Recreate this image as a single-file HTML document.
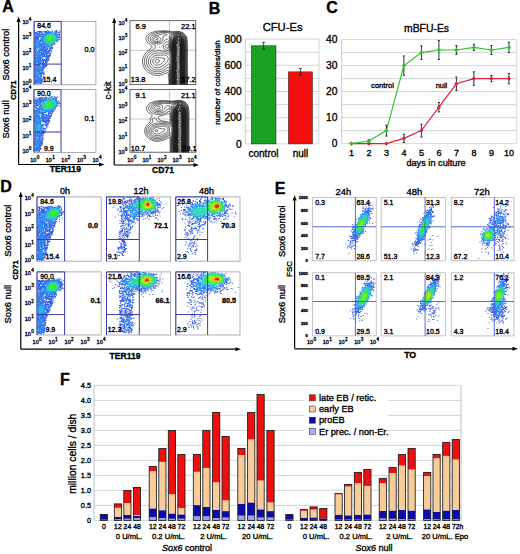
<!DOCTYPE html>
<html><head><meta charset="utf-8"><style>
html,body{margin:0;padding:0;background:#fff;overflow:hidden;width:520px;height:554px;}
svg{display:block;font-family:"Liberation Sans", sans-serif;}
text{stroke:#000;stroke-width:0.34px;}
</style></head><body>
<svg width="520" height="554" viewBox="0 0 520 554">
<defs><filter id="bl" x="-5%" y="-5%" width="110%" height="110%"><feGaussianBlur stdDeviation="0.35"/></filter></defs>
<rect width="520" height="554" fill="#fff"/>
<text x="2.2" y="11.9" font-size="16" font-weight="bold" fill="#000">A</text>
<line x1="18.6" y1="20.6" x2="18.6" y2="164.5" stroke="#000" stroke-width="1.2"/>
<path d="M18.6 16.6 L16.6 22.1 L20.6 22.1Z" fill="#000"/>
<line x1="18.6" y1="164.5" x2="100.5" y2="164.5" stroke="#000" stroke-width="1.2"/>
<path d="M104.5 164.5 L99.0 162.5 L99.0 166.5Z" fill="#000"/>
<text x="8.9" y="54.6" font-size="9.3" text-anchor="middle" transform="rotate(-90 8.9 54.6)">Sox6 control</text>
<text x="9.1" y="119.4" font-size="9.3" text-anchor="middle" transform="rotate(-90 9.1 119.4)">Sox6 null</text>
<text x="16.2" y="90.2" font-size="7.6" font-weight="bold" text-anchor="middle" fill="#000" transform="rotate(-90 16.2 90.2)">CD71</text>
<text x="65.4" y="172.3" font-size="8.6" font-weight="bold" text-anchor="middle" fill="#000">TER119</text>
<g filter="url(#bl)">
<path transform="scale(0.5)" d="M69 62h0m50 0h0m1 2h0m-1 2h0" stroke="rgb(85, 115, 236)" stroke-width="2.4" stroke-linecap="square" fill="none"/>
<path transform="scale(0.5)" d="M104 62h0m13 3h0m2 4h0m0 2h0m0 8h0m-3 3h0m-12 15h0m0 1h0m0 0h0m-1 5h0m-2 4h0m-1 2h0m0 2h0m-6 18h0m-1 2h0m-1 1h0m-3 12h0m-2 9h0m0 1h0m-3 11h0" stroke="rgb(68, 102, 234)" stroke-width="2.4" stroke-linecap="square" fill="none"/>
<path transform="scale(0.5)" d="M113 61h0m-18 1h0m17 0h0m-36 1h0m2 0h0m5 0h0m1 0h0m4 0h0m0 0h0m1 0h0m24 0h0m-29 1h0m6 0h0m-6 1h0m33 3h0m1 7h0m1 0h0m1 0h0m-15 20h0m-1 2h0m-6 4h0m2 0h0m0 0h0m2 0h0m0 3h0m-3 2h0m0 1h0m1 0h0m0 4h0m0 0h0m-1 2h0m-1 5h0m-1 1h0m-2 2h0m2 0h0m-6 4h0m1 0h0m1 1h0m-3 3h0m1 2h0m0 1h0m1 0h0m0 1h0m-3 3h0m-3 10h0m1 0h0m0 1h0m1 0h0m-1 1h0m0 1h0m1 0h0m-3 9h0m0 0h0m1 0h0m0 1h0m-1 2h0m0 1h0m-2 3h0m0 1h0m-12 1h0m0 0h0m0 0h0m4 0h0m5 0h0m2 0h0" stroke="rgb(51, 90, 232)" stroke-width="2.4" stroke-linecap="square" fill="none"/>
<path transform="scale(0.5)" d="M79 63h0m2 0h0m11 0h0m4 0h0m2 0h0m14 0h0m2 0h0m-35 1h0m0 0h0m1 0h0m1 0h0m1 0h0m9 0h0m2 0h0m5 0h0m3 0h0m3 0h0m1 0h0m4 0h0m1 0h0m0 0h0m1 0h0m2 0h0m0 0h0m-43 1h0m1 0h0m0 0h0m2 0h0m7 0h0m3 0h0m10 0h0m3 0h0m2 0h0m-24 1h0m0 0h0m1 0h0m1 0h0m0 0h0m3 0h0m1 0h0m-7 1h0m5 0h0m0 0h0m7 0h0m-14 1h0m13 0h0m-15 1h0m3 0h0m0 0h0m4 0h0m2 0h0m2 0h0m2 0h0m2 0h0m-5 1h0m4 0h0m-11 2h0m0 0h0m8 0h0m1 0h0m-10 1h0m1 0h0m5 0h0m2 0h0m3 0h0m36 0h0m-48 1h0m1 0h0m0 0h0m4 0h0m3 0h0m3 0h0m-8 1h0m1 0h0m2 0h0m42 0h0m-48 1h0m2 0h0m3 0h0m2 0h0m39 0h0m1 0h0m-46 2h0m6 0h0m0 0h0m0 0h0m-1 1h0m38 3h0m-1 1h0m-4 5h0m1 0h0m-4 1h0m-2 2h0m-1 3h0m-4 1h0m4 0h0m-8 1h0m1 0h0m6 0h0m0 0h0m0 0h0m-2 1h0m1 0h0m1 0h0m-9 1h0m1 0h0m0 0h0m1 0h0m4 0h0m2 0h0m1 0h0m-7 1h0m4 0h0m-6 1h0m0 2h0m4 0h0m-5 1h0m3 0h0m2 0h0m0 0h0m1 0h0m-5 1h0m1 1h0m4 0h0m0 0h0m-8 1h0m2 0h0m1 0h0m0 0h0m4 0h0m-6 1h0m4 0h0m0 0h0m-3 1h0m0 0h0m-3 1h0m4 0h0m-4 1h0m0 0h0m5 0h0m3 0h0m1 0h0m-10 1h0m9 0h0m-8 1h0m2 0h0m1 0h0m4 0h0m2 0h0m0 0h0m-11 1h0m2 0h0m1 0h0m6 0h0m-5 1h0m6 1h0m1 0h0m-13 1h0m-2 1h0m9 0h0m4 1h0m-11 1h0m1 0h0m3 0h0m4 0h0m0 0h0m-7 1h0m1 0h0m1 0h0m2 0h0m1 0h0m4 0h0m-1 1h0m2 0h0m-11 1h0m2 0h0m3 0h0m1 0h0m3 0h0m-8 1h0m5 0h0m1 0h0m2 0h0m0 0h0m-8 1h0m1 0h0m6 0h0m0 1h0m1 0h0m-8 1h0m0 0h0m1 0h0m-2 1h0m5 0h0m-3 1h0m-2 1h0m4 0h0m-3 2h0m1 0h0m-2 1h0m1 0h0m1 0h0m1 0h0m1 0h0m-3 1h0m1 0h0m0 1h0m0 0h0m2 0h0m-2 2h0m0 1h0m-1 1h0m-1 5h0m-1 1h0m1 0h0m-1 3h0m0 0h0m1 0h0m1 0h0m0 1h0m-3 4h0m-1 1h0m1 0h0m-1 1h0m0 7h0m1 0h0m0 0h0m1 1h0m0 0h0m-11 3h0m4 0h0m3 0h0m-9 1h0m2 0h0m3 0h0m0 0h0m2 0h0m-9 1h0" stroke="rgb(44, 94, 233)" stroke-width="2.4" stroke-linecap="square" fill="none"/>
<path transform="scale(0.5)" d="M90 65h0m1 0h0m1 0h0m22 0h0m-23 1h0m1 0h0m18 0h0m3 0h0m-41 1h0m1 0h0m3 0h0m17 0h0m18 0h0m-37 1h0m1 0h0m13 0h0m27 1h0m-40 1h0m0 0h0m41 0h0m-43 1h0m0 0h0m1 0h0m1 0h0m11 0h0m28 0h0m-40 1h0m2 0h0m8 0h0m2 0h0m0 0h0m28 0h0m-28 1h0m-2 1h0m-11 3h0m1 0h0m8 0h0m-6 1h0m8 0h0m0 0h0m-14 1h0m1 0h0m0 0h0m1 0h0m4 0h0m6 0h0m1 0h0m33 0h0m-46 1h0m4 0h0m3 0h0m1 0h0m0 0h0m4 0h0m0 0h0m33 0h0m1 0h0m-36 1h0m0 1h0m2 0h0m-2 1h0m1 0h0m5 2h0m-3 2h0m1 0h0m-1 1h0m-1 1h0m2 0h0m0 1h0m0 0h0m2 0h0m-3 1h0m2 0h0m4 0h0m-5 1h0m1 0h0m3 0h0m0 0h0m1 0h0m1 0h0m2 0h0m1 0h0m2 0h0m8 0h0m-17 1h0m0 0h0m0 0h0m10 0h0m0 0h0m1 0h0m-11 1h0m1 0h0m0 0h0m2 0h0m3 0h0m3 0h0m5 0h0m-17 1h0m3 0h0m6 0h0m0 0h0m-11 1h0m3 0h0m2 0h0m1 0h0m1 0h0m2 0h0m0 0h0m1 0h0m0 0h0m-22 1h0m2 0h0m12 0h0m4 0h0m-17 1h0m13 0h0m3 0h0m1 0h0m0 0h0m3 0h0m-8 1h0m2 0h0m4 0h0m4 0h0m-22 1h0m13 0h0m2 0h0m1 0h0m1 0h0m0 0h0m4 0h0m-8 1h0m2 0h0m1 0h0m1 0h0m3 0h0m1 0h0m-4 1h0m1 0h0m-5 1h0m1 0h0m5 0h0m-2 1h0m0 0h0m1 0h0m0 0h0m4 0h0m-9 1h0m0 0h0m8 0h0m1 0h0m-9 1h0m3 0h0m0 0h0m2 0h0m-4 1h0m1 0h0m3 0h0m-5 1h0m2 0h0m1 0h0m-1 1h0m1 0h0m2 0h0m-5 1h0m-1 1h0m4 0h0m8 0h0m1 0h0m-11 1h0m0 0h0m1 0h0m0 0h0m11 0h0m-11 1h0m1 0h0m7 0h0m0 1h0m1 0h0m1 0h0m0 0h0m-11 1h0m0 0h0m9 0h0m2 0h0m-12 1h0m0 0h0m10 0h0m3 0h0m-17 1h0m2 0h0m1 0h0m1 0h0m11 0h0m0 0h0m-13 1h0m12 0h0m-14 1h0m14 0h0m1 0h0m-13 1h0m-1 1h0m2 0h0m1 0h0m1 0h0m-2 1h0m-12 1h0m12 0h0m-12 1h0m11 0h0m-11 1h0m11 0h0m0 0h0m-10 1h0m12 0h0m-12 1h0m10 0h0m3 0h0m-13 2h0m0 0h0m3 0h0m-4 1h0m0 0h0m0 1h0m12 0h0m0 0h0m-11 1h0m0 0h0m0 0h0m-1 1h0m15 0h0m1 0h0m-2 1h0m-1 1h0m-13 1h0m15 0h0m0 0h0m-15 1h0m15 0h0m-1 1h0m1 0h0m1 0h0m-3 1h0m2 0h0m1 0h0m-2 1h0m1 0h0m1 0h0m-16 1h0m12 0h0m4 0h0m-16 1h0m0 1h0m14 0h0m-12 1h0m9 0h0m2 0h0m-13 1h0m0 0h0m12 0h0m1 0h0m1 0h0m-14 1h0m1 0h0m1 0h0m0 0h0m0 0h0m11 1h0m-12 1h0m0 0h0m-2 1h0m11 0h0m1 0h0m1 0h0m1 1h0m-14 1h0m3 0h0m0 0h0m9 0h0m1 0h0m-13 1h0m2 0h0m-1 1h0m2 0h0m0 1h0m0 0h0m10 0h0m-12 1h0m1 0h0m12 2h0m-14 1h0m1 0h0m0 1h0m1 0h0m10 0h0m-11 1h0m0 0h0m10 0h0m1 0h0m3 0h0m-13 1h0m1 0h0m-1 1h0m1 1h0m2 0h0m1 0h0m4 0h0m0 0h0m0 0h0m2 0h0m1 0h0m-11 1h0m0 0h0m8 0h0m1 0h0m0 0h0m0 0h0m-8 1h0" stroke="rgb(43, 111, 235)" stroke-width="2.4" stroke-linecap="square" fill="none"/>
<path transform="scale(0.5)" d="M96 65h0m4 0h0m2 0h0m-4 1h0m2 0h0m2 0h0m1 0h0m2 0h0m3 0h0m0 0h0m2 0h0m0 0h0m0 0h0m0 0h0m-16 1h0m2 0h0m16 0h0m-23 1h0m2 0h0m-5 1h0m2 0h0m1 0h0m2 0h0m23 0h0m-28 1h0m1 0h0m1 0h0m25 0h0m0 0h0m3 3h0m-30 1h0m0 0h0m0 0h0m28 0h0m-29 1h0m1 0h0m29 0h0m-30 2h0m0 1h0m30 0h0m0 0h0m-32 2h0m2 0h0m1 0h0m0 0h0m0 0h0m-15 1h0m2 0h0m1 0h0m10 0h0m1 0h0m1 0h0m0 0h0m-15 1h0m1 0h0m0 0h0m1 0h0m5 0h0m5 0h0m1 0h0m-14 1h0m1 0h0m7 0h0m7 0h0m-16 1h0m1 0h0m0 0h0m2 0h0m5 0h0m1 0h0m2 1h0m5 0h0m1 0h0m0 0h0m1 0h0m-17 1h0m8 0h0m3 0h0m28 0h0m-39 1h0m8 0h0m8 0h0m1 0h0m4 0h0m16 0h0m1 0h0m-27 1h0m6 0h0m0 0h0m3 0h0m2 0h0m1 1h0m-5 1h0m1 0h0m1 0h0m0 0h0m3 0h0m1 0h0m1 0h0m-26 1h0m1 0h0m0 0h0m9 0h0m2 0h0m16 0h0m4 0h0m0 0h0m1 0h0m-33 1h0m2 0h0m1 0h0m8 0h0m17 0h0m0 0h0m0 0h0m1 0h0m-21 1h0m1 0h0m0 0h0m2 0h0m0 0h0m1 0h0m1 0h0m-13 1h0m1 0h0m1 0h0m2 0h0m2 0h0m5 0h0m0 0h0m0 0h0m-10 1h0m2 0h0m1 0h0m0 0h0m0 0h0m1 0h0m0 0h0m1 0h0m0 0h0m1 0h0m0 0h0m3 0h0m-8 1h0m4 0h0m1 1h0m4 0h0m-7 1h0m0 0h0m7 0h0m0 0h0m-10 1h0m1 0h0m2 0h0m5 0h0m1 0h0m0 0h0m2 0h0m-11 1h0m7 0h0m0 0h0m0 0h0m3 0h0m-7 1h0m0 0h0m6 0h0m1 0h0m0 0h0m0 0h0m1 0h0m1 0h0m-13 1h0m3 0h0m0 0h0m0 0h0m0 0h0m5 0h0m0 0h0m1 0h0m1 0h0m-9 1h0m2 0h0m1 0h0m1 0h0m1 0h0m2 0h0m-5 1h0m0 0h0m0 0h0m2 0h0m0 0h0m3 0h0m1 0h0m1 0h0m3 0h0m-11 1h0m1 0h0m9 0h0m-11 1h0m2 0h0m7 0h0m-9 1h0m1 0h0m0 0h0m8 0h0m0 0h0m-9 1h0m0 0h0m3 0h0m5 0h0m2 0h0m1 0h0m-10 1h0m1 0h0m1 0h0m7 0h0m-10 1h0m1 0h0m2 0h0m6 0h0m0 0h0m1 0h0m-11 1h0m1 0h0m1 0h0m1 0h0m5 0h0m0 0h0m2 0h0m1 0h0m-10 1h0m1 0h0m1 0h0m3 0h0m2 0h0m0 0h0m1 0h0m0 0h0m1 0h0m-9 1h0m0 0h0m0 0h0m1 0h0m4 0h0m1 0h0m0 0h0m4 0h0m1 0h0m-6 1h0m1 0h0m3 0h0m0 0h0m2 0h0m-12 1h0m1 0h0m0 0h0m2 0h0m0 0h0m2 0h0m1 0h0m2 0h0m0 0h0m3 0h0m1 0h0m-11 1h0m0 0h0m0 0h0m1 0h0m2 0h0m2 0h0m2 0h0m1 0h0m2 0h0m-10 1h0m0 0h0m2 0h0m1 0h0m2 0h0m0 0h0m3 0h0m-8 2h0m2 0h0m0 0h0m3 0h0m0 0h0m1 0h0m0 0h0m-6 1h0m5 0h0m3 0h0m-9 1h0m0 0h0m3 0h0m1 0h0m0 0h0m2 0h0m1 0h0m1 0h0m-6 1h0m0 0h0m2 0h0m0 0h0m0 0h0m7 0h0m-9 1h0m3 0h0m1 0h0m1 0h0m1 0h0m1 0h0m0 0h0m1 0h0m1 0h0m-7 1h0m1 0h0m2 0h0m1 0h0m1 0h0m1 0h0m0 0h0m1 0h0m0 0h0m-9 1h0m1 0h0m0 0h0m1 0h0m3 0h0m1 0h0m1 0h0m0 1h0m-1 1h0m2 0h0m1 0h0m0 0h0m-2 1h0m-3 1h0m1 0h0m1 0h0m0 0h0m1 0h0m1 0h0m0 0h0m-7 1h0m1 0h0m1 0h0m2 0h0m1 0h0m1 0h0m0 0h0m1 0h0m-7 1h0m1 0h0m2 0h0m1 0h0m2 0h0m1 0h0m0 0h0m-5 1h0m0 0h0m6 0h0m-1 1h0m-8 1h0m1 0h0m8 0h0m1 0h0m-10 1h0m1 0h0m1 0h0m1 0h0m6 0h0m2 0h0m0 0h0m-10 1h0m1 0h0m1 0h0m0 0h0m4 0h0m1 0h0m0 0h0m-8 1h0m0 0h0m1 0h0m6 0h0m4 0h0m-9 1h0m1 0h0m5 0h0m1 0h0m1 0h0m-11 1h0m1 0h0m0 0h0m1 0h0m4 0h0m0 0h0m3 0h0m1 0h0m2 0h0m0 0h0m-7 1h0m2 0h0m1 0h0m2 0h0m1 0h0m-9 1h0m1 0h0m1 0h0m3 0h0m0 0h0m1 0h0m3 0h0m1 0h0m-8 1h0m0 0h0m2 0h0m2 0h0m1 0h0m0 0h0m-6 1h0m1 0h0m2 0h0m-4 1h0m1 0h0m4 0h0m0 0h0m0 0h0m2 0h0m-3 1h0m0 0h0m3 0h0m-3 1h0m0 0h0m3 0h0m0 0h0m-5 1h0m0 0h0m1 0h0m3 0h0m0 0h0m1 0h0m2 0h0m-7 1h0m5 0h0m1 0h0m1 0h0m-8 1h0m2 0h0m5 0h0m0 0h0m-7 1h0m0 0h0m0 0h0m3 0h0m1 0h0m0 0h0m1 0h0m1 0h0m1 0h0m-5 1h0m1 0h0m-2 1h0m0 0h0m2 0h0m-2 1h0m0 0h0m3 0h0m-2 1h0m3 0h0m1 0h0m0 0h0m-6 1h0m0 0h0m4 0h0m0 0h0m1 0h0m0 0h0m0 0h0m1 0h0m0 0h0m-5 1h0m1 0h0m2 0h0m0 0h0m1 0h0m1 0h0m1 0h0m2 0h0m-9 1h0m0 0h0m5 0h0m0 0h0m0 0h0m1 0h0m1 0h0m1 0h0m-7 1h0m0 0h0m7 0h0m-7 1h0m1 0h0m2 0h0m1 0h0m1 0h0m0 0h0m3 0h0m-10 1h0m0 0h0m1 0h0m0 0h0m5 0h0m-5 1h0m1 0h0m1 0h0m3 0h0m2 0h0m-7 1h0m0 0h0m2 0h0m1 0h0m1 0h0m1 1h0m0 1h0m0 0h0m0 0h0" stroke="rgb(41, 127, 237)" stroke-width="2.4" stroke-linecap="square" fill="none"/>
<path transform="scale(0.5)" d="M95 67h0m1 0h0m4 0h0m-7 1h0m0 0h0m0 0h0m4 0h0m0 0h0m1 0h0m2 0h0m8 0h0m0 0h0m1 0h0m2 1h0m1 0h0m-24 1h0m1 0h0m0 0h0m2 0h0m19 0h0m2 0h0m-21 1h0m21 0h0m1 0h0m-25 2h0m-2 1h0m1 2h0m1 0h0m0 1h0m0 0h0m-2 1h0m2 0h0m0 1h0m0 0h0m24 1h0m2 0h0m0 0h0m-3 1h0m0 0h0m1 0h0m1 0h0m-25 1h0m0 0h0m-15 1h0m2 0h0m14 0h0m-17 1h0m2 0h0m2 0h0m0 0h0m11 0h0m0 0h0m21 0h0m-38 1h0m1 0h0m3 0h0m0 0h0m4 0h0m0 0h0m9 0h0m21 0h0m0 0h0m-36 1h0m1 0h0m0 0h0m1 0h0m3 0h0m1 0h0m0 0h0m12 0h0m1 0h0m17 0h0m-37 1h0m1 0h0m2 0h0m3 0h0m0 0h0m1 0h0m1 0h0m0 0h0m10 0h0m2 0h0m0 0h0m0 0h0m14 0h0m-34 1h0m2 0h0m0 0h0m0 0h0m1 0h0m3 0h0m1 0h0m15 0h0m1 0h0m11 0h0m-32 1h0m3 0h0m1 0h0m1 0h0m2 0h0m0 0h0m20 0h0m0 0h0m1 0h0m0 0h0m-30 1h0m0 0h0m2 0h0m0 0h0m4 0h0m1 0h0m1 0h0m18 0h0m1 0h0m1 0h0m2 0h0m1 0h0m0 0h0m2 0h0m0 0h0m-32 1h0m0 0h0m1 0h0m3 0h0m1 0h0m0 0h0m-4 1h0m2 0h0m3 0h0m-5 1h0m1 0h0m2 11h0m0 0h0m0 0h0m0 1h0m1 0h0m-2 1h0m0 0h0m0 0h0m3 0h0m-4 1h0m0 0h0m1 0h0m3 0h0m-3 1h0m1 0h0m2 0h0m-3 1h0m0 1h0m3 0h0m-4 1h0m1 0h0m3 20h0m-1 1h0m1 0h0m0 0h0m-3 1h0m2 1h0m1 0h0m-3 1h0m1 0h0m1 0h0m-1 1h0m1 0h0m0 0h0m-1 1h0m2 0h0m-3 1h0m1 0h0m-2 1h0m2 0h0" stroke="rgb(40, 143, 239)" stroke-width="2.4" stroke-linecap="square" fill="none"/>
<path transform="scale(0.5)" d="M103 67h0m5 0h0m0 0h0m-6 1h0m1 0h0m0 0h0m1 0h0m4 0h0m-13 1h0m1 0h0m8 0h0m0 0h0m1 0h0m1 0h0m1 0h0m1 0h0m-15 1h0m1 0h0m0 0h0m0 0h0m-5 1h0m20 0h0m2 0h0m1 0h0m0 0h0m-22 1h0m20 0h0m1 0h0m1 0h0m-23 1h0m22 0h0m2 0h0m0 0h0m-24 1h0m24 0h0m0 0h0m-23 1h0m22 1h0m0 0h0m0 0h0m2 0h0m-2 1h0m1 0h0m1 1h0m-25 3h0m0 1h0m1 0h0m-1 1h0m3 0h0m-2 1h0m1 0h0m0 1h0m1 1h0m1 0h0m-18 1h0m18 0h0m4 0h0m1 0h0m-24 1h0m1 0h0m0 0h0m0 0h0m1 0h0m19 0h0m2 0h0m5 0h0m1 0h0m1 0h0m-29 1h0m28 0h0" stroke="rgb(42, 163, 231)" stroke-width="2.4" stroke-linecap="square" fill="none"/>
<path transform="scale(0.5)" d="M96 69h0m2 0h0m1 0h0m6 0h0m3 0h0m-9 1h0m0 0h0m0 0h0m7 0h0m1 0h0m0 0h0m1 0h0m0 1h0m1 0h0m1 0h0m-18 1h0m0 0h0m17 0h0m1 0h0m-18 1h0m18 0h0m1 1h0m0 0h0m-22 1h0m1 0h0m-2 2h0m1 0h0m0 0h0m1 0h0m20 0h0m-21 1h0m22 0h0m1 0h0m0 0h0m-2 1h0m0 0h0m1 0h0m1 0h0m0 0h0m-24 1h0m0 0h0m24 0h0m-22 1h0m1 0h0m1 0h0m17 0h0m-18 1h0m1 0h0m17 0h0m0 0h0m-18 1h0m16 0h0m0 0h0m1 0h0m2 0h0m-17 1h0m13 0h0m2 0h0m-4 1h0m-10 1h0m1 0h0m0 0h0m1 0h0m9 0h0m-10 1h0m1 0h0m3 0h0m1 0h0m0 0h0m1 0h0m0 0h0m0 0h0m1 0h0m3 0h0m-7 1h0m1 0h0m2 1h0" stroke="rgb(45, 187, 217)" stroke-width="2.4" stroke-linecap="square" fill="none"/>
<path transform="scale(0.5)" d="M100 69h0m0 0h0m1 0h0m1 0h0m2 0h0m0 0h0m-3 1h0m1 0h0m0 0h0m1 0h0m0 0h0m0 0h0m0 0h0m1 0h0m0 0h0m-1 1h0m-9 1h0m0 0h0m2 0h0m10 0h0m1 0h0m-17 1h0m1 0h0m3 0h0m0 0h0m15 0h0m1 0h0m0 0h0m0 0h0m-19 1h0m1 0h0m17 0h0m-18 1h0m0 0h0m1 0h0m17 0h0m1 0h0m1 0h0m-1 1h0m1 0h0m0 0h0m0 0h0m1 0h0m-21 3h0m17 0h0m1 0h0m0 0h0m-19 1h0m2 0h0m16 0h0m1 0h0m0 0h0m-18 1h0m4 2h0m0 1h0m1 0h0m-1 1h0m2 0h0m1 0h0m1 0h0m0 0h0m0 0h0m2 0h0m0 0h0m1 0h0m1 0h0m0 0h0m1 0h0m-7 1h0m1 0h0m3 0h0m3 0h0m-5 1h0m4 0h0" stroke="rgb(49, 210, 202)" stroke-width="2.4" stroke-linecap="square" fill="none"/>
<path transform="scale(0.5)" d="M97 71h0m5 0h0m1 0h0m0 0h0m2 0h0m1 0h0m-9 1h0m1 0h0m0 0h0m1 0h0m2 0h0m0 0h0m0 0h0m0 0h0m1 0h0m1 0h0m0 0h0m0 0h0m1 0h0m1 0h0m-12 1h0m1 0h0m0 0h0m4 0h0m4 0h0m1 0h0m4 0h0m1 0h0m-16 1h0m0 0h0m1 0h0m0 0h0m0 0h0m1 0h0m12 0h0m0 0h0m2 0h0m-18 1h0m3 0h0m0 0h0m0 0h0m15 0h0m1 0h0m0 0h0m-17 1h0m17 0h0m0 0h0m0 0h0m0 0h0m-18 1h0m0 0h0m0 0h0m1 0h0m17 0h0m1 0h0m-18 1h0m16 0h0m1 0h0m-16 3h0m0 0h0m0 0h0m0 0h0m2 0h0m13 0h0m-15 1h0m0 0h0m0 0h0m0 0h0m2 0h0m0 0h0m11 0h0m0 0h0m1 0h0m-10 1h0m0 0h0m1 0h0m6 0h0m1 0h0m1 0h0m-9 1h0m7 0h0m1 0h0m0 0h0m0 0h0m-7 1h0" stroke="rgb(46, 220, 153)" stroke-width="2.4" stroke-linecap="square" fill="none"/>
<path transform="scale(0.5)" d="M97 73h0m0 0h0m6 0h0m2 0h0m-11 1h0m0 0h0m1 0h0m1 0h0m0 0h0m0 0h0m1 0h0m0 0h0m1 0h0m0 0h0m7 0h0m0 0h0m0 0h0m0 0h0m-13 1h0m1 0h0m1 0h0m0 0h0m0 0h0m1 0h0m9 0h0m1 0h0m0 0h0m1 0h0m0 0h0m0 0h0m-13 1h0m1 0h0m0 0h0m10 0h0m0 0h0m1 0h0m0 0h0m-12 1h0m1 0h0m12 0h0m0 0h0m1 0h0m0 0h0m0 0h0m1 0h0m-15 1h0m0 0h0m1 0h0m0 0h0m12 0h0m1 0h0m1 0h0m-15 1h0m0 0h0m0 0h0m1 0h0m0 0h0m0 0h0m1 0h0m0 0h0m0 0h0m12 0h0m0 0h0m1 0h0m-13 1h0m0 0h0m13 0h0m0 0h0m-16 1h0m3 0h0m0 0h0m1 0h0m2 0h0m0 0h0m7 0h0m0 0h0m0 0h0m0 0h0m1 0h0m1 0h0m1 0h0m-12 1h0m1 0h0m0 0h0m1 0h0m7 0h0m0 0h0m1 0h0m-9 1h0m0 0h0m2 0h0m1 0h0m0 0h0m1 0h0m0 0h0m2 0h0m1 0h0m1 0h0m0 0h0m-6 1h0m0 0h0m0 0h0m1 0h0m0 0h0m1 0h0m2 0h0m1 0h0m-6 1h0m5 0h0" stroke="rgb(42, 227, 95)" stroke-width="2.4" stroke-linecap="square" fill="none"/>
<path transform="scale(0.5)" d="M98 73h0m2 0h0m0 0h0m0 0h0m2 0h0m-3 1h0m0 0h0m1 0h0m0 0h0m1 0h0m0 0h0m0 0h0m0 0h0m1 0h0m0 0h0m-8 1h0m2 0h0m4 0h0m1 0h0m0 0h0m0 0h0m0 0h0m1 0h0m0 0h0m-7 1h0m0 0h0m0 0h0m0 0h0m1 0h0m0 0h0m0 0h0m4 0h0m1 0h0m0 0h0m0 0h0m2 0h0m1 0h0m0 0h0m-10 1h0m1 0h0m0 0h0m0 0h0m0 0h0m0 0h0m1 0h0m7 0h0m1 0h0m0 0h0m0 0h0m2 0h0m-11 1h0m1 0h0m0 0h0m6 0h0m1 0h0m0 0h0m0 0h0m1 0h0m1 0h0m0 0h0m0 0h0m-9 1h0m2 0h0m1 0h0m0 0h0m1 0h0m2 0h0m0 0h0m1 0h0m0 0h0m0 0h0m0 0h0m-5 1h0m0 0h0m5 0h0m1 0h0m0 0h0m0 0h0m0 0h0m1 0h0m0 0h0m0 0h0m0 0h0m0 0h0m-7 1h0m1 0h0m1 0h0m0 0h0m1 0h0m0 0h0m0 0h0m0 0h0m0 0h0m1 0h0m1 0h0m0 0h0m0 0h0m0 0h0m1 0h0m0 0h0m0 0h0m-5 1h0m1 0h0m1 0h0m0 0h0m1 0h0m1 0h0m0 0h0m-4 1h0m3 0h0" stroke="rgb(51, 232, 57)" stroke-width="2.4" stroke-linecap="square" fill="none"/>
<path transform="scale(0.5)" d="M97 75h0m0 0h0m0 0h0m3 0h0m0 0h0m0 0h0m-4 1h0m0 0h0m2 0h0m0 0h0m0 0h0m1 0h0m1 0h0m0 0h0m0 0h0m-4 1h0m0 0h0m2 0h0m0 0h0m0 0h0m1 0h0m0 0h0m1 0h0m1 0h0m-5 1h0m1 0h0m1 0h0m0 0h0m1 0h0m1 0h0m0 0h0m0 0h0m0 0h0m1 0h0m0 0h0m1 0h0m0 0h0m-5 1h0m4 0h0m1 0h0m-2 1h0m0 0h0m1 0h0m0 0h0m1 0h0m0 0h0m0 1h0" stroke="rgb(78, 233, 52)" stroke-width="2.4" stroke-linecap="square" fill="none"/>
</g>
<rect x="34.10" y="21.40" width="61.80" height="63.40" fill="none" stroke="#9a9aa8" stroke-width="0.8"/>
<line x1="34.1" y1="21.4" x2="61.2" y2="21.4" stroke="#3a3aa8" stroke-width="1.0"/>
<line x1="34.1" y1="21.4" x2="34.1" y2="84.8" stroke="#3a3aa8" stroke-width="1.0"/>
<line x1="61.2" y1="21.4" x2="61.2" y2="84.8" stroke="#3a3aa8" stroke-width="1.0"/>
<line x1="34.1" y1="64.1" x2="61.2" y2="64.1" stroke="#3a3aa8" stroke-width="1.0"/>
<text x="22.4" y="23.8" font-size="5.5" fill="#111">10<tspan dx="0.3" dy="-2.75" font-size="4.67">4</tspan></text>
<text x="22.4" y="39.175000000000004" font-size="5.5" fill="#111">10<tspan dx="0.3" dy="-2.75" font-size="4.67">3</tspan></text>
<text x="22.4" y="54.550000000000004" font-size="5.5" fill="#111">10<tspan dx="0.3" dy="-2.75" font-size="4.67">2</tspan></text>
<text x="22.4" y="69.925" font-size="5.5" fill="#111">10<tspan dx="0.3" dy="-2.75" font-size="4.67">1</tspan></text>
<text x="22.4" y="85.3" font-size="5.5" fill="#111">10<tspan dx="0.3" dy="-2.75" font-size="4.67">0</tspan></text>
<g filter="url(#bl)">
<path transform="scale(0.5)" d="M120 213h0" stroke="rgb(102, 127, 238)" stroke-width="2.4" stroke-linecap="square" fill="none"/>
<path transform="scale(0.5)" d="M99 190h0m22 16h0m-29 51h0" stroke="rgb(85, 115, 236)" stroke-width="2.4" stroke-linecap="square" fill="none"/>
<path transform="scale(0.5)" d="M99 192h0m10 1h0m6 1h0m-42 2h0m-2 2h0m-2 1h0m50 6h0m-1 5h0m-8 10h0m-12 21h0m1 1h0m-1 2h0m-2 4h0m0 1h0m-2 3h0m0 0h0m0 3h0m-3 3h0m-1 5h0m0 1h0m-4 7h0m0 3h0m0 5h0" stroke="rgb(68, 102, 234)" stroke-width="2.4" stroke-linecap="square" fill="none"/>
<path transform="scale(0.5)" d="M103 193h0m2 1h0m-23 1h0m1 0h0m8 0h0m10 0h0m10 0h0m2 0h0m-35 1h0m2 0h0m-1 1h0m38 5h0m-48 1h0m47 0h0m0 4h0m2 0h0m-49 4h0m45 0h0m-42 1h0m-3 1h0m0 1h0m1 0h0m2 0h0m39 4h0m0 0h0m-8 12h0m-3 1h0m2 1h0m0 0h0m-1 1h0m-2 1h0m0 0h0m2 0h0m-3 1h0m0 2h0m2 0h0m-3 1h0m-1 2h0m2 0h0m0 1h0m1 0h0m-1 2h0m-1 1h0m-10 2h0m9 0h0m-1 1h0m-1 1h0m1 0h0m1 0h0m-10 1h0m0 0h0m4 0h0m1 1h0m3 0h0m-2 1h0m0 0h0m1 0h0m-6 1h0m0 0h0m1 0h0m0 0h0m5 1h0m-6 3h0m2 1h0m-1 1h0m-1 1h0m3 2h0m-1 2h0m0 1h0m0 0h0m-1 1h0m-1 2h0m1 0h0m-3 3h0m0 6h0m1 0h0m-2 2h0m1 1h0m-1 1h0m1 4h0m-1 3h0m1 0h0m-3 10h0m0 0h0m-1 2h0m-2 4h0" stroke="rgb(51, 90, 232)" stroke-width="2.4" stroke-linecap="square" fill="none"/>
<path transform="scale(0.5)" d="M85 195h0m7 0h0m21 0h0m-29 1h0m4 0h0m1 0h0m1 0h0m2 0h0m2 0h0m19 0h0m0 0h0m-37 1h0m9 0h0m-9 1h0m5 0h0m-6 1h0m4 0h0m3 0h0m-8 1h0m-4 1h0m3 0h0m0 0h0m2 0h0m-3 1h0m-2 1h0m1 0h0m1 0h0m1 1h0m-4 2h0m2 0h0m1 0h0m-3 1h0m1 0h0m2 0h0m1 0h0m1 0h0m0 0h0m-3 1h0m2 0h0m1 0h0m4 0h0m-5 1h0m5 0h0m-3 1h0m-3 1h0m2 0h0m1 0h0m2 0h0m38 0h0m-37 1h0m0 1h0m-5 2h0m-1 1h0m1 0h0m-1 1h0m0 0h0m1 0h0m-4 3h0m35 3h0m3 0h0m-3 1h0m1 2h0m-3 1h0m1 0h0m-6 1h0m-5 1h0m1 0h0m-1 1h0m0 0h0m1 0h0m4 0h0m1 0h0m4 0h0m-7 1h0m0 0h0m7 0h0m-10 1h0m5 0h0m-3 1h0m0 0h0m5 0h0m-6 1h0m0 1h0m3 0h0m1 0h0m-2 2h0m-2 1h0m-1 1h0m1 0h0m0 1h0m2 0h0m-3 1h0m-1 1h0m2 0h0m1 0h0m1 0h0m-8 1h0m0 0h0m1 0h0m1 0h0m6 0h0m-5 1h0m2 0h0m-2 1h0m1 0h0m2 0h0m-2 1h0m2 0h0m0 0h0m-8 5h0m-1 1h0m2 9h0m-1 1h0m1 1h0m-2 1h0m3 0h0m0 0h0m-3 1h0m3 0h0m0 0h0m-2 1h0m-1 1h0m2 1h0m-4 2h0m0 1h0m1 0h0m0 1h0m1 2h0m-15 4h0m14 0h0m0 7h0m-1 1h0m1 2h0m0 1h0m1 0h0m-2 1h0m1 0h0m1 0h0m-2 1h0m-2 4h0m1 3h0m0 0h0m0 1h0m0 0h0m-3 1h0m1 0h0m-5 1h0m3 0h0m1 0h0m-8 1h0m1 0h0m1 0h0m1 0h0m1 0h0m2 0h0" stroke="rgb(44, 94, 233)" stroke-width="2.4" stroke-linecap="square" fill="none"/>
<path transform="scale(0.5)" d="M97 196h0m0 0h0m0 0h0m0 0h0m3 0h0m2 0h0m0 0h0m6 0h0m2 0h0m0 0h0m1 0h0m-26 1h0m4 0h0m18 0h0m-24 1h0m0 0h0m8 0h0m0 0h0m21 0h0m0 0h0m1 0h0m0 0h0m-32 1h0m2 0h0m3 0h0m0 0h0m3 0h0m1 0h0m22 0h0m0 0h0m1 0h0m-33 1h0m0 0h0m4 0h0m1 0h0m3 0h0m-12 1h0m1 0h0m2 0h0m1 0h0m2 0h0m1 0h0m4 0h0m1 0h0m-14 1h0m1 0h0m2 0h0m2 0h0m2 0h0m3 0h0m-8 1h0m4 0h0m0 0h0m1 0h0m0 0h0m1 0h0m2 0h0m30 0h0m-38 1h0m4 0h0m1 0h0m1 0h0m32 0h0m-39 1h0m2 0h0m0 0h0m1 0h0m2 0h0m0 0h0m35 0h0m-35 1h0m-1 1h0m0 0h0m0 0h0m2 0h0m-1 2h0m1 2h0m32 0h0m-33 2h0m1 0h0m31 0h0m1 0h0m-35 2h0m0 1h0m2 0h0m-6 1h0m1 0h0m1 0h0m3 0h0m-6 1h0m35 0h0m-32 1h0m-6 1h0m37 0h0m-35 1h0m1 0h0m32 0h0m-36 1h0m0 0h0m2 0h0m0 0h0m33 0h0m1 0h0m0 0h0m-36 1h0m3 0h0m21 0h0m1 0h0m10 0h0m-16 1h0m1 0h0m0 0h0m3 0h0m1 0h0m0 0h0m4 0h0m5 0h0m-33 1h0m15 0h0m0 0h0m2 0h0m1 0h0m2 0h0m2 0h0m6 0h0m0 0h0m-28 1h0m1 0h0m13 0h0m2 0h0m0 0h0m1 0h0m0 0h0m11 0h0m1 0h0m1 0h0m0 0h0m1 0h0m1 0h0m0 0h0m-18 1h0m1 0h0m13 0h0m1 0h0m2 0h0m1 0h0m0 0h0m1 0h0m1 0h0m0 0h0m-21 1h0m1 0h0m3 0h0m1 0h0m1 0h0m-3 1h0m3 0h0m2 0h0m0 0h0m-5 1h0m1 0h0m1 1h0m-4 1h0m2 0h0m0 0h0m1 0h0m1 0h0m1 0h0m-5 1h0m0 0h0m4 0h0m1 0h0m1 0h0m-6 1h0m2 0h0m2 0h0m2 0h0m1 0h0m-7 1h0m2 0h0m5 0h0m1 0h0m0 0h0m-7 1h0m1 0h0m0 0h0m3 0h0m1 0h0m-8 1h0m3 0h0m0 0h0m2 0h0m1 0h0m2 0h0m2 0h0m0 0h0m-6 1h0m0 0h0m3 0h0m2 0h0m-5 1h0m1 0h0m0 0h0m-2 1h0m1 0h0m2 0h0m1 0h0m0 0h0m0 0h0m-8 1h0m3 0h0m4 0h0m3 0h0m-10 1h0m5 0h0m1 0h0m-17 1h0m0 0h0m12 0h0m4 0h0m1 0h0m3 0h0m-8 1h0m-12 1h0m13 0h0m-2 1h0m-10 1h0m10 0h0m3 2h0m0 1h0m1 0h0m0 4h0m2 3h0m0 0h0m-3 3h0m0 1h0m-12 1h0m0 0h0m12 0h0m-14 1h0m2 0h0m13 1h0m-14 1h0m-1 1h0m0 0h0m13 0h0m1 0h0m0 0h0m-3 2h0m2 0h0m2 0h0m-15 1h0m0 1h0m12 0h0m-12 1h0m2 0h0m-1 1h0m0 1h0m1 0h0m0 0h0m1 0h0m8 0h0m-10 1h0m0 0h0m0 1h0m11 0h0m-11 1h0m1 0h0m2 0h0m7 0h0m-8 1h0m1 0h0m7 0h0m0 0h0m0 0h0m0 0h0m-9 1h0m0 1h0m-1 1h0m1 0h0m9 0h0m4 0h0m-14 1h0m1 0h0m9 0h0m2 0h0m1 0h0m1 0h0m-14 1h0m0 0h0m4 0h0m6 0h0m3 0h0m1 0h0m-13 1h0m1 0h0m1 0h0m1 0h0m8 0h0m-13 1h0m11 0h0m1 0h0m3 0h0m-13 1h0m12 0h0m-14 1h0m11 0h0m1 1h0m1 1h0m-2 2h0m0 0h0m1 1h0m-11 1h0m11 1h0m-12 3h0m0 0h0m1 1h0m-1 1h0m10 0h0m-9 1h0m8 0h0m-8 1h0m0 0h0m1 0h0m2 0h0m1 0h0m2 0h0m1 0h0m0 0h0m1 0h0m-9 1h0m0 0h0m3 0h0m2 0h0" stroke="rgb(43, 111, 235)" stroke-width="2.4" stroke-linecap="square" fill="none"/>
<path transform="scale(0.5)" d="M94 197h0m13 0h0m0 0h0m-15 1h0m17 0h0m1 0h0m1 0h0m1 0h0m-19 1h0m13 0h0m1 0h0m6 0h0m-23 1h0m22 0h0m1 0h0m-23 1h0m2 0h0m-6 1h0m26 0h0m0 0h0m1 0h0m0 0h0m-26 1h0m25 0h0m-30 2h0m3 0h0m0 0h0m28 2h0m-31 1h0m32 0h0m-31 2h0m0 0h0m29 0h0m1 0h0m-31 2h0m1 0h0m0 0h0m0 1h0m-1 1h0m1 0h0m0 0h0m28 0h0m-3 1h0m2 0h0m1 0h0m-29 1h0m0 0h0m1 0h0m0 0h0m26 0h0m-27 1h0m-4 1h0m1 0h0m3 0h0m1 0h0m23 0h0m-28 1h0m0 0h0m1 0h0m2 0h0m1 0h0m1 0h0m2 0h0m-11 1h0m1 0h0m0 0h0m0 0h0m0 0h0m2 0h0m1 0h0m2 0h0m1 0h0m3 0h0m1 0h0m1 0h0m18 0h0m-31 1h0m1 0h0m0 0h0m2 0h0m1 0h0m8 0h0m1 0h0m1 0h0m3 0h0m12 0h0m2 0h0m1 0h0m-30 1h0m3 0h0m1 0h0m9 0h0m1 0h0m0 0h0m3 0h0m1 0h0m2 0h0m4 0h0m4 0h0m-32 1h0m3 0h0m4 0h0m1 0h0m3 0h0m2 0h0m7 0h0m1 0h0m0 0h0m5 0h0m3 0h0m3 0h0m-20 1h0m0 0h0m16 0h0m2 0h0m0 0h0m-30 1h0m3 0h0m6 0h0m3 0h0m-13 1h0m0 0h0m2 0h0m6 0h0m0 0h0m3 0h0m-10 1h0m0 0h0m8 0h0m0 0h0m-9 2h0m1 0h0m0 0h0m0 0h0m6 0h0m0 0h0m-6 1h0m1 0h0m1 0h0m4 0h0m0 0h0m-7 1h0m2 0h0m1 0h0m3 0h0m2 0h0m1 0h0m0 0h0m1 0h0m-11 1h0m1 0h0m2 0h0m0 0h0m5 0h0m1 0h0m-9 1h0m3 0h0m1 0h0m0 0h0m2 0h0m2 0h0m2 0h0m-9 1h0m0 0h0m2 0h0m4 0h0m3 0h0m-9 1h0m4 0h0m2 0h0m3 0h0m1 0h0m-11 1h0m0 0h0m0 1h0m0 0h0m8 0h0m0 0h0m1 0h0m1 0h0m-9 1h0m8 0h0m2 0h0m1 0h0m1 0h0m-13 1h0m9 0h0m1 0h0m1 0h0m-11 1h0m1 0h0m1 0h0m1 0h0m1 0h0m5 0h0m1 0h0m1 0h0m-11 1h0m1 0h0m0 0h0m2 0h0m2 0h0m4 0h0m2 0h0m-9 1h0m1 0h0m2 0h0m5 0h0m0 0h0m1 0h0m-2 1h0m-6 1h0m6 1h0m2 0h0m-9 1h0m9 0h0m-9 1h0m10 1h0m-11 1h0m1 0h0m0 0h0m0 0h0m10 0h0m0 0h0m-12 1h0m1 0h0m10 0h0m1 0h0m0 0h0m2 2h0m-1 2h0m1 0h0m-14 1h0m13 0h0m1 1h0m1 0h0m-15 1h0m0 0h0m1 0h0m1 0h0m12 0h0m-1 1h0m1 0h0m0 0h0m-12 1h0m-1 1h0m2 0h0m8 1h0m1 1h0m-10 1h0m1 1h0m0 0h0m1 1h0m0 0h0m0 0h0m-3 1h0m1 0h0m8 0h0m0 0h0m1 0h0m-9 1h0m7 0h0m1 0h0m1 0h0m-8 1h0m6 0h0m-5 2h0m0 0h0m5 0h0m-6 1h0m0 0h0m1 0h0m1 0h0m1 0h0m1 0h0m2 0h0m1 0h0m-7 1h0m5 0h0m0 0h0m1 0h0m1 0h0m-4 1h0m2 0h0m-3 1h0m0 0h0m2 0h0m0 0h0m1 0h0m0 0h0m1 0h0m0 1h0m1 0h0m0 0h0m0 1h0m-2 1h0m0 0h0m1 0h0m0 0h0m1 0h0m1 0h0m-6 1h0m0 0h0m3 0h0m-1 1h0m3 0h0m0 0h0m-5 1h0m3 0h0m1 0h0m0 0h0m0 0h0m1 0h0m-3 1h0m0 0h0m1 0h0m1 0h0m-3 1h0m1 0h0m3 0h0m-5 1h0m-2 1h0m4 0h0m1 0h0m1 0h0m1 0h0m0 0h0m0 0h0m1 0h0m-9 1h0m4 0h0m1 0h0m1 0h0m0 0h0m-7 1h0m5 0h0m0 0h0m2 0h0m1 0h0m-8 1h0m1 0h0m0 0h0m1 0h0m2 0h0m1 0h0m3 0h0m1 0h0m0 0h0m-9 1h0m0 0h0m1 0h0m2 0h0m6 0h0m-6 1h0m-4 1h0m1 0h0m0 0h0m0 0h0m2 0h0m2 0h0m5 0h0m-10 1h0m1 0h0m0 0h0m0 0h0m3 0h0m5 0h0m1 0h0m-1 1h0m0 0h0m2 0h0m-5 1h0m3 0h0m1 0h0m1 0h0m-10 1h0m2 0h0m0 0h0m0 0h0m4 0h0m2 0h0m1 0h0m-5 1h0m0 0h0m2 0h0m1 0h0m3 0h0m-8 1h0m0 0h0m0 0h0m0 0h0m2 0h0m3 0h0m1 0h0m1 0h0m-8 1h0m0 0h0m0 0h0m4 0h0m1 0h0m1 0h0m2 0h0m-6 1h0m3 0h0m0 0h0m-5 1h0m2 0h0" stroke="rgb(41, 127, 237)" stroke-width="2.4" stroke-linecap="square" fill="none"/>
<path transform="scale(0.5)" d="M97 197h0m8 0h0m-9 1h0m1 0h0m1 0h0m1 0h0m4 0h0m0 0h0m1 0h0m1 0h0m-6 1h0m0 0h0m1 0h0m2 0h0m1 0h0m-11 1h0m1 0h0m19 0h0m-19 1h0m0 0h0m18 0h0m-23 3h0m25 0h0m-26 1h0m0 0h0m25 0h0m0 1h0m1 0h0m-27 1h0m26 0h0m-3 7h0m0 1h0m-3 1h0m0 0h0m0 1h0m1 0h0m-23 1h0m1 0h0m20 0h0m0 0h0m-5 1h0m0 0h0m1 0h0m1 0h0m0 0h0m-15 1h0m2 0h0m7 0h0m0 0h0m1 0h0m2 0h0m2 0h0m3 0h0m-18 1h0m2 0h0m8 0h0m1 0h0m4 0h0m-24 1h0m0 0h0m-2 1h0m1 0h0m2 0h0m-2 1h0m1 0h0m2 0h0m0 0h0m1 0h0m-5 1h0m1 0h0m0 0h0m1 0h0m1 0h0m1 0h0m-5 1h0m1 0h0m-1 1h0m0 0h0m0 0h0m2 0h0m1 0h0m-5 1h0m2 0h0m2 0h0m0 0h0m1 0h0m-5 1h0m3 0h0m2 0h0m0 0h0m-3 1h0m1 0h0m-1 3h0m-1 1h0m0 1h0m0 0h0m-3 1h0m1 0h0m1 0h0m2 0h0m1 0h0m-5 1h0m2 0h0m1 0h0m0 0h0m1 0h0m0 0h0m2 0h0m-3 1h0m1 0h0m0 0h0m0 0h0m-1 1h0m3 0h0m1 0h0m0 0h0m0 0h0m0 1h0m0 0h0m-3 2h0m0 0h0m2 0h0m-2 1h0m1 0h0m2 0h0m0 0h0m-2 1h0m1 0h0m2 0h0m-5 1h0m1 0h0m-2 1h0m1 0h0m1 0h0m1 0h0m1 0h0m1 0h0m-4 1h0m1 0h0m2 0h0m0 0h0m1 0h0m2 0h0m-7 1h0m1 0h0m1 0h0m0 0h0m1 0h0m1 0h0m2 0h0m0 0h0m1 0h0m0 0h0m-7 1h0m1 0h0m0 0h0m1 0h0m-4 1h0m3 0h0m-2 1h0m-1 1h0m1 0h0m1 0h0m8 0h0m-9 1h0m0 1h0m0 1h0m1 0h0m-2 1h0m1 0h0m0 1h0m2 1h0m8 0h0m0 1h0m-9 1h0m0 1h0m2 0h0m1 1h0m3 0h0m1 0h0m0 0h0m0 0h0m-3 1h0m1 0h0m-3 1h0m1 0h0m0 0h0m1 0h0m1 0h0m0 0h0m2 0h0m-4 1h0m1 0h0m0 0h0m2 0h0m1 0h0m1 0h0m-7 1h0m1 0h0m0 0h0m0 0h0m3 0h0m-5 1h0m3 0h0m3 0h0m-6 1h0m1 0h0m1 0h0m2 0h0m0 0h0m-4 1h0m1 0h0m4 0h0m-3 1h0m1 0h0m0 0h0m2 0h0m0 0h0m-3 1h0m3 0h0m0 18h0m0 0h0m-2 1h0m0 0h0m2 0h0m0 0h0m-3 1h0m2 0h0m0 0h0m-2 1h0m0 0h0m1 0h0m0 0h0m2 0h0m-2 1h0m0 0h0m1 0h0" stroke="rgb(40, 143, 239)" stroke-width="2.4" stroke-linecap="square" fill="none"/>
<path transform="scale(0.5)" d="M108 199h0m-14 1h0m13 0h0m0 0h0m-14 1h0m17 0h0m0 0h0m0 0h0m-17 1h0m17 0h0m1 0h0m1 0h0m-19 1h0m19 0h0m-22 1h0m2 0h0m0 0h0m18 0h0m0 1h0m-24 1h0m0 0h0m1 0h0m0 0h0m1 0h0m-1 1h0m0 0h0m23 1h0m0 0h0m0 0h0m1 0h0m-25 1h0m24 0h0m0 1h0m1 0h0m1 0h0m-28 1h0m0 0h0m1 0h0m1 0h0m0 3h0m-1 1h0m0 1h0m0 0h0m0 0h0m0 0h0m20 0h0m0 0h0m-20 1h0m2 1h0m15 0h0m0 0h0m0 0h0m1 0h0m-8 1h0m7 0h0m-11 1h0m1 0h0m0 1h0m2 0h0m-17 28h0m-3 1h0m1 0h0m0 0h0m2 0h0m0 0h0m1 0h0m-4 1h0m1 0h0m-2 1h0m2 0h0m5 0h0m-8 1h0m0 0h0m0 0h0m1 0h0m2 0h0m3 0h0m1 0h0m1 0h0m0 0h0m-8 1h0m2 0h0m6 0h0m1 0h0m-9 1h0m0 0h0m2 0h0m6 0h0m1 0h0m-8 1h0m1 0h0m6 0h0m1 0h0m0 0h0m-1 1h0m-5 1h0m0 0h0m3 0h0m0 0h0m1 0h0m1 0h0m-6 1h0m1 0h0m0 0h0m0 0h0m1 0h0m1 0h0m0 0h0m3 0h0m0 0h0m0 0h0m-4 1h0m3 0h0m-5 1h0m2 0h0m2 0h0m1 0h0m0 0h0" stroke="rgb(42, 163, 231)" stroke-width="2.4" stroke-linecap="square" fill="none"/>
<path transform="scale(0.5)" d="M98 199h0m5 0h0m-6 1h0m1 0h0m1 0h0m3 0h0m0 0h0m1 0h0m1 0h0m1 0h0m-11 1h0m3 0h0m0 0h0m1 0h0m1 0h0m1 0h0m0 0h0m0 0h0m1 0h0m0 0h0m2 0h0m2 0h0m0 0h0m0 0h0m4 0h0m1 0h0m-16 1h0m1 0h0m13 0h0m-14 1h0m0 0h0m15 0h0m-21 3h0m2 0h0m20 0h0m2 0h0m-25 1h0m2 0h0m0 0h0m0 0h0m0 0h0m21 0h0m1 0h0m-24 1h0m1 0h0m-2 1h0m1 0h0m-1 1h0m1 0h0m0 1h0m0 0h0m0 0h0m0 0h0m21 0h0m2 0h0m-2 1h0m0 0h0m1 0h0m0 0h0m0 0h0m1 0h0m-4 1h0m3 0h0m0 0h0m1 0h0m-24 1h0m1 0h0m19 0h0m2 0h0m0 0h0m-22 1h0m1 0h0m20 0h0m-19 1h0m15 0h0m0 0h0m-17 1h0m2 0h0m1 0h0m0 0h0m0 0h0m1 0h0m0 0h0m1 0h0m3 0h0m0 0h0m2 0h0m2 0h0m3 0h0m1 0h0m-13 1h0m0 0h0m0 0h0m1 0h0m2 0h0m0 0h0m1 0h0m1 0h0m0 0h0m1 0h0m0 0h0m1 0h0m2 0h0m2 0h0m1 0h0m0 0h0m-13 1h0m4 0h0m0 0h0m5 0h0m4 0h0m0 0h0m0 0h0m0 0h0m-24 32h0m0 1h0m-1 1h0m0 0h0m1 0h0m1 0h0m0 0h0m2 0h0m-6 1h0m1 0h0m0 0h0m1 0h0m1 0h0m0 0h0m2 0h0m0 0h0m-5 1h0m1 0h0m1 0h0m2 0h0m0 0h0m1 0h0m-5 1h0m0 0h0m1 0h0m0 0h0m2 0h0m2 0h0m0 0h0m1 0h0m-5 1h0m1 0h0m1 0h0m1 0h0m1 0h0m0 0h0m0 0h0m0 0h0m-2 1h0m0 1h0m0 0h0m1 0h0" stroke="rgb(45, 187, 217)" stroke-width="2.4" stroke-linecap="square" fill="none"/>
<path transform="scale(0.5)" d="M97 201h0m-1 1h0m0 0h0m9 0h0m0 0h0m0 0h0m1 0h0m1 0h0m0 0h0m-15 1h0m1 0h0m3 0h0m1 0h0m0 0h0m1 0h0m9 0h0m2 0h0m1 0h0m-18 1h0m1 0h0m0 0h0m1 0h0m15 0h0m-17 1h0m1 0h0m15 0h0m0 0h0m-17 1h0m17 0h0m0 0h0m0 0h0m1 0h0m0 0h0m0 1h0m0 0h0m0 0h0m1 0h0m-21 1h0m0 0h0m20 0h0m1 0h0m-2 2h0m0 0h0m-22 1h0m2 0h0m18 0h0m2 0h0m-21 1h0m1 0h0m19 0h0m-21 1h0m1 0h0m1 0h0m0 0h0m0 1h0m0 0h0m2 0h0m12 0h0m0 0h0m0 0h0m0 0h0m1 0h0m1 0h0m1 0h0m0 0h0m1 0h0m-17 1h0m0 0h0m1 0h0m0 0h0m1 0h0m1 0h0m0 0h0m6 0h0m0 0h0m5 0h0m1 0h0m0 0h0m-16 1h0m0 0h0m0 0h0m0 0h0m2 0h0m2 0h0m0 0h0m1 0h0m1 0h0m1 0h0m2 0h0m0 0h0m1 0h0m0 0h0m1 0h0m1 0h0m0 0h0m1 0h0m0 0h0m-12 1h0m2 0h0m0 0h0m3 0h0m0 0h0m2 0h0m0 0h0m1 0h0m1 0h0m0 0h0" stroke="rgb(49, 210, 202)" stroke-width="2.4" stroke-linecap="square" fill="none"/>
<path transform="scale(0.5)" d="M98 201h0m1 0h0m0 0h0m0 1h0m1 0h0m0 0h0m1 0h0m0 0h0m1 0h0m0 0h0m0 0h0m0 0h0m1 0h0m-3 1h0m1 0h0m1 0h0m0 0h0m0 0h0m2 0h0m2 1h0m0 0h0m1 0h0m1 0h0m-15 1h0m1 0h0m1 0h0m11 0h0m0 0h0m0 0h0m1 0h0m0 0h0m-14 1h0m0 1h0m14 0h0m0 0h0m0 0h0m-1 1h0m1 0h0m-18 1h0m18 0h0m0 0h0m0 0h0m0 0h0m0 0h0m-19 1h0m1 0h0m1 0h0m16 0h0m-17 1h0m0 0h0m14 0h0m1 0h0m2 0h0m0 0h0m-18 1h0m0 0h0m1 0h0m13 0h0m0 0h0m1 0h0m2 0h0m0 0h0m-16 1h0m0 0h0m1 0h0m1 0h0m12 0h0m0 0h0m2 0h0m1 0h0m-16 1h0m9 0h0m0 0h0m1 0h0m1 0h0m1 0h0m-11 1h0m0 0h0m9 0h0" stroke="rgb(46, 220, 153)" stroke-width="2.4" stroke-linecap="square" fill="none"/>
<path transform="scale(0.5)" d="M96 203h0m2 0h0m1 0h0m3 0h0m-6 1h0m2 0h0m0 0h0m0 0h0m1 0h0m0 0h0m1 0h0m0 0h0m1 0h0m0 0h0m1 0h0m1 0h0m0 0h0m2 0h0m1 0h0m0 0h0m-10 1h0m1 0h0m1 0h0m0 0h0m0 0h0m1 0h0m0 0h0m1 0h0m0 0h0m2 0h0m1 0h0m1 0h0m1 0h0m0 0h0m1 0h0m-2 1h0m1 0h0m0 0h0m0 0h0m1 0h0m0 0h0m0 0h0m0 0h0m2 0h0m0 0h0m-13 1h0m0 0h0m0 0h0m10 0h0m0 0h0m0 0h0m0 0h0m1 0h0m0 0h0m1 0h0m0 0h0m1 0h0m-17 1h0m0 0h0m0 0h0m0 0h0m0 0h0m0 0h0m14 0h0m1 0h0m-16 1h0m1 0h0m0 0h0m12 0h0m-13 1h0m1 0h0m11 0h0m0 0h0m0 0h0m1 0h0m0 0h0m0 0h0m0 0h0m1 0h0m0 0h0m1 0h0m0 0h0m1 0h0m-16 1h0m0 0h0m1 0h0m0 0h0m0 0h0m0 0h0m1 0h0m10 0h0m1 0h0m0 0h0m1 0h0m1 0h0m0 0h0m-15 1h0m0 0h0m1 0h0m7 0h0m0 0h0m1 0h0m1 0h0m1 0h0m0 0h0m-10 1h0m0 0h0m4 0h0m1 0h0m2 0h0m2 0h0m1 0h0m0 0h0m-9 1h0m1 0h0m1 0h0m1 0h0m0 0h0m0 0h0m1 0h0m0 0h0m1 0h0m0 0h0m0 0h0m-3 1h0m1 0h0m2 0h0m0 0h0" stroke="rgb(42, 227, 95)" stroke-width="2.4" stroke-linecap="square" fill="none"/>
<path transform="scale(0.5)" d="M97 205h0m1 0h0m1 0h0m1 0h0m1 0h0m1 0h0m1 0h0m0 0h0m-7 1h0m0 0h0m1 0h0m0 0h0m0 0h0m2 0h0m0 0h0m0 0h0m1 0h0m0 0h0m0 0h0m2 0h0m1 0h0m-11 1h0m5 0h0m3 0h0m0 0h0m0 0h0m1 0h0m0 0h0m0 0h0m0 0h0m0 0h0m1 0h0m0 0h0m0 0h0m1 0h0m-11 1h0m1 0h0m0 0h0m1 0h0m7 0h0m0 0h0m-9 1h0m1 0h0m0 0h0m1 0h0m6 0h0m1 0h0m1 0h0m1 0h0m-11 1h0m0 0h0m0 0h0m1 0h0m0 0h0m0 0h0m0 0h0m0 0h0m5 0h0m0 0h0m2 0h0m-7 1h0m0 0h0m0 0h0m2 0h0m3 0h0m0 0h0m0 0h0m1 0h0m0 0h0m0 0h0m1 0h0m0 0h0m1 0h0m-9 1h0m2 0h0m0 0h0m0 0h0m1 0h0m2 0h0m-4 1h0m0 0h0m0 0h0m1 0h0m0 0h0m1 0h0m1 0h0m0 0h0m1 0h0m0 0h0" stroke="rgb(51, 232, 57)" stroke-width="2.4" stroke-linecap="square" fill="none"/>
<path transform="scale(0.5)" d="M94 207h0m2 0h0m0 0h0m-1 1h0m0 0h0m1 0h0m0 0h0m0 0h0m0 0h0m1 0h0m0 0h0m0 0h0m0 0h0m0 0h0m1 0h0m0 0h0m0 0h0m2 0h0m-6 1h0m0 0h0m1 0h0m0 0h0m0 0h0m1 0h0m0 0h0m1 0h0m0 0h0m0 0h0m0 0h0m0 0h0m1 0h0m1 0h0m0 0h0m-5 1h0m0 0h0m1 0h0m0 0h0m0 0h0m0 0h0m0 0h0m1 0h0m0 0h0m0 0h0m1 0h0m1 0h0m-4 1h0m0 0h0m2 0h0m2 0h0" stroke="rgb(78, 233, 52)" stroke-width="2.4" stroke-linecap="square" fill="none"/>
</g>
<rect x="33.90" y="89.60" width="62.00" height="62.80" fill="none" stroke="#9a9aa8" stroke-width="0.8"/>
<line x1="33.9" y1="89.6" x2="61.0" y2="89.6" stroke="#3a3aa8" stroke-width="1.0"/>
<line x1="33.9" y1="89.6" x2="33.9" y2="152.4" stroke="#3a3aa8" stroke-width="1.0"/>
<line x1="61.0" y1="89.6" x2="61.0" y2="152.4" stroke="#3a3aa8" stroke-width="1.0"/>
<line x1="33.9" y1="132" x2="61.0" y2="132" stroke="#3a3aa8" stroke-width="1.0"/>
<text x="22.4" y="91.99999999999999" font-size="5.5" fill="#111">10<tspan dx="0.3" dy="-2.75" font-size="4.67">4</tspan></text>
<text x="22.4" y="107.225" font-size="5.5" fill="#111">10<tspan dx="0.3" dy="-2.75" font-size="4.67">3</tspan></text>
<text x="22.4" y="122.44999999999999" font-size="5.5" fill="#111">10<tspan dx="0.3" dy="-2.75" font-size="4.67">2</tspan></text>
<text x="22.4" y="137.67499999999998" font-size="5.5" fill="#111">10<tspan dx="0.3" dy="-2.75" font-size="4.67">1</tspan></text>
<text x="22.4" y="152.9" font-size="5.5" fill="#111">10<tspan dx="0.3" dy="-2.75" font-size="4.67">0</tspan></text>
<text x="30.200000000000003" y="162.2" font-size="5.5" fill="#111">10<tspan dx="0.3" dy="-2.75" font-size="4.67">0</tspan></text>
<text x="45.775000000000006" y="162.2" font-size="5.5" fill="#111">10<tspan dx="0.3" dy="-2.75" font-size="4.67">1</tspan></text>
<text x="61.35" y="162.2" font-size="5.5" fill="#111">10<tspan dx="0.3" dy="-2.75" font-size="4.67">2</tspan></text>
<text x="76.925" y="162.2" font-size="5.5" fill="#111">10<tspan dx="0.3" dy="-2.75" font-size="4.67">3</tspan></text>
<text x="92.5" y="162.2" font-size="5.5" fill="#111">10<tspan dx="0.3" dy="-2.75" font-size="4.67">4</tspan></text>
<text x="37.3" y="27.8" font-size="7" fill="#000">84.6</text>
<text x="84.6" y="51.8" font-size="7.2" fill="#000">0.0</text>
<text x="42.7" y="82.3" font-size="7" fill="#000">15.4</text>
<text x="37" y="96.4" font-size="7" fill="#000">90.0</text>
<text x="84.6" y="121" font-size="7.2" fill="#000">0.1</text>
<text x="44" y="151.2" font-size="7" fill="#000">9.9</text>
<line x1="114.2" y1="21.6" x2="114.2" y2="165" stroke="#000" stroke-width="1.2"/>
<path d="M114.2 17.6 L112.2 23.1 L116.2 23.1Z" fill="#000"/>
<line x1="114.2" y1="165" x2="195" y2="165" stroke="#000" stroke-width="1.2"/>
<path d="M199 165 L193.5 163 L193.5 167Z" fill="#000"/>
<text x="110.8" y="90.4" font-size="9.8" text-anchor="middle" fill="#000" transform="rotate(-90 110.8 90.4)">c-kit</text>
<text x="163" y="172.5" font-size="8.6" font-weight="bold" text-anchor="middle" fill="#000">CD71</text>
<rect x="130.00" y="20.70" width="65.80" height="63.90" fill="none" stroke="#444" stroke-width="0.8"/>
<line x1="169.6" y1="20.7" x2="169.6" y2="84.6" stroke="#888" stroke-width="0.5"/>
<line x1="130" y1="50.3" x2="195.8" y2="50.3" stroke="#888" stroke-width="0.5"/>
<clipPath id="cc0"><rect x="130" y="20.7" width="65.8" height="63.89999999999999"/></clipPath>
<defs><linearGradient id="bgr0" x1="170.2" x2="186.2" y1="0" y2="0" gradientUnits="userSpaceOnUse"><stop offset="0" stop-color="#2a2a2a"/><stop offset="0.5" stop-color="#7a7a7a"/><stop offset="1" stop-color="#2a2a2a"/></linearGradient></defs>
<path clip-path="url(#cc0)" d="M172.0 92.5 171.6 86.0 171.6 47.5 171.8 42.5 172.6 39.2 173.9 37.0 174.8 36.1 176.0 35.3 178.2 34.8 180.5 35.3 182.5 37.0 183.9 39.5 184.6 42.7 184.8 47.7 184.8 86.0 184.4 92.5" fill="url(#bgr0)"/>
<path clip-path="url(#cc0)" d="M169.2 92.5 168.8 77.2 168.5 74.4 168.0 73.1 167.5 72.8 167.0 72.7 162.5 74.7 159.0 75.4 155.5 75.3 152.2 74.6 149.0 73.0 146.2 70.7 144.2 68.0 142.9 64.7 142.5 62.5 142.6 60.0 143.0 57.7 144.0 55.5 146.3 52.2 148.0 50.6 151.3 48.2 152.1 47.0 152.0 46.2 151.7 45.7 148.2 43.0 146.7 41.2 145.9 39.2 146.0 37.2 147.1 35.5 148.8 34.0 151.0 32.7 154.0 31.8 158.0 31.0 162.5 30.7 166.8 30.9 172.5 31.7 177.0 31.3 179.0 31.4 181.0 31.9 183.2 33.0 185.0 34.5 186.3 36.2 187.1 39.0 187.4 45.2 187.4 87.0 187.2 92.5 M167.9 48.2 168.3 47.0 168.3 45.2 167.8 44.3 167.0 44.1 166.2 44.6 165.9 45.2 165.8 46.7 166.2 47.7 166.7 48.2 167.2 48.4 167.9 48.2Z M169.8 92.5 169.3 75.0 169.0 72.1 168.4 70.5 168.0 70.2 167.2 70.3 163.2 72.5 160.0 73.5 156.8 73.7 153.8 73.2 150.5 71.9 147.7 69.7 145.7 67.0 144.5 63.7 144.3 61.5 144.6 59.2 145.2 57.2 146.2 55.2 147.6 53.5 149.2 51.9 154.5 48.9 155.1 48.2 155.4 47.2 155.3 46.0 154.9 45.2 150.8 42.9 148.8 41.0 148.1 39.2 148.4 37.2 149.5 35.6 151.5 34.2 154.2 33.0 157.8 32.1 161.0 31.6 164.0 31.5 167.0 31.6 172.2 32.4 177.0 31.9 179.2 32.0 181.2 32.6 183.0 33.5 184.6 35.0 185.8 36.7 186.6 39.5 186.9 45.7 186.9 87.0 186.6 92.5 M168.2 50.5 168.8 49.9 169.1 48.5 169.1 44.2 168.5 42.4 167.8 41.9 167.0 41.8 165.8 42.4 164.0 43.7 163.4 44.5 163.3 45.5 163.8 48.2 164.2 49.0 166.4 50.2 167.5 50.5 168.2 50.5Z M170.3 92.5 169.8 72.7 169.5 69.5 168.8 67.4 168.2 67.2 167.8 67.4 164.0 70.1 161.2 71.4 158.2 71.9 155.2 71.7 152.0 70.6 149.4 68.7 147.3 66.0 146.4 63.0 146.4 59.7 147.5 56.7 149.5 54.2 152.5 52.1 155.5 51.1 158.8 50.5 164.8 51.4 168.2 52.4 168.8 52.3 169.2 51.8 169.9 48.5 169.8 43.0 169.0 40.9 167.5 39.3 166.8 39.0 166.2 39.2 162.5 42.5 160.5 43.6 158.8 44.1 156.2 43.8 153.2 42.8 151.3 41.5 150.3 40.0 150.1 38.7 150.4 37.7 151.0 36.7 152.2 35.6 156.0 33.9 161.5 32.5 166.0 32.4 171.5 33.3 176.8 32.5 179.5 32.6 181.5 33.3 183.0 34.2 184.3 35.5 185.4 37.2 186.1 40.2 186.3 46.0 186.4 87.0 186.1 92.5 M159.8 47.4 159.5 47.2 159.8 46.9 159.9 47.2 159.8 47.4Z M170.8 92.5 170.6 89.0 170.3 70.2 169.9 66.2 169.2 64.1 168.8 63.8 168.2 64.1 164.5 67.4 161.8 69.1 159.0 69.9 156.0 69.9 154.2 69.5 152.8 68.8 150.3 66.7 148.7 64.0 148.4 62.5 148.4 60.7 149.0 58.3 150.3 56.2 152.2 54.5 154.8 53.4 157.5 52.9 164.5 53.0 166.2 53.4 168.5 54.6 169.2 54.6 169.8 53.9 170.1 52.2 170.5 46.7 170.3 42.2 169.2 38.2 169.4 36.0 170.2 35.0 172.0 34.3 175.2 33.3 177.8 33.0 180.8 33.6 183.0 35.0 184.6 37.0 185.5 39.7 185.9 48.2 185.9 87.0 185.6 92.5 M159.0 42.5 156.0 42.6 154.5 42.1 153.3 41.5 152.5 40.7 152.0 39.7 152.0 38.7 152.4 37.7 153.4 36.7 155.0 35.9 162.2 34.0 165.0 33.7 166.8 34.2 166.9 34.7 166.6 35.0 164.0 35.9 163.2 36.3 163.0 37.0 162.9 39.2 162.4 40.5 161.0 41.7 159.0 42.5Z M171.3 92.5 171.0 88.7 170.8 69.5 170.1 59.2 170.8 52.9 171.0 47.2 170.9 42.5 170.3 38.0 171.0 36.2 172.5 35.0 175.2 33.9 177.8 33.5 180.5 34.0 181.8 34.6 183.0 35.6 184.4 37.7 185.1 40.7 185.4 50.0 185.4 87.2 185.1 92.5 M158.5 41.5 156.2 41.5 154.5 40.8 153.9 40.2 153.6 39.5 154.0 38.2 155.0 37.4 156.8 36.8 158.5 36.9 159.9 37.5 160.8 38.5 160.8 39.7 160.0 40.8 158.5 41.5Z M158.8 67.7 156.8 67.8 155.0 67.4 153.2 66.5 151.9 65.2 151.0 63.7 150.5 62.0 150.6 60.2 151.3 58.5 153.2 56.4 156.0 55.3 164.2 54.9 166.2 55.4 167.5 56.6 168.2 58.2 168.1 60.0 167.3 61.7 165.8 63.6 163.0 65.8 160.8 67.1 158.8 67.7Z M171.8 92.5 171.5 88.7 171.4 72.2 171.1 60.0 171.5 43.5 171.2 38.5 171.8 36.7 173.1 35.5 175.5 34.4 177.8 34.1 180.5 34.6 182.8 36.2 184.0 38.2 184.6 41.2 184.9 47.0 184.9 84.5 184.6 92.5 M157.5 40.0 156.2 39.7 156.1 39.5 156.2 39.0 157.0 38.6 158.0 38.8 158.2 39.5 157.5 40.0Z M158.0 65.2 156.5 65.2 155.2 64.8 154.2 64.2 153.3 63.2 152.8 62.2 152.7 61.0 153.0 59.7 153.7 58.7 155.5 57.6 157.5 57.3 164.5 58.6 164.8 59.2 164.6 60.2 162.4 62.7 160.2 64.5 158.0 65.2Z M172.3 92.5 172.0 88.2 171.8 60.5 172.0 38.7 172.5 37.2 173.8 35.9 175.5 35.0 177.8 34.6 180.2 35.1 181.5 35.8 182.4 36.7 183.5 38.7 184.2 42.0 184.4 47.5 184.4 85.7 184.1 92.5 M158.0 62.7 156.5 62.8 155.5 62.2 155.0 61.0 155.5 60.0 156.2 59.5 157.2 59.3 158.2 59.5 159.0 60.0 159.4 60.7 159.4 61.5 158.9 62.2 158.0 62.7Z M173.0 92.5 172.7 87.7 172.5 61.0 172.9 39.5 173.3 38.0 174.2 36.7 175.8 35.8 177.8 35.4 179.0 35.5 180.2 36.0 182.0 37.4 183.0 39.5 183.6 42.7 183.7 47.7 183.7 86.2 183.4 92.5 M173.8 92.5 173.5 90.0 173.4 86.5 173.3 58.0 173.5 42.7 173.9 39.5 174.5 38.0 175.8 36.8 177.8 36.3 179.0 36.4 180.0 36.8 181.5 38.2 182.4 40.2 182.9 43.5 183.0 86.5 182.9 90.2 182.6 92.5 M174.6 92.5 174.2 90.2 174.1 86.7 174.1 44.2 174.5 40.7 175.1 39.0 176.2 37.7 178.0 37.2 179.8 37.8 181.0 39.1 181.8 41.2 182.2 44.2 182.3 86.7 182.2 90.2 181.8 92.5 M175.5 92.5 175.0 90.2 174.8 87.0 174.8 45.2 175.1 42.2 175.8 40.0 176.8 38.7 178.0 38.3 179.5 38.9 180.5 40.1 181.2 42.2 181.5 45.0 181.6 87.0 181.4 90.2 180.9 92.5 M176.6 92.5 175.8 90.5 175.6 87.2 175.6 46.5 175.8 43.7 176.3 41.7 177.0 40.4 178.0 39.9 179.0 40.2 180.0 41.5 180.6 43.5 180.8 46.0 180.8 87.2 180.6 90.5 179.8 92.5 M178.8 92.0 177.8 92.1 176.9 91.0 176.5 89.2 176.3 86.0 176.3 46.2 176.9 42.7 177.5 41.8 178.2 41.5 179.0 42.0 179.7 43.5 180.1 48.0 180.1 87.2 179.8 90.3 179.3 91.5 178.8 92.0Z M175.0 92.5 174.6 90.2 174.4 87.0 174.5 44.7 174.9 42.2 175.7 40.2 176.8 39.1 178.2 38.6 179.5 39.0 180.8 40.2 181.5 42.2 181.9 44.7 182.0 87.0 181.8 90.2 181.4 92.5 M177.0 92.5 176.1 90.5 175.8 87.2 175.8 46.7 176.0 44.2 176.4 42.5 177.2 41.3 178.2 40.9 179.2 41.3 180.0 42.5 180.4 44.2 180.6 46.7 180.6 87.5 180.2 90.7 179.4 92.5" fill="none" stroke="#111" stroke-width="0.6"/>
<rect x="177.6" y="34.7" width="1.1" height="1.1" fill="#ccc"/>
<rect x="178.0" y="37.8" width="1.1" height="1.1" fill="#ccc"/>
<rect x="177.9" y="41.2" width="1.1" height="1.1" fill="#ccc"/>
<rect x="176.5" y="44.6" width="1.1" height="1.1" fill="#ccc"/>
<rect x="178.3" y="47.3" width="1.1" height="1.1" fill="#ccc"/>
<rect x="178.2" y="50.3" width="1.1" height="1.1" fill="#ccc"/>
<rect x="177.3" y="52.5" width="1.1" height="1.1" fill="#ccc"/>
<rect x="177.5" y="54.8" width="1.1" height="1.1" fill="#ccc"/>
<rect x="176.4" y="57.7" width="1.1" height="1.1" fill="#ccc"/>
<rect x="177.0" y="60.0" width="1.1" height="1.1" fill="#ccc"/>
<rect x="177.9" y="63.4" width="1.1" height="1.1" fill="#ccc"/>
<rect x="178.0" y="65.6" width="1.1" height="1.1" fill="#ccc"/>
<rect x="177.6" y="67.8" width="1.1" height="1.1" fill="#ccc"/>
<rect x="176.4" y="70.0" width="1.1" height="1.1" fill="#ccc"/>
<rect x="176.8" y="73.3" width="1.1" height="1.1" fill="#ccc"/>
<rect x="178.4" y="75.6" width="1.1" height="1.1" fill="#ccc"/>
<rect x="177.0" y="79.0" width="1.1" height="1.1" fill="#ccc"/>
<text x="118.4" y="24.5" font-size="5.5" fill="#111">10<tspan dx="0.3" dy="-2.75" font-size="4.67">4</tspan></text>
<text x="118.4" y="39.9" font-size="5.5" fill="#111">10<tspan dx="0.3" dy="-2.75" font-size="4.67">3</tspan></text>
<text x="118.4" y="55.300000000000004" font-size="5.5" fill="#111">10<tspan dx="0.3" dy="-2.75" font-size="4.67">2</tspan></text>
<text x="118.4" y="70.69999999999999" font-size="5.5" fill="#111">10<tspan dx="0.3" dy="-2.75" font-size="4.67">1</tspan></text>
<text x="118.4" y="86.1" font-size="5.5" fill="#111">10<tspan dx="0.3" dy="-2.75" font-size="4.67">0</tspan></text>
<rect x="130.00" y="89.40" width="65.80" height="62.80" fill="none" stroke="#444" stroke-width="0.8"/>
<line x1="169.6" y1="89.4" x2="169.6" y2="152.2" stroke="#888" stroke-width="0.5"/>
<line x1="130" y1="119" x2="195.8" y2="119" stroke="#888" stroke-width="0.5"/>
<clipPath id="cc1"><rect x="130" y="89.4" width="65.8" height="62.79999999999998"/></clipPath>
<defs><linearGradient id="bgr1" x1="171.8" x2="187.8" y1="0" y2="0" gradientUnits="userSpaceOnUse"><stop offset="0" stop-color="#2a2a2a"/><stop offset="0.5" stop-color="#7a7a7a"/><stop offset="1" stop-color="#2a2a2a"/></linearGradient></defs>
<path clip-path="url(#cc1)" d="M173.4 160.2 173.2 118.2 173.4 111.4 174.1 108.4 175.5 105.9 177.5 104.3 179.8 103.8 182.0 104.3 184.1 105.9 185.4 108.2 186.2 111.4 186.4 118.2 186.2 160.2" fill="url(#bgr1)"/>
<path clip-path="url(#cc1)" d="M170.7 160.2 170.5 141.4 170.2 138.9 169.8 137.6 169.2 137.4 168.8 137.5 164.5 139.8 161.2 140.9 158.0 141.3 154.8 141.1 151.2 140.0 148.5 138.4 146.2 135.9 144.9 133.2 144.6 130.4 145.3 127.7 146.8 125.3 150.1 121.9 150.5 118.4 152.3 115.7 151.9 114.9 148.8 112.7 147.3 111.2 146.5 109.4 146.6 107.4 147.4 105.7 149.1 103.9 151.2 102.6 154.0 101.6 156.8 101.0 160.2 100.6 164.5 100.6 172.2 101.1 178.0 100.3 180.2 100.3 182.5 100.8 184.2 101.5 186.1 102.9 187.5 104.7 188.5 107.4 189.0 113.4 188.9 160.2 M169.3 122.4 169.8 122.2 170.2 121.3 170.5 118.4 170.2 115.2 169.8 114.0 169.2 113.6 168.2 113.6 163.8 115.2 159.3 116.2 158.2 116.9 158.3 117.7 158.9 119.2 160.2 120.3 161.8 120.8 165.8 121.4 169.3 122.4Z M171.3 160.2 171.0 139.9 170.8 136.8 170.2 135.5 169.8 135.3 169.2 135.4 165.5 137.8 162.0 139.3 159.0 140.0 156.0 140.0 152.8 139.2 149.9 137.7 147.6 135.4 146.5 132.9 146.2 130.4 146.9 127.9 148.6 125.4 152.6 122.2 152.9 121.4 152.3 119.2 152.7 118.4 153.5 117.9 154.5 117.8 155.6 118.2 156.2 118.9 157.0 120.8 158.5 121.6 166.0 122.5 169.8 124.1 170.3 123.9 170.8 122.9 171.1 119.9 170.9 115.2 170.5 112.4 169.8 111.4 169.2 111.2 168.5 111.4 165.8 113.0 163.2 113.9 160.8 114.4 158.0 114.5 155.5 114.2 153.2 113.5 151.0 112.2 149.5 110.8 148.9 109.7 148.6 108.4 148.9 107.2 149.5 105.9 150.7 104.7 152.0 103.7 155.5 102.2 161.0 101.4 164.8 101.4 172.0 101.7 178.0 100.9 180.0 100.8 182.2 101.3 184.0 102.1 185.7 103.4 186.9 104.9 187.9 107.9 188.4 113.7 188.3 160.2 M171.8 160.2 171.5 138.2 171.2 134.6 170.8 132.9 170.5 132.6 170.0 132.8 167.0 135.4 163.5 137.3 160.5 138.4 157.5 138.7 154.2 138.3 151.5 137.0 149.4 135.2 148.1 132.7 147.8 131.4 147.9 129.9 148.4 128.4 149.1 127.2 151.2 125.1 154.5 123.5 157.2 123.2 165.0 123.5 167.5 124.3 170.2 126.4 170.8 126.3 171.0 125.7 171.6 121.4 171.5 113.7 171.1 110.9 170.0 109.3 169.0 108.8 168.0 108.8 165.5 111.0 164.0 111.9 161.8 112.7 159.2 113.0 156.8 112.9 154.5 112.3 152.5 111.2 151.3 109.9 150.9 108.9 150.9 107.9 151.1 106.9 151.7 105.9 153.8 104.2 156.8 103.0 159.2 102.5 162.8 102.2 171.8 102.4 177.5 101.5 180.0 101.4 182.0 101.8 183.8 102.6 185.4 103.9 186.5 105.4 187.5 108.4 187.9 113.9 187.8 160.2 M172.3 160.2 172.1 138.2 171.7 129.7 172.1 122.7 172.1 116.2 172.0 111.7 171.7 109.9 169.8 106.8 169.0 106.2 168.0 105.8 166.8 106.0 165.6 106.7 164.3 109.2 163.1 110.4 161.5 111.2 159.8 111.6 157.0 111.5 154.8 110.7 153.2 109.4 152.9 108.7 152.8 107.7 153.3 106.4 154.2 105.3 155.8 104.4 157.8 103.8 163.0 103.3 170.0 103.6 177.0 102.1 179.2 101.9 182.2 102.4 184.8 104.0 185.7 105.2 186.3 106.4 187.1 109.7 187.5 116.4 187.3 160.2 M159.2 137.2 157.0 137.3 154.8 136.9 152.8 136.0 151.0 134.7 150.0 133.2 149.5 131.4 149.7 129.7 150.5 127.9 151.5 126.8 152.8 125.9 154.2 125.2 156.0 124.8 164.8 124.7 166.0 125.0 167.2 125.6 168.6 126.9 169.3 128.7 169.2 130.7 168.3 132.4 167.0 133.8 165.2 134.9 161.8 136.5 159.2 137.2Z M172.8 160.2 172.4 129.9 172.6 111.7 172.4 109.9 171.4 106.9 171.3 105.7 171.8 104.7 173.5 103.7 176.5 102.7 179.0 102.4 182.0 102.9 184.4 104.4 185.9 106.7 186.6 109.9 187.0 116.4 186.8 160.2 M160.0 110.2 157.5 110.3 155.5 109.5 154.5 108.2 154.5 107.4 154.8 106.7 156.0 105.6 158.0 104.9 160.2 104.8 162.0 105.3 162.7 106.4 162.6 108.2 161.7 109.4 160.0 110.2Z M158.5 135.7 156.5 135.7 154.8 135.3 153.2 134.5 152.1 133.4 151.3 132.2 151.1 130.7 151.5 129.2 152.4 127.9 154.5 126.6 157.0 126.1 161.2 126.3 164.8 126.2 166.0 126.5 166.9 127.2 167.7 128.4 167.9 129.7 167.6 130.9 166.7 132.2 165.5 133.1 164.0 133.8 160.5 135.2 158.5 135.7Z M173.2 160.2 173.0 130.2 173.1 111.2 172.5 106.4 173.0 105.2 174.3 104.2 176.5 103.3 179.0 102.9 181.8 103.4 183.0 104.0 184.1 104.9 185.5 107.2 186.2 110.4 186.5 116.9 186.4 160.2 M159.2 108.7 158.2 108.8 157.2 108.5 156.7 107.9 156.8 107.2 157.4 106.7 158.2 106.4 159.8 106.7 160.2 107.2 160.3 107.7 160.0 108.2 159.2 108.7Z M158.0 133.9 156.5 134.0 155.2 133.7 154.1 133.2 153.2 132.3 152.8 131.2 152.8 130.2 153.3 129.2 154.0 128.4 155.5 127.7 157.2 127.6 161.8 128.8 164.2 128.8 165.0 129.2 165.1 129.9 164.5 130.7 159.8 133.4 158.0 133.9Z M173.8 160.2 173.5 130.4 173.7 110.4 173.5 106.9 174.0 105.7 175.2 104.5 177.2 103.7 179.2 103.5 181.8 104.0 183.0 104.7 183.9 105.7 185.1 107.9 185.8 111.4 186.0 118.4 185.8 160.2 M157.0 131.7 156.0 131.7 155.3 131.2 155.2 130.4 155.5 129.9 156.8 129.6 157.8 130.2 158.0 130.7 157.8 131.2 157.0 131.7Z M174.4 160.2 174.3 155.9 174.2 128.7 174.3 114.7 174.6 107.9 174.9 106.4 175.8 105.4 177.2 104.6 179.2 104.3 181.5 104.8 183.3 106.2 184.5 108.4 185.1 111.7 185.3 119.4 185.3 155.4 185.2 160.2 M175.2 160.2 175.0 154.2 175.1 112.4 175.5 108.4 176.0 106.9 177.2 105.7 179.2 105.2 181.2 105.7 182.9 107.2 183.9 109.4 184.5 112.4 184.6 153.9 184.4 160.2 M175.9 160.2 175.7 154.7 175.8 113.2 176.2 109.7 176.9 107.7 178.0 106.6 179.5 106.2 181.2 106.8 182.5 108.1 183.4 110.4 183.8 113.2 183.9 154.7 183.7 160.2 M176.7 160.2 176.4 154.9 176.5 113.9 176.8 111.2 177.5 108.9 178.3 107.9 179.5 107.5 180.9 107.9 182.0 109.2 182.8 111.2 183.1 113.7 183.2 154.9 182.9 160.2 M177.6 160.2 177.3 158.2 177.2 155.2 177.2 114.9 177.5 112.4 178.0 110.5 178.8 109.4 179.8 109.0 180.8 109.5 181.6 110.7 182.1 112.4 182.4 114.7 182.4 155.2 182.3 158.2 182.0 160.2 M178.6 160.2 178.1 158.4 177.9 155.4 177.9 115.9 178.4 112.2 179.0 111.0 179.8 110.6 180.5 111.0 181.2 112.2 181.7 115.9 181.7 155.4 181.5 158.4 181.0 160.2 M176.3 160.2 176.0 154.9 176.1 113.7 176.5 111.2 177.1 109.4 178.2 108.1 179.8 107.6 181.2 108.1 182.3 109.2 183.1 111.2 183.5 113.7 183.6 154.9 183.3 160.2 M177.9 160.2 177.5 158.2 177.4 155.2 177.4 115.2 177.6 112.9 178.1 111.4 178.8 110.3 179.8 109.9 180.8 110.3 181.5 111.3 182.0 112.9 182.2 115.2 182.2 155.2 182.1 158.2 181.7 160.2" fill="none" stroke="#111" stroke-width="0.6"/>
<rect x="179.6" y="103.4" width="1.1" height="1.1" fill="#ccc"/>
<rect x="179.0" y="106.6" width="1.1" height="1.1" fill="#ccc"/>
<rect x="178.0" y="109.0" width="1.1" height="1.1" fill="#ccc"/>
<rect x="178.9" y="112.0" width="1.1" height="1.1" fill="#ccc"/>
<rect x="178.7" y="115.2" width="1.1" height="1.1" fill="#ccc"/>
<rect x="178.5" y="118.3" width="1.1" height="1.1" fill="#ccc"/>
<rect x="179.5" y="121.5" width="1.1" height="1.1" fill="#ccc"/>
<rect x="179.1" y="124.1" width="1.1" height="1.1" fill="#ccc"/>
<rect x="178.4" y="127.2" width="1.1" height="1.1" fill="#ccc"/>
<rect x="179.6" y="130.0" width="1.1" height="1.1" fill="#ccc"/>
<rect x="179.6" y="132.4" width="1.1" height="1.1" fill="#ccc"/>
<rect x="179.7" y="135.4" width="1.1" height="1.1" fill="#ccc"/>
<rect x="178.2" y="137.9" width="1.1" height="1.1" fill="#ccc"/>
<rect x="179.6" y="141.1" width="1.1" height="1.1" fill="#ccc"/>
<rect x="178.2" y="143.8" width="1.1" height="1.1" fill="#ccc"/>
<rect x="179.3" y="146.1" width="1.1" height="1.1" fill="#ccc"/>
<rect x="179.9" y="148.5" width="1.1" height="1.1" fill="#ccc"/>
<text x="118.4" y="93.2" font-size="5.5" fill="#111">10<tspan dx="0.3" dy="-2.75" font-size="4.67">4</tspan></text>
<text x="118.4" y="108.325" font-size="5.5" fill="#111">10<tspan dx="0.3" dy="-2.75" font-size="4.67">3</tspan></text>
<text x="118.4" y="123.44999999999999" font-size="5.5" fill="#111">10<tspan dx="0.3" dy="-2.75" font-size="4.67">2</tspan></text>
<text x="118.4" y="138.575" font-size="5.5" fill="#111">10<tspan dx="0.3" dy="-2.75" font-size="4.67">1</tspan></text>
<text x="118.4" y="153.7" font-size="5.5" fill="#111">10<tspan dx="0.3" dy="-2.75" font-size="4.67">0</tspan></text>
<text x="127.29999999999998" y="161.5" font-size="5.5" fill="#111">10<tspan dx="0.3" dy="-2.75" font-size="4.67">0</tspan></text>
<text x="142.37499999999997" y="161.5" font-size="5.5" fill="#111">10<tspan dx="0.3" dy="-2.75" font-size="4.67">1</tspan></text>
<text x="157.45" y="161.5" font-size="5.5" fill="#111">10<tspan dx="0.3" dy="-2.75" font-size="4.67">2</tspan></text>
<text x="172.525" y="161.5" font-size="5.5" fill="#111">10<tspan dx="0.3" dy="-2.75" font-size="4.67">3</tspan></text>
<text x="187.6" y="161.5" font-size="5.5" fill="#111">10<tspan dx="0.3" dy="-2.75" font-size="4.67">4</tspan></text>
<text x="135.5" y="28.5" font-size="7.5" fill="#000">6.9</text>
<text x="181" y="28.5" font-size="7.5" fill="#000">22.1</text>
<text x="130.8" y="81.5" font-size="7.5" fill="#000">13.8</text>
<text x="181" y="81.5" font-size="7.5" fill="#000">57.2</text>
<text x="135.5" y="98" font-size="7.5" fill="#000">9.1</text>
<text x="181" y="98" font-size="7.5" fill="#000">21.1</text>
<text x="130.8" y="150.5" font-size="7.5" fill="#000">10.7</text>
<text x="182" y="150.5" font-size="7.5" fill="#000">59.1</text>
<text x="208.7" y="13.5" font-size="16" font-weight="bold" fill="#000">B</text>
<text x="282.6" y="31.4" font-size="11.2" text-anchor="middle" fill="#000">CFU-Es</text>
<line x1="245.3" y1="143.9" x2="319" y2="143.9" stroke="#bfc7c7" stroke-width="0.7"/>
<line x1="245.3" y1="130.8" x2="319" y2="130.8" stroke="#bfc7c7" stroke-width="0.7"/>
<line x1="245.3" y1="117.7" x2="319" y2="117.7" stroke="#bfc7c7" stroke-width="0.7"/>
<line x1="245.3" y1="104.6" x2="319" y2="104.6" stroke="#bfc7c7" stroke-width="0.7"/>
<line x1="245.3" y1="91.5" x2="319" y2="91.5" stroke="#bfc7c7" stroke-width="0.7"/>
<line x1="245.3" y1="78.4" x2="319" y2="78.4" stroke="#bfc7c7" stroke-width="0.7"/>
<line x1="245.3" y1="65.3" x2="319" y2="65.3" stroke="#bfc7c7" stroke-width="0.7"/>
<line x1="245.3" y1="52.2" x2="319" y2="52.2" stroke="#bfc7c7" stroke-width="0.7"/>
<line x1="245.3" y1="39.099999999999994" x2="319" y2="39.099999999999994" stroke="#bfc7c7" stroke-width="0.7"/>
<line x1="245.3" y1="39.099999999999994" x2="245.3" y2="143.9" stroke="#bbb" stroke-width="0.8"/>
<line x1="319" y1="39.099999999999994" x2="319" y2="143.9" stroke="#bfc7c7" stroke-width="0.7"/>
<text x="241.8" y="147.5" font-size="10.3" text-anchor="end" fill="#000">0</text>
<text x="241.8" y="121.3" font-size="10.3" text-anchor="end" fill="#000">200</text>
<text x="241.8" y="95.1" font-size="10.3" text-anchor="end" fill="#000">400</text>
<text x="241.8" y="68.89999999999999" font-size="10.3" text-anchor="end" fill="#000">600</text>
<text x="241.8" y="42.699999999999996" font-size="10.3" text-anchor="end" fill="#000">800</text>
<text x="219.7" y="82.6" font-size="8" text-anchor="middle" fill="#000" transform="rotate(-90 219.7 82.6)">number of colonies/dish</text>
<rect x="251.30" y="45.78" width="24.70" height="98.12" fill="#1aa024" stroke="#222" stroke-width="0.5"/>
<rect x="288.30" y="71.85" width="24.20" height="72.05" fill="#f41010" stroke="#222" stroke-width="0.5"/>
<line x1="263.6" y1="42.375" x2="263.6" y2="49.187" stroke="#111" stroke-width="0.7"/>
<line x1="262.0" y1="42.375" x2="265.20000000000005" y2="42.375" stroke="#111" stroke-width="0.7"/>
<line x1="262.0" y1="49.187" x2="265.20000000000005" y2="49.187" stroke="#111" stroke-width="0.7"/>
<line x1="300.4" y1="68.313" x2="300.4" y2="75.125" stroke="#111" stroke-width="0.7"/>
<line x1="298.79999999999995" y1="68.313" x2="302.0" y2="68.313" stroke="#111" stroke-width="0.7"/>
<line x1="298.79999999999995" y1="75.125" x2="302.0" y2="75.125" stroke="#111" stroke-width="0.7"/>
<text x="263.5" y="156.5" font-size="10" text-anchor="middle" fill="#000">control</text>
<text x="300.5" y="156.5" font-size="10" text-anchor="middle" fill="#000">null</text>
<text x="326.2" y="13.3" font-size="16" font-weight="bold" fill="#000">C</text>
<text x="426.5" y="32.2" font-size="10.4" text-anchor="middle" fill="#000">mBFU-Es</text>
<line x1="341.7" y1="143.6" x2="516.3" y2="143.6" stroke="#bfc7c7" stroke-width="0.7"/>
<line x1="341.7" y1="130.6" x2="516.3" y2="130.6" stroke="#bfc7c7" stroke-width="0.7"/>
<line x1="341.7" y1="117.6" x2="516.3" y2="117.6" stroke="#bfc7c7" stroke-width="0.7"/>
<line x1="341.7" y1="104.6" x2="516.3" y2="104.6" stroke="#bfc7c7" stroke-width="0.7"/>
<line x1="341.7" y1="91.6" x2="516.3" y2="91.6" stroke="#bfc7c7" stroke-width="0.7"/>
<line x1="341.7" y1="78.6" x2="516.3" y2="78.6" stroke="#bfc7c7" stroke-width="0.7"/>
<line x1="341.7" y1="65.6" x2="516.3" y2="65.6" stroke="#bfc7c7" stroke-width="0.7"/>
<line x1="341.7" y1="52.599999999999994" x2="516.3" y2="52.599999999999994" stroke="#bfc7c7" stroke-width="0.7"/>
<line x1="341.7" y1="39.599999999999994" x2="516.3" y2="39.599999999999994" stroke="#bfc7c7" stroke-width="0.7"/>
<line x1="341.7" y1="39.599999999999994" x2="341.7" y2="143.6" stroke="#bbb" stroke-width="0.8"/>
<line x1="516.3" y1="39.599999999999994" x2="516.3" y2="143.6" stroke="#bfc7c7" stroke-width="0.7"/>
<text x="337.5" y="147.2" font-size="10.3" text-anchor="end" fill="#000">0</text>
<text x="337.5" y="121.19999999999999" font-size="10.3" text-anchor="end" fill="#000">10</text>
<text x="337.5" y="95.19999999999999" font-size="10.3" text-anchor="end" fill="#000">20</text>
<text x="337.5" y="69.19999999999999" font-size="10.3" text-anchor="end" fill="#000">30</text>
<text x="337.5" y="43.199999999999996" font-size="10.3" text-anchor="end" fill="#000">40</text>
<text x="351.4" y="156.2" font-size="9" text-anchor="middle" fill="#000">1</text>
<text x="368.9" y="156.2" font-size="9" text-anchor="middle" fill="#000">2</text>
<text x="386.4" y="156.2" font-size="9" text-anchor="middle" fill="#000">3</text>
<text x="403.9" y="156.2" font-size="9" text-anchor="middle" fill="#000">4</text>
<text x="421.4" y="156.2" font-size="9" text-anchor="middle" fill="#000">5</text>
<text x="438.9" y="156.2" font-size="9" text-anchor="middle" fill="#000">6</text>
<text x="456.4" y="156.2" font-size="9" text-anchor="middle" fill="#000">7</text>
<text x="473.9" y="156.2" font-size="9" text-anchor="middle" fill="#000">8</text>
<text x="491.4" y="156.2" font-size="9" text-anchor="middle" fill="#000">9</text>
<text x="508.9" y="156.2" font-size="9" text-anchor="middle" fill="#000">10</text>
<text x="436" y="166.2" font-size="9.2" text-anchor="middle" fill="#000">days in culture</text>
<polyline points="351.4,143.6 368.9,143.6 386.4,143.6 403.9,138.4 421.4,130.6 438.9,107.2 456.4,83.8 473.9,78.6 491.4,78.6 508.9,78.6" fill="none" stroke="#e0203a" stroke-width="1.15"/>
<path d="M351.4 141.4L353.6 143.6L351.4 145.8L349.2 143.6Z" fill="#e0203a"/>
<path d="M368.9 141.4L371.1 143.6L368.9 145.8L366.7 143.6Z" fill="#e0203a"/>
<path d="M386.4 141.4L388.6 143.6L386.4 145.8L384.2 143.6Z" fill="#e0203a"/>
<line x1="403.9" y1="134.23999999999998" x2="403.9" y2="142.56" stroke="#333" stroke-width="1.0"/>
<line x1="402.79999999999995" y1="134.23999999999998" x2="405.0" y2="134.23999999999998" stroke="#333" stroke-width="1.0"/>
<line x1="402.79999999999995" y1="142.56" x2="405.0" y2="142.56" stroke="#333" stroke-width="1.0"/>
<path d="M403.9 136.2L406.1 138.4L403.9 140.6L401.7 138.4Z" fill="#e0203a"/>
<line x1="421.4" y1="124.1" x2="421.4" y2="137.1" stroke="#333" stroke-width="1.0"/>
<line x1="420.29999999999995" y1="124.1" x2="422.5" y2="124.1" stroke="#333" stroke-width="1.0"/>
<line x1="420.29999999999995" y1="137.1" x2="422.5" y2="137.1" stroke="#333" stroke-width="1.0"/>
<path d="M421.4 128.4L423.6 130.6L421.4 132.8L419.2 130.6Z" fill="#e0203a"/>
<line x1="438.9" y1="102.51999999999998" x2="438.9" y2="111.88" stroke="#333" stroke-width="1.0"/>
<line x1="437.79999999999995" y1="102.51999999999998" x2="440.0" y2="102.51999999999998" stroke="#333" stroke-width="1.0"/>
<line x1="437.79999999999995" y1="111.88" x2="440.0" y2="111.88" stroke="#333" stroke-width="1.0"/>
<path d="M438.9 105.0L441.1 107.2L438.9 109.4L436.7 107.2Z" fill="#e0203a"/>
<line x1="456.4" y1="77.03999999999999" x2="456.4" y2="90.56" stroke="#333" stroke-width="1.0"/>
<line x1="455.29999999999995" y1="77.03999999999999" x2="457.5" y2="77.03999999999999" stroke="#333" stroke-width="1.0"/>
<line x1="455.29999999999995" y1="90.56" x2="457.5" y2="90.56" stroke="#333" stroke-width="1.0"/>
<path d="M456.4 81.6L458.6 83.8L456.4 86.0L454.2 83.8Z" fill="#e0203a"/>
<line x1="473.9" y1="71.83999999999999" x2="473.9" y2="85.36" stroke="#333" stroke-width="1.0"/>
<line x1="472.79999999999995" y1="71.83999999999999" x2="475.0" y2="71.83999999999999" stroke="#333" stroke-width="1.0"/>
<line x1="472.79999999999995" y1="85.36" x2="475.0" y2="85.36" stroke="#333" stroke-width="1.0"/>
<path d="M473.9 76.4L476.1 78.6L473.9 80.8L471.7 78.6Z" fill="#e0203a"/>
<line x1="491.4" y1="75.47999999999999" x2="491.4" y2="81.72" stroke="#333" stroke-width="1.0"/>
<line x1="490.29999999999995" y1="75.47999999999999" x2="492.5" y2="75.47999999999999" stroke="#333" stroke-width="1.0"/>
<line x1="490.29999999999995" y1="81.72" x2="492.5" y2="81.72" stroke="#333" stroke-width="1.0"/>
<path d="M491.4 76.4L493.6 78.6L491.4 80.8L489.2 78.6Z" fill="#e0203a"/>
<line x1="508.9" y1="73.39999999999999" x2="508.9" y2="83.79999999999998" stroke="#333" stroke-width="1.0"/>
<line x1="507.79999999999995" y1="73.39999999999999" x2="510.0" y2="73.39999999999999" stroke="#333" stroke-width="1.0"/>
<line x1="507.79999999999995" y1="83.79999999999998" x2="510.0" y2="83.79999999999998" stroke="#333" stroke-width="1.0"/>
<path d="M508.9 76.4L511.1 78.6L508.9 80.8L506.7 78.6Z" fill="#e0203a"/>
<polyline points="351.4,143.6 368.9,141.0 386.4,130.6 403.9,65.6 421.4,52.6 438.9,50.0 456.4,50.0 473.9,47.4 491.4,50.0 508.9,47.4" fill="none" stroke="#30c030" stroke-width="1.15"/>
<path d="M351.4 141.4L353.6 143.6L351.4 145.8L349.2 143.6Z" fill="#30c030"/>
<line x1="368.9" y1="139.44" x2="368.9" y2="142.56" stroke="#333" stroke-width="1.0"/>
<line x1="367.79999999999995" y1="139.44" x2="370.0" y2="139.44" stroke="#333" stroke-width="1.0"/>
<line x1="367.79999999999995" y1="142.56" x2="370.0" y2="142.56" stroke="#333" stroke-width="1.0"/>
<path d="M368.9 138.8L371.1 141.0L368.9 143.2L366.7 141.0Z" fill="#30c030"/>
<line x1="386.4" y1="125.13999999999999" x2="386.4" y2="136.06" stroke="#333" stroke-width="1.0"/>
<line x1="385.29999999999995" y1="125.13999999999999" x2="387.5" y2="125.13999999999999" stroke="#333" stroke-width="1.0"/>
<line x1="385.29999999999995" y1="136.06" x2="387.5" y2="136.06" stroke="#333" stroke-width="1.0"/>
<path d="M386.4 128.4L388.6 130.6L386.4 132.8L384.2 130.6Z" fill="#30c030"/>
<line x1="403.9" y1="55.97999999999999" x2="403.9" y2="75.21999999999998" stroke="#333" stroke-width="1.0"/>
<line x1="402.79999999999995" y1="55.97999999999999" x2="405.0" y2="55.97999999999999" stroke="#333" stroke-width="1.0"/>
<line x1="402.79999999999995" y1="75.21999999999998" x2="405.0" y2="75.21999999999998" stroke="#333" stroke-width="1.0"/>
<path d="M403.9 63.4L406.1 65.6L403.9 67.8L401.7 65.6Z" fill="#30c030"/>
<line x1="421.4" y1="45.83999999999999" x2="421.4" y2="59.36" stroke="#333" stroke-width="1.0"/>
<line x1="420.29999999999995" y1="45.83999999999999" x2="422.5" y2="45.83999999999999" stroke="#333" stroke-width="1.0"/>
<line x1="420.29999999999995" y1="59.36" x2="422.5" y2="59.36" stroke="#333" stroke-width="1.0"/>
<path d="M421.4 50.4L423.6 52.6L421.4 54.8L419.2 52.6Z" fill="#30c030"/>
<line x1="438.9" y1="40.639999999999986" x2="438.9" y2="59.36" stroke="#333" stroke-width="1.0"/>
<line x1="437.79999999999995" y1="40.639999999999986" x2="440.0" y2="40.639999999999986" stroke="#333" stroke-width="1.0"/>
<line x1="437.79999999999995" y1="59.36" x2="440.0" y2="59.36" stroke="#333" stroke-width="1.0"/>
<path d="M438.9 47.8L441.1 50.0L438.9 52.2L436.7 50.0Z" fill="#30c030"/>
<line x1="456.4" y1="45.579999999999984" x2="456.4" y2="54.42" stroke="#333" stroke-width="1.0"/>
<line x1="455.29999999999995" y1="45.579999999999984" x2="457.5" y2="45.579999999999984" stroke="#333" stroke-width="1.0"/>
<line x1="455.29999999999995" y1="54.42" x2="457.5" y2="54.42" stroke="#333" stroke-width="1.0"/>
<path d="M456.4 47.8L458.6 50.0L456.4 52.2L454.2 50.0Z" fill="#30c030"/>
<line x1="473.9" y1="44.27999999999999" x2="473.9" y2="50.519999999999996" stroke="#333" stroke-width="1.0"/>
<line x1="472.79999999999995" y1="44.27999999999999" x2="475.0" y2="44.27999999999999" stroke="#333" stroke-width="1.0"/>
<line x1="472.79999999999995" y1="50.519999999999996" x2="475.0" y2="50.519999999999996" stroke="#333" stroke-width="1.0"/>
<path d="M473.9 45.2L476.1 47.4L473.9 49.6L471.7 47.4Z" fill="#30c030"/>
<line x1="491.4" y1="45.579999999999984" x2="491.4" y2="54.42" stroke="#333" stroke-width="1.0"/>
<line x1="490.29999999999995" y1="45.579999999999984" x2="492.5" y2="45.579999999999984" stroke="#333" stroke-width="1.0"/>
<line x1="490.29999999999995" y1="54.42" x2="492.5" y2="54.42" stroke="#333" stroke-width="1.0"/>
<path d="M491.4 47.8L493.6 50.0L491.4 52.2L489.2 50.0Z" fill="#30c030"/>
<line x1="508.9" y1="42.19999999999999" x2="508.9" y2="52.599999999999994" stroke="#333" stroke-width="1.0"/>
<line x1="507.79999999999995" y1="42.19999999999999" x2="510.0" y2="42.19999999999999" stroke="#333" stroke-width="1.0"/>
<line x1="507.79999999999995" y1="52.599999999999994" x2="510.0" y2="52.599999999999994" stroke="#333" stroke-width="1.0"/>
<path d="M508.9 45.2L511.1 47.4L508.9 49.6L506.7 47.4Z" fill="#30c030"/>
<text x="382.5" y="88" font-size="7.6" text-anchor="middle" fill="#000">control</text>
<text x="441.5" y="88" font-size="7.4" text-anchor="middle" fill="#000">null</text>
<text x="0.3" y="191.6" font-size="16" font-weight="bold" fill="#000">D</text>
<text x="64.9" y="193.8" font-size="9" text-anchor="middle" fill="#000">0h</text>
<text x="141" y="193.8" font-size="9" text-anchor="middle" fill="#000">12h</text>
<text x="206.5" y="193.8" font-size="9" text-anchor="middle" fill="#000">48h</text>
<line x1="20.8" y1="195.5" x2="20.8" y2="349.2" stroke="#000" stroke-width="1.2"/>
<path d="M20.8 191.5 L18.8 197.0 L22.8 197.0Z" fill="#000"/>
<line x1="20.8" y1="349.2" x2="237" y2="349.2" stroke="#000" stroke-width="1.2"/>
<path d="M241 349.2 L235.5 347.2 L235.5 351.2Z" fill="#000"/>
<text x="11" y="230.6" font-size="9.4" text-anchor="middle" transform="rotate(-90 11 230.6)">Sox6 control</text>
<text x="11" y="304.2" font-size="9.4" text-anchor="middle" transform="rotate(-90 11 304.2)">Sox6 null</text>
<text x="18.2" y="270" font-size="7.6" font-weight="bold" text-anchor="middle" fill="#000" transform="rotate(-90 18.2 270)">CD71</text>
<text x="125" y="359" font-size="8.6" font-weight="bold" text-anchor="middle" fill="#000">TER119</text>
<g filter="url(#bl)">
<path transform="scale(0.5)" d="M125 436h0m-6 7h0" stroke="rgb(102, 127, 238)" stroke-width="2.4" stroke-linecap="square" fill="none"/>
<path transform="scale(0.5)" d="M121 412h0m-2 27h0" stroke="rgb(85, 115, 236)" stroke-width="2.4" stroke-linecap="square" fill="none"/>
<path transform="scale(0.5)" d="M117 411h0m-34 2h0m35 0h0m-38 1h0m38 0h0m5 2h0m2 12h0m-15 22h0m-1 2h0m-1 2h0m-4 14h0m-4 9h0m-1 5h0m0 1h0m-21 37h0m9 0h0" stroke="rgb(68, 102, 234)" stroke-width="2.4" stroke-linecap="square" fill="none"/>
<path transform="scale(0.5)" d="M96 413h0m4 0h0m3 0h0m13 0h0m-39 1h0m0 0h0m0 0h0m8 0h0m1 0h0m0 0h0m4 0h0m8 0h0m10 0h0m0 0h0m12 0h0m-43 1h0m2 0h0m0 0h0m8 0h0m3 0h0m2 0h0m28 0h0m-44 1h0m4 0h0m-1 1h0m0 0h0m0 1h0m0 1h0m44 0h0m0 0h0m-47 1h0m0 1h0m0 0h0m3 0h0m47 2h0m0 2h0m-2 2h0m-2 4h0m-3 3h0m-7 10h0m-2 1h0m-1 2h0m1 0h0m-1 1h0m-1 2h0m-1 1h0m2 0h0m0 1h0m-2 1h0m-2 3h0m1 1h0m-1 2h0m0 0h0m1 0h0m0 2h0m0 0h0m-1 1h0m1 1h0m-1 1h0m0 1h0m-1 2h0m-1 2h0m-1 1h0m2 0h0m-4 4h0m1 0h0m0 1h0m0 0h0m-3 1h0m1 0h0m-1 4h0m-2 3h0m1 0h0m0 0h0m0 0h0m-1 1h0m1 0h0m-2 1h0m2 0h0m-2 2h0m1 2h0m-1 1h0m1 0h0m-1 1h0m0 0h0m0 4h0m-3 1h0m2 1h0m0 1h0m-1 2h0m-2 2h0m2 2h0m-1 2h0m0 1h0m-12 13h0m2 0h0m3 0h0" stroke="rgb(51, 90, 232)" stroke-width="2.4" stroke-linecap="square" fill="none"/>
<path transform="scale(0.5)" d="M96 414h0m6 0h0m17 0h0m-26 1h0m0 0h0m0 0h0m2 0h0m0 0h0m23 0h0m-25 1h0m-11 1h0m1 0h0m7 0h0m-7 1h0m4 0h0m0 0h0m2 0h0m33 0h0m-38 1h0m2 0h0m4 0h0m-7 1h0m0 0h0m1 0h0m0 0h0m-1 1h0m0 0h0m2 0h0m0 0h0m2 0h0m2 0h0m-7 1h0m2 0h0m5 0h0m33 0h0m-44 1h0m7 0h0m-8 1h0m5 0h0m0 0h0m4 0h0m-8 1h0m0 0h0m0 0h0m3 0h0m4 0h0m37 0h0m1 0h0m1 0h0m-47 1h0m6 0h0m-3 1h0m3 0h0m-4 1h0m-2 1h0m1 0h0m45 0h0m-48 1h0m2 0h0m44 1h0m1 0h0m-13 11h0m1 0h0m1 1h0m1 0h0m-20 1h0m1 0h0m0 0h0m14 0h0m0 0h0m-3 1h0m6 0h0m-20 1h0m7 0h0m7 0h0m2 0h0m-17 1h0m5 0h0m3 0h0m10 0h0m-16 1h0m2 0h0m1 0h0m4 0h0m5 0h0m-12 1h0m2 0h0m11 0h0m-15 1h0m15 0h0m-14 1h0m1 0h0m0 0h0m13 0h0m0 0h0m1 0h0m-13 1h0m10 0h0m1 1h0m-1 2h0m3 0h0m-1 1h0m1 0h0m-14 1h0m1 1h0m1 0h0m0 0h0m1 0h0m-3 1h0m4 0h0m3 0h0m2 0h0m1 0h0m0 0h0m-7 1h0m1 0h0m5 0h0m-9 1h0m3 0h0m1 0h0m3 0h0m0 0h0m-7 1h0m2 0h0m1 0h0m3 0h0m1 0h0m1 0h0m1 0h0m-10 1h0m1 0h0m4 0h0m4 0h0m4 0h0m-13 1h0m12 0h0m0 0h0m2 0h0m-4 1h0m3 0h0m-11 1h0m6 0h0m3 0h0m1 0h0m1 0h0m-11 1h0m0 0h0m4 0h0m3 0h0m2 0h0m-6 1h0m0 1h0m1 0h0m1 0h0m1 0h0m1 1h0m1 0h0m-5 1h0m1 0h0m1 0h0m2 0h0m1 0h0m-5 1h0m3 0h0m1 0h0m1 0h0m-7 1h0m6 0h0m-1 1h0m-4 1h0m2 0h0m0 1h0m-3 1h0m-2 1h0m2 0h0m1 0h0m0 0h0m-1 1h0m2 1h0m0 1h0m-5 1h0m2 0h0m3 0h0m0 0h0m-4 4h0m-1 1h0m0 0h0m-1 1h0m1 0h0m0 1h0m-4 1h0m2 0h0m2 0h0m1 0h0m1 0h0m-4 1h0m3 0h0m0 0h0m2 0h0m-2 1h0m1 0h0m1 0h0m0 0h0m-5 1h0m-3 1h0m9 0h0m-5 1h0m3 0h0m-4 1h0m0 0h0m1 0h0m1 0h0m0 0h0m-4 1h0m4 0h0m1 0h0m1 0h0m-2 1h0m-4 1h0m4 0h0m1 0h0m0 1h0m0 0h0m0 0h0m-2 1h0m0 1h0m2 3h0m1 1h0m-2 1h0m2 0h0m-1 1h0m0 1h0m1 0h0m0 0h0m-3 5h0m0 0h0m1 1h0m0 0h0m-14 1h0m12 2h0m-12 1h0m1 0h0m2 0h0" stroke="rgb(44, 94, 233)" stroke-width="2.4" stroke-linecap="square" fill="none"/>
<path transform="scale(0.5)" d="M104 414h0m0 0h0m11 0h0m-18 1h0m1 0h0m8 0h0m7 0h0m-18 1h0m10 0h0m-12 1h0m2 0h0m0 0h0m1 0h0m0 0h0m1 0h0m21 0h0m-21 1h0m25 2h0m0 1h0m0 0h0m-33 1h0m4 0h0m-6 1h0m2 0h0m0 0h0m1 0h0m3 0h0m-6 1h0m4 0h0m1 0h0m-5 1h0m1 0h0m1 0h0m3 0h0m-2 1h0m-6 1h0m2 0h0m-7 1h0m0 0h0m4 0h0m5 0h0m0 0h0m-9 1h0m1 0h0m0 0h0m0 1h0m1 0h0m-6 1h0m0 0h0m4 0h0m1 0h0m3 1h0m-5 1h0m1 0h0m-4 1h0m1 0h0m0 0h0m0 0h0m1 0h0m0 0h0m-2 1h0m3 0h0m37 1h0m-2 3h0m-24 1h0m22 0h0m1 0h0m-20 1h0m0 0h0m1 0h0m-6 1h0m10 0h0m6 0h0m0 0h0m-14 1h0m0 0h0m6 0h0m12 0h0m-20 1h0m1 0h0m10 0h0m0 0h0m5 0h0m-15 1h0m0 0h0m1 0h0m11 0h0m0 0h0m-1 1h0m2 0h0m2 0h0m-17 1h0m16 0h0m-26 2h0m12 0h0m11 0h0m2 0h0m0 0h0m1 0h0m-13 1h0m7 0h0m3 0h0m0 0h0m1 0h0m1 0h0m-8 1h0m6 0h0m3 0h0m-11 1h0m1 0h0m2 0h0m1 0h0m0 0h0m2 0h0m0 0h0m-8 1h0m11 0h0m0 0h0m1 0h0m-8 1h0m0 0h0m1 0h0m0 0h0m0 0h0m5 0h0m-10 1h0m3 0h0m4 0h0m1 0h0m2 0h0m0 0h0m0 0h0m2 0h0m1 0h0m-15 1h0m0 0h0m2 0h0m5 0h0m4 0h0m0 0h0m0 0h0m-11 1h0m1 0h0m12 0h0m-14 1h0m1 0h0m1 0h0m13 0h0m-14 2h0m0 0h0m-1 1h0m-10 1h0m-1 1h0m13 0h0m-13 1h0m12 0h0m0 0h0m2 0h0m-3 1h0m1 0h0m1 0h0m0 0h0m0 0h0m-13 1h0m11 0h0m1 0h0m2 0h0m2 0h0m-14 1h0m0 0h0m0 0h0m-1 1h0m1 0h0m14 0h0m-2 1h0m3 0h0m0 0h0m-17 1h0m1 0h0m1 0h0m14 0h0m1 0h0m-16 1h0m1 0h0m0 0h0m11 0h0m5 0h0m-16 1h0m12 0h0m0 0h0m0 0h0m1 0h0m-14 1h0m13 0h0m3 0h0m-3 1h0m0 1h0m1 0h0m2 0h0m-16 1h0m0 1h0m11 0h0m1 0h0m0 0h0m1 1h0m1 0h0m-3 1h0m1 0h0m2 0h0m-2 1h0m0 2h0m1 0h0m1 1h0m-2 1h0m-1 1h0m0 0h0m2 0h0m-5 1h0m0 1h0m4 0h0m-5 1h0m4 0h0m-5 1h0m2 0h0m-4 1h0m1 0h0m2 0h0m1 1h0m-9 1h0m1 0h0m2 0h0m5 0h0m-7 1h0m4 0h0m1 0h0m0 0h0m1 0h0m-6 1h0m6 0h0m2 0h0m0 0h0m-8 1h0m1 0h0m2 0h0m0 0h0m4 0h0m-6 1h0m7 0h0m-9 2h0m9 0h0m2 0h0m-10 1h0m9 0h0m-10 1h0m1 1h0m12 5h0m1 0h0m-1 4h0m1 0h0m1 0h0m-2 1h0m1 1h0m1 1h0m-14 2h0m11 0h0m-11 1h0m11 0h0m0 0h0m0 0h0m-11 1h0m2 0h0m9 0h0m-4 1h0m-3 1h0m0 0h0m2 0h0m3 0h0m-2 1h0" stroke="rgb(43, 111, 235)" stroke-width="2.4" stroke-linecap="square" fill="none"/>
<path transform="scale(0.5)" d="M112 414h0m-4 1h0m1 0h0m1 0h0m-12 1h0m0 0h0m2 0h0m2 0h0m-3 1h0m1 0h0m5 0h0m1 0h0m0 0h0m10 0h0m-19 1h0m-2 1h0m0 0h0m0 0h0m2 1h0m-3 1h0m1 0h0m1 0h0m24 2h0m-27 1h0m2 0h0m1 0h0m25 0h0m0 0h0m-28 1h0m27 1h0m0 0h0m-29 1h0m1 0h0m29 0h0m-30 1h0m-2 1h0m-5 1h0m2 0h0m1 0h0m5 0h0m26 0h0m-30 1h0m-5 1h0m1 0h0m0 0h0m33 0h0m2 0h0m-36 1h0m1 0h0m0 0h0m0 0h0m33 0h0m-37 1h0m1 0h0m0 0h0m3 0h0m1 0h0m0 0h0m0 0h0m-5 1h0m2 0h0m1 0h0m0 0h0m1 0h0m-7 1h0m1 0h0m4 0h0m1 0h0m1 0h0m1 0h0m2 0h0m-12 1h0m0 0h0m1 0h0m1 0h0m4 0h0m1 0h0m-4 1h0m1 0h0m2 0h0m4 0h0m1 0h0m4 0h0m2 0h0m1 0h0m-17 1h0m0 0h0m4 0h0m1 0h0m4 0h0m1 0h0m4 0h0m0 0h0m2 0h0m1 0h0m18 0h0m0 0h0m-35 1h0m0 0h0m5 0h0m0 0h0m0 0h0m1 0h0m2 0h0m1 0h0m2 0h0m4 0h0m4 0h0m3 0h0m2 0h0m4 0h0m0 0h0m4 0h0m-29 1h0m0 0h0m2 0h0m4 0h0m0 0h0m0 0h0m14 0h0m-23 1h0m0 0h0m0 0h0m1 0h0m0 0h0m0 0h0m1 0h0m5 0h0m2 0h0m0 0h0m0 0h0m1 0h0m10 0h0m0 0h0m2 0h0m2 0h0m2 0h0m0 0h0m3 0h0m-20 1h0m1 0h0m13 0h0m1 0h0m-25 1h0m0 0h0m3 0h0m4 0h0m2 0h0m2 0h0m-10 1h0m0 0h0m0 0h0m1 0h0m1 0h0m-2 1h0m1 0h0m1 0h0m4 0h0m2 0h0m1 0h0m-2 1h0m2 0h0m-1 1h0m2 0h0m-8 1h0m-1 1h0m1 0h0m7 0h0m0 0h0m-9 1h0m1 0h0m0 0h0m8 0h0m0 0h0m1 1h0m-10 1h0m1 0h0m0 0h0m7 0h0m1 0h0m0 0h0m1 0h0m0 0h0m-11 2h0m1 0h0m2 0h0m6 0h0m1 0h0m-10 1h0m0 0h0m2 0h0m0 0h0m7 0h0m2 0h0m-10 1h0m1 0h0m-1 1h0m1 0h0m0 0h0m5 0h0m1 0h0m1 0h0m-7 1h0m5 0h0m-6 1h0m0 0h0m2 0h0m5 0h0m-8 1h0m3 0h0m6 0h0m0 0h0m0 0h0m-6 1h0m1 0h0m0 0h0m3 0h0m1 0h0m-6 1h0m0 0h0m3 0h0m1 0h0m0 0h0m1 0h0m1 0h0m-7 1h0m1 0h0m2 0h0m2 0h0m0 0h0m1 0h0m0 0h0m0 0h0m3 0h0m-8 1h0m6 0h0m2 0h0m0 0h0m-6 1h0m0 1h0m0 0h0m2 0h0m1 0h0m1 0h0m0 0h0m2 0h0m1 0h0m-5 1h0m0 0h0m2 1h0m2 0h0m-5 1h0m0 0h0m3 0h0m1 0h0m2 0h0m-5 1h0m2 0h0m1 0h0m0 0h0m1 0h0m3 0h0m-9 1h0m2 0h0m0 0h0m3 0h0m1 0h0m0 0h0m-6 1h0m2 0h0m1 0h0m0 0h0m2 0h0m1 0h0m2 0h0m0 0h0m-9 1h0m1 0h0m0 0h0m1 0h0m1 0h0m0 0h0m1 0h0m1 0h0m2 0h0m1 0h0m1 0h0m1 0h0m-10 1h0m2 0h0m7 0h0m-9 1h0m3 0h0m0 0h0m0 0h0m3 0h0m-8 1h0m1 0h0m0 0h0m2 0h0m2 0h0m2 0h0m1 0h0m0 0h0m-8 1h0m1 0h0m1 0h0m1 1h0m0 0h0m4 0h0m2 0h0m-9 1h0m1 0h0m0 0h0m0 0h0m1 0h0m1 0h0m1 0h0m1 0h0m2 0h0m0 0h0m3 0h0m-9 1h0m1 0h0m2 0h0m1 0h0m2 0h0m0 0h0m0 0h0m4 0h0m-12 1h0m3 0h0m5 0h0m1 0h0m2 0h0m1 0h0m0 0h0m1 0h0m-13 1h0m1 0h0m1 0h0m3 0h0m0 0h0m4 0h0m0 0h0m0 0h0m0 0h0m3 0h0m1 0h0m-13 1h0m0 0h0m2 0h0m3 0h0m1 0h0m1 0h0m1 0h0m-7 1h0m4 0h0m0 0h0m1 0h0m2 0h0m2 0h0m-9 1h0m0 0h0m1 0h0m0 0h0m0 0h0m2 0h0m4 0h0m0 0h0m1 0h0m-8 1h0m1 0h0m1 0h0m0 0h0m1 0h0m0 0h0m2 0h0m3 0h0m-7 1h0m1 0h0m-3 1h0m2 0h0m0 1h0m1 0h0m2 0h0m-4 1h0m1 0h0m0 0h0m0 0h0m1 0h0m0 1h0m1 4h0m-2 1h0m2 0h0m-3 1h0m1 0h0m0 0h0m0 0h0m3 0h0m1 0h0m1 0h0m0 0h0m-3 1h0m2 0h0m1 0h0m2 0h0m-7 1h0m0 0h0m1 0h0m4 0h0m0 0h0m2 0h0m-2 1h0m-5 1h0m0 0h0m6 0h0m1 0h0m-6 1h0m0 0h0m6 0h0m0 0h0m1 0h0m-8 1h0m1 0h0m4 0h0m2 0h0m0 0h0m0 0h0m2 0h0m0 2h0m0 0h0m1 0h0m-9 1h0m7 0h0m0 0h0m-9 1h0m9 0h0m1 0h0m1 0h0m1 0h0m1 0h0m1 0h0m-15 1h0m1 0h0m1 0h0m10 0h0m1 0h0m1 0h0m1 0h0m-14 1h0m0 0h0m1 0h0m0 0h0m8 0h0m3 0h0m2 0h0m-14 1h0m0 0h0m9 0h0m-9 1h0m1 0h0m1 0h0m8 0h0m0 0h0m-9 1h0m7 0h0m-7 1h0m2 0h0m0 0h0m0 0h0m6 0h0m0 0h0m0 0h0m-7 1h0m0 0h0m7 0h0m-5 1h0m3 0h0m1 0h0m0 0h0m2 0h0m-6 1h0m2 0h0m2 0h0m0 0h0m1 0h0m-5 1h0m1 0h0m0 0h0m2 0h0m0 0h0m1 0h0" stroke="rgb(41, 127, 237)" stroke-width="2.4" stroke-linecap="square" fill="none"/>
<path transform="scale(0.5)" d="M108 416h0m7 1h0m0 0h0m-9 1h0m9 0h0m2 0h0m1 0h0m-17 1h0m17 0h0m-18 1h0m1 0h0m1 0h0m15 0h0m0 0h0m-21 1h0m22 0h0m2 0h0m-2 7h0m-25 1h0m-4 1h0m2 0h0m-3 1h0m3 0h0m0 0h0m0 0h0m-4 1h0m2 0h0m0 0h0m0 1h0m1 0h0m-3 1h0m2 0h0m0 0h0m0 0h0m0 0h0m1 0h0m-1 1h0m1 0h0m-1 1h0m1 0h0m0 0h0m2 0h0m-3 1h0m1 0h0m1 0h0m2 0h0m19 0h0m1 0h0m0 0h0m-22 1h0m2 0h0m2 0h0m14 0h0m0 0h0m4 0h0m-16 1h0m0 0h0m1 0h0m11 0h0m1 0h0m-10 1h0m1 0h0m-1 1h0m1 0h0m-20 1h0m1 0h0m-1 1h0m-1 1h0m1 0h0m0 0h0m1 0h0m0 0h0m-3 1h0m0 0h0m1 0h0m2 0h0m-3 1h0m2 0h0m-3 2h0m2 0h0m0 0h0m0 0h0m2 0h0m-1 1h0m1 0h0m-4 1h0m0 0h0m1 0h0m1 0h0m3 0h0m1 0h0m-3 1h0m0 0h0m0 0h0m1 0h0m1 0h0m-5 1h0m0 0h0m2 0h0m2 0h0m0 0h0m-3 1h0m0 1h0m2 0h0m0 0h0m2 0h0m0 1h0m0 0h0m-5 1h0m0 0h0m2 0h0m0 0h0m2 0h0m1 0h0m-4 1h0m3 0h0m-4 1h0m2 0h0m1 0h0m0 0h0m0 0h0m0 0h0m2 0h0m-1 1h0m-3 1h0m2 0h0m1 0h0m-3 40h0m3 0h0m-4 1h0m0 0h0m2 0h0m0 1h0m0 0h0m1 1h0m1 0h0m0 0h0m-3 1h0m0 0h0m1 0h0m1 0h0m2 0h0m-4 1h0m1 0h0m-2 1h0m1 0h0m0 0h0m1 0h0m1 0h0m-3 1h0m1 0h0m0 0h0m2 0h0m1 0h0m2 0h0m-5 1h0m1 0h0m1 0h0m3 0h0m1 0h0m-7 1h0m1 0h0m1 0h0m0 0h0m1 0h0m1 0h0m2 0h0m1 0h0m-7 1h0m2 0h0m0 0h0m2 0h0m1 0h0m1 0h0m-6 1h0m4 0h0m-2 1h0m1 0h0m0 0h0m1 1h0m-1 1h0m1 0h0m1 0h0m-2 1h0m2 0h0m0 0h0" stroke="rgb(40, 143, 239)" stroke-width="2.4" stroke-linecap="square" fill="none"/>
<path transform="scale(0.5)" d="M110 416h0m1 0h0m0 0h0m2 0h0m0 0h0m-3 1h0m0 0h0m1 0h0m1 0h0m0 0h0m1 0h0m0 0h0m0 0h0m-10 1h0m1 0h0m6 0h0m3 0h0m1 0h0m0 0h0m-12 1h0m1 0h0m0 0h0m13 0h0m-17 1h0m15 0h0m-15 1h0m-3 1h0m3 0h0m-2 1h0m0 0h0m0 0h0m1 0h0m21 0h0m-22 1h0m22 0h0m-23 1h0m1 0h0m-2 1h0m0 0h0m23 0h0m-23 1h0m24 0h0m0 1h0m-26 2h0m0 0h0m24 0h0m0 0h0m-23 1h0m23 0h0m-26 1h0m24 0h0m1 0h0m-26 1h0m1 0h0m1 0h0m22 1h0m1 0h0m-21 1h0m18 0h0m2 0h0m-4 1h0m0 0h0m0 0h0m-16 1h0m2 0h0m0 0h0m15 0h0m1 0h0m0 0h0m-13 1h0m2 0h0m2 0h0m1 0h0m2 0h0m1 0h0m0 0h0m-7 1h0m3 0h0m0 0h0m1 0h0m1 0h0m-4 1h0" stroke="rgb(42, 163, 231)" stroke-width="2.4" stroke-linecap="square" fill="none"/>
<path transform="scale(0.5)" d="M106 418h0m6 0h0m1 0h0m-6 1h0m1 0h0m4 0h0m0 0h0m-9 1h0m1 0h0m13 1h0m1 0h0m-16 1h0m14 0h0m1 0h0m-18 1h0m0 0h0m1 0h0m-1 1h0m19 0h0m2 0h0m-1 1h0m0 0h0m-23 1h0m1 0h0m1 0h0m0 0h0m21 0h0m-22 1h0m-2 1h0m1 0h0m22 0h0m-24 1h0m24 0h0m-24 1h0m2 0h0m18 0h0m0 0h0m0 0h0m0 0h0m2 0h0m-22 1h0m1 0h0m1 0h0m19 0h0m0 0h0m-22 1h0m21 0h0m1 0h0m-23 1h0m2 0h0m18 0h0m1 0h0m0 0h0m1 0h0m0 0h0m-18 1h0m0 0h0m15 0h0m0 0h0m0 0h0m1 0h0m-17 1h0m16 0h0m-16 1h0m0 0h0m1 0h0m0 0h0m2 0h0m2 0h0m1 0h0m0 0h0m0 0h0m0 0h0m5 0h0m0 0h0m4 0h0m1 0h0m-15 1h0m2 0h0m1 0h0m2 0h0m1 0h0m0 0h0m0 0h0m1 0h0m2 0h0m0 0h0m2 0h0m1 0h0m1 0h0m0 0h0m0 0h0m-8 1h0m2 0h0m4 0h0m3 0h0" stroke="rgb(45, 187, 217)" stroke-width="2.4" stroke-linecap="square" fill="none"/>
<path transform="scale(0.5)" d="M109 418h0m0 0h0m2 0h0m0 0h0m1 0h0m-3 1h0m1 0h0m0 0h0m-6 1h0m1 0h0m1 0h0m4 0h0m6 0h0m-11 1h0m0 0h0m10 0h0m1 0h0m-14 1h0m0 0h0m2 0h0m2 0h0m11 0h0m1 0h0m0 0h0m-17 1h0m0 0h0m0 0h0m0 0h0m0 0h0m1 0h0m14 0h0m1 0h0m0 0h0m1 0h0m-20 1h0m2 0h0m0 0h0m17 0h0m-19 1h0m2 0h0m17 0h0m0 0h0m-17 1h0m16 0h0m1 0h0m0 0h0m0 0h0m-1 1h0m0 0h0m0 0h0m1 0h0m0 0h0m0 0h0m0 0h0m-21 1h0m0 0h0m20 0h0m1 0h0m-20 1h0m0 1h0m0 0h0m0 0h0m-3 2h0m1 0h0m0 1h0m0 0h0m0 0h0m1 0h0m0 0h0m1 0h0m1 0h0m13 0h0m-16 1h0m0 0h0m1 0h0m1 0h0m0 0h0m1 0h0m1 0h0m1 0h0m8 0h0m0 0h0m0 0h0m1 0h0m1 0h0m-14 1h0m1 0h0m1 0h0m0 0h0m2 0h0m7 0h0m0 0h0m1 0h0m1 0h0m-11 1h0m9 0h0" stroke="rgb(49, 210, 202)" stroke-width="2.4" stroke-linecap="square" fill="none"/>
<path transform="scale(0.5)" d="M107 420h0m1 0h0m1 0h0m2 0h0m0 0h0m2 0h0m1 0h0m-7 1h0m1 0h0m0 0h0m1 0h0m0 0h0m1 0h0m0 0h0m0 0h0m0 0h0m1 0h0m0 0h0m0 0h0m1 0h0m0 0h0m-5 1h0m7 0h0m2 0h0m-13 1h0m11 0h0m1 0h0m-14 1h0m13 0h0m2 0h0m-16 1h0m0 0h0m1 0h0m1 0h0m-3 1h0m0 0h0m0 2h0m1 0h0m14 0h0m2 0h0m0 0h0m-17 1h0m1 0h0m14 0h0m1 0h0m-18 1h0m0 0h0m0 0h0m1 0h0m0 0h0m1 0h0m0 0h0m13 0h0m2 0h0m1 0h0m-19 1h0m0 0h0m1 0h0m1 0h0m0 0h0m1 0h0m0 0h0m1 0h0m0 0h0m11 0h0m1 0h0m1 0h0m1 0h0m-16 1h0m0 0h0m2 0h0m10 0h0m0 0h0m-10 1h0m8 0h0m1 0h0m0 0h0m0 0h0m-8 1h0m2 0h0m1 0h0m1 0h0m0 0h0m0 0h0m-4 1h0m0 0h0m0 0h0m0 0h0m1 0h0m0 0h0m1 0h0m0 0h0m0 0h0m2 0h0m1 0h0" stroke="rgb(46, 220, 153)" stroke-width="2.4" stroke-linecap="square" fill="none"/>
<path transform="scale(0.5)" d="M104 422h0m2 0h0m1 0h0m1 0h0m0 0h0m5 0h0m0 0h0m-8 1h0m0 0h0m0 0h0m1 0h0m1 0h0m6 0h0m-11 1h0m0 0h0m1 0h0m0 0h0m1 0h0m1 0h0m10 0h0m0 0h0m-12 1h0m0 0h0m1 0h0m0 0h0m10 0h0m1 0h0m-14 1h0m0 0h0m1 0h0m1 0h0m11 0h0m0 0h0m1 0h0m0 0h0m1 0h0m0 0h0m-16 1h0m1 0h0m15 0h0m0 0h0m-16 1h0m1 0h0m1 0h0m0 0h0m8 0h0m2 0h0m0 0h0m2 0h0m0 0h0m0 0h0m1 0h0m-14 1h0m0 0h0m0 0h0m1 0h0m9 0h0m1 0h0m0 0h0m0 0h0m0 0h0m1 0h0m-11 1h0m6 0h0m1 0h0m3 0h0m0 0h0m2 0h0m-13 1h0m0 0h0m1 0h0m6 0h0m1 0h0m1 0h0m-9 1h0m0 0h0m1 0h0m2 0h0m1 0h0m1 0h0m0 0h0m-5 1h0m0 0h0m0 0h0m1 0h0m0 0h0m1 0h0m0 0h0m1 0h0m0 0h0m0 0h0m1 0h0m0 0h0m1 0h0m1 0h0m0 0h0m1 0h0m0 0h0m-7 1h0m5 0h0" stroke="rgb(42, 227, 95)" stroke-width="2.4" stroke-linecap="square" fill="none"/>
<path transform="scale(0.5)" d="M109 422h0m0 0h0m1 0h0m1 0h0m-3 1h0m2 0h0m0 0h0m0 0h0m0 0h0m1 0h0m1 0h0m-8 1h0m1 0h0m1 0h0m1 0h0m0 0h0m0 0h0m0 0h0m2 0h0m2 0h0m1 0h0m0 0h0m0 0h0m1 0h0m0 0h0m-9 1h0m1 0h0m1 0h0m0 0h0m1 0h0m0 0h0m1 0h0m0 0h0m2 0h0m0 0h0m0 0h0m0 0h0m1 0h0m0 0h0m1 0h0m0 0h0m1 0h0m0 0h0m0 0h0m1 0h0m-12 1h0m0 0h0m0 0h0m2 0h0m2 0h0m1 0h0m1 0h0m3 0h0m0 0h0m1 0h0m1 0h0m1 0h0m0 0h0m-11 1h0m7 0h0m1 0h0m1 0h0m0 0h0m0 0h0m1 0h0m0 0h0m-11 1h0m1 0h0m0 0h0m1 0h0m2 0h0m2 0h0m0 0h0m0 0h0m1 0h0m0 0h0m3 0h0m-10 1h0m1 0h0m0 0h0m1 0h0m1 0h0m1 0h0m0 0h0m1 0h0m0 0h0m1 0h0m0 0h0m1 0h0m1 0h0m0 0h0m-7 1h0m0 0h0m1 0h0m1 0h0m0 0h0m1 0h0m0 0h0m0 0h0m1 0h0m2 0h0m-7 1h0m0 0h0m2 0h0m0 0h0m0 0h0m2 0h0m0 0h0m1 0h0m-4 1h0m0 0h0m2 0h0m2 0h0m0 0h0m0 0h0" stroke="rgb(51, 232, 57)" stroke-width="2.4" stroke-linecap="square" fill="none"/>
<path transform="scale(0.5)" d="M109 424h0m1 0h0m-2 1h0m1 0h0m0 0h0m0 0h0m-5 1h0m1 0h0m0 0h0m1 0h0m1 0h0m0 0h0m0 0h0m1 0h0m1 0h0m0 0h0m-5 1h0m0 0h0m1 0h0m0 0h0m1 0h0m0 0h0m2 0h0m0 0h0m0 0h0m0 0h0m1 0h0m1 0h0m0 0h0m-6 1h0m2 0h0m1 0h0m2 0h0" stroke="rgb(78, 233, 52)" stroke-width="2.4" stroke-linecap="square" fill="none"/>
</g>
<rect x="37.00" y="196.90" width="64.20" height="64.30" fill="none" stroke="#9a9aa8" stroke-width="0.8"/>
<line x1="37" y1="196.9" x2="64.6" y2="196.9" stroke="#3a3aa8" stroke-width="1.0"/>
<line x1="37" y1="196.9" x2="37" y2="261.2" stroke="#3a3aa8" stroke-width="1.0"/>
<line x1="64.6" y1="196.9" x2="64.6" y2="261.2" stroke="#3a3aa8" stroke-width="1.0"/>
<line x1="37" y1="239.5" x2="64.6" y2="239.5" stroke="#3a3aa8" stroke-width="1.0"/>
<text x="40.2" y="204.1" font-size="7" fill="#000">84.6</text>
<text x="98.10000000000001" y="228.25" font-size="7.2" font-weight="bold" text-anchor="end" fill="#000">0.0</text>
<text x="45.5" y="258.59999999999997" font-size="7" fill="#000">15.4</text>
<g filter="url(#bl)">
<path transform="scale(0.5)" d="M319 397h0m-93 9h0m107 2h0m-104 4h0m-3 3h0m101 0h0m-90 15h0m83 2h0m-89 2h0m67 5h0m18 0h0" stroke="rgb(102, 127, 238)" stroke-width="2.4" stroke-linecap="square" fill="none"/>
<path transform="scale(0.5)" d="M239 399h0m-1 1h0m81 1h0m6 16h0m-89 1h0m0 2h0m79 11h0m-3 4h0m-21 2h0m21 0h0m-26 1h0m-46 3h0m31 5h0m-31 1h0m1 6h0m15 25h0m-17 6h0m-5 20h0m1 6h0m1 1h0m11 0h0m-12 1h0" stroke="rgb(85, 115, 236)" stroke-width="2.4" stroke-linecap="square" fill="none"/>
<path transform="scale(0.5)" d="M261 395h0m-14 2h0m1 0h0m-2 1h0m3 0h0m10 0h0m55 0h0m-68 1h0m-2 2h0m79 5h0m-78 3h0m76 5h0m-81 9h0m0 1h0m80 0h0m0 0h0m-2 2h0m-29 4h0m17 0h0m5 1h0m-25 2h0m0 0h0m13 0h0m3 0h0m5 0h0m-12 1h0m-16 3h0m-4 4h0m1 0h0m-8 3h0m-1 1h0m-23 6h0m21 1h0m-22 1h0m-1 4h0m-2 5h0m0 1h0m-1 2h0m21 0h0m-19 1h0m18 0h0m-20 2h0m1 2h0m18 2h0m-19 1h0m2 1h0m4 0h0m4 1h0m-2 2h0m-10 1h0m2 0h0m-1 1h0m4 7h0m-4 18h0m13 0h0m-15 1h0m4 0h0m0 1h0m2 0h0m3 2h0m0 0h0m0 2h0m-6 1h0m6 0h0" stroke="rgb(68, 102, 234)" stroke-width="2.4" stroke-linecap="square" fill="none"/>
<path transform="scale(0.5)" d="M262 398h0m2 2h0m-6 1h0m-13 1h0m9 0h0m-9 1h0m76 1h0m-75 1h0m0 1h0m0 2h0m73 2h0m2 0h0m-74 1h0m-7 2h0m0 0h0m1 0h0m1 0h0m-1 1h0m0 1h0m1 0h0m76 0h0m-77 1h0m74 2h0m0 0h0m-73 1h0m1 2h0m72 1h0m2 0h0m-76 1h0m2 1h0m73 0h0m-5 4h0m-24 1h0m6 0h0m7 1h0m-58 1h0m43 0h0m11 0h0m0 0h0m3 0h0m-55 1h0m-1 1h0m35 0h0m4 0h0m-39 1h0m3 2h0m-3 1h0m32 1h0m-31 1h0m2 1h0m4 1h0m-7 1h0m3 0h0m20 0h0m-18 1h0m17 0h0m-22 1h0m4 0h0m19 1h0m-21 1h0m5 0h0m7 0h0m6 0h0m-17 1h0m1 0h0m-3 1h0m9 0h0m0 0h0m3 0h0m4 0h0m1 0h0m-10 2h0m0 0h0m0 0h0m-5 1h0m1 0h0m1 0h0m8 1h0m9 1h0m0 1h0m-17 1h0m5 0h0m-6 1h0m-2 2h0m5 0h0m3 0h0m2 0h0m1 0h0m0 0h0m5 0h0m-12 1h0m1 0h0m11 0h0m-16 1h0m-1 1h0m15 0h0m-17 1h0m2 0h0m1 0h0m5 0h0m6 0h0m-3 1h0m2 0h0m-13 1h0m2 0h0m5 0h0m7 0h0m-6 2h0m2 0h0m3 0h0m-13 2h0m4 0h0m1 0h0m2 0h0m1 0h0m7 0h0m-5 1h0m3 1h0m-10 1h0m2 0h0m1 1h0m8 0h0m-3 1h0m2 0h0m0 2h0m-15 2h0m3 1h0m-2 1h0m4 1h0m-1 1h0m1 0h0m2 0h0m-2 1h0m4 0h0m1 2h0m0 2h0m1 0h0m-8 2h0m-1 1h0m10 0h0m-17 5h0m1 3h0m1 0h0m16 0h0m-17 1h0m13 1h0m2 0h0m-13 1h0m12 0h0m-1 1h0m-5 2h0m2 0h0m2 0h0m-1 2h0m-3 2h0" stroke="rgb(51, 90, 232)" stroke-width="2.4" stroke-linecap="square" fill="none"/>
<path transform="scale(0.5)" d="M274 395h0m1 0h0m31 0h0m-31 1h0m3 0h0m-3 1h0m-2 1h0m-3 1h0m1 0h0m-12 1h0m4 0h0m-4 1h0m4 0h0m5 0h0m-17 1h0m4 0h0m6 0h0m-12 1h0m11 0h0m-10 1h0m1 0h0m5 0h0m-7 1h0m2 0h0m2 0h0m1 0h0m-1 1h0m-3 1h0m8 0h0m60 0h0m0 0h0m-67 2h0m69 0h0m-69 1h0m68 1h0m-66 1h0m-5 2h0m0 0h0m68 1h0m-70 1h0m0 0h0m0 1h0m1 0h0m0 3h0m66 0h0m1 0h0m-68 3h0m3 0h0m-2 1h0m63 0h0m2 0h0m0 0h0m-65 2h0m49 0h0m6 0h0m8 0h0m0 0h0m-19 1h0m5 0h0m7 0h0m1 0h0m2 0h0m-62 1h0m52 0h0m2 0h0m-54 2h0m0 0h0m3 0h0m31 0h0m-34 2h0m3 2h0m2 3h0m1 0h0m24 0h0m-7 1h0m0 0h0m-7 1h0m8 0h0m-17 1h0m12 0h0m6 0h0m-13 1h0m3 0h0m2 0h0m1 0h0m-5 1h0m0 1h0m5 0h0m0 0h0m-3 1h0m-2 5h0m1 1h0m1 0h0m-2 2h0m1 1h0m3 1h0m0 0h0m0 1h0m1 0h0m0 1h0m-4 2h0m0 0h0m3 0h0m-7 12h0m-3 1h0m2 0h0m-8 12h0m2 0h0m1 0h0m-1 2h0m1 2h0m-2 1h0m3 1h0m-6 1h0m6 0h0m0 1h0m2 0h0m-3 1h0m1 0h0m0 0h0m-1 1h0m-10 2h0m1 0h0m9 0h0m1 0h0m-11 1h0m2 0h0m2 0h0m0 0h0m2 0h0m0 1h0m7 0h0m-3 1h0m-2 1h0m3 0h0" stroke="rgb(44, 94, 233)" stroke-width="2.4" stroke-linecap="square" fill="none"/>
<path transform="scale(0.5)" d="M286 395h0m-5 1h0m-1 1h0m0 0h0m4 0h0m-8 1h0m31 0h0m-33 1h0m2 1h0m33 0h0m-47 2h0m6 0h0m3 0h0m40 0h0m-48 1h0m5 0h0m-9 1h0m4 0h0m51 0h0m-1 1h0m1 0h0m-51 1h0m0 1h0m52 0h0m-57 1h0m58 0h0m-55 1h0m54 0h0m1 0h0m2 0h0m-58 1h0m-6 1h0m-2 1h0m2 0h0m1 0h0m60 0h0m0 0h0m-59 1h0m1 0h0m59 0h0m-64 1h0m2 1h0m0 0h0m-5 1h0m3 0h0m-5 1h0m2 0h0m0 0h0m-1 1h0m-1 2h0m65 0h0m-62 1h0m1 0h0m1 0h0m1 1h0m0 0h0m0 0h0m58 0h0m1 0h0m-61 1h0m3 0h0m56 0h0m-61 1h0m50 0h0m5 0h0m3 0h0m-57 1h0m1 0h0m2 0h0m1 0h0m41 0h0m8 0h0m1 0h0m2 0h0m1 0h0m1 0h0m-54 1h0m-1 1h0m3 0h0m-7 1h0m3 0h0m1 0h0m26 0h0m1 0h0m-32 1h0m1 0h0m7 0h0m22 0h0m5 0h0m1 0h0m0 0h0m-35 1h0m0 0h0m4 0h0m4 0h0m-7 1h0m3 0h0m1 0h0m2 0h0m2 0h0m-7 1h0m9 0h0m1 1h0m14 0h0m-24 1h0m10 0h0m0 0h0m1 0h0m4 0h0m-14 1h0m3 0h0m1 0h0m4 0h0m-9 1h0m1 0h0m14 0h0m4 0h0m0 0h0m-17 1h0m3 0h0m0 0h0m1 0h0m1 0h0m10 0h0m1 0h0m0 0h0m-17 1h0m2 0h0m3 0h0m16 0h0m-17 1h0m-1 1h0m-13 52h0m-1 1h0m1 0h0m1 0h0m0 1h0m3 0h0m-2 1h0m-2 1h0" stroke="rgb(43, 111, 235)" stroke-width="2.4" stroke-linecap="square" fill="none"/>
<path transform="scale(0.5)" d="M291 395h0m11 0h0m-15 2h0m-5 2h0m-6 1h0m5 0h0m-11 2h0m2 0h0m0 1h0m-4 1h0m1 1h0m-3 1h0m48 0h0m1 0h0m-50 1h0m-2 1h0m3 0h0m-5 1h0m53 0h0m0 2h0m-55 1h0m0 1h0m0 0h0m-4 3h0m1 0h0m0 1h0m1 0h0m0 0h0m0 1h0m1 2h0m0 0h0m1 0h0m12 0h0m-16 1h0m5 0h0m12 0h0m36 0h0m-51 1h0m4 0h0m9 0h0m4 0h0m23 0h0m4 0h0m7 0h0m-2 1h0m-45 1h0m12 0h0m1 0h0m15 0h0m12 0h0m-40 1h0m0 0h0m1 0h0m25 0h0m3 0h0m-14 1h0m1 0h0m2 0h0m5 0h0m8 0h0m-16 1h0m1 0h0m2 0h0m2 0h0m-19 1h0m13 0h0m-15 1h0m1 0h0m1 0h0m0 1h0m12 0h0m-12 1h0m11 0h0m-19 1h0m1 0h0m7 0h0m2 0h0m2 1h0m5 0h0m1 0h0m-19 1h0m16 0h0m-15 1h0m15 0h0m1 0h0" stroke="rgb(41, 127, 237)" stroke-width="2.4" stroke-linecap="square" fill="none"/>
<path transform="scale(0.5)" d="M290 397h0m14 0h0m-27 3h0m6 0h0m-4 1h0m28 0h0m1 0h0m1 0h0m0 0h0m-32 1h0m-3 1h0m1 0h0m0 0h0m34 1h0m-40 1h0m41 0h0m2 1h0m-43 1h0m-5 1h0m1 0h0m0 1h0m47 0h0m1 2h0m-52 1h0m1 0h0m0 0h0m1 1h0m48 0h0m-49 1h0m-2 1h0m0 0h0m2 0h0m1 0h0m-5 1h0m3 0h0m1 0h0m47 0h0m0 0h0m1 0h0m-52 1h0m0 0h0m5 0h0m48 0h0m-51 1h0m7 0h0m1 0h0m0 0h0m3 0h0m4 0h0m35 0h0m0 0h0m-51 1h0m0 0h0m6 0h0m2 0h0m8 0h0m1 0h0m-12 1h0m0 0h0m0 0h0m43 0h0m-43 1h0m3 0h0m0 0h0m1 0h0m1 0h0m-7 1h0m2 0h0m1 0h0m0 0h0m12 0h0m0 0h0m1 0h0m12 0h0m7 0h0m-32 1h0m11 0h0m1 0h0m1 0h0m-14 1h0m5 0h0m13 0h0m1 0h0m-19 1h0m1 0h0m6 0h0m1 0h0m0 0h0m3 0h0m2 0h0m1 0h0m-15 1h0m0 0h0m1 0h0m0 0h0m1 0h0m7 0h0m12 0h0m1 0h0m2 0h0m0 0h0m-15 2h0m-1 1h0m1 0h0m2 0h0m-7 1h0m0 1h0m5 0h0m-5 2h0m2 0h0" stroke="rgb(40, 143, 239)" stroke-width="2.4" stroke-linecap="square" fill="none"/>
<path transform="scale(0.5)" d="M295 396h0m3 0h0m4 0h0m-10 1h0m3 0h0m3 0h0m2 0h0m0 0h0m2 0h0m-9 1h0m8 0h0m0 0h0m-16 1h0m1 0h0m19 0h0m-20 1h0m21 0h0m1 0h0m-1 1h0m-28 1h0m29 1h0m-35 2h0m-3 1h0m1 0h0m0 0h0m1 0h0m1 0h0m38 0h0m0 0h0m-41 1h0m41 0h0m-45 4h0m0 1h0m0 0h0m1 0h0m-2 1h0m2 0h0m0 1h0m0 0h0m4 0h0m-1 1h0m1 0h0m2 0h0m0 0h0m37 0h0m-43 1h0m6 0h0m3 0h0m0 0h0m2 0h0m32 0h0m1 0h0m-46 1h0m0 0h0m1 0h0m1 0h0m1 0h0m2 0h0m3 0h0m0 1h0m6 0h0m1 2h0m20 0h0m1 0h0m2 0h0m-3 1h0m-18 1h0m1 0h0m0 0h0m9 0h0m2 0h0m11 0h0m-22 1h0m0 0h0m1 0h0m0 0h0m1 0h0m0 0h0m9 0h0m-13 1h0m5 0h0m-19 3h0m2 0h0m1 0h0m1 0h0m-4 1h0m1 0h0m2 0h0m0 0h0m1 0h0m0 0h0m-4 1h0m2 0h0m0 0h0m3 0h0m-2 1h0m-2 1h0m0 0h0m3 0h0m0 0h0m0 0h0m0 0h0" stroke="rgb(42, 163, 231)" stroke-width="2.4" stroke-linecap="square" fill="none"/>
<path transform="scale(0.5)" d="M301 398h0m2 0h0m-16 1h0m12 0h0m1 0h0m0 0h0m0 0h0m1 0h0m1 0h0m0 0h0m-15 1h0m16 0h0m2 0h0m-21 1h0m19 0h0m-20 1h0m22 0h0m-25 1h0m0 1h0m-7 2h0m1 0h0m1 0h0m32 0h0m1 0h0m-36 2h0m0 0h0m0 0h0m38 0h0m1 0h0m-42 2h0m2 0h0m1 0h0m39 0h0m-43 1h0m0 0h0m0 0h0m1 0h0m0 0h0m1 0h0m40 0h0m1 0h0m-42 1h0m40 0h0m-41 1h0m1 0h0m4 0h0m-5 1h0m0 0h0m0 0h0m7 0h0m2 0h0m33 0h0m-42 1h0m0 0h0m5 0h0m1 0h0m1 0h0m3 2h0m30 0h0m-27 1h0m28 0h0m-27 1h0m0 0h0m24 0h0m-26 1h0m0 0h0m6 0h0m1 0h0m1 0h0m0 0h0m2 0h0m6 0h0m2 0h0m-16 1h0m2 0h0m0 0h0m0 0h0m7 0h0m-8 1h0m13 0h0" stroke="rgb(45, 187, 217)" stroke-width="2.4" stroke-linecap="square" fill="none"/>
<path transform="scale(0.5)" d="M290 398h0m1 0h0m1 0h0m2 0h0m2 0h0m-7 1h0m3 0h0m1 0h0m0 0h0m-3 1h0m2 0h0m-6 1h0m15 0h0m-19 1h0m2 0h0m0 0h0m-3 1h0m2 0h0m22 0h0m1 0h0m0 0h0m-28 1h0m4 0h0m24 0h0m-27 1h0m-3 1h0m0 0h0m3 0h0m29 0h0m-31 1h0m32 0h0m-36 1h0m2 0h0m-2 1h0m-2 1h0m2 0h0m0 0h0m2 0h0m-2 1h0m0 0h0m1 0h0m1 0h0m-1 1h0m1 1h0m3 1h0m0 0h0m0 0h0m0 1h0m1 0h0m0 1h0m3 1h0m1 0h0m-4 1h0m1 0h0m1 0h0m4 0h0m1 0h0m2 0h0m15 0h0m1 0h0m1 0h0m-18 1h0m1 1h0m4 0h0m0 0h0m1 0h0m0 0h0m-1 1h0m3 0h0" stroke="rgb(49, 210, 202)" stroke-width="2.4" stroke-linecap="square" fill="none"/>
<path transform="scale(0.5)" d="M287 400h0m1 0h0m11 0h0m2 0h0m-13 1h0m11 0h0m-13 1h0m0 0h0m1 0h0m0 0h0m2 0h0m0 0h0m15 0h0m-19 2h0m18 0h0m-23 1h0m0 0h0m0 0h0m0 0h0m1 0h0m0 0h0m1 0h0m1 0h0m1 0h0m22 0h0m-29 1h0m1 0h0m6 0h0m0 0h0m23 0h0m-30 1h0m1 0h0m-1 1h0m2 0h0m29 0h0m0 1h0m-32 1h0m0 0h0m1 0h0m31 0h0m1 0h0m-33 1h0m1 1h0m0 0h0m0 0h0m30 0h0m2 0h0m0 1h0m-29 1h0m1 0h0m26 1h0m-27 1h0m26 0h0m-23 1h0m1 1h0m17 0h0m1 0h0m1 0h0m-3 1h0m1 0h0m1 1h0" stroke="rgb(46, 220, 153)" stroke-width="2.4" stroke-linecap="square" fill="none"/>
<path transform="scale(0.5)" d="M289 400h0m10 0h0m-10 1h0m1 0h0m0 0h0m0 0h0m8 0h0m1 0h0m-12 2h0m2 0h0m-3 1h0m16 0h0m-16 1h0m0 0h0m1 0h0m16 0h0m0 0h0m1 0h0m0 0h0m0 0h0m1 0h0m-25 1h0m3 0h0m1 0h0m19 0h0m-24 1h0m0 0h0m1 0h0m4 0h0m23 0h0m-29 1h0m0 0h0m28 0h0m-29 1h0m1 0h0m2 0h0m0 0h0m0 0h0m0 0h0m0 0h0m1 0h0m-2 1h0m0 0h0m0 2h0m1 0h0m0 1h0m0 0h0m1 0h0m0 0h0m-1 1h0m3 0h0m0 1h0m0 0h0m1 0h0m0 0h0m-2 1h0m1 0h0m21 0h0m0 0h0m-15 1h0m15 0h0m0 0h0m0 0h0m-14 1h0m5 0h0m2 0h0m0 1h0" stroke="rgb(42, 227, 95)" stroke-width="2.4" stroke-linecap="square" fill="none"/>
<path transform="scale(0.5)" d="M292 400h0m1 0h0m1 0h0m2 0h0m0 0h0m-4 1h0m1 0h0m2 0h0m1 0h0m0 0h0m1 0h0m-5 1h0m1 0h0m8 1h0m-14 1h0m0 1h0m1 0h0m0 0h0m13 0h0m1 0h0m1 0h0m-18 1h0m2 0h0m-1 1h0m18 0h0m0 0h0m1 0h0m-23 1h0m0 0h0m1 0h0m1 0h0m1 0h0m19 0h0m1 0h0m-23 1h0m1 0h0m1 0h0m3 0h0m0 0h0m19 0h0m0 0h0m-26 1h0m1 0h0m0 0h0m1 0h0m1 0h0m1 0h0m-1 1h0m1 0h0m-3 1h0m0 0h0m0 0h0m2 0h0m2 0h0m-3 1h0m3 0h0m0 0h0m-2 1h0m3 0h0m20 0h0m-20 1h0m1 0h0m0 0h0m18 0h0m1 0h0m0 0h0m1 0h0m-21 1h0m14 0h0m0 0h0m0 0h0m1 0h0m1 0h0m0 0h0m0 0h0m-2 1h0m-8 1h0m0 0h0m1 0h0m0 0h0m1 0h0m0 0h0m1 0h0m0 0h0m7 0h0m-10 1h0m2 0h0" stroke="rgb(51, 232, 57)" stroke-width="2.4" stroke-linecap="square" fill="none"/>
<path transform="scale(0.5)" d="M289 402h0m8 0h0m1 0h0m-8 1h0m8 1h0m0 0h0m-10 2h0m1 0h0m-1 1h0m0 0h0m1 1h0m-2 2h0m18 0h0m2 0h0m-22 1h0m1 0h0m1 0h0m20 0h0m-22 1h0m20 0h0m1 0h0m-21 1h0m1 0h0m1 0h0m19 0h0m0 0h0m-20 1h0m2 0h0m0 0h0m16 0h0m0 0h0m0 0h0m0 0h0m0 0h0m2 0h0m-19 1h0m17 0h0m1 0h0m-17 1h0m2 0h0m0 0h0m0 0h0m15 0h0m-16 1h0m8 0h0m0 0h0m2 0h0" stroke="rgb(78, 233, 52)" stroke-width="2.4" stroke-linecap="square" fill="none"/>
<path transform="scale(0.5)" d="M292 402h0m0 0h0m4 0h0m-5 1h0m0 0h0m1 0h0m3 0h0m1 0h0m1 0h0m0 0h0m-8 1h0m11 2h0m2 0h0m1 0h0m-13 1h0m0 0h0m12 0h0m0 0h0m-15 1h0m1 0h0m2 0h0m-2 1h0m15 0h0m1 0h0m1 0h0m-17 1h0m0 0h0m0 0h0m16 0h0m0 0h0m-16 1h0m0 0h0m-1 1h0m1 0h0m0 0h0m0 0h0m1 0h0m0 0h0m-1 1h0m1 0h0m-1 1h0m2 0h0m0 0h0m12 0h0m1 0h0m-14 1h0m1 0h0m0 0h0m1 0h0m0 0h0m10 0h0m1 0h0m0 0h0m-12 1h0m1 0h0m1 0h0m0 0h0m0 0h0m1 0h0m0 0h0m2 0h0m1 0h0m-4 1h0m0 0h0m1 0h0m0 0h0m0 0h0m2 0h0m0 0h0m0 0h0m1 0h0m-2 1h0" stroke="rgb(106, 234, 46)" stroke-width="2.4" stroke-linecap="square" fill="none"/>
<path transform="scale(0.5)" d="M293 402h0m0 0h0m1 0h0m0 0h0m1 0h0m-2 1h0m1 0h0m0 0h0m1 0h0m-4 1h0m1 0h0m1 0h0m0 0h0m-1 1h0m5 0h0m0 0h0m0 0h0m1 0h0m0 0h0m0 0h0m-6 1h0m7 1h0m1 0h0m0 0h0m0 0h0m0 0h0m0 0h0m1 0h0m-11 1h0m1 0h0m9 0h0m1 0h0m0 0h0m-12 1h0m1 0h0m0 0h0m1 0h0m10 0h0m-11 1h0m0 0h0m13 0h0m0 0h0m1 0h0m0 0h0m0 0h0m1 0h0m0 0h0m-16 1h0m1 0h0m0 0h0m0 0h0m13 0h0m1 0h0m0 0h0m0 0h0m-15 1h0m12 0h0m1 0h0m1 0h0m1 0h0m0 0h0m-15 1h0m2 0h0m11 0h0m1 0h0m1 0h0m0 0h0m1 0h0m-16 1h0m0 0h0m2 0h0m8 0h0m1 0h0m1 0h0m3 0h0m-6 1h0m0 0h0m2 0h0m0 0h0m1 0h0m0 0h0" stroke="rgb(134, 234, 41)" stroke-width="2.4" stroke-linecap="square" fill="none"/>
<path transform="scale(0.5)" d="M293 404h0m1 0h0m1 0h0m1 0h0m-3 1h0m1 0h0m1 0h0m2 0h0m0 0h0m0 0h0m-6 1h0m3 0h0m2 0h0m1 0h0m-5 1h0m0 0h0m0 0h0m1 0h0m0 0h0m7 1h0m0 1h0m0 0h0m0 1h0m1 0h0m1 0h0m0 0h0m-3 1h0m1 0h0m1 0h0m0 0h0m0 0h0m1 0h0m0 0h0m0 0h0m0 0h0m-11 1h0m6 0h0m1 0h0m1 0h0m1 0h0m-3 1h0m0 0h0m0 0h0m2 0h0m0 0h0m2 0h0m0 0h0m-10 1h0m1 0h0m0 0h0m0 0h0m1 0h0m0 0h0m1 0h0m1 0h0m1 0h0m0 0h0m-3 1h0m0 0h0m1 0h0m0 0h0m0 0h0m0 0h0m1 0h0m1 0h0m0 0h0m0 0h0m1 0h0m-5 1h0m5 0h0" stroke="rgb(190, 232, 29)" stroke-width="2.4" stroke-linecap="square" fill="none"/>
<path transform="scale(0.5)" d="M293 406h0m0 0h0m2 0h0m2 0h0m1 0h0m0 0h0m-5 1h0m1 0h0m1 0h0m0 0h0m2 0h0m1 0h0m0 0h0m-7 1h0m0 0h0m4 0h0m2 0h0m1 0h0m0 0h0m1 0h0m0 0h0m0 0h0m-7 1h0m0 0h0m1 0h0m5 0h0m0 0h0m1 0h0m0 0h0m-8 1h0m1 0h0m1 0h0m2 0h0m2 0h0m0 0h0m1 0h0m0 0h0m0 0h0m-6 1h0m1 0h0m0 0h0m2 0h0m0 0h0m0 0h0m0 0h0m2 0h0m1 0h0m0 0h0m-4 1h0m0 0h0m0 0h0m0 0h0m1 0h0m1 0h0m1 0h0m-4 1h0m1 0h0m0 0h0m0 0h0m1 0h0m0 0h0m2 0h0m-2 1h0" stroke="rgb(238, 198, 20)" stroke-width="2.4" stroke-linecap="square" fill="none"/>
<path transform="scale(0.5)" d="M295 406h0m1 0h0m-1 1h0m0 0h0m0 0h0m0 0h0m1 0h0m0 0h0m0 0h0m1 0h0m0 0h0m-4 1h0m1 0h0m1 0h0m0 0h0m0 0h0m1 0h0m1 0h0m0 0h0m-4 1h0m1 0h0m1 0h0m1 0h0m0 0h0m-1 1h0m1 0h0m1 0h0m-2 1h0m2 0h0" stroke="rgb(230, 40, 20)" stroke-width="2.4" stroke-linecap="square" fill="none"/>
</g>
<rect x="106.50" y="196.90" width="64.10" height="64.30" fill="none" stroke="#9a9aa8" stroke-width="0.8"/>
<line x1="106.5" y1="196.9" x2="139.3" y2="196.9" stroke="#3a3aa8" stroke-width="1.0"/>
<line x1="106.5" y1="196.9" x2="106.5" y2="261.2" stroke="#3a3aa8" stroke-width="1.0"/>
<line x1="139.3" y1="196.9" x2="139.3" y2="261.2" stroke="#3a3aa8" stroke-width="1.0"/>
<line x1="106.5" y1="239.5" x2="139.3" y2="239.5" stroke="#3a3aa8" stroke-width="1.0"/>
<text x="108.0" y="204.1" font-size="7" fill="#000">19.8</text>
<text x="167.9" y="228.25" font-size="7.2" font-weight="bold" text-anchor="end" fill="#000">72.1</text>
<text x="107.7" y="258.59999999999997" font-size="7" fill="#000">9.1</text>
<g filter="url(#bl)">
<path transform="scale(0.5)" d="M360 402h0m5 7h0m99 17h0m-103 2h0m108 6h0m-99 12h0m78 2h0m-5 5h0m-43 17h0" stroke="rgb(102, 127, 238)" stroke-width="2.4" stroke-linecap="square" fill="none"/>
<path transform="scale(0.5)" d="M366 396h0m37 0h0m7 0h0m-16 3h0m-27 2h0m19 0h0m-8 1h0m-2 2h0m-21 7h0m2 0h0m108 0h0m1 2h0m-103 2h0m98 3h0m3 1h0m-101 2h0m-5 2h0m113 1h0m0 3h0m1 1h0m-15 4h0m-92 5h0m90 1h0m-90 1h0m6 0h0m76 0h0m0 0h0m-11 1h0m-61 2h0m67 1h0m-21 1h0m3 0h0m5 0h0m-58 10h0m34 3h0m2 1h0m-37 1h0m-1 1h0m31 4h0m4 1h0m-9 1h0m-14 4h0m9 2h0m-18 3h0m5 2h0m18 0h0m-21 2h0m21 1h0m-23 4h0m0 1h0m21 3h0m-22 2h0m23 2h0m-19 5h0m0 6h0m8 0h0m-11 1h0m5 1h0m14 1h0m-6 1h0m5 2h0" stroke="rgb(85, 115, 236)" stroke-width="2.4" stroke-linecap="square" fill="none"/>
<path transform="scale(0.5)" d="M446 396h0m-44 2h0m-1 1h0m-14 4h0m4 0h0m-8 2h0m77 3h0m-78 1h0m76 1h0m-85 2h0m88 0h0m-92 2h0m90 4h0m-92 1h0m0 3h0m-1 4h0m1 2h0m5 4h0m84 1h0m-34 3h0m16 1h0m1 0h0m10 1h0m3 0h0m-72 2h0m38 0h0m1 0h0m13 0h0m-9 2h0m-44 1h0m32 0h0m-34 1h0m30 0h0m-30 4h0m33 0h0m-4 1h0m-1 1h0m3 0h0m-33 1h0m2 0h0m2 0h0m0 2h0m2 6h0m15 1h0m2 0h0m-20 1h0m19 0h0m-27 1h0m26 2h0m-25 2h0m10 1h0m4 0h0m-15 2h0m6 1h0m-2 2h0m14 0h0m0 3h0m-1 2h0m-1 1h0m-4 1h0m0 1h0m2 0h0m6 0h0m-9 2h0m8 2h0m-4 1h0m-6 1h0m4 0h0m6 0h0m-7 1h0m5 0h0m1 2h0m-12 1h0m3 0h0m2 0h0m4 1h0m2 1h0m-9 1h0m13 0h0m-8 1h0m3 0h0m-5 3h0m12 1h0m-12 2h0m1 0h0m10 0h0m2 0h0m-4 1h0m2 1h0m-3 3h0" stroke="rgb(68, 102, 234)" stroke-width="2.4" stroke-linecap="square" fill="none"/>
<path transform="scale(0.5)" d="M447 397h0m0 2h0m-48 2h0m54 2h0m-69 2h0m1 2h0m74 3h0m-2 2h0m-80 2h0m80 0h0m-84 1h0m-5 4h0m2 0h0m86 1h0m-87 1h0m86 0h0m0 7h0m-85 1h0m1 0h0m-1 1h0m80 1h0m1 0h0m-9 1h0m-2 1h0m5 0h0m7 1h0m-73 2h0m41 0h0m10 1h0m1 0h0m0 0h0m-4 1h0m6 0h0m-50 1h0m46 0h0m-43 3h0m16 1h0m-20 1h0m0 0h0m9 0h0m19 0h0m-20 1h0m21 0h0m-32 1h0m6 1h0m0 0h0m1 0h0m2 0h0m4 0h0m7 0h0m11 0h0m-27 1h0m16 0h0m0 0h0m10 0h0m-25 1h0m1 0h0m13 0h0m5 1h0m-3 1h0m-4 2h0m2 0h0m3 0h0m-18 1h0m1 1h0m6 0h0m9 0h0m-8 1h0m8 0h0m-16 1h0m5 0h0m3 0h0m1 0h0m1 0h0m-10 1h0m3 0h0m2 0h0m5 2h0m-9 1h0m-4 2h0m2 0h0m3 1h0m-11 1h0m8 0h0m0 0h0m-8 1h0m1 0h0m1 1h0m-2 2h0m1 2h0" stroke="rgb(51, 90, 232)" stroke-width="2.4" stroke-linecap="square" fill="none"/>
<path transform="scale(0.5)" d="M422 395h0m3 0h0m13 0h0m-22 3h0m22 0h0m6 0h0m1 0h0m-34 2h0m-1 1h0m39 0h0m-50 1h0m2 0h0m8 0h0m-10 1h0m2 1h0m51 0h0m-58 1h0m7 0h0m49 0h0m0 0h0m-51 1h0m8 0h0m-22 2h0m67 0h0m-68 2h0m2 0h0m-2 1h0m70 1h0m-72 1h0m-5 2h0m78 0h0m-80 1h0m78 4h0m-82 2h0m81 0h0m-79 2h0m79 0h0m1 0h0m0 0h0m-83 1h0m3 0h0m77 2h0m2 0h0m-3 1h0m0 0h0m-4 1h0m0 0h0m-5 1h0m7 0h0m-22 2h0m-45 2h0m50 0h0m-43 2h0m29 0h0m2 0h0m-33 1h0m2 0h0m-3 1h0m28 0h0m0 0h0m4 0h0m-25 2h0m0 0h0m4 2h0m0 0h0m-3 1h0m7 0h0m1 0h0m-5 2h0m3 1h0" stroke="rgb(44, 94, 233)" stroke-width="2.4" stroke-linecap="square" fill="none"/>
<path transform="scale(0.5)" d="M426 396h0m0 0h0m5 0h0m-6 1h0m9 0h0m2 0h0m0 0h0m4 1h0m0 1h0m-28 2h0m-2 1h0m38 0h0m1 0h0m0 2h0m-55 2h0m1 0h0m7 0h0m5 0h0m-17 1h0m5 0h0m11 0h0m1 0h0m0 1h0m45 2h0m1 1h0m-69 2h0m68 0h0m-1 11h0m-1 1h0m-75 1h0m1 0h0m70 0h0m3 0h0m-9 2h0m-65 2h0m1 0h0m3 0h0m46 0h0m18 0h0m-66 1h0m46 0h0m10 0h0m4 0h0m2 0h0m-20 1h0m7 0h0m8 0h0m2 0h0m-8 1h0m1 0h0m-42 1h0m28 0h0m13 0h0m-26 2h0m11 0h0m1 0h0m-11 1h0m0 0h0m7 0h0m-14 3h0m5 1h0" stroke="rgb(43, 111, 235)" stroke-width="2.4" stroke-linecap="square" fill="none"/>
<path transform="scale(0.5)" d="M432 396h0m-2 1h0m-7 1h0m-1 1h0m0 0h0m3 0h0m-10 1h0m2 1h0m27 2h0m-34 3h0m-11 2h0m0 0h0m2 0h0m50 0h0m-60 1h0m59 0h0m-62 1h0m2 0h0m8 0h0m7 0h0m2 0h0m43 0h0m1 0h0m-67 5h0m1 0h0m-7 2h0m71 6h0m0 0h0m-9 3h0m1 1h0m-64 1h0m46 0h0m15 0h0m-61 1h0m1 0h0m39 1h0m2 0h0m20 0h0m-56 1h0m35 0h0m-6 2h0m2 0h0m0 0h0m-26 1h0m18 0h0m2 0h0m2 0h0m3 0h0m-10 1h0m3 0h0m8 0h0m-21 1h0m8 1h0m-2 1h0m2 0h0m-7 1h0m3 0h0m3 0h0m1 0h0m-5 1h0m3 0h0" stroke="rgb(41, 127, 237)" stroke-width="2.4" stroke-linecap="square" fill="none"/>
<path transform="scale(0.5)" d="M418 401h0m20 0h0m1 0h0m-21 1h0m-5 1h0m-1 2h0m1 0h0m-2 3h0m-18 1h0m1 0h0m-2 1h0m6 0h0m0 1h0m2 0h0m2 0h0m2 0h0m4 0h0m-2 1h0m5 0h0m39 0h0m1 0h0m-62 1h0m-3 1h0m65 0h0m-63 1h0m-10 1h0m3 0h0m-3 1h0m1 0h0m1 0h0m1 0h0m0 1h0m-5 1h0m73 0h0m0 0h0m-73 1h0m1 0h0m0 0h0m71 1h0m-72 2h0m0 0h0m1 0h0m65 1h0m-64 2h0m44 0h0m0 0h0m16 0h0m-60 1h0m60 0h0m-57 1h0m45 0h0m2 0h0m0 0h0m-50 1h0m1 0h0m2 0h0m38 0h0m0 0h0m9 0h0m1 0h0m-50 1h0m2 0h0m34 0h0m-28 2h0m0 0h0m2 0h0m20 0h0m-22 1h0m19 0h0m1 0h0m1 0h0m-17 1h0m1 0h0m3 0h0m9 0h0m5 0h0m-17 1h0m2 0h0m1 1h0m0 1h0m1 0h0m1 0h0m0 0h0m1 1h0" stroke="rgb(40, 143, 239)" stroke-width="2.4" stroke-linecap="square" fill="none"/>
<path transform="scale(0.5)" d="M434 398h0m-3 1h0m2 0h0m-11 1h0m9 0h0m2 0h0m3 0h0m-22 2h0m0 1h0m2 0h0m27 0h0m-28 1h0m1 0h0m27 0h0m1 1h0m3 1h0m-35 1h0m1 0h0m34 0h0m0 0h0m-34 1h0m-1 1h0m-19 1h0m1 0h0m3 0h0m-5 1h0m2 0h0m0 0h0m3 0h0m52 0h0m-58 1h0m0 0h0m2 0h0m1 0h0m8 0h0m1 0h0m1 0h0m1 0h0m1 0h0m0 0h0m1 0h0m-16 1h0m5 0h0m2 0h0m1 0h0m1 0h0m4 0h0m1 0h0m0 0h0m7 0h0m-23 1h0m3 0h0m1 0h0m2 0h0m12 0h0m2 0h0m-18 1h0m-5 2h0m63 0h0m-71 1h0m1 0h0m1 0h0m5 0h0m-2 1h0m-4 1h0m67 0h0m-68 2h0m1 0h0m0 0h0m65 0h0m1 0h0m-67 1h0m61 1h0m0 1h0m-56 1h0m42 0h0m7 0h0m1 0h0m0 0h0m1 0h0m-54 1h0m0 0h0m3 0h0m34 0h0m8 0h0m2 0h0m7 0h0m1 0h0m-53 1h0m0 0h0m35 0h0m3 0h0m-36 1h0m0 0h0m1 0h0m29 0h0m0 0h0m-30 1h0m2 0h0m0 0h0m23 0h0m1 0h0m6 0h0m0 0h0m1 0h0m-16 1h0m0 0h0m3 0h0m2 0h0m1 0h0m1 0h0m2 0h0m-17 1h0m2 0h0m2 0h0m2 0h0m-9 1h0m2 0h0m2 0h0m3 0h0m2 0h0m1 0h0m1 0h0m-3 1h0m3 0h0" stroke="rgb(42, 163, 231)" stroke-width="2.4" stroke-linecap="square" fill="none"/>
<path transform="scale(0.5)" d="M424 400h0m11 1h0m-1 1h0m-15 1h0m-5 1h0m2 0h0m1 0h0m-3 1h0m1 0h0m2 0h0m-3 1h0m1 0h0m0 3h0m-2 3h0m35 0h0m-35 1h0m0 0h0m-15 1h0m1 0h0m49 0h0m-56 1h0m2 0h0m10 0h0m1 0h0m5 0h0m38 0h0m1 0h0m0 0h0m-59 1h0m1 0h0m0 0h0m0 0h0m1 0h0m2 0h0m5 0h0m2 0h0m6 0h0m-19 1h0m3 0h0m3 0h0m1 0h0m2 0h0m-8 1h0m4 0h0m2 0h0m1 0h0m50 0h0m2 0h0m-62 1h0m60 0h0m-64 1h0m5 0h0m57 0h0m0 0h0m1 0h0m-65 1h0m0 0h0m2 0h0m2 0h0m1 0h0m1 0h0m2 0h0m-8 1h0m3 0h0m0 0h0m4 0h0m58 0h0m-64 1h0m2 0h0m0 0h0m2 0h0m0 0h0m0 0h0m0 0h0m57 0h0m-58 1h0m32 0h0m6 0h0m1 0h0m-40 1h0m36 0h0m0 0h0m5 0h0m0 0h0m11 0h0m-49 1h0m26 0h0m2 0h0m15 0h0m1 0h0m1 0h0m-47 1h0m2 0h0m1 0h0m25 0h0m1 0h0m0 0h0m2 0h0m14 0h0m-41 1h0m0 0h0m1 0h0m12 0h0m1 0h0m0 0h0m26 0h0m2 0h0m-44 1h0m1 0h0m1 0h0m14 0h0m7 0h0m1 0h0m-21 1h0m7 0h0m3 0h0m12 0h0m-21 1h0m0 0h0m2 0h0m0 0h0m7 0h0m-2 1h0m2 0h0" stroke="rgb(45, 187, 217)" stroke-width="2.4" stroke-linecap="square" fill="none"/>
<path transform="scale(0.5)" d="M430 400h0m0 1h0m1 0h0m0 0h0m1 0h0m-4 1h0m1 0h0m2 0h0m1 0h0m4 0h0m-15 1h0m0 0h0m0 0h0m2 0h0m15 0h0m2 1h0m-21 1h0m24 0h0m-27 1h0m2 0h0m24 0h0m1 0h0m1 0h0m0 1h0m-28 1h0m0 0h0m-2 3h0m32 1h0m1 0h0m-1 1h0m1 0h0m-34 1h0m33 0h0m1 1h0m-45 1h0m1 0h0m2 0h0m5 0h0m1 0h0m35 0h0m-48 1h0m2 0h0m2 0h0m0 0h0m1 0h0m1 0h0m2 0h0m2 0h0m2 0h0m36 0h0m-48 1h0m0 0h0m5 0h0m1 0h0m2 0h0m-16 1h0m1 0h0m3 0h0m4 0h0m0 0h0m1 0h0m0 0h0m5 0h0m3 0h0m0 0h0m0 0h0m3 0h0m-21 1h0m0 0h0m2 0h0m2 0h0m0 0h0m13 0h0m3 0h0m0 0h0m-21 1h0m1 0h0m2 0h0m16 0h0m3 0h0m0 0h0m-19 1h0m16 0h0m0 0h0m1 0h0m3 0h0m6 0h0m1 0h0m3 0h0m0 0h0m17 0h0m1 0h0m-51 1h0m3 0h0m0 0h0m0 0h0m27 0h0m0 0h0m2 0h0m0 0h0m2 0h0m1 0h0m-36 1h0m1 0h0m0 0h0m1 0h0m1 0h0m0 0h0m1 0h0m2 0h0m20 0h0m1 0h0m0 0h0m16 0h0m0 0h0m2 0h0m0 0h0m-44 1h0m5 0h0m19 0h0m1 0h0m0 0h0m1 0h0m13 0h0m1 0h0m5 0h0m-44 1h0m6 0h0m2 0h0m1 0h0m2 0h0m0 0h0m4 0h0m1 0h0m3 0h0m7 0h0m13 0h0m-39 1h0m2 0h0m0 0h0m1 0h0m2 0h0m3 0h0m3 0h0m1 0h0m1 0h0m2 0h0m0 0h0m0 0h0m1 0h0m3 0h0m1 0h0m0 0h0m0 0h0m-18 1h0m1 0h0m3 0h0m1 0h0m1 0h0m2 0h0m1 0h0m6 0h0m1 0h0m1 0h0m-18 1h0m0 0h0m2 0h0m2 0h0m1 0h0m1 0h0m11 0h0m0 0h0m-16 1h0" stroke="rgb(49, 210, 202)" stroke-width="2.4" stroke-linecap="square" fill="none"/>
<path transform="scale(0.5)" d="M426 402h0m-2 1h0m1 0h0m10 0h0m6 1h0m-1 1h0m1 0h0m-23 1h0m22 0h0m4 2h0m0 0h0m1 0h0m0 1h0m0 0h0m-29 1h0m1 1h0m-3 1h0m1 0h0m3 0h0m-3 1h0m0 1h0m-3 2h0m0 1h0m-10 1h0m11 0h0m31 0h0m1 0h0m-43 1h0m0 0h0m0 0h0m10 0h0m1 0h0m32 0h0m-50 1h0m0 0h0m8 0h0m1 0h0m9 0h0m0 0h0m0 0h0m1 0h0m0 0h0m3 0h0m26 0h0m1 0h0m-49 1h0m1 0h0m1 0h0m1 0h0m3 0h0m0 0h0m1 0h0m3 0h0m7 0h0m3 0h0m1 0h0m2 0h0m1 0h0m2 0h0m22 0h0m-48 1h0m2 0h0m0 0h0m0 0h0m1 0h0m0 0h0m1 0h0m0 0h0m0 0h0m0 0h0m1 0h0m5 0h0m0 0h0m7 0h0m3 0h0m5 0h0m14 0h0m0 0h0m-42 1h0m0 0h0m0 0h0m4 0h0m1 0h0m1 0h0m1 0h0m0 0h0m3 0h0m1 0h0m3 0h0m0 0h0m2 0h0m0 0h0m3 0h0m1 0h0m0 0h0m12 0h0m11 0h0m-41 1h0m1 0h0m1 0h0m2 0h0m3 0h0m2 0h0m4 0h0m1 0h0m-14 1h0m1 0h0m2 0h0m4 0h0m2 0h0m0 0h0m0 0h0m1 0h0m1 0h0m2 0h0m2 0h0m0 0h0m-11 1h0m9 0h0m2 0h0" stroke="rgb(46, 220, 153)" stroke-width="2.4" stroke-linecap="square" fill="none"/>
<path transform="scale(0.5)" d="M429 402h0m4 0h0m-6 1h0m0 0h0m1 0h0m1 0h0m4 0h0m-13 1h0m18 0h0m0 0h0m-18 1h0m1 0h0m0 0h0m18 0h0m-18 1h0m22 0h0m-1 1h0m0 0h0m-24 3h0m26 0h0m0 1h0m-27 1h0m0 0h0m27 0h0m1 0h0m-31 2h0m0 0h0m1 0h0m29 0h0m1 0h0m0 0h0m0 1h0m0 0h0m1 0h0m-31 1h0m-1 1h0m1 0h0m30 0h0m0 0h0m-30 1h0m0 0h0m2 0h0m1 0h0m1 0h0m23 0h0m1 0h0m-29 1h0m1 0h0m2 0h0m0 0h0m26 0h0m-27 1h0m3 0h0m21 0h0m0 0h0m3 0h0m-21 1h0m1 0h0m17 0h0m1 0h0m-19 1h0m4 0h0m1 0h0m2 0h0m2 0h0m-4 1h0m3 0h0m0 0h0m2 0h0m0 0h0m-3 1h0" stroke="rgb(42, 227, 95)" stroke-width="2.4" stroke-linecap="square" fill="none"/>
<path transform="scale(0.5)" d="M431 402h0m1 0h0m-2 1h0m1 0h0m-9 1h0m8 0h0m-8 1h0m15 0h0m-16 1h0m1 0h0m0 0h0m1 0h0m1 0h0m1 0h0m-4 1h0m0 0h0m22 1h0m0 2h0m-24 1h0m0 0h0m0 0h0m0 0h0m0 1h0m-1 1h0m0 0h0m1 0h0m-3 2h0m0 0h0m2 0h0m1 1h0m0 0h0m23 0h0m-26 1h0m0 0h0m1 0h0m0 0h0m0 0h0m0 0h0m-1 1h0m24 0h0m1 0h0m-21 1h0m0 0h0m20 0h0m1 0h0m-5 1h0m2 0h0m2 0h0m-16 1h0m12 0h0m3 0h0m0 0h0m0 0h0m-14 1h0m0 0h0m14 0h0" stroke="rgb(51, 232, 57)" stroke-width="2.4" stroke-linecap="square" fill="none"/>
<path transform="scale(0.5)" d="M428 404h0m5 0h0m2 0h0m-9 1h0m0 0h0m1 0h0m0 0h0m1 0h0m0 0h0m1 0h0m0 0h0m3 0h0m1 0h0m1 0h0m-12 1h0m1 0h0m3 0h0m2 0h0m5 0h0m2 0h0m5 0h0m0 0h0m1 0h0m-18 1h0m0 0h0m0 0h0m17 0h0m-20 1h0m1 0h0m0 0h0m0 1h0m-1 2h0m1 0h0m0 0h0m22 0h0m0 1h0m-1 1h0m1 0h0m0 0h0m-25 1h0m1 0h0m1 0h0m1 0h0m22 0h0m0 0h0m-25 1h0m24 0h0m0 0h0m1 0h0m-1 1h0m-22 1h0m0 0h0m0 0h0m1 0h0m7 3h0m1 0h0m0 0h0m1 0h0m3 0h0m-7 1h0m0 0h0m2 0h0m0 0h0m1 0h0m0 0h0m1 0h0m0 0h0m1 0h0m2 0h0m0 0h0m0 0h0m1 0h0m1 0h0m0 0h0m0 0h0" stroke="rgb(78, 233, 52)" stroke-width="2.4" stroke-linecap="square" fill="none"/>
<path transform="scale(0.5)" d="M430 404h0m0 1h0m1 0h0m0 0h0m0 0h0m-6 1h0m0 0h0m0 0h0m0 0h0m5 0h0m-6 1h0m2 0h0m0 0h0m1 0h0m0 0h0m11 0h0m0 0h0m1 0h0m-15 1h0m15 0h0m-17 1h0m19 0h0m0 0h0m0 0h0m0 0h0m-19 1h0m1 0h0m0 0h0m0 0h0m18 0h0m-20 2h0m0 0h0m-1 1h0m1 0h0m-1 1h0m2 0h0m1 0h0m0 0h0m18 0h0m-18 1h0m17 0h0m-17 1h0m0 0h0m0 0h0m19 0h0m-2 1h0m0 0h0m1 0h0m-17 1h0m1 0h0m1 0h0m10 0h0m2 0h0m-14 1h0m0 0h0m0 0h0m1 0h0m0 0h0m0 0h0m2 0h0m0 0h0m0 0h0m9 0h0m0 0h0m2 0h0m0 0h0m1 0h0m1 0h0m-16 1h0m2 0h0m10 0h0m1 0h0m1 0h0" stroke="rgb(106, 234, 46)" stroke-width="2.4" stroke-linecap="square" fill="none"/>
<path transform="scale(0.5)" d="M431 406h0m2 0h0m1 0h0m1 0h0m1 0h0m1 0h0m0 0h0m1 0h0m0 0h0m-8 1h0m1 0h0m0 0h0m1 0h0m1 0h0m0 0h0m3 0h0m0 0h0m1 0h0m0 0h0m-13 1h0m3 0h0m2 0h0m4 0h0m2 0h0m-9 1h0m0 0h0m1 0h0m-5 1h0m0 0h0m1 0h0m0 0h0m3 0h0m1 0h0m0 0h0m0 0h0m13 0h0m-18 1h0m1 0h0m0 0h0m2 0h0m0 0h0m15 0h0m0 0h0m1 0h0m-19 1h0m0 0h0m0 0h0m1 0h0m17 0h0m1 0h0m0 0h0m-18 1h0m0 0h0m17 0h0m0 0h0m1 0h0m-19 1h0m3 2h0m0 0h0m13 0h0m0 0h0m-13 1h0m13 0h0m-13 1h0m0 0h0m5 0h0m2 0h0m1 0h0m5 0h0m-8 1h0m0 0h0m2 0h0m1 0h0m0 0h0m0 0h0m2 0h0m0 0h0m0 0h0m-7 1h0m2 0h0m5 0h0" stroke="rgb(134, 234, 41)" stroke-width="2.4" stroke-linecap="square" fill="none"/>
<path transform="scale(0.5)" d="M428 408h0m1 0h0m1 0h0m0 0h0m1 0h0m7 0h0m0 0h0m0 0h0m0 0h0m1 0h0m-10 1h0m1 0h0m1 0h0m0 0h0m7 0h0m1 0h0m0 0h0m-13 1h0m1 0h0m1 0h0m0 0h0m1 0h0m0 0h0m0 0h0m9 0h0m-12 1h0m0 0h0m2 0h0m-3 1h0m2 0h0m1 0h0m10 0h0m0 0h0m0 0h0m1 0h0m-15 1h0m1 0h0m1 0h0m1 0h0m0 0h0m12 0h0m0 0h0m0 0h0m-15 1h0m0 0h0m3 0h0m-3 1h0m0 0h0m0 0h0m1 0h0m1 0h0m0 0h0m1 0h0m11 0h0m-12 1h0m0 0h0m1 0h0m0 0h0m2 0h0m2 0h0m6 0h0m1 0h0m0 0h0m-12 1h0m0 0h0m1 0h0m2 0h0m2 0h0m1 0h0m4 0h0m0 0h0m1 0h0m0 0h0m-10 1h0m2 0h0" stroke="rgb(190, 232, 29)" stroke-width="2.4" stroke-linecap="square" fill="none"/>
<path transform="scale(0.5)" d="M434 408h0m0 0h0m0 0h0m2 0h0m-4 1h0m2 0h0m0 0h0m0 0h0m0 0h0m1 0h0m2 0h0m0 0h0m-6 1h0m2 0h0m2 0h0m2 0h0m2 0h0m-9 1h0m1 0h0m0 0h0m7 0h0m1 0h0m-11 1h0m1 0h0m0 0h0m2 0h0m8 0h0m-11 2h0m0 0h0m1 0h0m0 0h0m2 0h0m1 0h0m5 0h0m-9 1h0m0 0h0m1 0h0m0 0h0m0 0h0m0 0h0m2 0h0m0 0h0m5 0h0m0 0h0m0 0h0m-5 1h0m1 0h0m5 0h0m-5 1h0m0 0h0m0 0h0m1 0h0m1 0h0m0 0h0m1 0h0m-3 1h0m1 0h0m1 0h0m1 0h0" stroke="rgb(238, 198, 20)" stroke-width="2.4" stroke-linecap="square" fill="none"/>
<path transform="scale(0.5)" d="M432 410h0m0 0h0m1 0h0m2 0h0m0 0h0m0 0h0m1 0h0m-4 1h0m2 0h0m1 0h0m1 0h0m1 0h0m0 0h0m0 0h0m-7 1h0m3 0h0m1 0h0m0 0h0m1 0h0m0 0h0m1 0h0m0 0h0m0 0h0m1 0h0m0 0h0m0 0h0m1 0h0m-8 1h0m1 0h0m0 0h0m0 0h0m1 0h0m0 0h0m2 0h0m1 0h0m1 0h0m1 0h0m-6 1h0m0 0h0m1 0h0m0 0h0m0 0h0m0 0h0m1 0h0m0 0h0m1 0h0m1 0h0m1 0h0m-4 1h0m0 0h0m0 0h0m1 0h0m0 0h0m0 0h0m1 0h0m1 0h0m-1 1h0" stroke="rgb(230, 40, 20)" stroke-width="2.4" stroke-linecap="square" fill="none"/>
</g>
<rect x="175.80" y="196.90" width="64.20" height="64.30" fill="none" stroke="#9a9aa8" stroke-width="0.8"/>
<line x1="175.8" y1="196.9" x2="207.6" y2="196.9" stroke="#3a3aa8" stroke-width="1.0"/>
<line x1="175.8" y1="196.9" x2="175.8" y2="261.2" stroke="#3a3aa8" stroke-width="1.0"/>
<line x1="207.6" y1="196.9" x2="207.6" y2="261.2" stroke="#3a3aa8" stroke-width="1.0"/>
<line x1="175.8" y1="239.5" x2="207.6" y2="239.5" stroke="#3a3aa8" stroke-width="1.0"/>
<text x="177.3" y="204.1" font-size="7" fill="#000">26.8</text>
<text x="235.3" y="228.25" font-size="7.2" font-weight="bold" text-anchor="end" fill="#000">70.3</text>
<text x="177.0" y="258.59999999999997" font-size="7" fill="#000">2.9</text>
<text x="24.7" y="200.0" font-size="5.5" fill="#111">10<tspan dx="0.3" dy="-2.75" font-size="4.67">4</tspan></text>
<text x="24.7" y="215.525" font-size="5.5" fill="#111">10<tspan dx="0.3" dy="-2.75" font-size="4.67">3</tspan></text>
<text x="24.7" y="231.04999999999998" font-size="5.5" fill="#111">10<tspan dx="0.3" dy="-2.75" font-size="4.67">2</tspan></text>
<text x="24.7" y="246.575" font-size="5.5" fill="#111">10<tspan dx="0.3" dy="-2.75" font-size="4.67">1</tspan></text>
<text x="24.7" y="262.1" font-size="5.5" fill="#111">10<tspan dx="0.3" dy="-2.75" font-size="4.67">0</tspan></text>
<g filter="url(#bl)">
<path transform="scale(0.5)" d="M127 561h0" stroke="rgb(102, 127, 238)" stroke-width="2.4" stroke-linecap="square" fill="none"/>
<path transform="scale(0.5)" d="M121 558h0m2 2h0m4 17h0m-40 91h0" stroke="rgb(85, 115, 236)" stroke-width="2.4" stroke-linecap="square" fill="none"/>
<path transform="scale(0.5)" d="M108 557h0m9 0h0m1 1h0m6 17h0m1 1h0m0 0h0m-3 3h0m-2 2h0m-12 16h0m-2 3h0m1 0h0m-8 22h0m-5 9h0m-2 10h0m-1 9h0m0 1h0" stroke="rgb(68, 102, 234)" stroke-width="2.4" stroke-linecap="square" fill="none"/>
<path transform="scale(0.5)" d="M98 558h0m1 1h0m-24 1h0m11 0h0m-11 1h0m2 0h0m2 0h0m4 0h0m0 0h0m1 0h0m0 0h0m2 0h0m6 0h0m-15 1h0m0 0h0m3 0h0m-3 1h0m-1 1h0m1 0h0m45 0h0m2 0h0m-46 3h0m-3 1h0m1 0h0m49 0h0m-47 1h0m48 0h0m-1 1h0m-49 1h0m47 6h0m-3 3h0m-8 8h0m1 2h0m-4 2h0m1 1h0m0 0h0m0 0h0m1 0h0m-1 2h0m-15 2h0m-2 1h0m0 1h0m-3 2h0m14 0h0m0 0h0m-11 1h0m-3 1h0m3 0h0m2 1h0m0 0h0m1 0h0m9 0h0m-13 1h0m3 0h0m10 0h0m1 0h0m-1 1h0m-14 1h0m13 1h0m-1 2h0m-2 2h0m1 0h0m0 0h0m1 0h0m0 0h0m0 0h0m0 0h0m-3 1h0m-1 1h0m1 0h0m0 1h0m-1 3h0m0 1h0m1 1h0m-4 1h0m2 0h0m-1 1h0m0 2h0m0 1h0m-3 4h0m0 2h0m-1 2h0m0 0h0m-3 1h0m3 0h0m-1 1h0m0 1h0m-2 2h0m1 0h0m-2 2h0m-1 1h0m2 0h0m-1 2h0m2 1h0m-1 1h0m0 0h0m1 2h0m-1 5h0m-2 2h0m0 2h0m1 1h0m0 5h0m0 1h0m-7 5h0m1 0h0" stroke="rgb(51, 90, 232)" stroke-width="2.4" stroke-linecap="square" fill="none"/>
<path transform="scale(0.5)" d="M104 558h0m5 0h0m-2 1h0m-15 1h0m3 0h0m18 0h0m3 0h0m1 0h0m2 0h0m-3 1h0m-33 1h0m2 0h0m1 0h0m2 0h0m1 0h0m1 0h0m4 0h0m-14 1h0m1 0h0m2 0h0m2 0h0m4 0h0m2 0h0m1 0h0m29 0h0m-43 1h0m4 0h0m2 0h0m2 0h0m0 0h0m4 0h0m31 0h0m-43 1h0m3 0h0m0 0h0m41 0h0m-41 2h0m1 0h0m0 0h0m1 0h0m0 0h0m39 0h0m-44 1h0m46 0h0m0 0h0m-43 1h0m42 0h0m-46 1h0m1 0h0m1 0h0m-1 1h0m1 1h0m45 0h0m-47 1h0m0 0h0m1 0h0m3 0h0m41 0h0m-46 1h0m0 1h0m2 0h0m0 0h0m43 0h0m-45 1h0m0 0h0m44 0h0m-45 2h0m2 1h0m1 0h0m-2 1h0m44 0h0m-44 1h0m0 2h0m-1 1h0m3 2h0m-2 1h0m0 1h0m0 0h0m34 0h0m1 1h0m1 0h0m-15 1h0m8 0h0m4 0h0m-15 1h0m5 0h0m6 0h0m-14 1h0m0 0h0m1 0h0m1 0h0m1 0h0m1 0h0m7 0h0m1 0h0m3 0h0m0 0h0m2 0h0m-18 1h0m3 0h0m4 0h0m2 0h0m0 0h0m5 0h0m2 0h0m0 0h0m-15 1h0m9 0h0m1 0h0m1 0h0m3 0h0m1 0h0m0 0h0m-14 1h0m2 0h0m0 0h0m1 0h0m1 0h0m7 0h0m-13 1h0m2 0h0m5 0h0m1 0h0m5 0h0m3 0h0m-15 1h0m1 0h0m0 0h0m7 0h0m3 0h0m-4 1h0m1 0h0m2 0h0m0 0h0m2 0h0m-7 1h0m1 0h0m3 0h0m1 0h0m2 0h0m-3 2h0m-13 1h0m14 0h0m1 0h0m-14 1h0m9 0h0m2 0h0m2 0h0m0 0h0m2 0h0m-5 1h0m1 0h0m0 0h0m0 0h0m4 0h0m-15 1h0m2 0h0m7 0h0m4 0h0m2 0h0m-7 1h0m4 0h0m4 0h0m-18 1h0m14 0h0m1 0h0m1 0h0m1 0h0m-11 1h0m3 0h0m-5 1h0m1 0h0m0 0h0m1 0h0m2 0h0m3 0h0m4 0h0m-12 1h0m7 0h0m2 0h0m0 0h0m4 0h0m-8 2h0m4 0h0m1 0h0m-3 2h0m0 0h0m1 0h0m0 1h0m1 2h0m-2 1h0m-1 1h0m0 1h0m0 2h0m0 1h0m-1 1h0m0 1h0m1 0h0m0 0h0m-2 3h0m0 1h0m0 0h0m-2 2h0m1 1h0m-4 2h0m0 1h0m1 0h0m-3 1h0m2 0h0m0 1h0m1 0h0m-2 1h0m2 1h0m0 0h0m-3 4h0m2 0h0m0 3h0m2 0h0m-2 1h0m1 1h0m0 0h0m-1 3h0m0 2h0m-2 1h0m2 5h0m0 2h0m1 0h0m0 0h0m-2 1h0m0 2h0m1 2h0" stroke="rgb(44, 94, 233)" stroke-width="2.4" stroke-linecap="square" fill="none"/>
<path transform="scale(0.5)" d="M97 560h0m1 0h0m15 0h0m1 0h0m1 0h0m-19 1h0m2 0h0m1 0h0m3 0h0m1 0h0m2 0h0m0 0h0m0 0h0m11 0h0m-23 1h0m3 0h0m2 0h0m1 0h0m3 0h0m10 0h0m7 0h0m-27 1h0m-3 1h0m1 0h0m3 0h0m26 0h0m1 0h0m-2 1h0m-33 1h0m5 0h0m-3 1h0m0 0h0m3 0h0m1 0h0m0 0h0m30 0h0m-34 1h0m2 0h0m0 0h0m2 0h0m29 0h0m0 0h0m-36 1h0m3 0h0m0 0h0m0 0h0m1 0h0m0 0h0m2 0h0m31 0h0m-36 1h0m36 0h0m0 0h0m1 0h0m-37 1h0m2 0h0m3 0h0m31 0h0m-37 1h0m3 0h0m33 0h0m2 0h0m-39 1h0m2 0h0m1 0h0m0 0h0m2 0h0m1 0h0m31 0h0m1 0h0m-40 1h0m0 0h0m3 0h0m-2 1h0m4 0h0m1 0h0m-7 1h0m4 0h0m1 0h0m2 0h0m0 0h0m0 0h0m31 0h0m-42 1h0m3 0h0m0 0h0m2 0h0m2 0h0m1 0h0m34 0h0m-39 1h0m1 0h0m0 0h0m2 0h0m0 0h0m-2 1h0m1 0h0m1 0h0m1 0h0m0 0h0m0 0h0m-4 1h0m0 0h0m2 0h0m0 0h0m2 0h0m3 0h0m-3 1h0m5 0h0m-8 1h0m0 0h0m8 0h0m-8 1h0m1 0h0m4 0h0m0 0h0m2 0h0m0 0h0m-6 1h0m4 0h0m-6 1h0m1 0h0m1 0h0m1 0h0m3 0h0m1 0h0m-8 1h0m3 0h0m4 0h0m3 0h0m21 0h0m-22 1h0m22 0h0m2 0h0m0 0h0m1 0h0m-27 1h0m2 0h0m2 0h0m0 0h0m2 0h0m1 0h0m6 0h0m9 0h0m1 0h0m-32 1h0m2 0h0m0 0h0m0 0h0m7 0h0m1 0h0m6 0h0m3 0h0m2 0h0m3 0h0m1 0h0m1 0h0m1 0h0m0 0h0m-26 1h0m0 0h0m1 0h0m7 0h0m1 0h0m0 0h0m0 0h0m7 0h0m1 0h0m-18 1h0m0 0h0m8 0h0m-8 1h0m1 0h0m10 0h0m-11 1h0m1 0h0m-1 1h0m1 0h0m1 0h0m0 0h0m8 0h0m-11 1h0m9 0h0m2 0h0m0 0h0m-10 1h0m0 0h0m2 0h0m8 0h0m0 0h0m1 0h0m1 0h0m-1 2h0m0 1h0m-2 1h0m-1 1h0m3 0h0m-3 1h0m1 0h0m1 0h0m0 0h0m-2 1h0m1 0h0m0 0h0m-1 2h0m0 0h0m2 0h0m-7 1h0m3 0h0m4 0h0m-8 1h0m5 0h0m3 0h0m-11 1h0m0 0h0m1 0h0m8 0h0m-7 1h0m0 0h0m1 0h0m1 0h0m11 1h0m-13 1h0m14 0h0m-15 1h0m14 0h0m1 0h0m1 0h0m-17 1h0m17 0h0m0 0h0m1 0h0m1 2h0m0 0h0m-2 2h0m1 0h0m-1 1h0m2 1h0m-1 1h0m0 0h0m1 1h0m-1 2h0m1 1h0m-2 1h0m0 0h0m1 1h0m-2 1h0m0 0h0m0 0h0m1 0h0m-3 1h0m2 0h0m-2 1h0m0 0h0m1 0h0m-6 1h0m4 0h0m-13 1h0m12 0h0m-10 1h0m0 0h0m7 0h0m1 0h0m1 0h0m-9 1h0m0 0h0m10 0h0m-12 1h0m8 0h0m2 0h0m1 0h0m-10 1h0m6 1h0m3 0h0m1 0h0m0 1h0m-3 1h0m2 0h0m1 0h0m-2 1h0m-8 1h0m9 1h0m0 0h0m1 1h0m-11 1h0m10 1h0m0 0h0m-1 1h0m-9 1h0m13 3h0m-1 1h0m-2 1h0m1 0h0m0 0h0m-1 1h0m1 0h0m-2 2h0m-9 2h0m0 0h0m10 0h0m3 0h0m-13 2h0m0 0h0m11 0h0m1 0h0m0 0h0m-1 1h0m1 1h0m1 0h0m-12 3h0m-1 2h0m9 0h0m1 0h0m-9 1h0m0 0h0m2 0h0m1 0h0m1 0h0m0 0h0m1 0h0m0 0h0m2 0h0m-7 1h0m7 0h0m0 0h0" stroke="rgb(43, 111, 235)" stroke-width="2.4" stroke-linecap="square" fill="none"/>
<path transform="scale(0.5)" d="M107 560h0m4 0h0m-4 1h0m1 0h0m0 0h0m2 0h0m2 0h0m-15 1h0m3 0h0m8 0h0m0 0h0m3 0h0m4 0h0m1 0h0m-19 1h0m0 0h0m1 0h0m0 0h0m2 0h0m1 0h0m14 0h0m1 0h0m1 0h0m0 0h0m-23 1h0m2 0h0m1 0h0m2 0h0m16 0h0m2 0h0m-22 1h0m-2 1h0m1 0h0m-1 1h0m26 0h0m0 0h0m-25 1h0m24 1h0m2 0h0m-1 1h0m0 2h0m-29 1h0m28 0h0m1 0h0m-30 1h0m2 0h0m28 0h0m-30 1h0m0 0h0m1 0h0m-2 1h0m3 0h0m1 0h0m-3 1h0m1 0h0m2 0h0m-2 1h0m-2 1h0m28 0h0m1 0h0m0 0h0m-28 1h0m26 0h0m0 0h0m1 0h0m-27 3h0m24 0h0m-25 1h0m1 0h0m1 0h0m19 0h0m1 0h0m-28 1h0m1 0h0m0 0h0m6 0h0m22 0h0m0 0h0m-29 1h0m2 0h0m7 0h0m1 0h0m0 0h0m0 0h0m2 0h0m1 0h0m4 0h0m2 0h0m0 0h0m5 0h0m2 0h0m-28 1h0m0 0h0m2 0h0m0 0h0m9 0h0m11 0h0m1 0h0m0 0h0m2 0h0m2 0h0m-26 1h0m1 0h0m1 0h0m11 0h0m5 0h0m3 0h0m4 0h0m-25 1h0m2 0h0m-3 1h0m2 0h0m0 1h0m0 0h0m2 0h0m0 0h0m-4 1h0m0 0h0m2 0h0m2 0h0m-5 1h0m2 0h0m2 0h0m1 0h0m-4 1h0m2 1h0m1 0h0m-5 1h0m2 0h0m1 0h0m1 0h0m0 0h0m0 0h0m0 0h0m-3 1h0m4 0h0m0 0h0m0 0h0m-7 1h0m1 0h0m3 0h0m3 0h0m-7 1h0m2 0h0m1 0h0m0 0h0m0 0h0m3 0h0m2 0h0m0 0h0m1 0h0m1 0h0m0 0h0m-8 1h0m2 0h0m1 0h0m0 0h0m1 0h0m2 0h0m-9 1h0m1 0h0m0 0h0m3 0h0m-4 1h0m2 0h0m1 0h0m0 0h0m0 0h0m1 0h0m-4 1h0m2 0h0m1 0h0m1 0h0m1 0h0m1 0h0m0 0h0m-5 1h0m0 0h0m1 0h0m0 0h0m1 0h0m4 0h0m-6 1h0m1 0h0m4 0h0m-2 1h0m1 0h0m1 0h0m0 2h0m0 0h0m1 0h0m-1 1h0m0 0h0m-2 1h0m1 0h0m2 0h0m0 0h0m2 0h0m0 0h0m0 0h0m1 0h0m0 0h0m2 0h0m-5 1h0m1 0h0m1 0h0m0 0h0m0 0h0m2 0h0m1 0h0m-9 1h0m0 0h0m4 0h0m3 0h0m-8 1h0m1 0h0m11 0h0m-13 1h0m1 0h0m1 0h0m11 0h0m1 0h0m1 0h0m-14 1h0m12 0h0m1 0h0m0 0h0m-13 1h0m12 0h0m2 0h0m0 3h0m-1 2h0m-2 1h0m1 2h0m0 0h0m0 0h0m0 0h0m0 1h0m-13 1h0m2 0h0m8 0h0m4 0h0m-15 1h0m1 0h0m11 0h0m2 0h0m-13 1h0m0 0h0m1 0h0m0 0h0m1 0h0m4 0h0m4 0h0m1 0h0m0 0h0m2 0h0m-13 1h0m1 0h0m1 0h0m0 0h0m0 0h0m3 0h0m1 0h0m1 0h0m2 0h0m1 0h0m-7 1h0m1 0h0m3 0h0m-7 1h0m2 0h0m5 0h0m-4 1h0m2 0h0m0 0h0m3 0h0m-6 1h0m3 0h0m0 0h0m-5 1h0m5 0h0m1 0h0m-1 1h0m1 0h0m-5 1h0m1 0h0m2 0h0m0 0h0m1 0h0m1 0h0m-7 1h0m0 0h0m3 0h0m0 0h0m1 0h0m1 0h0m-5 1h0m1 0h0m2 0h0m1 0h0m3 0h0m-6 1h0m0 0h0m2 0h0m0 0h0m1 0h0m0 0h0m2 0h0m-5 1h0m3 0h0m3 0h0m-5 1h0m0 0h0m0 0h0m2 0h0m3 0h0m-3 1h0m0 0h0m0 0h0m2 0h0m0 0h0m-1 1h0m1 0h0m1 0h0m0 0h0m0 0h0m-4 1h0m1 0h0m3 0h0m1 0h0m-7 1h0m1 0h0m0 0h0m1 0h0m4 0h0m0 0h0m2 1h0m1 0h0m-2 1h0m-7 1h0m2 0h0m1 0h0m3 0h0m1 0h0m-7 1h0m0 0h0m3 0h0m3 0h0m0 0h0m0 0h0m0 0h0m2 0h0m1 0h0m1 0h0m-10 1h0m0 0h0m1 0h0m4 0h0m-4 1h0m1 0h0m1 0h0m3 0h0m2 0h0m-8 1h0m0 0h0m1 0h0m1 0h0m0 0h0m1 0h0m2 0h0m-6 1h0m1 0h0m0 0h0m3 0h0m1 0h0m0 0h0m2 0h0m0 0h0m0 0h0m-6 1h0m2 0h0m1 0h0m2 0h0m-6 1h0m5 0h0m1 0h0m2 0h0m-6 1h0m1 0h0m1 0h0m0 0h0m4 0h0m0 0h0m1 0h0m-6 1h0m0 0h0m1 0h0m4 0h0m1 0h0m-5 1h0m-2 1h0m1 0h0m5 0h0m1 0h0m-5 1h0m6 0h0m0 0h0m-5 1h0m6 0h0m-10 1h0m2 0h0m5 0h0m2 0h0m1 0h0m0 0h0m-8 1h0m5 0h0m0 0h0m-6 1h0m0 0h0m1 0h0m1 0h0m1 0h0m0 0h0m1 0h0m1 0h0m1 0h0m-7 1h0m1 0h0m0 0h0m0 0h0m1 0h0m1 0h0m4 0h0m0 0h0m-6 1h0m2 0h0m0 0h0m3 0h0m1 0h0" stroke="rgb(41, 127, 237)" stroke-width="2.4" stroke-linecap="square" fill="none"/>
<path transform="scale(0.5)" d="M103 562h0m3 0h0m5 0h0m-7 1h0m3 0h0m1 0h0m0 0h0m0 0h0m1 0h0m1 0h0m2 0h0m0 0h0m2 0h0m-16 1h0m10 0h0m5 0h0m2 0h0m-18 1h0m0 0h0m1 0h0m0 0h0m17 0h0m-1 1h0m0 0h0m2 0h0m0 1h0m1 0h0m0 0h0m1 0h0m-1 1h0m-24 3h0m0 0h0m1 1h0m0 1h0m-2 1h0m24 2h0m0 1h0m1 0h0m-26 1h0m0 1h0m0 0h0m-1 1h0m0 0h0m1 0h0m0 0h0m0 1h0m2 1h0m0 0h0m18 0h0m-20 1h0m2 0h0m1 0h0m16 0h0m1 0h0m0 0h0m-19 1h0m0 0h0m1 0h0m1 0h0m0 0h0m7 0h0m1 0h0m3 0h0m3 0h0m-15 1h0m0 0h0m0 0h0m0 0h0m1 0h0m1 0h0m0 0h0m0 0h0m2 0h0m0 0h0m0 0h0m3 0h0m3 0h0m2 0h0m2 0h0m-13 1h0m5 0h0m3 0h0m4 0h0m-23 26h0m0 0h0m0 1h0m1 0h0m-4 1h0m7 0h0m-8 1h0m0 0h0m7 0h0m0 0h0m-10 1h0m1 0h0m0 0h0m2 0h0m10 0h0m-12 1h0m1 0h0m11 0h0m0 1h0m1 0h0m-15 1h0m0 1h0m0 0h0m14 0h0m0 0h0m-14 1h0m0 0h0m13 0h0m-13 3h0m1 0h0m0 0h0m2 0h0m1 0h0m0 0h0m7 0h0m-11 1h0m1 0h0m3 0h0m1 1h0m3 0h0m1 0h0m-3 1h0m0 0h0m2 0h0m1 0h0m1 0h0m-6 17h0m1 0h0m0 0h0m2 0h0m-3 1h0m1 0h0m2 0h0m-2 1h0m2 0h0m-3 1h0m0 0h0m1 0h0m0 0h0m0 0h0m1 0h0m0 2h0m0 0h0m0 1h0m1 6h0m-2 1h0m1 0h0m0 0h0m1 0h0m0 0h0m0 1h0m0 0h0m-2 1h0m0 1h0m3 0h0m-2 1h0m1 0h0m0 0h0m1 0h0m0 0h0m-3 1h0m0 0h0m1 0h0m0 0h0m0 0h0m2 0h0m-4 1h0m3 0h0" stroke="rgb(40, 143, 239)" stroke-width="2.4" stroke-linecap="square" fill="none"/>
<path transform="scale(0.5)" d="M99 564h0m1 0h0m2 0h0m1 0h0m10 0h0m-12 1h0m2 0h0m1 0h0m-1 1h0m12 0h0m-19 1h0m1 0h0m0 0h0m1 0h0m17 0h0m0 0h0m-20 1h0m20 0h0m-21 1h0m1 0h0m0 0h0m1 0h0m-1 1h0m-1 1h0m1 0h0m0 0h0m1 0h0m-1 1h0m22 0h0m0 0h0m0 0h0m0 3h0m0 0h0m-24 2h0m0 1h0m23 0h0m-24 1h0m1 0h0m22 0h0m-3 1h0m1 0h0m0 0h0m1 0h0m-22 1h0m1 0h0m0 0h0m3 0h0m0 1h0m2 0h0m0 0h0m2 0h0m0 0h0m2 0h0m0 0h0m2 0h0m0 0h0m3 0h0m2 0h0m3 0h0m-17 1h0m0 0h0m2 0h0m2 0h0m3 0h0m1 0h0m1 0h0m0 0h0m1 0h0m1 0h0m0 0h0m1 0h0m1 0h0m-11 1h0m3 0h0m6 0h0m2 0h0m-27 30h0m1 0h0m0 0h0m1 0h0m2 0h0m-4 1h0m1 0h0m0 0h0m1 0h0m1 0h0m1 0h0m0 0h0m0 0h0m-5 1h0m1 0h0m2 0h0m1 0h0m2 0h0m0 0h0m-7 1h0m0 0h0m8 0h0m0 0h0m1 0h0m0 0h0m-10 1h0m1 0h0m0 0h0m1 0h0m7 0h0m-8 1h0m8 0h0m1 0h0m0 0h0m-12 1h0m0 0h0m2 0h0m2 0h0m7 0h0m0 0h0m-10 1h0m1 0h0m9 0h0m-11 1h0m0 0h0m1 0h0m0 0h0m1 0h0m7 0h0m1 0h0m-7 1h0m0 0h0m1 0h0m4 0h0m0 0h0m1 0h0m0 0h0m1 0h0m1 0h0m0 0h0m-11 1h0m0 0h0m2 0h0m1 0h0m3 0h0m0 0h0m2 0h0m1 0h0m1 0h0m-6 1h0m3 0h0m1 0h0m1 0h0m1 0h0m-4 1h0m0 0h0" stroke="rgb(42, 163, 231)" stroke-width="2.4" stroke-linecap="square" fill="none"/>
<path transform="scale(0.5)" d="M105 564h0m0 1h0m0 0h0m2 0h0m1 0h0m0 0h0m0 0h0m0 0h0m0 0h0m0 0h0m1 0h0m0 0h0m-9 1h0m6 0h0m5 0h0m3 0h0m-16 1h0m3 0h0m0 0h0m11 0h0m2 0h0m-17 1h0m0 0h0m3 0h0m1 0h0m1 0h0m-5 1h0m0 0h0m0 1h0m0 0h0m17 0h0m2 0h0m-21 2h0m0 0h0m1 0h0m-1 1h0m0 1h0m-1 1h0m1 0h0m-1 1h0m1 0h0m19 0h0m-19 1h0m0 0h0m19 0h0m0 0h0m2 0h0m-22 1h0m0 0h0m0 0h0m1 0h0m0 0h0m18 0h0m0 0h0m2 0h0m-20 1h0m0 0h0m18 0h0m1 0h0m-16 1h0m0 0h0m1 0h0m14 0h0m-17 1h0m3 0h0m0 0h0m0 0h0m0 0h0m9 0h0m1 0h0m1 0h0m0 0h0m1 0h0m0 0h0m-2 1h0m-29 34h0m3 0h0m2 0h0m0 0h0m0 0h0m-4 1h0m0 0h0m0 0h0m2 0h0m1 0h0m0 0h0m-4 1h0m2 0h0m-1 1h0m1 0h0m1 0h0m1 0h0m0 0h0m0 0h0m2 0h0m-8 1h0m1 0h0m1 0h0m0 0h0m0 0h0m2 0h0m0 0h0m0 0h0m1 0h0m0 0h0m2 0h0m0 0h0m0 0h0m-5 1h0m1 0h0m0 0h0m1 0h0m0 0h0m0 0h0m1 0h0m0 0h0m2 0h0m0 0h0m1 0h0m-8 1h0m3 0h0m4 0h0m-4 1h0m1 0h0m2 0h0m-4 1h0m4 0h0" stroke="rgb(45, 187, 217)" stroke-width="2.4" stroke-linecap="square" fill="none"/>
<path transform="scale(0.5)" d="M102 566h0m0 1h0m1 0h0m0 0h0m7 0h0m1 0h0m-12 1h0m1 0h0m11 0h0m0 0h0m1 0h0m0 0h0m0 0h0m1 0h0m1 0h0m-15 1h0m1 0h0m12 0h0m0 0h0m1 0h0m0 0h0m-14 1h0m15 0h0m1 1h0m-18 1h0m18 0h0m0 0h0m0 0h0m1 0h0m0 0h0m-19 1h0m0 0h0m17 0h0m1 0h0m0 0h0m1 0h0m0 0h0m-18 1h0m16 0h0m1 0h0m0 0h0m0 0h0m0 0h0m-17 2h0m-1 1h0m0 0h0m0 0h0m1 0h0m-2 1h0m1 0h0m1 0h0m12 0h0m1 0h0m0 0h0m1 0h0m-16 1h0m1 0h0m1 0h0m13 0h0m0 0h0m1 0h0m-15 1h0m0 0h0m5 0h0m1 0h0m1 0h0m-4 1h0m0 0h0m2 0h0m0 0h0m0 0h0m1 0h0m0 0h0m2 0h0m0 0h0m1 0h0m0 0h0m1 0h0" stroke="rgb(49, 210, 202)" stroke-width="2.4" stroke-linecap="square" fill="none"/>
<path transform="scale(0.5)" d="M105 566h0m3 0h0m-4 1h0m1 0h0m0 0h0m2 0h0m0 0h0m0 0h0m1 0h0m0 0h0m0 0h0m1 0h0m-9 1h0m1 0h0m3 0h0m0 0h0m0 0h0m2 0h0m1 0h0m4 0h0m0 0h0m-11 1h0m0 0h0m1 0h0m0 0h0m9 0h0m1 0h0m-11 1h0m0 0h0m2 0h0m8 0h0m2 0h0m0 0h0m1 0h0m0 0h0m1 0h0m-16 1h0m1 0h0m0 0h0m13 0h0m2 0h0m-14 1h0m12 0h0m0 0h0m0 0h0m1 0h0m0 0h0m0 0h0m0 0h0m-1 1h0m0 0h0m1 0h0m0 0h0m0 0h0m-16 1h0m1 0h0m15 0h0m-16 1h0m0 0h0m15 0h0m0 0h0m0 0h0m0 0h0m1 0h0m0 0h0m1 0h0m0 0h0m-18 1h0m1 0h0m15 0h0m1 0h0m0 0h0m-14 1h0m11 0h0m0 0h0m0 0h0m1 0h0m0 0h0m0 0h0m2 0h0m0 0h0m0 0h0m0 0h0m1 0h0m0 0h0m-14 1h0m0 0h0m1 0h0m5 0h0m2 0h0m1 0h0m0 0h0m3 0h0m0 0h0m-14 1h0m1 0h0m0 0h0m1 0h0m0 0h0m0 0h0m1 0h0m0 0h0m0 0h0m1 0h0m2 0h0m0 0h0m1 0h0m1 0h0m1 0h0m0 0h0m0 0h0m1 0h0m0 0h0m1 0h0m-5 1h0m0 0h0m1 0h0m4 0h0" stroke="rgb(46, 220, 153)" stroke-width="2.4" stroke-linecap="square" fill="none"/>
<path transform="scale(0.5)" d="M103 568h0m1 0h0m1 0h0m2 0h0m1 0h0m1 0h0m1 0h0m-6 1h0m0 0h0m0 0h0m0 0h0m1 0h0m0 0h0m0 0h0m1 0h0m0 0h0m1 0h0m0 0h0m0 0h0m1 0h0m0 0h0m0 0h0m0 0h0m1 0h0m0 0h0m1 0h0m-9 1h0m6 0h0m4 0h0m1 0h0m-12 1h0m1 0h0m0 0h0m9 0h0m0 0h0m0 0h0m1 0h0m0 0h0m-13 1h0m0 0h0m1 0h0m1 0h0m11 0h0m0 0h0m1 0h0m-14 1h0m0 0h0m0 0h0m0 0h0m1 0h0m0 0h0m0 0h0m0 0h0m11 0h0m0 0h0m2 0h0m0 0h0m-14 1h0m0 0h0m1 0h0m0 0h0m1 0h0m0 0h0m-2 1h0m0 0h0m1 0h0m0 0h0m1 0h0m0 0h0m12 0h0m-10 1h0m5 0h0m0 0h0m2 0h0m0 0h0m1 0h0m0 0h0m1 0h0m-11 1h0m1 0h0m0 0h0m0 0h0m0 0h0m0 0h0m6 0h0m0 0h0m1 0h0m1 0h0m0 0h0m1 0h0m-7 1h0m4 0h0m1 0h0m-6 1h0m0 0h0m1 0h0" stroke="rgb(42, 227, 95)" stroke-width="2.4" stroke-linecap="square" fill="none"/>
<path transform="scale(0.5)" d="M102 570h0m1 0h0m1 0h0m1 0h0m1 0h0m0 0h0m0 0h0m2 0h0m0 0h0m1 0h0m-7 1h0m1 0h0m0 0h0m1 0h0m0 0h0m0 0h0m1 0h0m0 0h0m0 0h0m1 0h0m1 0h0m1 0h0m1 0h0m0 0h0m0 0h0m0 0h0m0 0h0m-9 1h0m0 0h0m1 0h0m3 0h0m2 0h0m1 0h0m0 0h0m1 0h0m0 0h0m0 0h0m-8 1h0m1 0h0m0 0h0m6 0h0m0 0h0m1 0h0m0 0h0m1 0h0m0 0h0m-9 1h0m1 0h0m1 0h0m5 0h0m0 0h0m1 0h0m0 0h0m0 0h0m1 0h0m0 0h0m1 0h0m-9 1h0m1 0h0m5 0h0m2 0h0m0 0h0m-8 1h0m2 0h0m0 0h0m1 0h0m1 0h0m1 0h0m0 0h0m1 0h0m2 0h0m-7 1h0m0 0h0m1 0h0m0 0h0m0 0h0m1 0h0m1 0h0m0 0h0m0 0h0m1 0h0m-4 1h0m3 0h0" stroke="rgb(51, 232, 57)" stroke-width="2.4" stroke-linecap="square" fill="none"/>
<path transform="scale(0.5)" d="M102 572h0m0 0h0m1 0h0m0 0h0m1 0h0m0 0h0m1 0h0m1 0h0m-4 1h0m1 0h0m0 0h0m1 0h0m0 0h0m0 0h0m0 0h0m0 0h0m1 0h0m0 0h0m0 0h0m0 0h0m1 0h0m0 0h0m-4 1h0m0 0h0m0 0h0m2 0h0m0 0h0m1 0h0m0 0h0m0 0h0m1 0h0m-4 1h0m1 0h0m0 0h0m1 0h0m0 0h0m1 0h0m0 0h0m0 0h0m-3 1h0m2 0h0" stroke="rgb(78, 233, 52)" stroke-width="2.4" stroke-linecap="square" fill="none"/>
</g>
<rect x="37.00" y="271.90" width="64.20" height="63.10" fill="none" stroke="#9a9aa8" stroke-width="0.8"/>
<line x1="37" y1="271.9" x2="64.6" y2="271.9" stroke="#3a3aa8" stroke-width="1.0"/>
<line x1="37" y1="271.9" x2="37" y2="335" stroke="#3a3aa8" stroke-width="1.0"/>
<line x1="64.6" y1="271.9" x2="64.6" y2="335" stroke="#3a3aa8" stroke-width="1.0"/>
<line x1="37" y1="314.6" x2="64.6" y2="314.6" stroke="#3a3aa8" stroke-width="1.0"/>
<text x="40.2" y="279.09999999999997" font-size="7" fill="#000">90.0</text>
<text x="100.4" y="302.65" font-size="7.2" font-weight="bold" text-anchor="end" fill="#000">0.1</text>
<text x="45.5" y="332.4" font-size="7" fill="#000">9.9</text>
<g filter="url(#bl)">
<path transform="scale(0.5)" d="M323 547h0m-86 1h0m-12 8h0m101 2h0m-106 4h0m2 2h0m102 2h0m-98 11h0m98 3h0m0 4h0m-24 5h0m6 0h0m-19 4h0" stroke="rgb(102, 127, 238)" stroke-width="2.4" stroke-linecap="square" fill="none"/>
<path transform="scale(0.5)" d="M320 551h0m-84 5h0m84 0h0m-89 2h0m4 0h0m-1 4h0m3 3h0m-6 4h0m-2 6h0m77 6h0m-3 1h0m-11 4h0m-9 3h0m-15 48h0m-33 1h0m34 9h0" stroke="rgb(85, 115, 236)" stroke-width="2.4" stroke-linecap="square" fill="none"/>
<path transform="scale(0.5)" d="M262 545h0m-7 3h0m59 0h0m-65 3h0m-9 2h0m1 0h0m2 1h0m-1 2h0m78 3h0m0 3h0m-2 1h0m0 5h0m1 0h0m-85 4h0m2 0h0m2 0h0m75 0h0m3 0h0m-77 1h0m70 3h0m-68 1h0m66 0h0m-29 8h0m0 0h0m8 1h0m1 0h0m-21 9h0m0 4h0m0 1h0m1 0h0m-27 2h0m0 0h0m27 3h0m-26 1h0m25 30h0m0 9h0m-27 5h0m28 0h0m-28 11h0m3 3h0m21 0h0m0 1h0" stroke="rgb(68, 102, 234)" stroke-width="2.4" stroke-linecap="square" fill="none"/>
<path transform="scale(0.5)" d="M262 547h0m2 1h0m43 0h0m5 1h0m-59 2h0m1 0h0m1 0h0m1 0h0m-8 1h0m0 2h0m2 0h0m-6 2h0m-1 1h0m1 2h0m71 2h0m1 0h0m-74 1h0m-2 3h0m76 1h0m-76 1h0m-1 2h0m4 5h0m64 1h0m-66 1h0m70 0h0m-69 1h0m60 1h0m-11 2h0m4 0h0m2 0h0m-58 1h0m53 0h0m-52 1h0m32 1h0m18 0h0m-51 1h0m0 0h0m46 0h0m-46 2h0m2 1h0m3 0h0m25 0h0m-23 1h0m23 0h0m-2 1h0m1 0h0m-24 1h0m-4 1h0m6 0h0m19 0h0m-25 2h0m0 0h0m1 0h0m25 0h0m-24 1h0m-3 1h0m21 1h0m-19 5h0m24 0h0m-23 2h0m22 1h0m-12 1h0m-11 1h0m11 0h0m13 0h0m-15 1h0m0 1h0m-5 1h0m-2 1h0m3 0h0m3 0h0m-10 1h0m1 0h0m1 0h0m0 1h0m1 1h0m8 0h0m15 0h0m-23 1h0m-3 1h0m24 2h0m0 0h0m-23 3h0m22 0h0m0 1h0m2 2h0m0 1h0m-24 3h0m1 1h0m4 0h0m21 1h0m-22 2h0m5 0h0m0 0h0m-7 1h0m6 0h0m-8 4h0m0 1h0m23 1h0m-23 5h0m0 1h0m24 0h0m-24 3h0m24 1h0m-23 3h0m-1 1h0m26 0h0m-24 2h0m0 2h0m2 0h0m-2 2h0m1 1h0m21 2h0m-20 1h0m-3 1h0m1 0h0m3 0h0m2 1h0m6 0h0m1 0h0m0 0h0m-6 1h0m10 0h0m-1 1h0" stroke="rgb(51, 90, 232)" stroke-width="2.4" stroke-linecap="square" fill="none"/>
<path transform="scale(0.5)" d="M274 546h0m-5 1h0m1 0h0m5 0h0m6 0h0m-12 1h0m0 0h0m8 0h0m-15 1h0m4 0h0m5 0h0m39 0h0m-48 1h0m4 0h0m2 0h0m1 1h0m-12 2h0m1 0h0m1 1h0m55 1h0m-67 1h0m6 0h0m62 0h0m-69 2h0m-2 4h0m-1 1h0m2 4h0m69 0h0m-72 1h0m2 0h0m-1 1h0m1 1h0m1 0h0m0 0h0m67 1h0m-63 1h0m58 1h0m-62 2h0m4 0h0m0 1h0m1 0h0m-4 1h0m1 0h0m-3 1h0m4 0h0m41 0h0m2 0h0m11 0h0m-32 1h0m4 1h0m2 0h0m7 0h0m-5 1h0m1 0h0m3 0h0m8 0h0m-47 1h0m36 0h0m2 0h0m6 0h0m-43 1h0m2 0h0m22 0h0m15 0h0m-38 2h0m21 2h0m0 0h0m-19 1h0m15 0h0m3 0h0m-17 1h0m6 1h0m8 0h0m1 0h0m1 1h0m-14 1h0m1 0h0m9 0h0m-10 1h0m8 0h0m-14 1h0m3 0h0m1 0h0m2 0h0m5 0h0m0 1h0m-9 1h0m-1 1h0m10 0h0m-12 1h0m2 1h0m15 0h0m-14 1h0m5 0h0m8 0h0m1 0h0m-16 1h0m4 0h0m13 0h0m-18 1h0m2 0h0m15 0h0m-14 1h0m2 0h0m5 0h0m8 0h0m0 1h0m-3 1h0m2 1h0m-5 1h0m2 0h0m7 3h0m-9 1h0m9 0h0m-10 1h0m-1 1h0m10 2h0m2 0h0m-21 1h0m5 0h0m-2 1h0m1 0h0m5 0h0m3 0h0m-12 1h0m0 0h0m7 0h0m3 0h0m0 0h0m-10 1h0m13 0h0m6 0h0m-11 1h0m1 0h0m6 0h0m-20 1h0m21 0h0m-9 1h0m-10 1h0m15 0h0m4 0h0m-21 1h0m1 0h0m2 0h0m11 0h0m8 1h0m-20 1h0m2 0h0m1 0h0m4 0h0m16 0h0m0 0h0m-12 1h0m0 0h0m0 4h0m12 0h0m-12 1h0m0 2h0m-9 1h0m-2 1h0m1 0h0m2 0h0m9 0h0m8 0h0m-19 1h0m20 0h0m1 0h0m-20 3h0m19 5h0m0 1h0m1 0h0m-20 2h0m-2 1h0m2 0h0m3 0h0m15 0h0m-17 1h0m19 0h0m1 0h0m0 0h0m-17 2h0m17 0h0m-18 2h0m1 0h0m6 0h0m-4 1h0m1 1h0m-3 1h0m1 1h0m1 0h0m6 0h0m1 0h0m8 0h0m-13 1h0m6 0h0m-3 1h0m-9 1h0m8 0h0m5 0h0m-11 1h0m2 0h0m1 0h0m0 0h0m10 0h0m2 0h0m-17 1h0m13 0h0m1 0h0m-9 1h0m0 1h0" stroke="rgb(44, 94, 233)" stroke-width="2.4" stroke-linecap="square" fill="none"/>
<path transform="scale(0.5)" d="M285 545h0m2 0h0m-3 1h0m13 0h0m3 1h0m7 1h0m-31 1h0m30 0h0m-43 1h0m8 0h0m4 0h0m33 0h0m1 0h0m-47 2h0m4 0h0m3 0h0m-10 1h0m3 0h0m7 0h0m1 0h0m-10 1h0m2 0h0m50 0h0m-60 2h0m0 1h0m0 1h0m61 2h0m1 0h0m-68 1h0m1 0h0m-1 2h0m1 0h0m-1 3h0m2 0h0m-1 3h0m2 0h0m2 0h0m-1 1h0m61 2h0m-56 1h0m-1 1h0m48 0h0m-49 1h0m14 1h0m19 0h0m1 0h0m4 0h0m3 0h0m2 0h0m1 0h0m1 0h0m0 0h0m2 0h0m-17 1h0m6 0h0m6 0h0m-45 1h0m21 0h0m2 0h0m1 0h0m4 0h0m1 0h0m2 0h0m3 0h0m1 0h0m1 0h0m6 0h0m-39 1h0m14 0h0m11 0h0m4 0h0m-30 1h0m-4 1h0m17 0h0m-16 1h0m14 0h0m2 0h0m-17 1h0m0 0h0m3 0h0m15 0h0m0 0h0m-18 1h0m1 0h0m1 0h0m12 0h0m-10 1h0m0 0h0m5 0h0m0 0h0m1 0h0m5 0h0m-11 1h0m1 0h0m5 0h0m5 0h0m-9 1h0m4 1h0m-5 1h0m2 0h0m1 0h0m1 0h0m4 0h0m-5 1h0m3 0h0m-1 1h0m-10 5h0m2 1h0m0 1h0m1 0h0m3 0h0m0 0h0m1 0h0m2 0h0m0 0h0m-10 1h0m6 0h0m3 1h0m-3 1h0m4 0h0m1 1h0m0 1h0m-2 6h0m5 0h0m-3 1h0m1 1h0m0 0h0m0 0h0m1 0h0m1 0h0m-7 1h0m1 0h0m7 0h0m0 0h0m-8 1h0m1 0h0m0 0h0m3 0h0m1 0h0m0 0h0m0 1h0m1 0h0m2 1h0m-20 5h0m2 2h0m1 0h0m0 0h0m3 0h0m0 0h0m1 0h0m1 0h0m-8 1h0m1 0h0m7 0h0m0 2h0m1 0h0m-1 1h0m3 0h0m3 0h0m3 0h0m2 0h0m-3 1h0m-1 1h0m0 0h0m3 0h0m2 0h0m0 0h0m-7 1h0m0 1h0m6 0h0m1 0h0m-6 1h0m7 0h0m-9 1h0m4 0h0m1 0h0m1 0h0m0 0h0m-5 1h0m5 0h0m-4 1h0m-1 1h0m3 0h0m1 0h0m-16 1h0m5 0h0m6 0h0m7 0h0m-15 1h0m10 1h0m2 0h0m3 0h0m-12 1h0m4 0h0m1 0h0m-10 1h0m9 0h0m5 0h0m-15 1h0m14 0h0m2 0h0m-15 1h0m1 0h0m13 0h0m-15 1h0m2 1h0m15 0h0m-14 1h0m13 1h0m0 0h0m-10 3h0m8 1h0m1 0h0m-10 1h0m1 0h0m0 1h0m10 0h0m-9 1h0m8 0h0m1 1h0m2 0h0m-5 1h0m2 0h0m1 0h0m0 1h0m2 0h0m0 1h0m1 0h0m-2 1h0m0 0h0m2 0h0m1 0h0m0 1h0m0 1h0" stroke="rgb(43, 111, 235)" stroke-width="2.4" stroke-linecap="square" fill="none"/>
<path transform="scale(0.5)" d="M291 545h0m12 3h0m-23 1h0m1 0h0m0 0h0m1 0h0m19 0h0m2 0h0m-30 1h0m1 3h0m-11 1h0m9 0h0m40 2h0m-56 1h0m-6 1h0m2 0h0m1 0h0m1 0h0m1 0h0m2 0h0m-5 1h0m1 0h0m2 0h0m-5 1h0m62 0h0m1 1h0m-65 1h0m2 0h0m62 0h0m0 1h0m-64 1h0m1 1h0m1 0h0m62 0h0m-60 3h0m58 0h0m-59 1h0m0 1h0m3 0h0m51 2h0m3 0h0m-52 1h0m46 0h0m-3 1h0m2 0h0m-44 1h0m12 0h0m16 0h0m-28 1h0m18 0h0m-21 1h0m2 0h0m0 0h0m3 0h0m5 0h0m1 0h0m0 0h0m6 0h0m1 0h0m-15 1h0m2 0h0m0 0h0m5 0h0m10 0h0m2 0h0m-22 1h0m0 0h0m4 0h0m0 0h0m5 0h0m-7 1h0m2 0h0m1 0h0m3 0h0m-8 1h0m6 0h0m1 0h0m1 0h0m-11 1h0m3 0h0m8 0h0m0 0h0m-9 1h0m0 0h0m5 0h0m1 0h0m2 46h0m-1 2h0m-1 1h0m-14 7h0m1 0h0m0 1h0m2 0h0m8 0h0m-10 1h0m0 0h0m6 0h0m0 0h0m3 0h0m1 0h0m-10 1h0m2 0h0m5 0h0m0 0h0m1 0h0m-8 1h0m2 0h0m3 0h0m2 0h0m-5 1h0m2 0h0m1 0h0m6 0h0m0 0h0m1 0h0m-10 1h0m7 1h0m0 0h0m2 0h0m-7 1h0m0 0h0m5 0h0m1 0h0m1 0h0m-8 1h0m4 0h0m0 0h0m1 0h0m3 0h0m2 0h0m-6 1h0m3 0h0m-2 1h0m1 0h0m-2 1h0m1 0h0m0 0h0" stroke="rgb(41, 127, 237)" stroke-width="2.4" stroke-linecap="square" fill="none"/>
<path transform="scale(0.5)" d="M288 546h0m3 0h0m-2 1h0m1 0h0m2 0h0m1 0h0m7 1h0m1 0h0m-4 1h0m8 2h0m1 0h0m-29 1h0m-1 1h0m0 0h0m1 0h0m32 2h0m1 1h0m-43 1h0m-10 1h0m1 1h0m-7 2h0m1 0h0m0 0h0m-2 1h0m1 0h0m-1 1h0m4 0h0m0 0h0m-4 1h0m3 0h0m1 0h0m1 1h0m-4 1h0m2 0h0m-1 1h0m3 0h0m55 0h0m-3 1h0m0 1h0m1 0h0m-4 1h0m4 0h0m-41 2h0m6 0h0m6 0h0m-22 1h0m12 0h0m11 0h0m-20 1h0m1 0h0m1 0h0m3 0h0m7 0h0m1 0h0m4 0h0m1 0h0m11 0h0m4 0h0m6 0h0m-32 1h0m5 0h0m1 0h0m4 0h0m11 0h0m7 0h0m-29 1h0" stroke="rgb(40, 143, 239)" stroke-width="2.4" stroke-linecap="square" fill="none"/>
<path transform="scale(0.5)" d="M288 548h0m-3 1h0m1 0h0m0 0h0m2 0h0m0 0h0m1 0h0m14 1h0m-23 1h0m24 0h0m-26 1h0m2 0h0m-2 1h0m30 1h0m-45 2h0m9 0h0m-11 1h0m1 0h0m0 0h0m1 0h0m1 0h0m46 0h0m0 0h0m1 0h0m-50 1h0m1 0h0m2 0h0m-5 1h0m1 0h0m0 2h0m0 0h0m-4 1h0m2 0h0m1 0h0m-3 1h0m2 0h0m3 0h0m-5 1h0m-1 1h0m1 0h0m0 0h0m54 0h0m-53 1h0m1 0h0m0 1h0m-3 1h0m0 0h0m0 1h0m1 0h0m1 0h0m1 0h0m0 0h0m10 1h0m3 0h0m4 0h0m0 0h0m0 0h0m2 0h0m-18 1h0m0 0h0m9 0h0m2 0h0m32 0h0m-42 1h0m2 0h0m3 0h0m7 0h0m4 0h0m1 0h0m0 0h0m6 0h0m2 0h0m-24 1h0m0 0h0m2 0h0m2 0h0m10 0h0m1 0h0m1 0h0m1 0h0m8 0h0m1 0h0m11 0h0m-34 1h0m15 0h0m4 0h0" stroke="rgb(42, 163, 231)" stroke-width="2.4" stroke-linecap="square" fill="none"/>
<path transform="scale(0.5)" d="M290 549h0m0 0h0m2 0h0m1 0h0m1 0h0m-10 2h0m0 0h0m15 0h0m1 0h0m5 2h0m1 0h0m0 0h0m-31 1h0m30 0h0m1 0h0m2 0h0m0 1h0m1 0h0m-35 1h0m1 0h0m33 0h0m0 0h0m-34 1h0m0 0h0m-12 1h0m2 0h0m2 0h0m1 0h0m6 0h0m-12 1h0m1 0h0m1 0h0m5 0h0m1 0h0m2 0h0m1 0h0m39 0h0m-49 1h0m0 0h0m4 0h0m5 0h0m40 0h0m-49 1h0m0 0h0m0 0h0m48 0h0m-49 2h0m1 0h0m0 1h0m-1 2h0m46 0h0m-47 1h0m49 0h0m0 0h0m-50 1h0m2 0h0m10 0h0m1 0h0m-11 1h0m8 0h0m2 0h0m4 0h0m2 0h0m27 0h0m0 0h0m-45 1h0m0 0h0m1 0h0m2 0h0m0 0h0m1 0h0m2 0h0m7 0h0m0 0h0m8 0h0m0 0h0m3 0h0m17 0h0m-39 1h0m5 0h0m13 0h0m2 0h0m1 0h0m1 0h0m-16 1h0m11 0h0m16 0h0m-5 1h0m1 0h0m3 0h0m1 0h0m0 0h0m1 0h0m1 0h0" stroke="rgb(45, 187, 217)" stroke-width="2.4" stroke-linecap="square" fill="none"/>
<path transform="scale(0.5)" d="M288 550h0m0 1h0m9 0h0m-16 2h0m0 0h0m22 0h0m2 0h0m-27 1h0m28 0h0m-29 1h0m1 0h0m-1 1h0m31 0h0m-33 1h0m33 0h0m-34 1h0m0 0h0m1 0h0m0 0h0m34 0h0m-35 1h0m-9 1h0m0 0h0m3 0h0m2 0h0m-7 1h0m2 0h0m0 0h0m2 0h0m1 0h0m2 0h0m0 0h0m-5 1h0m42 2h0m-44 1h0m1 0h0m0 0h0m0 0h0m0 0h0m1 0h0m43 0h0m0 0h0m1 0h0m-48 1h0m8 0h0m3 0h0m2 0h0m3 0h0m32 0h0m-44 1h0m8 0h0m1 0h0m31 0h0m1 0h0m-45 1h0m1 0h0m1 0h0m1 0h0m8 0h0m2 0h0m1 0h0m5 0h0m26 0h0m-43 1h0m1 0h0m0 0h0m4 0h0m1 0h0m11 0h0m21 0h0m-37 1h0m20 0h0m2 0h0m11 0h0m1 0h0m-15 1h0m1 0h0m2 1h0" stroke="rgb(49, 210, 202)" stroke-width="2.4" stroke-linecap="square" fill="none"/>
<path transform="scale(0.5)" d="M290 550h0m1 0h0m0 0h0m4 0h0m-5 1h0m1 0h0m5 0h0m0 0h0m-14 1h0m14 0h0m5 0h0m2 0h0m-21 1h0m0 0h0m19 0h0m-22 1h0m2 0h0m1 0h0m-6 4h0m0 0h0m2 0h0m30 0h0m0 1h0m0 0h0m-36 1h0m2 0h0m0 0h0m-1 1h0m2 0h0m32 0h0m2 0h0m0 0h0m-44 1h0m2 0h0m1 0h0m0 0h0m1 0h0m0 0h0m1 0h0m5 0h0m33 0h0m0 0h0m-42 1h0m1 0h0m3 0h0m1 0h0m37 0h0m1 0h0m-43 1h0m0 0h0m1 0h0m0 0h0m1 0h0m0 0h0m2 0h0m1 0h0m0 0h0m2 0h0m-4 1h0m2 0h0m2 0h0m1 0h0m-8 1h0m1 0h0m0 0h0m1 0h0m2 0h0m7 0h0m2 0h0m24 0h0m1 0h0m0 0h0m1 0h0m-40 1h0m1 0h0m0 0h0m0 0h0m3 0h0m36 0h0m-40 1h0m3 0h0m31 0h0m1 0h0m4 0h0m0 0h0m-22 1h0m1 0h0m7 1h0m2 0h0m5 0h0m0 0h0m0 0h0m-10 1h0m2 0h0m0 0h0m3 0h0m2 0h0m1 0h0m-3 1h0m3 0h0m1 0h0m0 0h0" stroke="rgb(46, 220, 153)" stroke-width="2.4" stroke-linecap="square" fill="none"/>
<path transform="scale(0.5)" d="M293 551h0m1 0h0m1 0h0m-11 1h0m0 0h0m1 0h0m1 0h0m1 0h0m8 0h0m5 0h0m-14 1h0m15 0h0m-18 1h0m3 0h0m2 0h0m16 1h0m-25 1h0m28 0h0m-26 1h0m25 0h0m-28 1h0m0 0h0m0 1h0m1 0h0m-4 1h0m1 0h0m2 0h0m-3 1h0m1 0h0m1 0h0m-3 1h0m1 0h0m1 0h0m1 0h0m28 0h0m-30 1h0m1 0h0m-3 1h0m5 0h0m0 0h0m29 0h0m-31 1h0m0 0h0m1 0h0m1 0h0m0 0h0m29 0h0m-31 1h0m0 0h0m1 0h0m3 0h0m21 0h0m1 0h0m0 0h0m3 0h0m1 0h0m-26 1h0m23 0h0m-19 1h0m14 0h0m1 0h0m2 0h0m1 0h0m-5 1h0m0 0h0m1 0h0m1 0h0m-14 1h0" stroke="rgb(42, 227, 95)" stroke-width="2.4" stroke-linecap="square" fill="none"/>
<path transform="scale(0.5)" d="M289 552h0m0 1h0m1 0h0m0 0h0m8 0h0m0 1h0m4 0h0m-21 1h0m2 0h0m19 0h0m-21 1h0m1 0h0m19 0h0m3 0h0m1 0h0m-1 1h0m0 0h0m1 0h0m-24 1h0m26 0h0m0 1h0m-28 1h0m26 0h0m1 0h0m0 0h0m-28 1h0m28 0h0m-29 1h0m0 0h0m1 0h0m0 0h0m1 0h0m28 0h0m-28 2h0m0 1h0m1 0h0m1 0h0m-2 1h0m21 0h0m0 0h0m3 0h0m-22 1h0m1 0h0m18 0h0m0 0h0m-13 1h0m13 0h0m-15 1h0m1 0h0m0 0h0m1 0h0m2 0h0m0 0h0m0 0h0m4 0h0m1 0h0m1 0h0m0 0h0m1 0h0m-10 1h0m3 0h0m2 0h0m3 0h0" stroke="rgb(51, 232, 57)" stroke-width="2.4" stroke-linecap="square" fill="none"/>
<path transform="scale(0.5)" d="M291 552h0m1 0h0m1 0h0m2 0h0m0 0h0m1 0h0m0 0h0m0 0h0m-4 1h0m0 0h0m2 0h0m1 0h0m0 0h0m-12 1h0m0 0h0m3 0h0m0 0h0m1 0h0m1 0h0m5 0h0m1 0h0m2 0h0m1 0h0m3 0h0m0 0h0m-16 1h0m0 0h0m0 0h0m0 0h0m0 0h0m1 0h0m14 0h0m1 0h0m0 0h0m-18 1h0m1 0h0m1 0h0m0 0h0m1 0h0m-4 1h0m1 0h0m0 0h0m-1 1h0m1 0h0m0 0h0m21 0h0m2 0h0m0 0h0m-23 1h0m21 0h0m0 0h0m1 0h0m-23 1h0m22 0h0m1 0h0m-24 1h0m0 0h0m1 0h0m0 0h0m22 0h0m1 0h0m0 0h0m1 0h0m-2 1h0m1 0h0m0 0h0m0 0h0m0 0h0m0 0h0m1 0h0m0 0h0m-25 1h0m1 0h0m0 0h0m23 0h0m1 0h0m-23 1h0m1 0h0m-1 1h0m1 0h0m-1 1h0m1 0h0m2 0h0m0 0h0m0 0h0m12 0h0m-13 1h0m1 0h0m0 0h0m13 0h0m0 0h0m1 0h0m-7 1h0m0 0h0m1 0h0m4 0h0m1 0h0m-5 1h0m0 0h0" stroke="rgb(78, 233, 52)" stroke-width="2.4" stroke-linecap="square" fill="none"/>
<path transform="scale(0.5)" d="M289 554h0m2 0h0m-2 1h0m-5 1h0m1 0h0m17 0h0m0 0h0m0 0h0m1 0h0m-20 1h0m0 0h0m2 0h0m2 0h0m-4 1h0m1 0h0m1 0h0m1 0h0m0 0h0m1 0h0m15 0h0m-18 1h0m1 0h0m17 0h0m0 0h0m1 0h0m-21 1h0m0 0h0m21 0h0m0 0h0m-20 1h0m18 0h0m-19 1h0m19 0h0m0 0h0m1 0h0m-21 1h0m1 0h0m0 0h0m19 0h0m-19 1h0m0 0h0m17 0h0m0 0h0m1 0h0m-16 1h0m0 0h0m1 0h0m15 0h0m0 0h0m-14 1h0m0 0h0m8 0h0m3 0h0m-11 1h0m0 0h0m0 0h0m0 0h0m2 0h0m1 0h0m0 0h0m5 0h0m0 0h0m0 0h0m2 0h0m0 0h0m1 0h0" stroke="rgb(106, 234, 46)" stroke-width="2.4" stroke-linecap="square" fill="none"/>
<path transform="scale(0.5)" d="M295 554h0m0 0h0m1 0h0m0 0h0m1 0h0m0 0h0m2 0h0m-7 1h0m0 0h0m1 0h0m0 0h0m0 0h0m3 0h0m0 0h0m0 0h0m0 0h0m1 0h0m0 0h0m1 0h0m0 0h0m0 0h0m-8 1h0m1 0h0m1 0h0m8 0h0m-11 1h0m0 0h0m1 0h0m0 0h0m9 0h0m1 0h0m0 0h0m-15 1h0m1 0h0m13 0h0m1 0h0m-15 1h0m0 0h0m0 0h0m1 0h0m-3 1h0m0 0h0m1 2h0m0 0h0m0 0h0m0 0h0m-1 1h0m1 0h0m0 0h0m15 0h0m1 0h0m0 0h0m-15 1h0m1 0h0m0 0h0m11 0h0m0 0h0m1 0h0m0 0h0m1 0h0m1 0h0m-15 1h0m1 0h0m0 0h0m10 0h0m-9 1h0m2 0h0m0 0h0m0 0h0m1 0h0m0 0h0m1 0h0m0 0h0m1 0h0m1 0h0m-3 1h0m1 0h0m0 0h0m1 0h0m-3 1h0" stroke="rgb(134, 234, 41)" stroke-width="2.4" stroke-linecap="square" fill="none"/>
<path transform="scale(0.5)" d="M294 554h0m1 0h0m-2 1h0m2 0h0m-4 1h0m3 0h0m4 0h0m0 0h0m-5 1h0m0 0h0m5 0h0m0 0h0m-10 1h0m1 0h0m2 0h0m2 0h0m4 0h0m4 0h0m-14 1h0m1 0h0m1 0h0m0 0h0m10 0h0m0 0h0m1 0h0m0 0h0m0 0h0m1 0h0m-15 1h0m1 0h0m1 0h0m0 0h0m0 0h0m0 0h0m12 0h0m1 0h0m-15 1h0m13 0h0m1 0h0m0 0h0m1 0h0m-16 1h0m1 0h0m0 0h0m12 0h0m0 0h0m-13 1h0m1 0h0m0 0h0m0 0h0m1 0h0m10 0h0m0 0h0m1 0h0m0 0h0m1 0h0m-10 1h0m0 0h0m1 0h0m0 0h0m2 0h0m1 0h0m0 0h0m2 0h0m-8 1h0m1 0h0m0 0h0m0 0h0m1 0h0m0 0h0m2 0h0m1 0h0m0 0h0m2 0h0m0 0h0m1 1h0" stroke="rgb(190, 232, 29)" stroke-width="2.4" stroke-linecap="square" fill="none"/>
<path transform="scale(0.5)" d="M293 556h0m2 0h0m0 0h0m0 0h0m0 0h0m1 0h0m-2 1h0m0 0h0m2 0h0m-6 1h0m0 0h0m1 0h0m0 0h0m1 0h0m1 0h0m0 0h0m0 0h0m0 0h0m1 0h0m3 0h0m1 0h0m-6 1h0m0 0h0m7 0h0m-11 1h0m0 0h0m0 0h0m1 0h0m0 0h0m1 0h0m1 0h0m6 0h0m1 0h0m-11 1h0m2 0h0m2 0h0m0 0h0m0 0h0m7 0h0m-10 1h0m0 0h0m0 0h0m0 0h0m1 0h0m0 0h0m1 0h0m0 0h0m1 0h0m3 0h0m0 0h0m0 0h0m0 0h0m1 0h0m1 0h0m1 0h0m0 0h0m1 0h0m0 0h0m-11 1h0m1 0h0m1 0h0m1 0h0m0 0h0m1 0h0m0 0h0m1 0h0m2 0h0m0 0h0m0 0h0m1 0h0m0 0h0m0 0h0m2 0h0m-9 1h0m2 0h0m1 0h0m2 0h0m2 0h0" stroke="rgb(238, 198, 20)" stroke-width="2.4" stroke-linecap="square" fill="none"/>
<path transform="scale(0.5)" d="M293 558h0m1 0h0m1 0h0m0 0h0m0 0h0m1 0h0m-2 1h0m0 0h0m1 0h0m1 0h0m0 0h0m0 0h0m0 0h0m0 0h0m0 0h0m-5 1h0m1 0h0m1 0h0m1 0h0m1 0h0m0 0h0m1 0h0m-3 1h0m0 0h0m1 0h0m0 0h0m0 0h0m0 0h0m1 0h0m0 0h0m1 0h0m0 0h0m0 0h0m0 0h0m1 0h0m-6 1h0m1 0h0m2 0h0" stroke="rgb(230, 40, 20)" stroke-width="2.4" stroke-linecap="square" fill="none"/>
</g>
<rect x="106.50" y="271.90" width="64.10" height="63.10" fill="none" stroke="#9a9aa8" stroke-width="0.8"/>
<line x1="106.5" y1="271.9" x2="139.3" y2="271.9" stroke="#3a3aa8" stroke-width="1.0"/>
<line x1="106.5" y1="271.9" x2="106.5" y2="335" stroke="#3a3aa8" stroke-width="1.0"/>
<line x1="139.3" y1="271.9" x2="139.3" y2="335" stroke="#3a3aa8" stroke-width="1.0"/>
<line x1="106.5" y1="314.6" x2="139.3" y2="314.6" stroke="#3a3aa8" stroke-width="1.0"/>
<text x="108.0" y="279.09999999999997" font-size="7" fill="#000">21.6</text>
<text x="169.5" y="302.65" font-size="7.2" font-weight="bold" text-anchor="end" fill="#000">66.1</text>
<text x="107.7" y="332.4" font-size="7" fill="#000">12.3</text>
<g filter="url(#bl)">
<path transform="scale(0.5)" d="M375 551h0m102 24h0m-104 3h0m92 0h0m6 7h0m-96 27h0m2 12h0m25 1h0" stroke="rgb(102, 127, 238)" stroke-width="2.4" stroke-linecap="square" fill="none"/>
<path transform="scale(0.5)" d="M452 547h0m-65 2h0m7 0h0m-10 1h0m-12 5h0m5 0h0m-1 12h0m89 0h0m-90 2h0m-1 4h0m1 0h0m79 2h0m8 2h0m-8 2h0m2 0h0m-10 1h0m-17 7h0m13 0h0m-26 2h0m-4 2h0m-28 3h0m5 0h0m-2 1h0m10 2h0m0 0h0m-7 3h0m21 2h0m-15 1h0m-6 1h0m4 0h0m-18 1h0m15 3h0m-1 2h0m8 2h0m-4 2h0m15 0h0m-28 1h0m2 4h0m20 1h0m-6 1h0m-12 7h0m7 1h0m-8 1h0m6 1h0m11 0h0m-17 1h0m15 1h0m-10 1h0m-5 1h0m12 2h0m4 0h0m-18 2h0m12 1h0m10 0h0m-6 1h0m-19 2h0m22 0h0m-25 4h0m21 0h0m3 0h0m-24 3h0m24 1h0m-7 1h0m-15 2h0m17 0h0m-17 1h0m9 0h0m10 1h0m-10 2h0m8 0h0" stroke="rgb(85, 115, 236)" stroke-width="2.4" stroke-linecap="square" fill="none"/>
<path transform="scale(0.5)" d="M403 547h0m-10 5h0m-7 1h0m1 0h0m-2 2h0m72 0h0m-75 1h0m76 0h0m3 4h0m-81 2h0m80 3h0m1 0h0m-3 2h0m-79 4h0m1 0h0m0 0h0m68 4h0m-66 1h0m68 0h0m-4 2h0m2 0h0m5 0h0m-73 2h0m1 1h0m62 0h0m-16 1h0m-47 1h0m61 0h0m-20 1h0m18 0h0m-63 1h0m2 0h0m7 0h0m1 0h0m46 0h0m-13 1h0m-45 1h0m2 0h0m3 0h0m5 0h0m7 0h0m2 0h0m2 2h0m3 0h0m1 0h0m-25 1h0m5 0h0m6 0h0m-10 1h0m1 3h0m7 0h0m18 0h0m4 0h0m4 0h0m-32 1h0m22 0h0m11 0h0m-6 1h0m7 0h0m-7 1h0m-25 2h0m1 0h0m26 0h0m0 0h0m-25 1h0m2 2h0m0 2h0m23 0h0m-6 1h0m-21 1h0m1 0h0m18 0h0m2 0h0m2 0h0m5 2h0m-25 1h0m1 0h0m24 0h0m1 2h0m-6 2h0m3 0h0m-19 1h0m18 1h0m-19 1h0m0 0h0m4 0h0m4 1h0m1 3h0m0 0h0m-1 1h0m-3 1h0m-1 1h0m0 3h0m0 0h0m0 6h0m0 9h0m-4 1h0m4 0h0m-1 2h0m4 0h0m-7 1h0m6 0h0m-6 2h0m5 0h0m-3 1h0m2 0h0m6 1h0m-14 1h0m3 0h0m3 3h0m-4 1h0" stroke="rgb(68, 102, 234)" stroke-width="2.4" stroke-linecap="square" fill="none"/>
<path transform="scale(0.5)" d="M408 545h0m-1 1h0m-11 4h0m8 0h0m-15 7h0m69 1h0m-3 8h0m-72 1h0m-1 2h0m71 0h0m-71 4h0m64 0h0m-62 1h0m60 0h0m-4 3h0m-53 1h0m54 2h0m-59 1h0m2 0h0m47 1h0m-47 1h0m7 0h0m43 0h0m-20 1h0m16 0h0m5 0h0m-20 1h0m-1 1h0m-14 2h0m3 0h0m4 0h0m-2 2h0m-1 16h0m0 2h0m0 0h0" stroke="rgb(51, 90, 232)" stroke-width="2.4" stroke-linecap="square" fill="none"/>
<path transform="scale(0.5)" d="M410 546h0m-6 2h0m42 1h0m-45 1h0m48 0h0m-46 1h0m-3 1h0m50 0h0m0 0h0m-53 2h0m-4 3h0m61 0h0m-67 1h0m1 1h0m-1 1h0m70 0h0m-73 1h0m-2 2h0m2 0h0m-2 1h0m3 0h0m0 0h0m-1 1h0m69 1h0m-68 2h0m1 0h0m2 0h0m58 1h0m-60 1h0m61 0h0m-59 1h0m58 0h0m-58 2h0m-2 1h0m1 0h0m49 0h0m5 0h0m-53 3h0m1 0h0m49 0h0m1 0h0m0 0h0m-7 1h0m1 0h0m2 0h0m3 0h0m-49 1h0m0 0h0m46 0h0m-44 1h0m31 0h0m7 0h0m-14 1h0m1 0h0m5 0h0m2 0h0m-29 1h0m17 0h0m-18 1h0m3 1h0m6 0h0m4 0h0m1 1h0m2 0h0m-9 1h0m2 0h0m0 1h0" stroke="rgb(44, 94, 233)" stroke-width="2.4" stroke-linecap="square" fill="none"/>
<path transform="scale(0.5)" d="M443 547h0m-35 1h0m-1 2h0m-9 4h0m-1 1h0m0 0h0m2 0h0m1 0h0m52 1h0m-57 1h0m-3 1h0m0 0h0m3 0h0m2 0h0m57 0h0m-63 1h0m2 1h0m61 0h0m1 0h0m-67 1h0m0 0h0m0 0h0m66 0h0m-68 1h0m67 2h0m-66 1h0m1 0h0m1 0h0m2 0h0m59 0h0m3 0h0m-4 2h0m-58 1h0m53 1h0m-4 1h0m1 1h0m-3 1h0m5 0h0m-52 1h0m47 0h0m-26 3h0m6 0h0m-1 1h0m16 0h0m-18 1h0m11 0h0m-13 1h0m3 0h0m0 0h0m1 0h0m1 0h0m-22 1h0m4 0h0m12 0h0m-19 1h0m5 0h0m3 0h0m1 0h0m2 0h0m4 0h0m-4 1h0m4 0h0m0 0h0m1 0h0m-5 1h0" stroke="rgb(43, 111, 235)" stroke-width="2.4" stroke-linecap="square" fill="none"/>
<path transform="scale(0.5)" d="M436 547h0m12 6h0m-45 1h0m0 0h0m2 0h0m-3 1h0m-2 1h0m50 0h0m0 1h0m-56 1h0m3 0h0m1 0h0m55 0h0m-56 2h0m56 0h0m-59 1h0m0 0h0m2 0h0m2 0h0m53 1h0m-56 1h0m56 0h0m1 0h0m1 0h0m0 0h0m-61 2h0m0 0h0m0 0h0m56 0h0m-55 1h0m0 4h0m0 0h0m-1 2h0m1 0h0m44 0h0m-7 3h0m2 0h0m-39 1h0m37 0h0m1 0h0m-26 1h0m6 0h0m-18 1h0m1 0h0m8 0h0m6 0h0m0 0h0m-15 1h0m0 0h0m3 0h0m12 0h0m-8 1h0m0 0h0m23 0h0m2 0h0" stroke="rgb(41, 127, 237)" stroke-width="2.4" stroke-linecap="square" fill="none"/>
<path transform="scale(0.5)" d="M435 546h0m-19 1h0m1 0h0m-4 2h0m31 1h0m-37 2h0m-3 4h0m1 0h0m-3 1h0m1 0h0m0 0h0m2 0h0m-3 1h0m1 0h0m0 1h0m47 0h0m-48 1h0m48 0h0m1 1h0m-54 2h0m0 0h0m0 0h0m51 0h0m-50 1h0m3 0h0m-4 1h0m0 0h0m50 0h0m-53 2h0m51 0h0m-50 1h0m45 0h0m-46 1h0m46 0h0m0 0h0m-45 1h0m14 2h0m8 0h0m-12 1h0m1 0h0m3 0h0m8 0h0m1 0h0m0 0h0m15 0h0m0 0h0m-39 1h0m0 0h0m11 0h0m1 0h0m1 0h0m3 0h0m3 0h0m7 0h0m0 0h0m7 0h0m1 0h0m-34 1h0m10 0h0m1 0h0m4 0h0m2 0h0m8 0h0m9 0h0m-34 1h0m4 0h0m9 0h0m1 0h0m1 0h0m11 0h0m4 0h0m1 0h0m0 0h0m1 0h0m3 0h0m-34 1h0m0 0h0m0 0h0m0 0h0m4 0h0m2 0h0m2 0h0m4 0h0m1 0h0m1 0h0m0 0h0m11 0h0m2 0h0m1 0h0m-24 1h0m22 0h0m2 0h0" stroke="rgb(40, 143, 239)" stroke-width="2.4" stroke-linecap="square" fill="none"/>
<path transform="scale(0.5)" d="M421 545h0m9 0h0m1 0h0m0 0h0m-17 4h0m27 0h0m0 1h0m0 0h0m4 0h0m0 0h0m-35 1h0m0 0h0m1 0h0m35 0h0m-38 1h0m2 0h0m36 0h0m0 1h0m0 0h0m-40 1h0m1 0h0m41 4h0m2 1h0m-52 5h0m1 1h0m-3 1h0m1 0h0m0 0h0m1 0h0m2 0h0m2 0h0m0 0h0m40 0h0m-46 1h0m0 0h0m2 0h0m2 0h0m0 0h0m0 0h0m1 0h0m5 0h0m37 0h0m-44 1h0m4 0h0m1 0h0m-8 1h0m1 0h0m2 0h0m2 0h0m1 0h0m3 0h0m0 0h0m33 0h0m-40 1h0m2 0h0m1 0h0m2 0h0m6 0h0m2 0h0m6 0h0m2 0h0m2 0h0m11 0h0m0 0h0m-34 1h0m2 0h0m6 0h0m1 0h0m1 0h0m3 0h0m1 0h0m1 0h0m0 0h0m1 0h0m3 0h0m1 0h0m2 0h0m3 0h0m9 0h0m0 0h0m-32 1h0m10 0h0m13 0h0m2 0h0m0 0h0m0 0h0m4 0h0m-31 1h0m1 0h0m1 0h0m0 0h0m1 0h0m0 0h0m27 0h0m-32 1h0m1 0h0m2 0h0m1 0h0m23 0h0m-27 1h0m1 0h0m1 0h0m1 0h0m0 0h0m2 0h0m21 0h0m0 0h0m0 0h0m-23 1h0m26 0h0" stroke="rgb(42, 163, 231)" stroke-width="2.4" stroke-linecap="square" fill="none"/>
<path transform="scale(0.5)" d="M422 545h0m0 0h0m1 0h0m3 0h0m0 0h0m-6 1h0m3 0h0m2 0h0m3 0h0m2 0h0m1 0h0m8 2h0m-22 1h0m20 0h0m-20 1h0m-5 1h0m0 0h0m35 3h0m0 0h0m-38 1h0m-1 1h0m-2 3h0m0 0h0m1 0h0m-3 3h0m0 0h0m0 0h0m1 0h0m0 1h0m41 0h0m1 0h0m-43 1h0m43 0h0m-41 1h0m1 1h0m0 0h0m37 0h0m-38 1h0m3 1h0m0 0h0m1 0h0m3 0h0m10 0h0m12 0h0m-26 1h0m3 0h0m6 0h0m5 1h0m1 0h0m2 0h0m3 0h0m-5 1h0m0 0h0m4 0h0m0 0h0m0 0h0m-4 1h0m2 0h0m3 0h0" stroke="rgb(45, 187, 217)" stroke-width="2.4" stroke-linecap="square" fill="none"/>
<path transform="scale(0.5)" d="M425 546h0m0 0h0m1 0h0m1 1h0m0 0h0m-1 1h0m8 1h0m1 0h0m0 0h0m0 0h0m7 2h0m1 0h0m-33 1h0m0 0h0m35 0h0m-35 1h0m1 0h0m0 1h0m1 1h0m-2 1h0m0 0h0m36 0h0m-37 1h0m0 0h0m37 0h0m-37 1h0m-1 1h0m1 0h0m37 0h0m1 0h0m-41 1h0m2 0h0m38 0h0m1 0h0m0 0h0m-41 1h0m41 0h0m1 0h0m-41 1h0m0 0h0m-1 1h0m0 0h0m36 1h0m0 0h0m-36 1h0m0 0h0m36 0h0m1 0h0m-37 1h0m3 0h0m0 0h0m1 0h0m1 0h0m28 0h0m2 0h0m-33 1h0m31 0h0m-28 1h0m4 0h0m1 0h0m8 0h0m5 0h0m2 0h0m0 0h0m1 0h0m6 0h0m-23 1h0m1 0h0m0 0h0m1 0h0m0 0h0m8 0h0m1 0h0m1 0h0m1 0h0m0 0h0m0 0h0m3 0h0m1 0h0m0 0h0m-8 1h0m7 0h0" stroke="rgb(49, 210, 202)" stroke-width="2.4" stroke-linecap="square" fill="none"/>
<path transform="scale(0.5)" d="M418 548h0m13 0h0m1 0h0m0 0h0m1 0h0m0 0h0m-14 1h0m11 0h0m1 0h0m1 0h0m-18 1h0m0 0h0m4 0h0m-3 1h0m0 0h0m25 0h0m0 0h0m1 0h0m0 0h0m0 1h0m-29 1h0m1 0h0m0 0h0m0 0h0m-3 4h0m2 0h0m-2 1h0m0 0h0m0 1h0m1 0h0m0 1h0m1 0h0m-4 1h0m0 0h0m1 1h0m0 0h0m35 0h0m1 0h0m-1 1h0m-34 1h0m0 0h0m1 1h0m0 0h0m0 0h0m1 0h0m-1 1h0m3 0h0m0 0h0m2 0h0m1 0h0m1 0h0m1 0h0m0 0h0m3 0h0m12 0h0m-22 1h0m2 0h0m2 0h0m5 0h0m13 0h0m1 0h0m-13 1h0" stroke="rgb(46, 220, 153)" stroke-width="2.4" stroke-linecap="square" fill="none"/>
<path transform="scale(0.5)" d="M421 548h0m3 0h0m5 0h0m0 0h0m-8 1h0m0 0h0m0 0h0m2 0h0m0 0h0m1 0h0m0 0h0m2 0h0m0 0h0m0 0h0m0 0h0m0 1h0m12 0h0m0 0h0m-22 1h0m1 0h0m23 0h0m-26 1h0m3 0h0m19 0h0m1 0h0m2 0h0m4 0h0m-28 1h0m27 0h0m0 0h0m1 0h0m-30 1h0m2 0h0m29 0h0m1 0h0m-33 1h0m0 0h0m1 1h0m32 0h0m-32 1h0m-1 1h0m0 1h0m2 1h0m31 0h0m-33 1h0m-2 1h0m2 0h0m1 0h0m0 0h0m31 0h0m1 0h0m-35 1h0m0 0h0m0 0h0m1 0h0m1 0h0m-2 1h0m3 0h0m0 0h0m2 0h0m4 0h0m1 0h0m3 0h0m0 0h0m19 0h0m-29 1h0m0 0h0m1 0h0m2 0h0m0 0h0m0 0h0m1 0h0m1 0h0m1 0h0m0 0h0m1 0h0m0 0h0m1 0h0m0 0h0m1 0h0m19 0h0m-27 1h0m16 0h0m1 0h0m0 0h0m1 0h0m1 0h0m-5 2h0" stroke="rgb(42, 227, 95)" stroke-width="2.4" stroke-linecap="square" fill="none"/>
<path transform="scale(0.5)" d="M419 550h0m1 0h0m10 0h0m2 0h0m0 0h0m0 0h0m2 0h0m-16 1h0m1 0h0m12 0h0m1 0h0m1 0h0m-15 1h0m14 0h0m1 0h0m-19 2h0m1 1h0m-1 1h0m1 0h0m0 0h0m29 0h0m1 0h0m-31 1h0m1 0h0m1 0h0m28 0h0m1 0h0m0 0h0m-30 1h0m1 0h0m28 0h0m0 0h0m0 0h0m0 0h0m2 0h0m-32 1h0m1 1h0m0 0h0m30 0h0m-31 1h0m1 1h0m2 0h0m-2 1h0m0 0h0m2 0h0m0 0h0m-3 1h0m10 0h0m1 0h0m13 0h0m0 0h0m1 0h0m0 0h0m0 0h0m-15 1h0m0 0h0m0 0h0m1 0h0m1 0h0m0 0h0m0 0h0m13 0h0m0 0h0m0 0h0m-13 1h0" stroke="rgb(51, 232, 57)" stroke-width="2.4" stroke-linecap="square" fill="none"/>
<path transform="scale(0.5)" d="M429 550h0m-9 1h0m1 0h0m0 0h0m0 0h0m1 0h0m4 0h0m0 0h0m1 0h0m0 0h0m1 0h0m1 0h0m0 0h0m0 0h0m-13 1h0m1 0h0m3 0h0m18 0h0m-21 1h0m1 0h0m21 0h0m0 0h0m1 0h0m0 0h0m0 0h0m1 0h0m-2 1h0m1 0h0m0 0h0m0 0h0m1 0h0m1 0h0m0 1h0m0 0h0m-26 3h0m0 1h0m1 0h0m0 0h0m0 1h0m25 0h0m1 0h0m-1 1h0m0 0h0m1 0h0m-27 1h0m1 0h0m23 0h0m0 0h0m-22 1h0m1 0h0m0 0h0m0 0h0m2 0h0m19 0h0m1 0h0m-19 1h0m7 0h0m1 0h0m0 0h0m1 0h0m1 0h0m3 0h0m2 0h0m0 0h0m4 0h0m-13 1h0m1 0h0m2 0h0m0 0h0m0 0h0m0 0h0m0 0h0m1 0h0m1 0h0m1 0h0m2 0h0m0 0h0m1 0h0m-6 1h0m5 0h0m0 0h0" stroke="rgb(78, 233, 52)" stroke-width="2.4" stroke-linecap="square" fill="none"/>
<path transform="scale(0.5)" d="M423 550h0m-1 1h0m0 0h0m0 0h0m1 0h0m1 0h0m0 0h0m-6 1h0m6 0h0m6 0h0m3 0h0m0 0h0m1 0h0m-16 1h0m0 0h0m1 0h0m0 0h0m12 0h0m1 0h0m0 0h0m1 0h0m1 0h0m1 0h0m1 0h0m1 0h0m0 0h0m-20 1h0m2 0h0m12 0h0m0 0h0m2 0h0m3 0h0m-19 1h0m23 0h0m1 0h0m-25 1h0m0 0h0m0 0h0m1 0h0m0 0h0m23 0h0m1 0h0m1 0h0m0 0h0m1 0h0m-27 2h0m1 0h0m26 0h0m0 0h0m-1 1h0m0 0h0m1 0h0m0 0h0m0 0h0m0 0h0m-25 1h0m0 0h0m0 1h0m1 0h0m0 0h0m0 0h0m0 0h0m0 0h0m-1 1h0m1 0h0m6 0h0m2 0h0m12 0h0m-14 1h0m0 0h0m0 0h0m1 0h0m1 0h0m11 0h0m0 0h0m1 0h0m1 0h0m-15 1h0m0 0h0m1 0h0m12 0h0m0 0h0" stroke="rgb(106, 234, 46)" stroke-width="2.4" stroke-linecap="square" fill="none"/>
<path transform="scale(0.5)" d="M420 552h0m2 0h0m1 0h0m0 0h0m1 0h0m0 0h0m1 0h0m1 0h0m1 0h0m0 0h0m2 0h0m0 0h0m-9 1h0m1 0h0m1 0h0m1 0h0m1 0h0m0 0h0m1 0h0m0 0h0m1 0h0m1 0h0m0 0h0m-9 1h0m0 0h0m2 0h0m3 0h0m1 0h0m0 0h0m1 0h0m0 0h0m2 0h0m2 0h0m10 0h0m-21 1h0m0 0h0m1 0h0m0 0h0m0 0h0m19 0h0m1 0h0m0 0h0m-20 1h0m0 0h0m0 0h0m20 0h0m1 0h0m0 0h0m1 0h0m-22 1h0m21 0h0m0 0h0m0 0h0m1 0h0m-23 1h0m0 0h0m2 2h0m0 0h0m1 0h0m1 0h0m0 0h0m1 0h0m0 0h0m0 0h0m-2 1h0m0 0h0m1 0h0m0 0h0m1 0h0m17 0h0m0 0h0m1 0h0m-12 1h0m0 0h0m1 0h0m0 0h0m1 0h0m0 0h0m3 0h0m0 0h0m3 0h0m-9 1h0m2 0h0m0 0h0m0 0h0m1 0h0m1 0h0m2 0h0m0 0h0m0 0h0m1 0h0m-7 1h0m1 0h0m5 0h0m2 0h0" stroke="rgb(134, 234, 41)" stroke-width="2.4" stroke-linecap="square" fill="none"/>
<path transform="scale(0.5)" d="M421 554h0m1 0h0m1 0h0m3 0h0m0 0h0m3 0h0m0 0h0m2 0h0m1 0h0m1 0h0m1 0h0m1 0h0m2 0h0m0 0h0m-17 1h0m1 0h0m1 0h0m1 0h0m2 0h0m0 0h0m1 0h0m1 0h0m0 0h0m1 0h0m0 0h0m0 0h0m2 0h0m0 0h0m1 0h0m1 0h0m1 0h0m0 0h0m3 0h0m0 0h0m1 0h0m0 0h0m-17 1h0m1 0h0m0 0h0m2 0h0m0 0h0m0 0h0m6 0h0m5 0h0m1 0h0m1 0h0m-16 1h0m1 0h0m1 0h0m1 0h0m0 0h0m0 0h0m0 0h0m0 0h0m0 0h0m1 0h0m-4 1h0m0 0h0m0 0h0m1 0h0m2 0h0m0 0h0m17 0h0m1 0h0m-21 1h0m0 0h0m0 0h0m1 0h0m0 0h0m0 0h0m3 0h0m0 0h0m1 0h0m15 0h0m0 0h0m2 0h0m-20 1h0m0 0h0m1 0h0m1 0h0m1 0h0m1 0h0m1 0h0m0 0h0m0 0h0m12 0h0m0 0h0m-15 1h0m0 0h0m1 0h0m13 0h0m0 0h0m1 0h0m0 0h0m-15 1h0m3 0h0m0 0h0m6 0h0m5 0h0m1 0h0m0 0h0m-7 1h0m1 0h0" stroke="rgb(190, 232, 29)" stroke-width="2.4" stroke-linecap="square" fill="none"/>
<path transform="scale(0.5)" d="M424 556h0m1 0h0m3 0h0m0 0h0m1 0h0m0 0h0m1 0h0m1 0h0m5 0h0m0 0h0m2 0h0m0 0h0m2 0h0m-16 1h0m0 0h0m2 0h0m0 0h0m2 0h0m1 0h0m1 0h0m0 0h0m6 0h0m0 0h0m1 0h0m0 0h0m1 0h0m0 0h0m0 0h0m0 0h0m1 0h0m-13 1h0m0 0h0m1 0h0m0 0h0m1 0h0m0 0h0m0 0h0m2 0h0m6 0h0m1 0h0m2 0h0m-13 1h0m0 0h0m0 0h0m1 0h0m0 0h0m1 0h0m0 0h0m0 0h0m0 0h0m10 0h0m1 0h0m-13 1h0m1 0h0m1 0h0m3 0h0m2 0h0m1 0h0m0 0h0m1 0h0m1 0h0m1 0h0m0 0h0m2 0h0m-11 1h0m0 0h0m2 0h0m0 0h0m1 0h0m2 0h0m0 0h0m0 0h0m1 0h0m0 0h0m1 0h0m1 0h0m0 0h0m-7 1h0m1 0h0m8 0h0" stroke="rgb(238, 198, 20)" stroke-width="2.4" stroke-linecap="square" fill="none"/>
<path transform="scale(0.5)" d="M432 556h0m1 0h0m1 0h0m0 0h0m1 0h0m0 0h0m-3 1h0m0 0h0m1 0h0m0 0h0m0 0h0m0 0h0m0 0h0m3 0h0m-6 1h0m0 0h0m2 0h0m0 0h0m1 0h0m0 0h0m0 0h0m0 0h0m0 0h0m1 0h0m1 0h0m1 0h0m1 0h0m1 0h0m-8 1h0m1 0h0m0 0h0m0 0h0m1 0h0m1 0h0m0 0h0m0 0h0m1 0h0m0 0h0m0 0h0m1 0h0m0 0h0m1 0h0m1 0h0m0 0h0m-6 1h0m0 0h0m4 0h0m0 0h0m2 0h0" stroke="rgb(230, 40, 20)" stroke-width="2.4" stroke-linecap="square" fill="none"/>
</g>
<rect x="175.80" y="271.90" width="64.20" height="63.10" fill="none" stroke="#9a9aa8" stroke-width="0.8"/>
<line x1="175.8" y1="271.9" x2="207.6" y2="271.9" stroke="#3a3aa8" stroke-width="1.0"/>
<line x1="175.8" y1="271.9" x2="175.8" y2="335" stroke="#3a3aa8" stroke-width="1.0"/>
<line x1="207.6" y1="271.9" x2="207.6" y2="335" stroke="#3a3aa8" stroke-width="1.0"/>
<line x1="175.8" y1="314.6" x2="207.6" y2="314.6" stroke="#3a3aa8" stroke-width="1.0"/>
<text x="177.3" y="279.09999999999997" font-size="7" fill="#000">16.6</text>
<text x="236.0" y="302.65" font-size="7.2" font-weight="bold" text-anchor="end" fill="#000">80.5</text>
<text x="177.0" y="332.4" font-size="7" fill="#000">2.9</text>
<text x="24.7" y="275.0" font-size="5.5" fill="#111">10<tspan dx="0.3" dy="-2.75" font-size="4.67">4</tspan></text>
<text x="24.7" y="290.225" font-size="5.5" fill="#111">10<tspan dx="0.3" dy="-2.75" font-size="4.67">3</tspan></text>
<text x="24.7" y="305.45000000000005" font-size="5.5" fill="#111">10<tspan dx="0.3" dy="-2.75" font-size="4.67">2</tspan></text>
<text x="24.7" y="320.675" font-size="5.5" fill="#111">10<tspan dx="0.3" dy="-2.75" font-size="4.67">1</tspan></text>
<text x="24.7" y="335.90000000000003" font-size="5.5" fill="#111">10<tspan dx="0.3" dy="-2.75" font-size="4.67">0</tspan></text>
<text x="32.6" y="343.8" font-size="5.5" fill="#111">10<tspan dx="0.3" dy="-2.75" font-size="4.67">0</tspan></text>
<text x="48.6" y="343.8" font-size="5.5" fill="#111">10<tspan dx="0.3" dy="-2.75" font-size="4.67">1</tspan></text>
<text x="64.6" y="343.8" font-size="5.5" fill="#111">10<tspan dx="0.3" dy="-2.75" font-size="4.67">2</tspan></text>
<text x="80.6" y="343.8" font-size="5.5" fill="#111">10<tspan dx="0.3" dy="-2.75" font-size="4.67">3</tspan></text>
<text x="96.6" y="343.8" font-size="5.5" fill="#111">10<tspan dx="0.3" dy="-2.75" font-size="4.67">4</tspan></text>
<text x="274.7" y="193.7" font-size="16" font-weight="bold" fill="#000">E</text>
<text x="343.3" y="194.8" font-size="9.4" text-anchor="middle" fill="#000">24h</text>
<text x="414.4" y="194.8" font-size="9.4" text-anchor="middle" fill="#000">48h</text>
<text x="481.9" y="194.8" font-size="9.4" text-anchor="middle" fill="#000">72h</text>
<line x1="294.6" y1="199" x2="294.6" y2="348.6" stroke="#000" stroke-width="1.2"/>
<path d="M294.6 195 L292.6 200.5 L296.6 200.5Z" fill="#000"/>
<line x1="294.6" y1="348.8" x2="514" y2="348.8" stroke="#000" stroke-width="1.2"/>
<path d="M518 348.8 L512.5 346.8 L512.5 350.8Z" fill="#000"/>
<text x="285.1" y="231.2" font-size="9.3" text-anchor="middle" transform="rotate(-90 285.1 231.2)">Sox6 control</text>
<text x="284.7" y="304" font-size="9.3" text-anchor="middle" transform="rotate(-90 284.7 304)">Sox6 null</text>
<text x="291.5" y="269" font-size="8" text-anchor="middle" fill="#000" transform="rotate(-90 291.5 269)">FSC</text>
<text x="410.2" y="357.6" font-size="8.8" font-weight="bold" text-anchor="middle" fill="#000">TO</text>
<g filter="url(#bl)">
<path transform="scale(0.5)" d="M745 447h0m-53 41h0m6 19h0" stroke="rgb(102, 127, 238)" stroke-width="2.4" stroke-linecap="square" fill="none"/>
<path transform="scale(0.5)" d="M741 405h0m-2 1h0m-5 3h0m11 1h0m-19 4h0m1 2h0m19 0h0m-1 1h0m1 3h0m-2 7h0m-33 15h0m-6 7h0m26 14h0m-34 18h0m19 2h0m-5 9h0m-15 1h0m-1 3h0m14 1h0m-6 1h0" stroke="rgb(85, 115, 236)" stroke-width="2.4" stroke-linecap="square" fill="none"/>
<path transform="scale(0.5)" d="M737 410h0m1 0h0m1 1h0m2 0h0m-3 1h0m-5 2h0m0 0h0m-7 3h0m18 0h0m-2 3h0m0 3h0m-1 14h0m-29 2h0m27 7h0m-34 9h0m0 4h0m-5 13h0m1 1h0m17 2h0m-17 7h0m11 0h0m0 1h0m-11 1h0m3 1h0m0 0h0m8 0h0m-11 1h0m10 1h0m-12 1h0m7 0h0m-5 2h0m1 0h0m7 1h0m-11 1h0m8 0h0m-8 1h0m6 0h0m0 0h0m-1 1h0m-3 1h0" stroke="rgb(68, 102, 234)" stroke-width="2.4" stroke-linecap="square" fill="none"/>
<path transform="scale(0.5)" d="M737 416h0m1 0h0m1 0h0m-7 1h0m0 0h0m5 0h0m1 0h0m-7 1h0m4 0h0m6 0h0m-12 2h0m2 0h0m0 0h0m7 0h0m-12 1h0m14 1h0m-14 1h0m15 0h0m-1 5h0m-19 2h0m19 6h0m-1 4h0m-28 6h0m-4 9h0m-1 3h0m-3 4h0m2 4h0m0 0h0m22 0h0m-3 1h0m-19 3h0m15 2h0m-17 1h0m12 2h0m-13 1h0m1 1h0m11 0h0m2 1h0m-2 1h0m-10 1h0m0 1h0m3 0h0m3 0h0m-4 1h0m4 0h0" stroke="rgb(51, 90, 232)" stroke-width="2.4" stroke-linecap="square" fill="none"/>
<path transform="scale(0.5)" d="M736 419h0m1 2h0m1 1h0m-9 2h0m7 17h0m-28 11h0m0 2h0m-1 9h0m0 1h0m19 0h0m-20 1h0m1 1h0m15 2h0m-15 1h0m0 2h0m12 1h0m-16 1h0m1 0h0m1 3h0m10 0h0m-8 1h0m0 0h0m1 0h0m1 1h0m0 2h0" stroke="rgb(44, 94, 233)" stroke-width="2.4" stroke-linecap="square" fill="none"/>
<path transform="scale(0.5)" d="M734 421h0m1 1h0m-4 1h0m2 0h0m0 0h0m4 0h0m-7 1h0m1 0h0m2 0h0m0 0h0m1 0h0m0 0h0m1 0h0m1 0h0m-7 1h0m9 1h0m-13 1h0m13 0h0m-1 1h0m1 0h0m0 1h0m0 2h0m1 3h0m0 0h0m0 0h0m-1 1h0m-20 1h0m-1 1h0m0 0h0m18 3h0m0 4h0m-1 2h0m-23 4h0m20 3h0m-22 3h0m19 2h0m-20 1h0m1 2h0m0 1h0m18 0h0m-18 1h0m10 4h0m1 0h0m1 0h0m-1 1h0m-11 1h0m9 1h0m-10 1h0m0 0h0m1 0h0m6 0h0m-1 1h0m-6 1h0m5 0h0m0 0h0m2 0h0m-9 1h0m2 0h0m4 0h0m1 0h0m1 0h0m-5 1h0m1 0h0m1 0h0m-5 1h0m0 0h0m1 0h0m3 0h0m1 0h0m1 0h0m0 0h0m-6 1h0" stroke="rgb(43, 111, 235)" stroke-width="2.4" stroke-linecap="square" fill="none"/>
<path transform="scale(0.5)" d="M731 425h0m2 0h0m1 0h0m2 0h0m1 0h0m0 0h0m-6 1h0m0 0h0m4 0h0m0 0h0m1 1h0m-10 1h0m-2 1h0m0 1h0m0 0h0m1 0h0m12 0h0m0 0h0m0 1h0m-14 1h0m13 0h0m0 1h0m-1 1h0m1 2h0m0 2h0m-19 2h0m17 1h0m-1 6h0m-23 5h0m20 0h0m1 0h0m-21 1h0m17 7h0m-18 3h0m16 0h0m-17 1h0m16 0h0m-2 2h0m-12 1h0m0 1h0m1 0h0m0 1h0m-2 1h0m2 0h0m2 0h0m0 0h0m3 0h0m1 0h0m-6 1h0m1 0h0m1 0h0m-2 1h0m0 1h0m-1 1h0m1 0h0" stroke="rgb(41, 127, 237)" stroke-width="2.4" stroke-linecap="square" fill="none"/>
<path transform="scale(0.5)" d="M728 427h0m6 0h0m-7 1h0m1 0h0m0 0h0m0 0h0m0 0h0m0 0h0m3 0h0m0 0h0m1 0h0m2 0h0m-8 1h0m1 0h0m7 0h0m0 1h0m0 0h0m0 0h0m1 1h0m-11 1h0m1 0h0m0 0h0m-3 1h0m0 1h0m1 0h0m-3 1h0m1 1h0m-2 2h0m16 2h0m-20 5h0m17 0h0m0 0h0m1 0h0m0 0h0m0 2h0m-22 2h0m1 0h0m1 0h0m0 1h0m13 7h0m0 0h0m-16 1h0m15 0h0m-15 2h0m0 0h0m1 0h0m0 1h0m14 0h0m-14 1h0m13 0h0m1 0h0m0 0h0m-14 1h0m11 0h0m0 1h0m-12 1h0m1 0h0m0 0h0m10 0h0m-11 1h0m0 0h0m11 0h0m-9 1h0m1 0h0m1 0h0m2 0h0m1 0h0m-4 1h0m0 0h0m4 0h0m0 0h0m-1 1h0" stroke="rgb(40, 143, 239)" stroke-width="2.4" stroke-linecap="square" fill="none"/>
<path transform="scale(0.5)" d="M728 429h0m1 0h0m0 0h0m0 0h0m1 0h0m3 0h0m-2 1h0m1 0h0m-2 1h0m4 0h0m-7 1h0m8 0h0m-11 1h0m0 0h0m0 0h0m11 0h0m0 0h0m-10 1h0m9 0h0m1 0h0m-12 1h0m2 0h0m8 0h0m2 0h0m-12 1h0m11 0h0m1 0h0m-15 1h0m14 0h0m-13 1h0m0 0h0m-2 2h0m0 0h0m0 0h0m14 2h0m-16 2h0m0 0h0m15 0h0m1 0h0m-18 4h0m0 0h0m16 1h0m0 0h0m-1 1h0m-18 2h0m0 0h0m-1 1h0m1 0h0m1 0h0m-1 1h0m1 0h0m0 1h0m11 4h0m1 0h0m0 1h0m-13 3h0m1 0h0m-1 2h0m1 0h0m0 0h0m1 0h0m1 0h0m1 0h0m0 0h0m2 0h0m-6 1h0m0 0h0m0 0h0m1 0h0m1 0h0m0 0h0m1 0h0m1 0h0m2 0h0" stroke="rgb(42, 163, 231)" stroke-width="2.4" stroke-linecap="square" fill="none"/>
<path transform="scale(0.5)" d="M730 431h0m0 0h0m2 0h0m-5 1h0m1 0h0m1 0h0m0 0h0m1 0h0m0 0h0m0 0h0m0 0h0m2 0h0m1 0h0m0 0h0m-1 1h0m1 0h0m0 0h0m0 1h0m-1 5h0m1 1h0m-17 5h0m0 2h0m14 0h0m0 0h0m1 1h0m-17 1h0m1 0h0m0 0h0m-1 1h0m0 0h0m1 0h0m13 1h0m1 0h0m0 1h0m-17 4h0m1 0h0m0 0h0m0 0h0m12 0h0m1 0h0m-14 1h0m1 0h0m0 0h0m0 0h0m0 2h0m-1 1h0m0 1h0m1 0h0m10 0h0m-10 1h0m0 0h0m9 0h0m1 0h0m0 0h0m-9 1h0m1 0h0m0 0h0m0 0h0m3 0h0m0 0h0m1 0h0m0 0h0m2 0h0m0 0h0m-7 1h0m4 0h0m0 0h0m3 0h0" stroke="rgb(45, 187, 217)" stroke-width="2.4" stroke-linecap="square" fill="none"/>
<path transform="scale(0.5)" d="M726 433h0m1 0h0m1 0h0m0 0h0m2 0h0m0 0h0m1 0h0m-4 1h0m0 0h0m1 0h0m0 0h0m0 0h0m0 0h0m0 0h0m0 0h0m0 0h0m1 0h0m0 0h0m1 0h0m1 0h0m-7 1h0m0 0h0m1 0h0m0 0h0m7 0h0m0 0h0m1 0h0m0 0h0m0 0h0m0 0h0m-1 1h0m-11 1h0m1 0h0m10 0h0m0 0h0m0 1h0m0 0h0m1 0h0m0 0h0m0 0h0m-14 1h0m1 0h0m0 1h0m1 0h0m0 0h0m0 0h0m-3 1h0m1 0h0m-2 1h0m1 0h0m1 0h0m0 0h0m0 0h0m0 0h0m11 2h0m0 1h0m1 0h0m0 0h0m-3 4h0m0 0h0m1 0h0m0 1h0m0 0h0m-15 2h0m0 0h0m13 1h0m-1 1h0m0 0h0m-1 3h0m0 0h0m-4 2h0m2 0h0m0 0h0m-1 1h0m-7 1h0m7 0h0m-8 1h0m1 0h0m4 0h0m1 0h0m-4 1h0m0 0h0m1 0h0m0 0h0m3 0h0m-4 1h0m0 1h0" stroke="rgb(49, 210, 202)" stroke-width="2.4" stroke-linecap="square" fill="none"/>
<path transform="scale(0.5)" d="M725 435h0m1 0h0m1 0h0m1 0h0m0 0h0m0 0h0m0 0h0m1 0h0m1 0h0m1 0h0m0 0h0m-5 1h0m1 0h0m1 0h0m1 0h0m0 0h0m0 0h0m1 0h0m1 0h0m-6 1h0m0 0h0m0 0h0m5 0h0m1 0h0m-7 1h0m0 0h0m6 0h0m0 0h0m0 0h0m1 0h0m-1 1h0m0 0h0m0 0h0m0 0h0m1 0h0m-2 1h0m1 0h0m0 0h0m0 0h0m0 0h0m0 0h0m1 0h0m-1 1h0m0 0h0m0 0h0m1 0h0m0 0h0m-1 1h0m-12 1h0m1 0h0m-1 1h0m0 0h0m1 0h0m0 0h0m0 0h0m0 0h0m-2 3h0m11 0h0m0 0h0m0 0h0m1 0h0m-13 1h0m12 0h0m0 0h0m-2 3h0m1 0h0m0 0h0m0 1h0m-12 1h0m12 0h0m0 0h0m-12 1h0m0 0h0m-1 1h0m1 0h0m0 0h0m9 0h0m0 0h0m0 0h0m1 0h0m-11 1h0m1 0h0m0 0h0m8 0h0m1 0h0m1 0h0m0 0h0m-11 1h0m0 0h0m0 0h0m0 1h0m0 0h0m1 0h0m-1 1h0m0 0h0m1 0h0m0 0h0m0 0h0m-1 1h0m0 0h0m0 0h0m1 1h0m0 0h0m1 0h0m0 0h0m2 0h0m1 0h0m-3 1h0m0 0h0m0 0h0m1 0h0m0 0h0m0 0h0m1 0h0" stroke="rgb(46, 220, 153)" stroke-width="2.4" stroke-linecap="square" fill="none"/>
<path transform="scale(0.5)" d="M725 437h0m1 0h0m0 0h0m1 0h0m0 0h0m0 0h0m1 0h0m0 0h0m-2 1h0m1 0h0m1 0h0m-5 1h0m0 0h0m5 0h0m0 0h0m0 0h0m1 0h0m0 0h0m-7 1h0m0 0h0m1 0h0m0 0h0m-2 1h0m6 0h0m-7 1h0m1 0h0m0 0h0m-3 3h0m1 1h0m9 0h0m0 0h0m0 0h0m1 0h0m0 0h0m0 0h0m-13 3h0m0 0h0m0 0h0m0 1h0m1 0h0m-1 1h0m0 0h0m1 0h0m-1 1h0m0 0h0m0 0h0m1 0h0m0 0h0m0 0h0m6 1h0m0 1h0m1 0h0m0 0h0m1 0h0m0 0h0m-1 1h0m-2 2h0m1 0h0m0 0h0m-1 1h0m0 0h0m-5 1h0m0 0h0m0 0h0m1 0h0m0 0h0m0 0h0m1 0h0m1 0h0m0 0h0m0 0h0m1 0h0m0 0h0m-5 1h0m0 0h0m1 0h0m1 0h0m0 0h0m0 0h0m0 0h0m0 0h0m0 0h0m0 0h0m1 0h0m0 0h0m0 0h0m0 0h0m2 0h0m0 0h0m0 0h0m-3 1h0" stroke="rgb(42, 227, 95)" stroke-width="2.4" stroke-linecap="square" fill="none"/>
<path transform="scale(0.5)" d="M724 439h0m0 0h0m1 0h0m0 0h0m1 0h0m0 0h0m1 0h0m-3 1h0m0 0h0m0 0h0m0 0h0m1 0h0m0 0h0m0 0h0m1 0h0m1 0h0m-5 1h0m0 0h0m0 0h0m1 0h0m0 0h0m0 0h0m3 0h0m2 0h0m0 0h0m1 0h0m-7 1h0m0 0h0m0 0h0m1 0h0m0 0h0m5 0h0m0 0h0m0 0h0m1 0h0m0 0h0m0 0h0m0 0h0m0 0h0m-9 1h0m1 0h0m0 0h0m0 0h0m6 0h0m1 0h0m0 0h0m0 0h0m0 0h0m1 0h0m0 0h0m0 0h0m-9 1h0m0 0h0m0 0h0m-2 3h0m0 0h0m0 0h0m1 0h0m0 0h0m-2 1h0m1 0h0m0 0h0m1 0h0m0 1h0m7 0h0m0 1h0m0 0h0m0 0h0m1 0h0m-3 1h0m0 0h0m1 0h0m-2 1h0m2 0h0m-9 1h0m0 0h0m0 0h0m1 0h0m0 0h0m-1 1h0m1 0h0m-1 1h0m0 0h0m0 0h0m1 0h0m0 0h0m0 0h0m0 0h0m5 0h0m0 0h0m0 0h0m0 0h0m-6 1h0m0 0h0m6 0h0m1 0h0m0 0h0m-8 1h0m2 0h0m0 0h0m1 0h0m1 0h0m0 0h0m0 0h0m1 0h0m0 0h0m0 0h0m1 0h0m-6 1h0m0 0h0m1 0h0m0 0h0m0 0h0m1 0h0m0 0h0m1 0h0m0 0h0m0 0h0m2 0h0m1 0h0m0 0h0m0 0h0" stroke="rgb(51, 232, 57)" stroke-width="2.4" stroke-linecap="square" fill="none"/>
<path transform="scale(0.5)" d="M723 441h0m1 0h0m0 0h0m1 0h0m0 0h0m1 0h0m0 0h0m0 0h0m1 0h0m0 0h0m0 0h0m0 0h0m-4 1h0m1 0h0m0 0h0m0 0h0m0 0h0m1 0h0m0 0h0m1 0h0m1 0h0m0 0h0m0 0h0m0 0h0m-2 1h0m1 0h0m0 0h0m0 1h0m1 0h0m-7 1h0m0 0h0m1 0h0m0 0h0m0 0h0m4 0h0m1 0h0m0 0h0m0 0h0m0 0h0m1 0h0m0 0h0m-7 1h0m0 0h0m1 0h0m4 0h0m1 0h0m0 0h0m0 0h0m0 0h0m1 0h0m0 0h0m0 0h0m-1 1h0m0 0h0m1 0h0m0 0h0m-2 1h0m2 0h0m0 0h0m-9 1h0m0 0h0m1 0h0m0 0h0m5 0h0m0 0h0m0 0h0m0 0h0m1 0h0m-7 1h0m1 0h0m5 0h0m0 0h0m1 0h0m-7 1h0m0 0h0m0 0h0m7 0h0m-7 1h0m0 0h0m0 0h0m1 0h0m0 0h0m0 0h0m-1 1h0m0 0h0m0 0h0m0 0h0m1 0h0m0 0h0m3 0h0m1 0h0m0 0h0m-5 1h0m0 0h0m1 0h0m0 0h0m0 0h0m4 0h0m0 0h0m0 0h0m0 0h0m0 0h0m-5 1h0m1 0h0m0 0h0m1 0h0m0 0h0m0 0h0m0 0h0m1 0h0m0 0h0m0 0h0m1 0h0m-4 1h0m0 0h0m0 0h0m0 0h0m2 0h0m0 0h0m0 0h0m0 0h0m0 0h0m1 0h0m0 0h0m0 0h0m0 0h0m0 0h0m-1 1h0" stroke="rgb(78, 233, 52)" stroke-width="2.4" stroke-linecap="square" fill="none"/>
<path transform="scale(0.5)" d="M722 443h0m0 0h0m1 0h0m0 0h0m0 0h0m1 0h0m0 0h0m1 0h0m0 0h0m0 0h0m0 0h0m-4 1h0m2 0h0m0 0h0m0 0h0m0 0h0m1 0h0m1 0h0m0 0h0m0 0h0m0 1h0m-6 2h0m1 0h0m1 0h0m0 0h0m3 0h0m0 0h0m0 0h0m0 0h0m0 0h0m-5 1h0m0 0h0m1 0h0m0 0h0m0 0h0m0 0h0m1 0h0m0 0h0m0 0h0m0 0h0m0 0h0m3 0h0m0 0h0m0 0h0m0 0h0m0 0h0m1 0h0m0 0h0m0 0h0m0 0h0m-6 1h0m1 0h0m0 0h0m0 0h0m0 0h0m1 0h0m0 0h0m0 0h0m0 0h0m0 0h0m0 0h0m1 0h0m3 0h0m-5 1h0m0 0h0m1 0h0m0 0h0m0 0h0m1 0h0m0 0h0m0 0h0m1 0h0m-4 1h0m1 0h0m0 0h0m1 0h0m0 0h0m0 0h0m1 0h0m0 0h0m1 0h0m-3 1h0m0 0h0m0 0h0m0 0h0m0 0h0m1 0h0m0 0h0m1 0h0m0 0h0m0 0h0m0 0h0m0 0h0m1 0h0m0 0h0m0 0h0m-4 1h0m1 0h0m1 0h0m0 0h0m0 0h0m2 0h0m-3 1h0m1 0h0m0 0h0m0 0h0m-1 1h0m1 0h0" stroke="rgb(106, 234, 46)" stroke-width="2.4" stroke-linecap="square" fill="none"/>
<path transform="scale(0.5)" d="M722 445h0m1 0h0m0 0h0m0 0h0m0 0h0m1 0h0m0 0h0m0 0h0m0 0h0m0 0h0m0 0h0m0 0h0m1 0h0m0 0h0m0 0h0m0 0h0m-3 1h0m0 0h0m1 0h0m0 0h0m0 0h0m0 0h0m0 0h0m0 0h0m1 0h0m0 0h0m0 0h0m1 0h0m-3 1h0m0 0h0m0 0h0m0 0h0m0 0h0m0 0h0m0 0h0m0 0h0m1 0h0m0 0h0m0 0h0m0 0h0m2 0h0m0 0h0m-4 1h0m0 0h0m1 0h0m0 0h0m1 0h0m0 0h0m0 1h0" stroke="rgb(134, 234, 41)" stroke-width="2.4" stroke-linecap="square" fill="none"/>
</g>
<rect x="312.70" y="197.30" width="63.50" height="63.50" fill="none" stroke="#aaa" stroke-width="0.7"/>
<line x1="355.4" y1="197.3" x2="355.4" y2="260.8" stroke="#4858d8" stroke-width="0.9"/>
<line x1="312.7" y1="226.8" x2="376.2" y2="226.8" stroke="#4858d8" stroke-width="0.9"/>
<text x="315.2" y="204.8" font-size="7" fill="#000">0.3</text>
<text x="356.4" y="204.8" font-size="7" fill="#000">63.4</text>
<text x="315.2" y="258.6" font-size="7" fill="#000">7.7</text>
<text x="356.4" y="258.6" font-size="7" fill="#000">28.6</text>
<g filter="url(#bl)">
<path transform="scale(0.5)" d="M871 411h0m-6 60h0m10 2h0m-20 7h0m11 0h0m-3 5h0m-12 3h0m9 3h0m4 0h0m-6 7h0m8 0h0m-3 1h0m-12 7h0m-23 1h0m27 4h0" stroke="rgb(102, 127, 238)" stroke-width="2.4" stroke-linecap="square" fill="none"/>
<path transform="scale(0.5)" d="M863 408h0m2 0h0m0 3h0m1 1h0m1 0h0m0 3h0m-19 12h0m21 5h0m-28 6h0m-2 4h0m27 0h0m-7 36h0m2 1h0m-36 8h0m1 2h0m-3 9h0m12 1h0m1 1h0m0 1h0m-3 5h0m0 0h0" stroke="rgb(85, 115, 236)" stroke-width="2.4" stroke-linecap="square" fill="none"/>
<path transform="scale(0.5)" d="M862 414h0m2 0h0m-5 1h0m4 3h0m-7 2h0m-3 2h0m-2 1h0m15 9h0m2 1h0m-3 1h0m-34 32h0m18 12h0m-20 6h0m0 0h0m12 3h0m-10 4h0m-5 1h0m10 1h0m-6 1h0m0 0h0m-2 3h0m3 1h0m3 1h0m-7 1h0m2 0h0m1 0h0m2 0h0m-4 1h0m0 2h0" stroke="rgb(68, 102, 234)" stroke-width="2.4" stroke-linecap="square" fill="none"/>
<path transform="scale(0.5)" d="M862 417h0m0 0h0m-2 2h0m3 0h0m0 1h0m-8 1h0m6 0h0m2 1h0m2 1h0m1 0h0m0 1h0m-13 1h0m12 0h0m0 0h0m1 0h0m-20 10h0m-1 1h0m1 0h0m-2 6h0m17 5h0m-21 1h0m22 0h0m-25 5h0m23 2h0m-1 1h0m-26 8h0m-1 13h0m15 2h0m-16 3h0m1 1h0m-3 4h0m3 0h0m5 0h0m3 0h0m-8 1h0m5 0h0m0 0h0m-6 1h0m3 1h0m-1 1h0m1 0h0" stroke="rgb(51, 90, 232)" stroke-width="2.4" stroke-linecap="square" fill="none"/>
<path transform="scale(0.5)" d="M860 421h0m-3 1h0m1 0h0m0 0h0m4 0h0m-5 1h0m1 1h0m1 0h0m0 0h0m1 0h0m-6 1h0m2 0h0m5 0h0m-6 1h0m7 0h0m0 0h0m-9 2h0m10 1h0m-13 2h0m14 2h0m-16 1h0m14 1h0m0 2h0m-16 2h0m-1 1h0m17 0h0m0 2h0m-18 2h0m17 0h0m1 0h0m-20 1h0m20 0h0m-22 5h0m19 2h0m-23 9h0m-2 9h0m0 0h0m14 6h0m-14 2h0m11 2h0m-2 2h0m-5 1h0m1 0h0m0 1h0m-7 1h0m0 0h0m1 0h0m0 0h0m3 0h0m0 0h0m1 0h0m3 0h0m-6 1h0m-1 1h0m3 1h0m-2 1h0" stroke="rgb(44, 94, 233)" stroke-width="2.4" stroke-linecap="square" fill="none"/>
<path transform="scale(0.5)" d="M857 425h0m1 0h0m2 0h0m0 1h0m0 0h0m-4 1h0m1 0h0m0 1h0m1 0h0m1 0h0m3 0h0m-1 1h0m1 0h0m-9 1h0m0 0h0m8 1h0m1 0h0m0 0h0m-1 1h0m0 0h0m1 0h0m-1 1h0m0 0h0m-14 5h0m12 7h0m0 0h0m0 0h0m-1 1h0m-19 5h0m1 1h0m16 1h0m-19 4h0m0 1h0m16 5h0m0 1h0m-18 2h0m1 0h0m0 1h0m14 0h0m-2 4h0m2 0h0m-1 1h0m-4 6h0m1 0h0m-10 1h0m7 0h0m-8 1h0m0 0h0m2 1h0m0 0h0m2 0h0m0 0h0m0 0h0m2 0h0m-6 2h0m1 0h0m1 0h0m-1 1h0m2 0h0" stroke="rgb(43, 111, 235)" stroke-width="2.4" stroke-linecap="square" fill="none"/>
<path transform="scale(0.5)" d="M856 429h0m1 0h0m1 0h0m1 0h0m-4 1h0m1 0h0m1 0h0m0 0h0m-4 1h0m0 1h0m0 0h0m1 0h0m-4 1h0m1 0h0m1 0h0m-1 1h0m8 0h0m0 0h0m0 0h0m-10 1h0m1 1h0m9 2h0m1 0h0m0 1h0m-1 1h0m0 0h0m1 0h0m-1 1h0m-15 5h0m-3 3h0m17 3h0m-18 3h0m0 0h0m0 0h0m0 1h0m15 2h0m1 0h0m-3 3h0m-15 1h0m0 1h0m13 2h0m1 0h0m-16 5h0m14 0h0m-15 1h0m12 0h0m-11 1h0m12 0h0m-13 1h0m0 0h0m1 0h0m12 0h0m-13 1h0m0 0h0m1 0h0m0 0h0m0 1h0m10 0h0m-1 1h0m-10 1h0m0 0h0m0 0h0m1 0h0m0 0h0m0 1h0m7 0h0m0 0h0m-7 1h0m0 0h0m1 0h0m0 0h0m3 0h0m-1 1h0m0 0h0m0 0h0" stroke="rgb(41, 127, 237)" stroke-width="2.4" stroke-linecap="square" fill="none"/>
<path transform="scale(0.5)" d="M855 431h0m1 0h0m0 1h0m1 0h0m0 0h0m0 0h0m1 0h0m-1 1h0m-4 1h0m0 0h0m4 0h0m1 0h0m-1 2h0m-7 1h0m0 0h0m0 0h0m0 0h0m0 1h0m-3 3h0m-3 7h0m13 1h0m0 1h0m-16 3h0m14 2h0m-2 5h0m1 0h0m-16 3h0m13 0h0m0 0h0m0 0h0m0 1h0m1 0h0m-15 1h0m12 2h0m-11 1h0m0 0h0m0 0h0m0 0h0m11 0h0m-12 2h0m1 0h0m9 0h0m1 0h0m-11 1h0m1 0h0m0 1h0m0 0h0m0 0h0m0 0h0m8 1h0m0 0h0m-8 2h0m0 0h0m5 0h0m0 0h0m-6 1h0m5 0h0m2 0h0m-7 1h0m0 0h0m3 0h0m1 0h0m2 0h0m-5 1h0m1 0h0m0 0h0m1 0h0m0 0h0m0 0h0m0 0h0m2 0h0" stroke="rgb(40, 143, 239)" stroke-width="2.4" stroke-linecap="square" fill="none"/>
<path transform="scale(0.5)" d="M854 433h0m1 0h0m1 0h0m0 0h0m-1 1h0m1 0h0m0 0h0m-3 1h0m0 0h0m0 0h0m1 0h0m1 0h0m1 0h0m0 0h0m0 0h0m-5 1h0m0 0h0m0 0h0m1 0h0m2 0h0m1 0h0m0 0h0m0 0h0m0 0h0m-1 1h0m0 0h0m3 0h0m0 1h0m1 0h0m0 0h0m-8 1h0m0 0h0m7 0h0m0 0h0m1 0h0m-8 1h0m7 0h0m0 0h0m0 2h0m0 0h0m-9 1h0m0 0h0m9 0h0m-10 1h0m0 0h0m0 0h0m1 0h0m9 0h0m0 0h0m1 0h0m-1 2h0m-15 3h0m2 0h0m0 0h0m-1 1h0m0 0h0m1 0h0m-3 4h0m15 0h0m-3 4h0m-13 1h0m0 0h0m0 1h0m0 0h0m11 1h0m0 0h0m0 0h0m0 1h0m0 1h0m-1 2h0m0 1h0m0 0h0m-5 5h0m0 0h0m0 1h0m1 0h0m-8 1h0m1 0h0m0 0h0m1 0h0m4 0h0m-7 1h0m1 0h0m0 0h0m1 0h0m0 0h0m1 0h0m3 0h0m0 0h0m1 0h0m0 0h0m-5 1h0m0 0h0m3 0h0m1 0h0m-4 1h0m2 0h0m0 0h0m0 0h0" stroke="rgb(42, 163, 231)" stroke-width="2.4" stroke-linecap="square" fill="none"/>
<path transform="scale(0.5)" d="M852 437h0m0 0h0m0 0h0m1 0h0m0 0h0m1 0h0m-3 1h0m2 0h0m0 0h0m0 0h0m0 0h0m0 0h0m1 0h0m-3 1h0m0 0h0m1 0h0m3 0h0m0 0h0m0 0h0m1 0h0m-5 1h0m1 0h0m3 0h0m0 0h0m1 0h0m0 0h0m-1 1h0m0 0h0m0 0h0m1 0h0m-7 1h0m1 0h0m5 0h0m1 0h0m-11 5h0m1 0h0m-1 1h0m0 0h0m1 0h0m9 1h0m0 0h0m0 2h0m0 0h0m0 0h0m0 1h0m-14 3h0m0 0h0m1 0h0m11 0h0m0 0h0m-12 1h0m12 0h0m1 0h0m-12 1h0m12 0h0m-3 2h0m0 0h0m1 0h0m-1 1h0m-12 1h0m0 0h0m1 0h0m0 0h0m0 1h0m0 0h0m-1 1h0m0 0h0m10 0h0m0 0h0m1 0h0m-10 1h0m0 0h0m10 0h0m-11 1h0m1 0h0m0 0h0m-1 1h0m1 0h0m-1 1h0m8 0h0m0 0h0m1 0h0m0 0h0m-8 1h0m0 0h0m6 0h0m2 0h0m-7 1h0m1 0h0m0 0h0m0 0h0m0 0h0m3 0h0m1 0h0m0 0h0m-7 1h0m1 0h0m1 0h0m0 0h0m0 0h0m0 0h0m4 0h0m1 0h0m0 0h0m-5 1h0m0 0h0m1 0h0m0 0h0m0 0h0m0 0h0m1 0h0m-4 1h0m2 0h0m1 0h0m0 0h0m0 0h0m-1 1h0m0 0h0m0 0h0m1 0h0m-1 1h0m1 0h0m0 0h0m-1 1h0" stroke="rgb(45, 187, 217)" stroke-width="2.4" stroke-linecap="square" fill="none"/>
<path transform="scale(0.5)" d="M853 439h0m0 0h0m0 0h0m0 1h0m0 0h0m1 0h0m0 0h0m0 0h0m-4 1h0m1 0h0m0 0h0m0 0h0m2 0h0m0 0h0m1 0h0m-3 1h0m0 0h0m0 0h0m0 0h0m0 0h0m1 0h0m0 0h0m1 0h0m0 0h0m0 0h0m1 0h0m-5 1h0m0 0h0m0 0h0m0 0h0m6 0h0m-6 1h0m0 0h0m0 0h0m0 0h0m6 0h0m0 0h0m-8 1h0m0 0h0m0 0h0m1 0h0m2 0h0m5 0h0m0 0h0m0 0h0m0 0h0m-8 1h0m0 0h0m8 0h0m0 0h0m1 0h0m-2 1h0m1 0h0m0 0h0m-1 1h0m1 0h0m0 1h0m-11 2h0m0 1h0m0 0h0m-1 1h0m1 0h0m0 1h0m0 0h0m9 0h0m0 0h0m0 0h0m1 0h0m0 0h0m-11 1h0m1 0h0m7 3h0m-9 1h0m0 0h0m-1 1h0m1 0h0m7 1h0m0 0h0m0 0h0m1 0h0m0 0h0m0 0h0m-1 1h0m-2 3h0m-7 1h0m1 0h0m1 0h0m5 0h0m-5 1h0m0 0h0m0 0h0m1 0h0m0 0h0m1 0h0m0 0h0m0 0h0m1 0h0m0 0h0m1 0h0m-4 1h0m0 0h0m0 0h0m2 0h0m0 0h0m1 0h0m1 0h0m-3 1h0m1 0h0m0 0h0m-1 1h0m0 0h0m1 0h0m0 0h0" stroke="rgb(49, 210, 202)" stroke-width="2.4" stroke-linecap="square" fill="none"/>
<path transform="scale(0.5)" d="M853 443h0m0 0h0m1 0h0m-2 1h0m1 0h0m0 0h0m0 0h0m1 0h0m0 0h0m-5 1h0m0 0h0m1 0h0m0 0h0m2 0h0m1 0h0m0 0h0m1 0h0m0 0h0m-5 1h0m1 0h0m0 0h0m3 0h0m0 0h0m0 0h0m0 0h0m0 0h0m0 0h0m1 1h0m-7 1h0m0 0h0m0 0h0m0 0h0m0 0h0m1 0h0m0 0h0m0 0h0m-2 1h0m-1 1h0m0 0h0m1 0h0m6 1h0m1 0h0m0 0h0m0 0h0m0 1h0m0 0h0m1 0h0m0 0h0m0 0h0m-11 3h0m0 0h0m1 0h0m0 0h0m-1 1h0m1 1h0m0 0h0m0 0h0m5 2h0m0 0h0m0 0h0m0 1h0m1 0h0m0 0h0m0 0h0m0 0h0m0 0h0m-9 1h0m0 0h0m1 0h0m0 0h0m-1 1h0m0 0h0m1 0h0m-1 1h0m0 0h0m1 0h0m0 0h0m0 0h0m6 0h0m0 0h0m-7 1h0m0 0h0m0 0h0m1 1h0m1 0h0m0 0h0m1 0h0m0 0h0m0 0h0m1 0h0m1 0h0m0 0h0m0 0h0m0 0h0m0 0h0m-4 1h0m1 0h0m1 0h0m1 0h0m0 0h0m0 0h0m1 0h0" stroke="rgb(46, 220, 153)" stroke-width="2.4" stroke-linecap="square" fill="none"/>
<path transform="scale(0.5)" d="M851 445h0m1 0h0m0 0h0m-1 1h0m0 0h0m0 0h0m1 0h0m0 0h0m0 0h0m0 0h0m1 1h0m0 0h0m0 0h0m1 0h0m0 0h0m0 1h0m0 0h0m0 0h0m-1 1h0m0 0h0m0 0h0m0 0h0m0 0h0m1 1h0m0 0h0m-9 1h0m1 0h0m0 0h0m0 0h0m7 0h0m-8 1h0m1 0h0m0 0h0m-1 1h0m0 0h0m1 0h0m5 0h0m0 0h0m-7 1h0m1 0h0m0 0h0m0 0h0m1 0h0m0 0h0m0 0h0m4 0h0m1 0h0m0 0h0m0 0h0m1 0h0m0 0h0m0 0h0m-6 1h0m5 0h0m0 0h0m0 0h0m0 0h0m0 0h0m0 0h0m1 0h0m0 0h0m-1 1h0m1 0h0m0 0h0m-4 1h0m1 0h0m0 0h0m1 0h0m0 0h0m-1 1h0m1 0h0m0 0h0m0 0h0m0 0h0m0 0h0m-7 1h0m0 0h0m0 0h0m0 0h0m0 0h0m1 0h0m0 0h0m0 0h0m0 0h0m4 0h0m2 0h0m-7 1h0m0 0h0m0 0h0m1 0h0m0 0h0m0 0h0m0 1h0m1 0h0m0 0h0m0 0h0m0 0h0m1 0h0m0 0h0m1 0h0m-4 1h0m0 0h0m0 0h0m0 0h0m0 0h0m0 0h0m0 0h0m0 0h0m1 0h0m0 0h0m0 0h0m1 0h0m1 0h0m1 0h0m0 0h0m0 0h0m1 0h0m0 0h0m-6 1h0m1 0h0m0 0h0m0 0h0m1 0h0m0 0h0m0 0h0m0 0h0m1 0h0m0 0h0m1 0h0m0 0h0m0 0h0m0 0h0m0 0h0m0 0h0m-3 1h0m0 0h0m0 0h0m2 0h0m1 0h0" stroke="rgb(42, 227, 95)" stroke-width="2.4" stroke-linecap="square" fill="none"/>
<path transform="scale(0.5)" d="M849 447h0m0 0h0m0 0h0m0 0h0m0 0h0m1 0h0m0 0h0m0 0h0m1 0h0m0 0h0m1 0h0m-3 1h0m0 0h0m0 0h0m0 0h0m0 0h0m1 0h0m0 0h0m1 0h0m0 0h0m1 0h0m0 0h0m-5 1h0m1 0h0m0 0h0m0 0h0m0 0h0m1 0h0m1 0h0m1 0h0m0 0h0m0 0h0m0 0h0m0 0h0m1 0h0m0 0h0m0 0h0m-4 1h0m0 0h0m1 0h0m0 0h0m1 0h0m0 0h0m1 0h0m0 0h0m1 0h0m-6 1h0m1 0h0m0 0h0m0 0h0m0 0h0m0 0h0m1 0h0m0 0h0m0 0h0m0 0h0m2 0h0m1 0h0m0 0h0m1 0h0m0 0h0m0 0h0m0 0h0m-5 1h0m0 0h0m1 0h0m0 0h0m0 0h0m0 0h0m2 0h0m1 0h0m1 0h0m0 0h0m0 0h0m0 0h0m0 0h0m0 0h0m0 0h0m-4 1h0m4 0h0m-7 2h0m0 0h0m1 0h0m0 0h0m0 0h0m3 0h0m1 0h0m-5 1h0m0 0h0m0 0h0m0 0h0m1 0h0m0 0h0m3 0h0m0 0h0m-4 1h0m1 0h0m1 0h0m0 0h0m0 0h0m1 0h0m1 0h0m0 0h0m-4 1h0m0 0h0m0 0h0m1 0h0m0 0h0m0 0h0m1 0h0m0 0h0m1 0h0m0 0h0m-4 1h0m1 0h0m0 0h0m0 0h0m1 0h0m0 0h0m0 0h0m0 0h0m1 0h0m0 0h0m1 0h0m-3 1h0m0 0h0m0 0h0m1 0h0m0 0h0m0 0h0m0 0h0m0 0h0m1 0h0m0 0h0m0 0h0m0 0h0m0 0h0m1 0h0m-2 1h0" stroke="rgb(51, 232, 57)" stroke-width="2.4" stroke-linecap="square" fill="none"/>
<path transform="scale(0.5)" d="M848 451h0m0 0h0m1 0h0m0 0h0m1 0h0m0 0h0m-2 1h0m1 0h0m0 0h0m0 0h0m0 0h0m1 0h0m-4 1h0m1 0h0m0 0h0m0 0h0m1 0h0m0 0h0m0 0h0m0 0h0m1 0h0m0 0h0m0 0h0m0 0h0m0 0h0m0 0h0m1 0h0m-3 1h0m0 0h0m0 0h0m0 0h0m0 0h0m1 0h0m0 0h0m0 0h0m0 0h0m1 0h0m0 0h0m1 0h0m-3 1h0m1 0h0m0 0h0m0 0h0m-1 1h0m0 0h0m1 0h0m0 0h0m0 0h0m-2 1h0m1 0h0m0 0h0" stroke="rgb(78, 233, 52)" stroke-width="2.4" stroke-linecap="square" fill="none"/>
</g>
<rect x="381.20" y="197.30" width="64.10" height="63.50" fill="none" stroke="#aaa" stroke-width="0.7"/>
<line x1="425.1" y1="197.3" x2="425.1" y2="260.8" stroke="#4858d8" stroke-width="0.9"/>
<line x1="381.2" y1="226.8" x2="445.3" y2="226.8" stroke="#4858d8" stroke-width="0.9"/>
<text x="383.7" y="204.8" font-size="7" fill="#000">5.1</text>
<text x="426.1" y="204.8" font-size="7" fill="#000">31.3</text>
<text x="383.7" y="258.6" font-size="7" fill="#000">51.3</text>
<text x="426.1" y="258.6" font-size="7" fill="#000">12.3</text>
<g filter="url(#bl)">
<path transform="scale(0.5)" d="M1016 510h0m-58 7h0m48 0h0" stroke="rgb(102, 127, 238)" stroke-width="2.4" stroke-linecap="square" fill="none"/>
<path transform="scale(0.5)" d="M1011 408h0m-4 2h0m-6 2h0m10 1h0m-24 2h0m9 2h0m23 38h0m-5 15h0m2 8h0m-56 6h0m52 0h0m1 4h0m-25 3h0m19 4h0m-23 1h0m-21 2h0m7 0h0m26 3h0m5 1h0m-37 2h0m8 0h0m35 0h0m-30 1h0m0 3h0" stroke="rgb(85, 115, 236)" stroke-width="2.4" stroke-linecap="square" fill="none"/>
<path transform="scale(0.5)" d="M1001 416h0m-5 3h0m15 0h0m3 1h0m-3 1h0m-21 3h0m22 2h0m4 1h0m-1 2h0m2 0h0m-33 3h0m30 0h0m2 15h0m-2 1h0m-39 1h0m42 0h0m-1 12h0m-52 1h0m46 13h0m1 2h0m-17 6h0m12 0h0m-16 1h0m7 1h0m-33 2h0m28 0h0m14 0h0m0 0h0m-16 1h0m0 1h0m-25 1h0m33 0h0m6 0h0m-32 1h0m27 1h0m6 1h0m-30 2h0m25 0h0m-1 2h0m-27 1h0m33 0h0m-5 1h0" stroke="rgb(68, 102, 234)" stroke-width="2.4" stroke-linecap="square" fill="none"/>
<path transform="scale(0.5)" d="M1004 419h0m-7 1h0m2 0h0m3 2h0m1 0h0m5 0h0m0 1h0m1 1h0m-7 1h0m-13 1h0m17 1h0m1 2h0m1 0h0m-19 1h0m21 0h0m-26 3h0m-1 1h0m7 0h0m21 0h0m-24 1h0m-3 1h0m-5 1h0m2 0h0m-2 3h0m33 0h0m-1 2h0m1 3h0m-34 1h0m-1 4h0m36 2h0m-46 5h0m43 0h0m-42 1h0m42 2h0m1 0h0m-2 3h0m1 1h0m-1 3h0m-2 1h0m-46 1h0m46 4h0m3 2h0m-15 1h0m11 2h0m-13 1h0m4 0h0m2 0h0m7 0h0m-15 1h0m8 0h0m5 1h0m-5 1h0m5 0h0m-30 9h0m3 1h0" stroke="rgb(51, 90, 232)" stroke-width="2.4" stroke-linecap="square" fill="none"/>
<path transform="scale(0.5)" d="M995 423h0m2 0h0m1 1h0m-5 1h0m9 0h0m-9 1h0m3 0h0m3 0h0m-1 1h0m4 0h0m-11 1h0m1 0h0m5 0h0m4 0h0m0 4h0m8 2h0m-19 3h0m-3 1h0m22 0h0m1 0h0m-29 2h0m3 0h0m4 0h0m-6 1h0m1 0h0m1 0h0m-3 1h0m-1 3h0m1 0h0m-1 1h0m26 2h0m2 2h0m-1 1h0m4 0h0m-33 1h0m32 2h0m1 0h0m1 0h0m-3 1h0m1 0h0m-40 5h0m0 0h0m33 1h0m0 1h0m1 1h0m2 2h0m-1 1h0m-41 1h0m41 3h0m1 1h0m-11 3h0m8 0h0m-12 1h0m9 0h0m4 0h0m-2 1h0m-14 3h0m-2 1h0m-2 1h0m-21 1h0m4 4h0m2 0h0m3 0h0m1 2h0m6 0h0m-3 2h0" stroke="rgb(44, 94, 233)" stroke-width="2.4" stroke-linecap="square" fill="none"/>
<path transform="scale(0.5)" d="M993 430h0m2 0h0m1 0h0m-4 1h0m5 0h0m-4 1h0m0 0h0m1 1h0m4 0h0m2 0h0m2 0h0m3 0h0m-11 1h0m10 0h0m1 0h0m1 0h0m-3 2h0m3 0h0m1 0h0m0 0h0m-2 2h0m2 1h0m0 2h0m1 1h0m-21 1h0m3 0h0m15 0h0m-20 1h0m22 0h0m-23 1h0m5 0h0m17 0h0m-20 2h0m-3 1h0m23 0h0m-6 2h0m1 1h0m-21 1h0m26 0h0m-1 1h0m-5 1h0m6 0h0m-6 1h0m3 0h0m0 0h0m3 0h0m-1 1h0m2 0h0m-33 1h0m0 0h0m27 0h0m5 0h0m-3 2h0m-4 2h0m2 1h0m-2 1h0m1 0h0m-1 1h0m0 1h0m1 1h0m-2 1h0m4 0h0m-8 2h0m6 0h0m0 0h0m0 0h0m-3 1h0m5 0h0m-11 1h0m10 0h0m-2 1h0m0 0h0m1 0h0m3 0h0m0 0h0m-40 2h0m23 6h0m-20 2h0m1 1h0m12 0h0m0 1h0m-3 1h0m2 0h0m0 0h0m0 0h0m-4 1h0m1 1h0m0 1h0m3 0h0m-2 1h0" stroke="rgb(43, 111, 235)" stroke-width="2.4" stroke-linecap="square" fill="none"/>
<path transform="scale(0.5)" d="M996 435h0m4 0h0m0 1h0m-7 1h0m2 0h0m1 0h0m8 0h0m-2 1h0m3 1h0m-12 1h0m1 0h0m12 0h0m-14 1h0m12 0h0m-13 1h0m1 0h0m12 0h0m1 0h0m-14 1h0m13 0h0m-13 2h0m4 0h0m4 0h0m1 0h0m2 0h0m1 0h0m0 0h0m-10 1h0m0 0h0m2 0h0m1 0h0m5 0h0m3 0h0m-15 1h0m2 0h0m6 0h0m2 0h0m3 0h0m-15 1h0m1 0h0m7 0h0m5 0h0m-16 1h0m0 0h0m1 0h0m1 0h0m0 0h0m1 0h0m5 0h0m1 1h0m-2 1h0m5 0h0m1 0h0m-4 1h0m4 0h0m-14 1h0m12 0h0m2 0h0m-17 1h0m17 0h0m1 0h0m-3 1h0m4 0h0m-4 1h0m4 0h0m1 0h0m-25 2h0m22 0h0m1 0h0m-3 1h0m0 0h0m-22 1h0m-3 1h0m24 0h0m2 0h0m0 0h0m0 1h0m2 0h0m-4 2h0m1 0h0m-4 1h0m1 0h0m2 0h0m1 0h0m0 0h0m3 1h0m-7 1h0m3 1h0m-5 4h0m1 0h0m-3 4h0m1 0h0m-24 1h0m2 1h0m-1 1h0m19 1h0m-16 1h0m0 0h0m13 0h0m-11 1h0m5 2h0" stroke="rgb(41, 127, 237)" stroke-width="2.4" stroke-linecap="square" fill="none"/>
<path transform="scale(0.5)" d="M1000 437h0m0 0h0m-2 1h0m0 0h0m-3 1h0m2 0h0m1 0h0m1 0h0m0 0h0m-3 1h0m0 0h0m2 0h0m2 0h0m2 1h0m-9 1h0m2 0h0m1 0h0m2 0h0m1 0h0m1 0h0m1 0h0m-5 1h0m-1 1h0m0 0h0m5 0h0m-13 8h0m0 0h0m-6 1h0m1 0h0m3 0h0m4 0h0m1 0h0m2 0h0m1 0h0m0 0h0m2 0h0m-14 1h0m2 0h0m3 0h0m1 0h0m3 0h0m4 0h0m1 0h0m-16 1h0m0 0h0m2 0h0m0 0h0m0 0h0m1 0h0m9 0h0m-12 1h0m3 0h0m12 0h0m-14 1h0m-2 1h0m0 0h0m1 0h0m13 2h0m0 0h0m0 0h0m-3 1h0m-17 1h0m15 0h0m0 0h0m2 0h0m0 0h0m1 0h0m-1 2h0m-21 1h0m-1 1h0m23 0h0m-1 1h0m1 0h0m-25 2h0m24 0h0m-24 1h0m24 0h0m0 0h0m1 0h0m0 0h0m-24 1h0m0 1h0m0 1h0m0 2h0m20 3h0m-19 1h0m14 0h0m-14 1h0m4 1h0m1 0h0m0 0h0m3 0h0m2 0h0m1 1h0" stroke="rgb(40, 143, 239)" stroke-width="2.4" stroke-linecap="square" fill="none"/>
<path transform="scale(0.5)" d="M986 455h0m1 0h0m2 0h0m1 0h0m-5 1h0m1 0h0m2 0h0m1 0h0m-6 1h0m5 0h0m-2 1h0m1 0h0m2 0h0m0 0h0m-7 1h0m1 0h0m1 0h0m0 0h0m3 0h0m1 0h0m0 0h0m-11 1h0m1 0h0m0 0h0m3 0h0m6 0h0m-10 1h0m9 0h0m0 2h0m-2 1h0m1 0h0m2 4h0m1 0h0m-1 2h0m0 1h0m-20 4h0m18 0h0m0 0h0m-18 2h0m1 0h0m0 0h0m16 0h0m-16 1h0m1 1h0m0 1h0m2 0h0" stroke="rgb(42, 163, 231)" stroke-width="2.4" stroke-linecap="square" fill="none"/>
<path transform="scale(0.5)" d="M982 461h0m0 0h0m2 1h0m-12 1h0m0 0h0m13 2h0m-15 1h0m15 1h0m-18 1h0m18 0h0m-18 1h0m1 1h0m16 0h0m1 0h0m1 1h0m-19 2h0m1 0h0m0 0h0m17 0h0m-1 1h0m1 0h0m1 0h0m-4 1h0m1 0h0m-13 2h0m13 0h0m-2 1h0m-7 1h0m0 0h0m4 0h0m2 0h0m-7 1h0m6 1h0" stroke="rgb(45, 187, 217)" stroke-width="2.4" stroke-linecap="square" fill="none"/>
<path transform="scale(0.5)" d="M978 461h0m1 0h0m-2 1h0m3 0h0m-12 10h0m1 3h0m1 1h0m1 1h0m0 1h0" stroke="rgb(49, 210, 202)" stroke-width="2.4" stroke-linecap="square" fill="none"/>
<path transform="scale(0.5)" d="M974 463h0m7 0h0m0 0h0m1 0h0m-9 1h0m8 0h0m0 0h0m2 1h0m1 0h0m0 0h0m0 1h0m-15 1h0m14 0h0m-14 1h0m0 0h0m13 0h0m1 0h0m1 0h0m-1 1h0m0 1h0m-14 3h0m15 0h0m-15 1h0m0 0h0m0 1h0m11 0h0m2 0h0m2 0h0m0 0h0m-3 1h0m-8 1h0m6 0h0m0 1h0m1 1h0" stroke="rgb(46, 220, 153)" stroke-width="2.4" stroke-linecap="square" fill="none"/>
<path transform="scale(0.5)" d="M975 463h0m3 0h0m0 0h0m1 0h0m-4 1h0m1 0h0m0 0h0m2 0h0m1 0h0m-7 1h0m3 0h0m3 0h0m3 0h0m0 0h0m-10 1h0m1 0h0m9 0h0m1 0h0m-13 3h0m1 0h0m-1 1h0m0 0h0m0 0h0m0 0h0m1 0h0m0 0h0m-1 1h0m-1 1h0m2 0h0m2 3h0m3 2h0m0 0h0m1 0h0m1 0h0m1 0h0m0 0h0m-2 1h0m1 0h0m1 0h0m-2 1h0" stroke="rgb(42, 227, 95)" stroke-width="2.4" stroke-linecap="square" fill="none"/>
<path transform="scale(0.5)" d="M979 465h0m-1 1h0m1 0h0m0 0h0m1 0h0m0 0h0m0 0h0m-8 1h0m-1 1h0m1 0h0m9 0h0m0 0h0m0 0h0m1 0h0m0 0h0m0 0h0m-2 3h0m1 0h0m1 0h0m-1 1h0m0 0h0m1 0h0m-11 1h0m1 0h0m9 0h0m1 0h0m0 0h0m0 0h0m0 0h0m-11 1h0m0 0h0m1 0h0m9 0h0m-9 1h0m0 0h0m6 0h0m1 0h0m0 0h0m-6 1h0m1 0h0m0 0h0" stroke="rgb(51, 232, 57)" stroke-width="2.4" stroke-linecap="square" fill="none"/>
<path transform="scale(0.5)" d="M973 465h0m1 0h0m0 0h0m0 0h0m0 0h0m0 0h0m1 0h0m1 0h0m0 0h0m2 0h0m-5 1h0m0 0h0m0 0h0m2 0h0m0 0h0m1 0h0m1 0h0m1 0h0m-4 1h0m0 0h0m-3 2h0m0 0h0m1 0h0m0 0h0m0 0h0m9 0h0m0 0h0m1 0h0m0 0h0m0 0h0m-10 1h0m0 0h0m0 0h0m9 0h0m-10 2h0m0 0h0m1 0h0m0 0h0m3 3h0m0 0h0m0 0h0m0 0h0m1 0h0m1 0h0m1 0h0m0 0h0m-3 1h0m2 0h0m0 0h0m0 0h0m0 0h0m1 0h0m0 0h0" stroke="rgb(78, 233, 52)" stroke-width="2.4" stroke-linecap="square" fill="none"/>
<path transform="scale(0.5)" d="M974 467h0m0 0h0m5 0h0m0 0h0m-6 1h0m1 0h0m5 0h0m1 0h0m0 0h0m-1 3h0m0 0h0m0 0h0m1 0h0m0 0h0m0 1h0m-7 1h0m0 0h0m1 0h0m0 0h0m0 0h0m5 0h0m-6 1h0" stroke="rgb(106, 234, 46)" stroke-width="2.4" stroke-linecap="square" fill="none"/>
<path transform="scale(0.5)" d="M974 467h0m0 0h0m1 0h0m1 0h0m1 0h0m1 0h0m-3 1h0m1 0h0m0 0h0m0 0h0m0 0h0m0 0h0m1 0h0m0 0h0m0 0h0m1 0h0m-5 1h0m0 0h0m0 0h0m1 0h0m1 0h0m-2 1h0m1 0h0m6 0h0m0 0h0m-7 2h0m0 0h0m1 0h0m0 0h0m0 0h0m1 1h0m0 0h0m1 0h0m2 0h0m0 0h0m-3 1h0m0 0h0m0 0h0m1 0h0m1 0h0m0 0h0m0 0h0m0 0h0m1 0h0m0 0h0m0 0h0m0 0h0m0 0h0" stroke="rgb(134, 234, 41)" stroke-width="2.4" stroke-linecap="square" fill="none"/>
<path transform="scale(0.5)" d="M974 469h0m1 0h0m1 0h0m0 0h0m1 0h0m1 0h0m-4 1h0m1 0h0m0 0h0m0 0h0m0 0h0m1 0h0m1 0h0m0 0h0m1 0h0m0 0h0m0 0h0m-3 1h0m0 0h0m1 0h0m1 0h0m0 0h0m0 0h0m1 0h0m0 0h0m0 0h0m0 0h0m0 0h0m-4 1h0m1 0h0m0 0h0m0 0h0m1 0h0m1 0h0m0 0h0m1 0h0m0 0h0m-1 1h0" stroke="rgb(190, 232, 29)" stroke-width="2.4" stroke-linecap="square" fill="none"/>
</g>
<rect x="451.20" y="197.30" width="62.80" height="63.50" fill="none" stroke="#aaa" stroke-width="0.7"/>
<line x1="494.3" y1="197.3" x2="494.3" y2="260.8" stroke="#4858d8" stroke-width="0.9"/>
<line x1="451.2" y1="226.8" x2="514" y2="226.8" stroke="#4858d8" stroke-width="0.9"/>
<text x="453.7" y="204.8" font-size="7" fill="#000">8.2</text>
<text x="495.3" y="204.8" font-size="7" fill="#000">14.2</text>
<text x="453.7" y="258.6" font-size="7" fill="#000">67.2</text>
<text x="495.3" y="258.6" font-size="7" fill="#000">10.4</text>
<text x="307.7" y="199.3" font-size="4.0" font-weight="bold" text-anchor="end" fill="#000">1000</text>
<text x="307.7" y="211.9" font-size="4.0" font-weight="bold" text-anchor="end" fill="#000">800</text>
<text x="307.7" y="224.5" font-size="4.0" font-weight="bold" text-anchor="end" fill="#000">600</text>
<text x="307.7" y="237.10000000000002" font-size="4.0" font-weight="bold" text-anchor="end" fill="#000">400</text>
<text x="307.7" y="249.70000000000002" font-size="4.0" font-weight="bold" text-anchor="end" fill="#000">200</text>
<text x="307.7" y="262.3" font-size="4.0" font-weight="bold" text-anchor="end" fill="#000">0</text>
<g filter="url(#bl)">
<path transform="scale(0.5)" d="M741 553h0m-11 74h0m4 1h0m-33 9h0m18 5h0m-8 1h0" stroke="rgb(102, 127, 238)" stroke-width="2.4" stroke-linecap="square" fill="none"/>
<path transform="scale(0.5)" d="M743 556h0m5 1h0m-13 1h0m13 1h0m2 8h0m-43 43h0m-2 8h0m-4 4h0m26 9h0m-20 1h0m3 0h0m-4 1h0m11 0h0m5 0h0m1 0h0m-16 4h0m11 0h0m-10 1h0m15 2h0m1 1h0" stroke="rgb(85, 115, 236)" stroke-width="2.4" stroke-linecap="square" fill="none"/>
<path transform="scale(0.5)" d="M737 560h0m-2 2h0m0 0h0m8 0h0m-1 1h0m6 1h0m-2 3h0m-21 8h0m22 6h0m-3 11h0m-35 18h0m-2 8h0m-1 4h0m16 1h0m-15 1h0m0 0h0m13 0h0m-14 1h0m-1 1h0m6 2h0m6 0h0m-11 1h0m6 1h0m5 0h0" stroke="rgb(68, 102, 234)" stroke-width="2.4" stroke-linecap="square" fill="none"/>
<path transform="scale(0.5)" d="M733 564h0m9 1h0m-13 1h0m14 0h0m2 0h0m-17 2h0m19 1h0m0 3h0m1 3h0m-2 4h0m-32 14h0m-2 4h0m-1 8h0m21 3h0m-7 10h0m0 1h0m-7 6h0m0 0h0m1 0h0m-7 1h0m1 0h0m-1 1h0" stroke="rgb(51, 90, 232)" stroke-width="2.4" stroke-linecap="square" fill="none"/>
<path transform="scale(0.5)" d="M733 567h0m-3 1h0m0 1h0m1 2h0m0 0h0m13 0h0m2 2h0m0 0h0m1 1h0m0 1h0m-22 3h0m-5 6h0m1 2h0m22 5h0m-29 5h0m1 0h0m-2 4h0m0 0h0m23 0h0m-24 4h0m22 0h0m-21 8h0m16 0h0m-3 2h0m-14 1h0m-1 1h0m-1 1h0m3 0h0m-3 1h0m1 0h0m0 0h0m11 0h0m-11 1h0m10 0h0m-9 2h0m0 1h0m0 0h0m4 0h0m-5 1h0m0 0h0m3 0h0m3 0h0m-7 1h0m4 0h0m1 0h0m1 1h0" stroke="rgb(44, 94, 233)" stroke-width="2.4" stroke-linecap="square" fill="none"/>
<path transform="scale(0.5)" d="M737 566h0m3 0h0m1 0h0m-5 1h0m4 0h0m-6 1h0m1 0h0m0 0h0m7 0h0m-7 1h0m-7 5h0m16 0h0m1 0h0m-1 3h0m-19 3h0m17 0h0m1 0h0m-1 1h0m-25 11h0m21 4h0m-4 6h0m-6 8h0m1 0h0m-1 1h0m0 1h0m-14 2h0m10 1h0m1 0h0m-5 1h0m2 0h0m-8 1h0m6 0h0m-6 1h0m0 0h0m5 0h0m-2 1h0m0 0h0m1 0h0m-3 1h0m2 0h0m0 0h0m0 0h0m0 1h0" stroke="rgb(43, 111, 235)" stroke-width="2.4" stroke-linecap="square" fill="none"/>
<path transform="scale(0.5)" d="M738 568h0m0 0h0m0 0h0m2 0h0m-4 1h0m3 0h0m0 0h0m0 0h0m1 1h0m0 0h0m-7 1h0m2 0h0m4 0h0m2 1h0m1 0h0m1 1h0m-12 1h0m11 0h0m0 0h0m1 0h0m-13 1h0m1 0h0m11 0h0m-13 1h0m13 1h0m-16 1h0m16 0h0m-16 1h0m-3 3h0m-3 6h0m1 0h0m0 1h0m0 0h0m0 0h0m19 1h0m-5 10h0m-21 1h0m0 1h0m1 0h0m0 0h0m-1 3h0m1 1h0m15 0h0m0 1h0m-16 1h0m1 0h0m0 0h0m-2 1h0m2 2h0m0 0h0m1 3h0m1 0h0m0 0h0m5 0h0m-6 1h0m6 0h0m-6 2h0m1 0h0" stroke="rgb(41, 127, 237)" stroke-width="2.4" stroke-linecap="square" fill="none"/>
<path transform="scale(0.5)" d="M738 570h0m-2 1h0m0 0h0m1 0h0m2 0h0m1 1h0m1 0h0m-1 2h0m1 0h0m-1 1h0m0 1h0m0 3h0m-13 1h0m13 0h0m-13 1h0m13 0h0m0 1h0m1 0h0m-19 4h0m18 0h0m-18 1h0m18 0h0m1 0h0m0 0h0m0 2h0m-3 3h0m-19 1h0m19 0h0m0 0h0m-22 3h0m20 1h0m1 0h0m0 0h0m-20 3h0m0 1h0m0 1h0m16 0h0m0 0h0m-5 6h0m-1 3h0m0 0h0m-10 1h0m-1 1h0m1 0h0m6 0h0m2 0h0m-4 1h0m-3 1h0m0 0h0m2 0h0" stroke="rgb(40, 143, 239)" stroke-width="2.4" stroke-linecap="square" fill="none"/>
<path transform="scale(0.5)" d="M734 572h0m1 0h0m2 0h0m2 0h0m-5 1h0m0 0h0m1 0h0m0 0h0m1 0h0m0 0h0m1 0h0m0 0h0m1 0h0m0 0h0m1 1h0m-7 1h0m1 0h0m0 0h0m5 0h0m1 0h0m-9 2h0m-1 1h0m0 0h0m-4 6h0m15 0h0m-1 1h0m0 0h0m2 0h0m-20 4h0m1 0h0m1 0h0m-3 1h0m19 0h0m-19 1h0m-3 3h0m2 0h0m0 0h0m16 0h0m1 0h0m-17 1h0m17 0h0m-18 1h0m19 0h0m-2 3h0m-19 3h0m0 0h0m0 0h0m1 1h0m14 1h0m-15 1h0m1 0h0m-1 1h0m1 0h0m12 0h0m-12 1h0m0 0h0m-1 1h0m1 0h0m10 0h0m-11 2h0m0 1h0m8 0h0m0 0h0m-4 1h0m-3 1h0m2 0h0m0 0h0m2 0h0m-3 1h0" stroke="rgb(42, 163, 231)" stroke-width="2.4" stroke-linecap="square" fill="none"/>
<path transform="scale(0.5)" d="M736 574h0m1 0h0m-3 1h0m1 0h0m0 0h0m-2 1h0m0 0h0m3 0h0m0 0h0m1 0h0m1 0h0m0 0h0m-6 1h0m1 0h0m0 0h0m3 0h0m0 0h0m1 0h0m1 0h0m1 0h0m-8 1h0m8 0h0m0 0h0m0 0h0m-9 1h0m0 0h0m1 0h0m7 0h0m-10 1h0m3 0h0m8 0h0m-12 1h0m12 0h0m-13 1h0m12 0h0m-12 1h0m0 0h0m0 0h0m0 0h0m1 0h0m-3 3h0m1 0h0m12 0h0m1 0h0m-14 1h0m13 0h0m1 0h0m0 0h0m1 0h0m-1 1h0m0 0h0m1 0h0m-1 1h0m0 0h0m-18 4h0m1 0h0m16 0h0m-19 3h0m1 0h0m0 0h0m0 1h0m-1 1h0m0 1h0m0 0h0m14 1h0m0 1h0m-14 9h0m0 0h0m1 0h0m2 0h0m1 0h0m0 0h0m1 0h0m0 0h0m0 0h0m-5 1h0m1 0h0m0 0h0m4 0h0" stroke="rgb(45, 187, 217)" stroke-width="2.4" stroke-linecap="square" fill="none"/>
<path transform="scale(0.5)" d="M734 576h0m0 0h0m0 0h0m0 0h0m1 0h0m0 1h0m-4 1h0m1 0h0m3 0h0m1 0h0m0 0h0m1 0h0m-4 1h0m3 0h0m2 3h0m0 1h0m1 0h0m-13 1h0m0 0h0m0 0h0m1 0h0m12 0h0m0 0h0m0 0h0m-12 1h0m11 0h0m1 0h0m0 0h0m-14 4h0m-3 1h0m1 0h0m0 0h0m0 0h0m12 0h0m1 0h0m0 0h0m1 0h0m-15 1h0m-2 3h0m0 0h0m0 0h0m1 0h0m0 0h0m0 1h0m0 0h0m0 0h0m0 1h0m0 0h0m14 0h0m-17 4h0m0 0h0m0 0h0m0 0h0m0 2h0m0 0h0m1 0h0m11 0h0m0 0h0m-12 1h0m1 0h0m12 0h0m-12 2h0m10 0h0m0 0h0m-11 1h0m1 0h0m7 0h0m1 0h0m1 0h0m-10 1h0m0 0h0m1 0h0m7 0h0m-9 1h0m1 0h0m0 0h0m0 0h0m0 1h0m0 0h0m0 0h0m1 0h0m0 0h0m5 0h0m-4 1h0m1 0h0m-1 1h0m1 0h0m0 0h0m0 0h0" stroke="rgb(49, 210, 202)" stroke-width="2.4" stroke-linecap="square" fill="none"/>
<path transform="scale(0.5)" d="M734 578h0m0 0h0m0 1h0m0 0h0m0 0h0m0 0h0m1 0h0m-5 1h0m1 0h0m1 0h0m1 0h0m0 0h0m1 0h0m1 0h0m1 0h0m1 0h0m0 0h0m0 0h0m-7 1h0m0 0h0m0 0h0m1 0h0m0 0h0m1 0h0m2 0h0m0 0h0m1 0h0m0 0h0m1 0h0m0 0h0m0 0h0m0 0h0m1 0h0m-6 1h0m0 0h0m3 0h0m-5 1h0m7 0h0m0 0h0m0 0h0m1 0h0m-1 3h0m0 0h0m0 0h0m0 1h0m1 0h0m0 1h0m-1 1h0m0 0h0m1 0h0m-14 3h0m0 1h0m0 0h0m10 1h0m1 0h0m1 1h0m-15 1h0m0 0h0m0 1h0m0 0h0m0 0h0m1 0h0m11 1h0m-11 1h0m11 0h0m-2 1h0m0 0h0m1 0h0m0 1h0m-11 7h0m0 0h0m1 0h0m2 0h0m0 0h0m-3 1h0m0 0h0m0 0h0m2 0h0m0 0h0m1 0h0" stroke="rgb(46, 220, 153)" stroke-width="2.4" stroke-linecap="square" fill="none"/>
<path transform="scale(0.5)" d="M731 582h0m0 0h0m0 0h0m3 0h0m0 0h0m-5 1h0m1 0h0m0 0h0m0 0h0m1 0h0m4 0h0m0 0h0m-1 1h0m1 0h0m1 0h0m0 0h0m1 0h0m-10 1h0m1 0h0m1 0h0m0 0h0m8 0h0m-10 1h0m-1 1h0m0 0h0m1 0h0m-3 3h0m1 0h0m0 0h0m9 0h0m1 0h0m0 0h0m-11 1h0m1 0h0m0 0h0m0 0h0m9 0h0m0 0h0m0 1h0m0 0h0m1 0h0m-1 1h0m0 0h0m-12 1h0m1 0h0m11 0h0m-11 1h0m-1 1h0m0 0h0m1 0h0m8 0h0m1 0h0m0 0h0m0 0h0m0 0h0m0 0h0m1 0h0m-2 1h0m1 0h0m0 0h0m0 0h0m1 0h0m-1 1h0m-12 3h0m0 1h0m0 0h0m1 0h0m7 0h0m-8 1h0m1 0h0m7 0h0m0 0h0m0 0h0m-8 1h0m0 0h0m1 0h0m0 0h0m5 0h0m0 0h0m1 0h0m0 0h0m-7 1h0m6 0h0m1 0h0m-7 1h0m1 0h0m1 0h0m0 0h0m1 0h0m1 0h0m0 0h0m1 0h0m0 0h0m0 0h0m0 0h0m1 0h0m1 0h0m-8 1h0m1 0h0m0 0h0m0 0h0m1 0h0m0 0h0m1 0h0m0 0h0m0 0h0m0 0h0m1 0h0m0 0h0m0 0h0m0 0h0m0 0h0m0 0h0m1 0h0m0 0h0m1 0h0m0 0h0" stroke="rgb(42, 227, 95)" stroke-width="2.4" stroke-linecap="square" fill="none"/>
<path transform="scale(0.5)" d="M732 582h0m0 0h0m0 0h0m1 0h0m0 0h0m0 0h0m-1 1h0m1 0h0m-3 1h0m1 0h0m0 0h0m0 0h0m3 0h0m0 0h0m1 0h0m0 0h0m-5 1h0m0 0h0m0 0h0m1 0h0m3 0h0m0 0h0m0 0h0m0 0h0m1 0h0m-1 1h0m0 0h0m1 0h0m-1 1h0m0 0h0m1 0h0m0 0h0m0 0h0m-8 1h0m7 0h0m0 0h0m0 0h0m0 0h0m0 0h0m-8 1h0m0 0h0m8 0h0m1 0h0m0 0h0m0 0h0m-12 4h0m2 0h0m0 0h0m6 1h0m1 0h0m1 0h0m-1 1h0m1 0h0m-11 1h0m1 0h0m9 0h0m-10 1h0m0 0h0m0 0h0m1 0h0m6 2h0m1 0h0m0 0h0m0 0h0m0 0h0m1 0h0m-3 1h0m1 0h0m0 0h0m-1 1h0m0 0h0m0 0h0m0 0h0m-6 1h0m0 0h0m1 0h0m0 0h0m0 0h0m0 0h0m0 0h0m2 0h0m1 0h0m0 0h0m0 0h0m0 0h0m0 0h0m0 0h0m1 0h0m-5 1h0m0 0h0m1 0h0m0 0h0m0 0h0m0 0h0m3 0h0m0 0h0m0 0h0m1 0h0m0 0h0m0 0h0m-6 1h0m0 0h0m1 0h0m0 0h0m0 0h0m1 0h0m0 0h0m0 0h0m1 0h0m0 0h0m1 0h0m1 0h0m-4 1h0m0 0h0m1 0h0m1 0h0m0 0h0m1 0h0" stroke="rgb(51, 232, 57)" stroke-width="2.4" stroke-linecap="square" fill="none"/>
<path transform="scale(0.5)" d="M732 584h0m1 0h0m-1 1h0m0 0h0m0 0h0m0 0h0m1 0h0m-5 1h0m0 0h0m0 0h0m0 0h0m4 0h0m0 0h0m0 0h0m0 0h0m1 0h0m0 0h0m0 0h0m0 0h0m-5 1h0m0 0h0m0 0h0m1 0h0m0 0h0m3 0h0m0 0h0m0 0h0m0 0h0m1 0h0m0 0h0m-5 1h0m-2 2h0m1 0h0m0 0h0m5 0h0m0 0h0m1 0h0m0 0h0m-7 1h0m0 0h0m1 0h0m4 0h0m1 0h0m-1 1h0m0 0h0m1 0h0m0 0h0m1 0h0m0 0h0m0 1h0m0 0h0m-8 1h0m8 0h0m-9 1h0m0 0h0m0 0h0m1 0h0m0 0h0m0 0h0m5 1h0m0 0h0m0 0h0m1 0h0m0 0h0m0 0h0m0 0h0m-1 1h0m0 0h0m1 0h0m0 0h0m0 0h0m-9 1h0m1 0h0m0 0h0m0 0h0m0 0h0m0 0h0m-1 1h0m0 0h0m1 0h0m-1 1h0m0 0h0m1 0h0m0 0h0m-2 1h0m1 0h0m0 0h0m1 0h0m0 0h0m0 0h0m0 0h0m2 1h0m0 0h0m0 0h0m-1 1h0m1 0h0" stroke="rgb(78, 233, 52)" stroke-width="2.4" stroke-linecap="square" fill="none"/>
<path transform="scale(0.5)" d="M731 586h0m0 0h0m0 0h0m-1 1h0m0 0h0m1 0h0m0 0h0m-3 1h0m0 0h0m0 0h0m0 0h0m0 0h0m0 0h0m1 0h0m0 0h0m0 0h0m1 0h0m0 0h0m0 0h0m0 0h0m1 0h0m0 0h0m0 0h0m0 0h0m0 0h0m0 0h0m2 0h0m-5 1h0m0 0h0m0 0h0m0 0h0m1 0h0m0 0h0m0 0h0m0 0h0m1 0h0m0 0h0m0 0h0m0 0h0m0 0h0m0 0h0m1 0h0m0 0h0m-3 1h0m0 0h0m0 0h0m1 0h0m0 0h0m0 0h0m0 0h0m1 0h0m3 0h0m0 0h0m-5 1h0m0 0h0m0 0h0m0 0h0m1 0h0m0 0h0m-1 1h0m-2 1h0m0 1h0m0 0h0m0 0h0m1 0h0m0 0h0m0 0h0m0 0h0m-1 1h0m0 0h0m0 0h0m1 0h0m0 0h0m0 0h0m0 0h0m2 0h0m1 0h0m0 0h0m1 0h0m-7 1h0m0 0h0m1 0h0m0 0h0m0 0h0m0 0h0m0 0h0m2 0h0m1 0h0m0 0h0m0 0h0m0 0h0m0 0h0m1 0h0m-5 1h0m0 0h0m1 0h0m0 0h0m3 0h0m0 0h0m0 0h0m0 0h0m1 0h0m-5 1h0m1 0h0m0 0h0m0 0h0m0 0h0m0 0h0m1 0h0m0 0h0m1 0h0m0 0h0m0 0h0m1 0h0m0 0h0m0 0h0m0 0h0m1 0h0m0 0h0m-5 1h0m0 0h0m0 0h0m1 0h0m1 0h0m0 0h0m0 0h0m1 0h0m0 0h0m0 0h0m1 0h0m0 0h0m0 0h0m-5 1h0m1 0h0m1 0h0m0 0h0m1 0h0m0 0h0m0 0h0m0 0h0m1 0h0m0 0h0m0 0h0m-3 1h0m0 0h0m0 0h0m1 0h0m0 0h0m0 0h0m1 0h0m0 0h0m0 0h0m1 0h0m-3 1h0" stroke="rgb(106, 234, 46)" stroke-width="2.4" stroke-linecap="square" fill="none"/>
<path transform="scale(0.5)" d="M729 590h0m1 0h0m0 0h0m0 0h0m0 0h0m0 1h0m0 0h0m0 0h0m0 0h0m1 0h0m0 0h0m0 0h0m0 0h0m0 0h0m-4 1h0m1 0h0m0 0h0m1 0h0m0 0h0m1 0h0m0 0h0m1 0h0m0 0h0m0 0h0m0 0h0m0 0h0m0 0h0m-3 1h0m0 0h0m0 0h0m0 0h0m0 0h0m1 0h0m0 0h0m0 0h0m0 0h0m1 0h0m0 0h0m0 0h0m1 0h0m0 0h0m0 0h0m-3 1h0m0 0h0m0 0h0m1 0h0m0 0h0m1 0h0m-3 1h0m1 0h0m0 0h0m0 0h0m0 0h0m0 0h0m0 0h0m1 0h0m0 0h0m0 0h0m-3 1h0m0 0h0m0 0h0m1 0h0m0 0h0m0 0h0m0 0h0m0 0h0m0 0h0m0 1h0m0 0h0m0 0h0" stroke="rgb(134, 234, 41)" stroke-width="2.4" stroke-linecap="square" fill="none"/>
</g>
<rect x="312.70" y="272.80" width="63.50" height="63.10" fill="none" stroke="#aaa" stroke-width="0.7"/>
<line x1="355.4" y1="272.8" x2="355.4" y2="335.9" stroke="#4858d8" stroke-width="0.9"/>
<line x1="312.7" y1="301.5" x2="376.2" y2="301.5" stroke="#4858d8" stroke-width="0.9"/>
<text x="315.2" y="280.3" font-size="7" fill="#000">0.1</text>
<text x="356.4" y="280.3" font-size="7" fill="#000">69.5</text>
<text x="315.2" y="333.7" font-size="7" fill="#000">0.9</text>
<text x="356.4" y="333.7" font-size="7" fill="#000">29.5</text>
<g filter="url(#bl)">
<path transform="scale(0.5)" d="M877 606h0m-3 3h0m3 23h0m-41 1h0m-3 5h0m42 3h0m-19 2h0" stroke="rgb(102, 127, 238)" stroke-width="2.4" stroke-linecap="square" fill="none"/>
<path transform="scale(0.5)" d="M874 548h0m6 2h0m-1 5h0m-15 4h0m16 15h0m-44 37h0m29 2h0m2 1h0m6 2h0m4 0h0m-6 1h0m0 1h0m7 0h0m-44 2h0m26 2h0m0 1h0m-17 4h0m14 3h0m14 1h0m-4 2h0m-4 1h0m5 0h0m-10 5h0m7 0h0m3 0h0m-8 3h0" stroke="rgb(85, 115, 236)" stroke-width="2.4" stroke-linecap="square" fill="none"/>
<path transform="scale(0.5)" d="M873 550h0m1 0h0m-2 1h0m-1 2h0m2 0h0m1 1h0m4 8h0m-1 8h0m-1 1h0m1 2h0m-35 28h0m20 9h0m-3 1h0m-22 1h0m24 0h0m-2 2h0m5 1h0m-7 2h0m3 0h0m6 0h0m-13 1h0m9 0h0m-1 1h0m6 2h0m3 0h0m-34 1h0m1 0h0m4 0h0m9 0h0m-12 1h0m30 0h0m-30 1h0m2 0h0m1 0h0m29 0h0m-1 1h0m-5 1h0m2 0h0m1 0h0m2 0h0m-4 1h0m-5 1h0m0 0h0m7 0h0m-6 1h0m1 2h0" stroke="rgb(68, 102, 234)" stroke-width="2.4" stroke-linecap="square" fill="none"/>
<path transform="scale(0.5)" d="M874 557h0m-4 1h0m-5 3h0m11 0h0m0 2h0m-15 1h0m15 2h0m-1 1h0m-16 2h0m-2 1h0m16 12h0m-4 8h0m-28 16h0m0 1h0m-1 8h0m0 2h0m1 1h0m-2 1h0m2 0h0m11 0h0m-9 1h0m4 0h0m2 0h0" stroke="rgb(51, 90, 232)" stroke-width="2.4" stroke-linecap="square" fill="none"/>
<path transform="scale(0.5)" d="M869 559h0m2 0h0m-1 1h0m-3 1h0m7 0h0m0 0h0m-10 4h0m-2 3h0m-1 1h0m13 8h0m-5 11h0m-8 17h0m-19 5h0m-1 1h0m1 0h0m13 0h0m-13 1h0m0 1h0m0 0h0m9 3h0m0 0h0m-2 1h0m1 0h0m-7 1h0m2 0h0m0 0h0m-1 1h0m1 0h0" stroke="rgb(44, 94, 233)" stroke-width="2.4" stroke-linecap="square" fill="none"/>
<path transform="scale(0.5)" d="M871 560h0m1 0h0m0 0h0m-3 1h0m1 0h0m1 0h0m-2 1h0m2 0h0m-4 1h0m1 0h0m0 0h0m3 0h0m1 0h0m0 0h0m-4 1h0m4 0h0m2 0h0m-7 1h0m-2 1h0m-1 1h0m0 0h0m10 0h0m-12 1h0m1 1h0m0 0h0m-1 2h0m12 0h0m-12 1h0m-5 1h0m-2 1h0m0 1h0m0 0h0m16 1h0m0 0h0m-17 3h0m17 0h0m0 3h0m-8 17h0m-1 3h0m-18 2h0m15 1h0m-15 2h0m-1 1h0m12 0h0m1 0h0m0 0h0m-2 2h0m-3 2h0m0 0h0m-8 1h0m2 1h0m5 0h0m-4 1h0m0 0h0m3 0h0m0 0h0m-4 1h0m2 0h0m1 0h0m-2 1h0m1 0h0" stroke="rgb(43, 111, 235)" stroke-width="2.4" stroke-linecap="square" fill="none"/>
<path transform="scale(0.5)" d="M869 564h0m2 0h0m-2 1h0m1 0h0m1 0h0m-2 1h0m2 0h0m-4 1h0m0 0h0m2 0h0m3 0h0m-6 1h0m4 0h0m0 0h0m1 0h0m-5 1h0m5 0h0m1 0h0m-1 1h0m0 0h0m0 0h0m1 3h0m-14 1h0m0 0h0m13 0h0m-15 2h0m-5 7h0m18 2h0m-20 2h0m17 7h0m0 1h0m-1 1h0m-19 2h0m11 8h0m-11 4h0m-1 1h0m1 1h0m4 0h0m-3 1h0m1 0h0m0 0h0m0 2h0" stroke="rgb(41, 127, 237)" stroke-width="2.4" stroke-linecap="square" fill="none"/>
<path transform="scale(0.5)" d="M867 568h0m3 0h0m-2 1h0m0 0h0m1 0h0m0 0h0m-1 1h0m1 0h0m1 0h0m-6 1h0m1 0h0m0 0h0m3 0h0m1 0h0m0 0h0m1 0h0m0 0h0m-8 1h0m8 0h0m0 0h0m-6 1h0m0 0h0m0 0h0m4 0h0m1 0h0m1 0h0m-10 1h0m9 0h0m1 0h0m0 0h0m-11 1h0m0 0h0m1 0h0m0 0h0m0 0h0m-3 1h0m1 1h0m12 0h0m0 0h0m0 0h0m-15 1h0m14 0h0m0 1h0m1 0h0m0 0h0m-14 1h0m13 0h0m0 2h0m0 1h0m-20 5h0m18 0h0m-20 7h0m16 1h0m-17 4h0m-1 1h0m0 0h0m15 2h0m-14 1h0m12 0h0m-12 1h0m0 1h0m0 2h0m1 2h0m1 0h0m0 0h0m1 0h0m0 0h0m0 0h0m-2 1h0m1 0h0m1 0h0m0 0h0m1 0h0" stroke="rgb(40, 143, 239)" stroke-width="2.4" stroke-linecap="square" fill="none"/>
<path transform="scale(0.5)" d="M865 572h0m1 0h0m1 0h0m0 0h0m-2 1h0m0 0h0m1 0h0m-1 1h0m2 0h0m1 0h0m-7 1h0m0 0h0m7 0h0m-14 7h0m0 0h0m-1 1h0m0 0h0m1 0h0m-4 2h0m2 0h0m15 1h0m1 0h0m-18 4h0m-2 8h0m13 0h0m-15 10h0m1 0h0m0 0h0m2 0h0m1 0h0m1 0h0m0 0h0m-4 1h0m1 0h0m0 0h0m2 0h0" stroke="rgb(42, 163, 231)" stroke-width="2.4" stroke-linecap="square" fill="none"/>
<path transform="scale(0.5)" d="M866 574h0m-3 1h0m1 0h0m0 0h0m1 0h0m-6 1h0m1 0h0m5 0h0m1 0h0m0 0h0m-7 1h0m0 0h0m0 0h0m3 0h0m0 0h0m3 0h0m0 0h0m3 0h0m0 0h0m0 0h0m0 0h0m-3 1h0m0 0h0m2 0h0m1 0h0m-11 1h0m1 0h0m0 0h0m0 0h0m-2 1h0m11 0h0m1 0h0m0 0h0m0 0h0m-1 1h0m1 0h0m-13 1h0m11 0h0m2 0h0m0 0h0m-1 1h0m0 0h0m1 0h0m-1 2h0m0 0h0m0 0h0m0 0h0m-16 2h0m15 3h0m0 1h0m0 0h0m-18 1h0m15 2h0m0 0h0m-15 4h0m-1 1h0m0 0h0m1 0h0m-1 1h0m13 0h0m-12 1h0m10 0h0m1 0h0m-11 1h0m0 0h0m10 0h0m0 0h0m-10 1h0m0 0h0m0 0h0m8 0h0m1 0h0m0 0h0m1 0h0m0 0h0m-11 1h0m0 0h0m1 0h0m7 0h0m0 0h0m1 0h0m-9 1h0m1 0h0m7 0h0m0 0h0m-8 1h0m0 0h0m1 0h0m2 0h0m0 0h0m1 0h0m0 0h0m0 0h0m0 0h0m1 0h0m0 0h0m0 0h0m-6 1h0m1 0h0m2 0h0m0 0h0m0 0h0m3 0h0m0 0h0m1 0h0m1 0h0m-5 1h0" stroke="rgb(45, 187, 217)" stroke-width="2.4" stroke-linecap="square" fill="none"/>
<path transform="scale(0.5)" d="M863 576h0m0 0h0m1 0h0m0 0h0m-1 1h0m0 0h0m1 0h0m0 0h0m-4 1h0m5 0h0m0 0h0m0 0h0m1 0h0m-7 1h0m6 0h0m-11 5h0m0 0h0m0 1h0m0 0h0m0 0h0m0 0h0m11 3h0m0 1h0m0 0h0m0 0h0m1 0h0m-3 3h0m-2 4h0m1 0h0m0 0h0m0 0h0m-13 8h0m0 0h0m0 0h0m1 0h0m0 0h0m0 0h0m3 0h0m0 0h0m1 0h0m0 0h0m-5 1h0m0 0h0m1 0h0m3 0h0m1 0h0m0 0h0" stroke="rgb(49, 210, 202)" stroke-width="2.4" stroke-linecap="square" fill="none"/>
<path transform="scale(0.5)" d="M861 578h0m0 0h0m0 0h0m1 0h0m2 0h0m0 0h0m-3 1h0m0 0h0m0 0h0m0 0h0m1 0h0m0 0h0m1 0h0m-5 1h0m0 0h0m0 0h0m5 0h0m1 0h0m1 0h0m0 0h0m0 0h0m0 0h0m1 0h0m0 0h0m-9 1h0m8 0h0m0 0h0m1 0h0m-11 1h0m10 0h0m0 0h0m-10 1h0m1 0h0m0 0h0m0 0h0m8 0h0m1 0h0m0 0h0m0 0h0m0 0h0m0 0h0m1 0h0m-2 1h0m1 0h0m0 0h0m1 0h0m0 1h0m0 0h0m0 1h0m-14 3h0m-3 5h0m0 1h0m1 0h0m0 1h0m0 0h0m0 0h0m0 1h0m9 1h0m1 0h0m0 1h0m0 0h0m-2 1h0m-1 1h0m-7 1h0m0 0h0m5 0h0m1 0h0m0 0h0m-7 1h0m1 0h0m0 0h0m0 0h0m6 0h0m-7 1h0m3 0h0m-1 1h0m0 0h0" stroke="rgb(46, 220, 153)" stroke-width="2.4" stroke-linecap="square" fill="none"/>
<path transform="scale(0.5)" d="M859 580h0m1 0h0m1 0h0m0 0h0m1 0h0m-4 1h0m1 0h0m1 0h0m0 0h0m0 0h0m0 0h0m1 0h0m0 0h0m0 0h0m1 0h0m2 0h0m-1 1h0m-10 4h0m0 0h0m1 0h0m-1 1h0m1 0h0m-2 3h0m11 0h0m-13 1h0m1 0h0m1 0h0m11 0h0m1 0h0m-3 3h0m1 0h0m0 0h0m-1 1h0m0 0h0m1 0h0m0 0h0m-13 3h0m1 0h0m0 0h0m0 0h0m-1 1h0m0 0h0m1 0h0m0 0h0m0 0h0m0 0h0m-1 1h0m1 0h0m-1 1h0m1 0h0m0 0h0m1 1h0m1 0h0m0 0h0m1 0h0m0 0h0m0 0h0m1 0h0m0 0h0m0 0h0m-4 1h0m1 0h0m0 0h0m1 0h0m0 0h0m0 0h0" stroke="rgb(42, 227, 95)" stroke-width="2.4" stroke-linecap="square" fill="none"/>
<path transform="scale(0.5)" d="M858 582h0m2 0h0m2 0h0m1 0h0m1 0h0m-7 1h0m0 0h0m0 0h0m1 0h0m0 0h0m0 0h0m0 0h0m0 0h0m1 0h0m0 0h0m0 0h0m1 0h0m0 0h0m0 0h0m1 0h0m0 0h0m0 0h0m0 0h0m0 0h0m1 0h0m0 0h0m0 0h0m1 0h0m0 0h0m1 0h0m0 0h0m-4 1h0m3 0h0m0 0h0m1 0h0m-9 1h0m1 0h0m7 0h0m0 0h0m0 1h0m0 0h0m0 0h0m1 0h0m0 0h0m-1 1h0m1 0h0m0 0h0m0 1h0m0 0h0m0 0h0m-1 1h0m0 0h0m0 0h0m1 0h0m-1 1h0m1 0h0m-3 2h0m0 0h0m1 0h0m0 0h0m-12 1h0m1 0h0m1 0h0m8 0h0m1 0h0m1 0h0m-4 3h0m1 0h0m0 1h0m-2 1h0m0 0h0m0 0h0m0 0h0m1 0h0m0 0h0m0 0h0m2 0h0m-3 1h0m1 0h0m-8 1h0m1 0h0m0 0h0m0 0h0m3 0h0m1 0h0m0 0h0m1 0h0m0 0h0m-5 1h0m1 0h0m3 0h0m1 0h0" stroke="rgb(51, 232, 57)" stroke-width="2.4" stroke-linecap="square" fill="none"/>
<path transform="scale(0.5)" d="M858 584h0m0 0h0m-2 1h0m1 0h0m0 0h0m0 0h0m0 0h0m1 0h0m0 0h0m-5 3h0m1 0h0m-2 1h0m2 0h0m-1 1h0m1 0h0m7 0h0m1 0h0m0 0h0m-2 1h0m1 0h0m0 0h0m0 0h0m0 0h0m1 0h0m0 0h0m-11 3h0m0 0h0m8 0h0m0 0h0m1 0h0m-9 1h0m0 0h0m1 0h0m6 0h0m1 0h0m0 0h0m0 0h0m1 0h0m-10 1h0m1 0h0m0 0h0m0 0h0m0 0h0m1 0h0m0 0h0m-1 1h0m0 0h0m-1 1h0m0 0h0m1 0h0m0 0h0m1 0h0m0 0h0m0 0h0m-1 1h0m0 0h0m0 0h0m1 0h0m0 0h0m0 0h0m0 0h0m0 0h0m1 1h0m0 0h0m0 0h0m1 0h0m0 0h0m-1 1h0m0 0h0m0 0h0m1 0h0m0 0h0m0 0h0" stroke="rgb(78, 233, 52)" stroke-width="2.4" stroke-linecap="square" fill="none"/>
<path transform="scale(0.5)" d="M859 584h0m1 0h0m0 0h0m1 0h0m0 0h0m1 0h0m0 0h0m0 0h0m-3 1h0m0 0h0m0 0h0m1 0h0m0 0h0m0 0h0m0 0h0m1 0h0m0 0h0m0 0h0m1 0h0m0 0h0m-7 1h0m0 0h0m4 0h0m0 0h0m1 0h0m1 0h0m0 0h0m1 0h0m0 0h0m0 0h0m-8 1h0m1 0h0m0 0h0m0 0h0m0 0h0m0 0h0m1 0h0m0 0h0m0 0h0m5 0h0m0 0h0m0 0h0m0 0h0m0 0h0m0 0h0m0 0h0m1 0h0m0 0h0m0 0h0m0 0h0m-7 1h0m6 0h0m0 0h0m1 0h0m0 0h0m0 0h0m0 0h0m-2 1h0m1 0h0m0 0h0m0 0h0m1 0h0m0 0h0m-9 1h0m0 0h0m0 1h0m0 0h0m0 0h0m0 0h0m0 0h0m0 0h0m1 0h0m0 0h0m0 0h0m0 0h0m3 5h0m1 0h0m0 0h0m-1 1h0m0 0h0m-4 1h0m1 0h0m0 0h0m0 0h0m1 0h0m0 0h0m0 0h0m0 0h0m0 0h0m1 0h0m0 0h0m0 0h0m0 0h0m-3 1h0m0 0h0m1 0h0m0 0h0m0 0h0m0 0h0m1 0h0m0 0h0m0 0h0m0 0h0m0 0h0m1 0h0m0 1h0" stroke="rgb(106, 234, 46)" stroke-width="2.4" stroke-linecap="square" fill="none"/>
<path transform="scale(0.5)" d="M857 586h0m0 0h0m0 0h0m0 0h0m1 0h0m0 0h0m0 0h0m0 0h0m1 0h0m0 0h0m0 0h0m1 0h0m0 0h0m0 0h0m0 0h0m0 0h0m0 0h0m0 0h0m-2 1h0m0 0h0m0 0h0m0 0h0m0 0h0m0 0h0m2 0h0m0 0h0m0 0h0m0 0h0m0 0h0m-5 1h0m0 0h0m0 0h0m0 0h0m1 0h0m0 0h0m0 0h0m-2 1h0m1 0h0m0 0h0m0 0h0m1 0h0m0 0h0m0 0h0m0 0h0m0 0h0m0 0h0m0 0h0m0 1h0m-3 2h0m0 0h0m0 0h0m0 0h0m0 0h0m0 0h0m0 0h0m0 0h0m1 0h0m0 0h0m0 0h0m0 0h0m0 0h0m0 0h0m0 0h0m5 0h0m0 0h0m0 0h0m0 0h0m1 0h0m0 0h0m0 0h0m0 0h0m-7 1h0m0 0h0m1 0h0m0 0h0m0 0h0m5 0h0m-6 1h0m0 0h0m0 0h0m0 0h0m1 0h0m0 0h0m0 0h0m0 0h0m0 0h0m0 0h0m0 0h0m3 0h0m0 0h0m0 0h0m0 0h0m0 0h0m1 0h0m-5 1h0m0 0h0m0 0h0m0 0h0m0 0h0m0 0h0m1 0h0m0 0h0m2 0h0m0 0h0m1 0h0m0 0h0m0 0h0m0 0h0m1 0h0m0 0h0m-5 1h0m0 0h0m0 0h0m0 0h0m1 0h0m0 0h0m0 0h0m0 0h0m1 0h0m0 0h0m0 0h0m0 0h0m0 0h0m1 0h0m0 0h0m0 0h0m2 0h0m-5 1h0m0 0h0m0 0h0m0 0h0m0 0h0m0 0h0m1 0h0m0 0h0m0 0h0m1 0h0m0 0h0m0 0h0m0 0h0m0 0h0m1 0h0m0 0h0m0 0h0" stroke="rgb(134, 234, 41)" stroke-width="2.4" stroke-linecap="square" fill="none"/>
<path transform="scale(0.5)" d="M857 588h0m0 0h0m2 0h0m0 0h0m1 0h0m0 0h0m0 0h0m0 0h0m0 0h0m-3 1h0m0 0h0m0 0h0m0 0h0m1 0h0m0 0h0m0 0h0m0 0h0m0 0h0m0 0h0m0 0h0m1 0h0m0 0h0m1 0h0m0 0h0m-4 1h0m0 0h0m0 0h0m2 0h0m1 0h0m0 0h0m0 0h0m0 0h0m1 0h0m0 0h0m0 0h0m0 0h0m-5 1h0m0 0h0m0 0h0m0 0h0m0 0h0m0 0h0m0 0h0m0 0h0m1 0h0m0 0h0m0 0h0m0 0h0m0 0h0m0 0h0m3 0h0m0 0h0m0 0h0m1 0h0m0 0h0m0 0h0m0 0h0m0 0h0m0 0h0m-3 1h0m0 0h0m0 0h0m0 0h0m1 0h0m0 0h0m0 0h0m0 0h0m-1 1h0m0 0h0m0 0h0m0 0h0m0 0h0m0 0h0m1 0h0m0 0h0m0 0h0m0 0h0m-3 1h0m0 0h0m0 0h0m0 0h0m0 0h0m0 0h0m1 0h0m-2 1h0m1 0h0m0 0h0m0 0h0m0 0h0m0 0h0m1 0h0m0 0h0" stroke="rgb(190, 232, 29)" stroke-width="2.4" stroke-linecap="square" fill="none"/>
<path transform="scale(0.5)" d="M857 590h0m0 0h0m0 0h0m0 0h0m1 0h0m0 0h0m0 0h0m-2 1h0m1 0h0m0 0h0m1 0h0m-3 1h0m0 0h0m0 0h0m1 0h0m0 0h0m0 0h0m0 0h0m2 0h0m-3 1h0m0 0h0m0 0h0m1 0h0m0 0h0" stroke="rgb(238, 198, 20)" stroke-width="2.4" stroke-linecap="square" fill="none"/>
</g>
<rect x="381.20" y="272.80" width="64.10" height="63.10" fill="none" stroke="#aaa" stroke-width="0.7"/>
<line x1="425.1" y1="272.8" x2="425.1" y2="335.9" stroke="#4858d8" stroke-width="0.9"/>
<line x1="381.2" y1="301.5" x2="445.3" y2="301.5" stroke="#4858d8" stroke-width="0.9"/>
<text x="383.7" y="280.3" font-size="7" fill="#000">2.1</text>
<text x="426.1" y="280.3" font-size="7" fill="#000">84.3</text>
<text x="383.7" y="333.7" font-size="7" fill="#000">3.1</text>
<text x="426.1" y="333.7" font-size="7" fill="#000">10.5</text>
<g filter="url(#bl)">
<path transform="scale(0.5)" d="M993 550h0m-14 96h0m-3 11h0m24 1h0m-6 9h0" stroke="rgb(102, 127, 238)" stroke-width="2.4" stroke-linecap="square" fill="none"/>
<path transform="scale(0.5)" d="M1017 547h0m-1 4h0m-16 3h0m18 1h0m1 21h0m-3 14h0m-3 16h0m-38 10h0m-1 2h0m-3 4h0m47 1h0m-2 2h0m-40 2h0m0 0h0m3 8h0m35 1h0m-2 2h0m-30 1h0m30 0h0m-28 3h0m4 1h0m19 0h0m-8 2h0m-5 1h0m11 0h0m2 0h0" stroke="rgb(85, 115, 236)" stroke-width="2.4" stroke-linecap="square" fill="none"/>
<path transform="scale(0.5)" d="M1007 547h0m1 2h0m0 1h0m-2 1h0m2 2h0m1 0h0m-4 1h0m6 1h0m-6 2h0m-1 1h0m13 10h0m-1 1h0m2 6h0m-3 4h0m-2 3h0m-2 18h0m-28 1h0m27 6h0m3 7h0m-33 1h0m33 0h0m0 4h0m-36 2h0m2 1h0m32 1h0m-28 7h0m3 0h0m23 1h0m-22 1h0m1 1h0m-5 3h0m23 1h0m0 0h0m-21 1h0m3 2h0m2 0h0m8 0h0m7 0h0m-1 1h0m-6 1h0m4 1h0" stroke="rgb(68, 102, 234)" stroke-width="2.4" stroke-linecap="square" fill="none"/>
<path transform="scale(0.5)" d="M1013 557h0m-6 1h0m6 1h0m-9 1h0m11 1h0m-16 1h0m15 0h0m-1 3h0m0 0h0m-16 1h0m16 3h0m-17 2h0m17 0h0m0 1h0m-19 2h0m20 1h0m1 0h0m-3 1h0m-1 13h0m-3 9h0m1 2h0m-1 3h0m0 3h0m-25 2h0m0 3h0m26 1h0m1 2h0m-29 1h0m30 0h0m-33 1h0m4 0h0m27 1h0m2 0h0m-30 1h0m-2 1h0m27 0h0m1 0h0m2 2h0m-28 1h0m3 2h0m24 0h0m-25 1h0m5 4h0m4 3h0m10 0h0m4 0h0m2 0h0m-16 1h0m11 0h0m2 0h0m2 0h0m-4 1h0m3 0h0m-13 1h0m3 0h0m1 0h0m-3 1h0m3 0h0m-5 2h0m3 0h0m1 0h0m-4 1h0m0 0h0m0 0h0" stroke="rgb(51, 90, 232)" stroke-width="2.4" stroke-linecap="square" fill="none"/>
<path transform="scale(0.5)" d="M1010 558h0m-1 1h0m0 1h0m3 0h0m-1 1h0m1 0h0m1 0h0m1 0h0m-9 1h0m0 0h0m2 0h0m4 0h0m-11 1h0m2 0h0m0 0h0m7 0h0m1 0h0m1 0h0m2 0h0m-11 1h0m-1 1h0m1 0h0m9 3h0m-1 5h0m2 2h0m-17 1h0m16 0h0m0 0h0m1 0h0m-1 1h0m0 6h0m-26 14h0m1 3h0m20 0h0m-21 2h0m20 4h0m-19 1h0m20 1h0m-21 1h0m21 1h0m-22 2h0m21 2h0m0 1h0m2 1h0m-1 1h0m-23 1h0m1 1h0m19 0h0m1 0h0m-20 1h0m20 0h0m0 1h0m0 0h0m-20 1h0m2 1h0m19 0h0m-18 1h0m-2 1h0m1 0h0m2 0h0m18 0h0m-18 1h0m17 0h0m0 0h0m-13 2h0m14 0h0m-15 1h0m12 0h0m1 0h0m-14 1h0m7 0h0m6 0h0m1 0h0m-9 1h0m5 0h0m-8 1h0m6 0h0m0 0h0m-5 1h0m4 0h0" stroke="rgb(44, 94, 233)" stroke-width="2.4" stroke-linecap="square" fill="none"/>
<path transform="scale(0.5)" d="M1007 564h0m-3 1h0m2 0h0m1 0h0m0 1h0m0 1h0m0 0h0m1 0h0m2 0h0m-1 2h0m0 0h0m0 1h0m-11 2h0m0 0h0m-1 1h0m1 0h0m0 0h0m-6 8h0m-2 3h0m-2 1h0m1 0h0m19 10h0m-1 2h0m-2 3h0m1 1h0m0 0h0m-3 5h0m-1 4h0m1 1h0m0 0h0m1 1h0m-1 1h0m1 0h0m-19 2h0m1 0h0m17 0h0m1 0h0m0 0h0m-19 1h0m2 2h0m0 0h0m-1 1h0m1 0h0m1 0h0m12 0h0m-13 1h0m-1 1h0m15 1h0m-12 1h0m13 0h0m-2 1h0m1 0h0m0 0h0m0 0h0m2 0h0m-2 1h0m1 0h0m-11 1h0m8 0h0m-10 1h0m3 0h0m6 0h0m1 0h0m1 0h0m0 0h0m-7 1h0m6 0h0m-5 1h0m0 0h0m5 0h0" stroke="rgb(43, 111, 235)" stroke-width="2.4" stroke-linecap="square" fill="none"/>
<path transform="scale(0.5)" d="M1005 567h0m-3 1h0m1 0h0m2 0h0m1 0h0m1 0h0m-6 1h0m1 0h0m0 0h0m0 0h0m2 0h0m2 0h0m1 0h0m1 0h0m-9 1h0m5 0h0m3 1h0m1 0h0m-1 1h0m0 1h0m1 0h0m-10 1h0m0 0h0m-5 6h0m0 1h0m15 1h0m-16 1h0m17 0h0m0 1h0m-19 2h0m18 0h0m-18 1h0m19 2h0m-2 4h0m0 0h0m-20 2h0m0 1h0m0 0h0m0 1h0m1 0h0m17 2h0m-17 1h0m-1 3h0m16 0h0m1 0h0m0 2h0m-17 2h0m1 1h0m-1 1h0m14 0h0m1 0h0m0 0h0m-14 1h0m0 0h0m0 2h0m-2 1h0m2 0h0m0 0h0m0 0h0m12 1h0m0 0h0m-13 1h0m13 0h0m-14 1h0m11 0h0m2 0h0m1 0h0m0 0h0m-13 1h0m3 0h0m7 0h0m3 0h0m-10 1h0m0 2h0m1 0h0m1 0h0m8 0h0m0 0h0m-8 2h0m3 0h0m1 0h0m1 0h0m0 0h0m1 0h0m-7 1h0m0 0h0m2 0h0m0 0h0m1 0h0m0 0h0m1 0h0m1 0h0m1 0h0m1 0h0m0 0h0m-6 1h0m4 0h0m0 0h0m-5 1h0m2 0h0m3 0h0m4 1h0" stroke="rgb(41, 127, 237)" stroke-width="2.4" stroke-linecap="square" fill="none"/>
<path transform="scale(0.5)" d="M1001 570h0m5 0h0m-5 1h0m1 0h0m0 0h0m4 0h0m-7 1h0m0 0h0m1 0h0m1 0h0m2 0h0m0 0h0m1 0h0m1 0h0m-5 1h0m6 0h0m-1 1h0m0 0h0m-6 1h0m6 0h0m0 1h0m3 1h0m-12 2h0m-6 6h0m1 0h0m1 0h0m9 20h0m0 0h0m0 0h0m-12 1h0m0 1h0m12 0h0m0 0h0m1 0h0m-13 1h0m0 0h0m1 0h0m-1 1h0m1 1h0m-1 1h0m0 0h0m11 0h0m-9 1h0m0 0h0m0 0h0m0 0h0m6 0h0m1 0h0m0 0h0m1 0h0m-8 1h0m6 0h0m-5 1h0m1 0h0m1 0h0m2 0h0m-7 1h0m1 0h0m1 0h0m0 0h0m2 0h0m3 0h0m2 0h0m-5 1h0m1 0h0m1 0h0m0 0h0m-4 1h0m0 0h0m2 0h0m3 0h0m0 0h0m-5 1h0m0 0h0m2 0h0m0 0h0m3 1h0m0 0h0m-2 1h0m1 0h0m-2 1h0m1 0h0m2 0h0" stroke="rgb(40, 143, 239)" stroke-width="2.4" stroke-linecap="square" fill="none"/>
<path transform="scale(0.5)" d="M1003 574h0m0 0h0m-2 1h0m1 0h0m0 0h0m0 0h0m1 0h0m0 0h0m3 1h0m0 0h0m-1 1h0m3 1h0m0 2h0m-12 1h0m0 0h0m11 0h0m1 0h0m-15 1h0m1 0h0m0 1h0m13 5h0m1 0h0m0 0h0m-1 1h0m0 0h0m-18 1h0m1 0h0m14 8h0m-1 1h0m-14 3h0m10 2h0m-9 1h0m0 0h0m9 0h0m0 0h0m1 0h0m-9 1h0m9 0h0m-9 1h0m7 0h0m1 0h0m-8 1h0m6 0h0m1 0h0m0 0h0m1 0h0m-8 1h0m0 0h0m6 0h0m2 0h0m-5 1h0m0 0h0m1 0h0m0 0h0m1 0h0m0 0h0m-5 1h0m3 0h0m1 0h0m0 0h0m2 0h0m-3 1h0m1 0h0m0 0h0m3 0h0m-2 1h0" stroke="rgb(42, 163, 231)" stroke-width="2.4" stroke-linecap="square" fill="none"/>
<path transform="scale(0.5)" d="M1001 576h0m1 0h0m0 0h0m1 0h0m1 0h0m-5 1h0m1 0h0m0 0h0m2 0h0m2 0h0m3 5h0m1 0h0m-1 1h0m0 1h0m0 1h0m-15 1h0m16 0h0m-1 1h0m-2 5h0m1 0h0m0 0h0m-17 2h0m1 0h0m12 2h0m1 0h0m1 0h0m0 2h0m-15 1h0m0 0h0m1 0h0m0 1h0m0 1h0m0 0h0m0 0h0m11 0h0m0 0h0m-3 1h0m1 0h0m1 1h0m-9 1h0m1 0h0m0 0h0m4 0h0m4 0h0m-9 1h0m1 0h0m0 0h0m6 0h0m0 0h0m0 0h0m-7 1h0m0 0h0m3 0h0m1 0h0m0 0h0m3 0h0m-5 1h0m1 0h0m1 0h0m1 0h0m2 0h0m0 0h0m-4 1h0m0 0h0m0 0h0m-1 1h0m1 0h0m1 0h0m1 0h0m0 0h0" stroke="rgb(45, 187, 217)" stroke-width="2.4" stroke-linecap="square" fill="none"/>
<path transform="scale(0.5)" d="M999 578h0m1 0h0m5 0h0m0 0h0m-5 1h0m0 0h0m0 0h0m5 0h0m1 0h0m0 0h0m-8 1h0m0 0h0m7 0h0m1 0h0m0 0h0m0 0h0m0 0h0m-9 1h0m0 0h0m8 0h0m0 0h0m1 0h0m-10 1h0m0 1h0m0 0h0m-4 1h0m-1 4h0m13 0h0m1 0h0m0 0h0m0 0h0m1 0h0m-15 1h0m0 0h0m1 0h0m0 0h0m13 0h0m1 0h0m0 0h0m-1 1h0m1 1h0m-3 3h0m1 0h0m0 0h0m0 0h0m-1 1h0m-2 3h0m0 0h0m-2 2h0m-8 2h0m1 0h0m0 0h0m7 0h0m-8 1h0m1 0h0m2 1h0m0 0h0m0 1h0m1 0h0m0 0h0m1 0h0" stroke="rgb(49, 210, 202)" stroke-width="2.4" stroke-linecap="square" fill="none"/>
<path transform="scale(0.5)" d="M1001 578h0m0 0h0m1 0h0m0 0h0m1 0h0m1 0h0m0 0h0m-2 1h0m1 0h0m1 1h0m1 2h0m1 0h0m-1 1h0m1 0h0m-1 1h0m0 0h0m0 0h0m1 0h0m0 0h0m-13 2h0m0 0h0m12 0h0m0 0h0m0 0h0m1 0h0m0 0h0m0 0h0m-13 1h0m1 0h0m10 0h0m2 0h0m-15 4h0m0 0h0m0 1h0m0 0h0m1 0h0m11 0h0m1 0h0m-14 1h0m1 0h0m1 0h0m8 3h0m1 0h0m0 0h0m0 0h0m1 1h0m0 0h0m-10 1h0m0 0h0m0 0h0m-1 1h0m1 0h0m0 1h0m0 0h0m0 0h0m-1 1h0m0 0h0m0 1h0m2 0h0m1 0h0m0 0h0m0 0h0m1 0h0m1 0h0m-3 1h0m0 0h0m1 0h0m1 0h0m1 0h0m0 0h0m0 0h0m-2 1h0" stroke="rgb(46, 220, 153)" stroke-width="2.4" stroke-linecap="square" fill="none"/>
<path transform="scale(0.5)" d="M999 580h0m0 0h0m0 0h0m1 0h0m0 0h0m0 0h0m1 0h0m0 0h0m1 0h0m0 0h0m0 0h0m2 0h0m0 0h0m-5 1h0m0 0h0m1 0h0m1 0h0m1 0h0m0 0h0m1 0h0m0 0h0m0 0h0m1 0h0m0 0h0m-7 1h0m1 0h0m1 0h0m-2 1h0m0 0h0m-2 1h0m1 0h0m0 0h0m2 0h0m-3 1h0m0 0h0m1 0h0m0 1h0m7 4h0m0 0h0m0 0h0m0 1h0m0 0h0m1 0h0m-12 3h0m0 0h0m0 0h0m-1 1h0m1 0h0m-1 1h0m0 0h0m1 0h0m0 0h0m0 0h0m-2 1h0m1 0h0m0 0h0m1 0h0m0 0h0m0 0h0m7 1h0m1 0h0m0 0h0m0 0h0m-1 1h0m0 0h0m-5 1h0m0 0h0m0 0h0m1 0h0m0 0h0m0 0h0m1 0h0m1 0h0m0 0h0m1 0h0m-5 1h0m1 0h0m0 0h0m1 0h0m3 0h0m0 0h0m-3 1h0m1 0h0m1 0h0" stroke="rgb(42, 227, 95)" stroke-width="2.4" stroke-linecap="square" fill="none"/>
<path transform="scale(0.5)" d="M998 582h0m1 0h0m0 0h0m0 0h0m0 0h0m0 0h0m1 0h0m0 0h0m1 0h0m1 0h0m0 0h0m1 0h0m0 0h0m1 0h0m-6 1h0m1 0h0m0 0h0m0 0h0m1 0h0m1 0h0m0 0h0m0 0h0m1 0h0m1 0h0m0 0h0m1 0h0m0 0h0m0 0h0m-6 1h0m0 0h0m1 0h0m4 0h0m0 0h0m1 0h0m-7 1h0m6 0h0m1 0h0m0 0h0m0 0h0m-2 1h0m1 0h0m1 0h0m-1 1h0m1 0h0m0 0h0m-1 1h0m-10 1h0m0 0h0m1 0h0m9 0h0m1 0h0m-12 1h0m2 0h0m10 0h0m-3 4h0m-1 1h0m1 0h0m1 0h0m0 0h0m-8 3h0m0 0h0m3 0h0m1 0h0m0 0h0m0 0h0m-5 1h0m1 0h0m0 0h0m0 0h0m0 0h0m3 0h0m0 0h0m0 0h0m1 0h0m-1 1h0" stroke="rgb(51, 232, 57)" stroke-width="2.4" stroke-linecap="square" fill="none"/>
<path transform="scale(0.5)" d="M999 584h0m0 0h0m0 0h0m1 0h0m0 0h0m-1 1h0m0 0h0m1 0h0m0 0h0m0 0h0m0 0h0m1 0h0m0 0h0m1 0h0m0 0h0m-6 1h0m0 0h0m4 0h0m2 0h0m0 0h0m0 0h0m-7 1h0m0 0h0m1 0h0m0 0h0m0 0h0m5 0h0m1 0h0m0 0h0m0 0h0m-7 1h0m-2 2h0m0 0h0m1 0h0m0 0h0m7 0h0m0 0h0m0 0h0m-7 1h0m0 0h0m6 0h0m1 0h0m-9 1h0m1 0h0m0 0h0m0 0h0m1 0h0m0 0h0m0 0h0m7 0h0m0 0h0m0 0h0m1 0h0m-10 1h0m2 0h0m0 0h0m7 0h0m0 0h0m1 0h0m-10 1h0m1 0h0m0 0h0m0 0h0m0 1h0m0 0h0m0 0h0m1 0h0m-2 1h0m1 0h0m1 0h0m5 0h0m0 0h0m-7 1h0m1 0h0m0 0h0m0 0h0m6 0h0m0 0h0m1 0h0m-5 1h0m0 0h0m1 0h0m-1 1h0m0 0h0m1 0h0m0 0h0m0 0h0" stroke="rgb(78, 233, 52)" stroke-width="2.4" stroke-linecap="square" fill="none"/>
<path transform="scale(0.5)" d="M997 586h0m0 0h0m1 0h0m1 0h0m0 0h0m-2 1h0m0 0h0m0 0h0m0 0h0m1 0h0m1 0h0m0 0h0m0 0h0m1 0h0m-5 1h0m0 0h0m0 0h0m0 0h0m1 0h0m0 0h0m0 0h0m0 0h0m0 0h0m0 0h0m2 0h0m1 0h0m1 0h0m1 0h0m0 0h0m0 0h0m1 0h0m-6 1h0m5 0h0m0 0h0m0 0h0m1 0h0m-7 1h0m7 0h0m0 0h0m-3 4h0m0 0h0m1 0h0m0 0h0m0 0h0m-2 1h0m1 0h0m0 0h0m0 0h0m-5 1h0m1 0h0m0 0h0m0 0h0m0 0h0m1 0h0m1 0h0m0 0h0m0 0h0m1 0h0m0 0h0m2 0h0m-5 1h0m1 0h0m0 0h0m1 0h0m0 0h0m0 0h0m0 0h0m1 0h0m0 0h0m0 0h0" stroke="rgb(106, 234, 46)" stroke-width="2.4" stroke-linecap="square" fill="none"/>
<path transform="scale(0.5)" d="M997 588h0m0 0h0m1 0h0m0 0h0m1 0h0m1 0h0m0 0h0m0 0h0m-3 1h0m0 0h0m0 0h0m0 0h0m1 0h0m0 0h0m0 0h0m0 0h0m0 0h0m1 0h0m0 0h0m0 0h0m1 0h0m0 0h0m0 0h0m0 0h0m0 0h0m0 0h0m0 0h0m-5 1h0m0 0h0m0 0h0m1 0h0m0 0h0m0 0h0m0 0h0m2 0h0m1 0h0m1 0h0m0 0h0m0 0h0m-5 1h0m1 0h0m0 0h0m0 0h0m3 0h0m0 0h0m1 0h0m0 0h0m0 0h0m0 0h0m-5 1h0m0 0h0m0 0h0m1 0h0m0 0h0m0 0h0m3 0h0m1 0h0m0 0h0m-5 1h0m0 0h0m0 0h0m0 0h0m1 0h0m0 0h0m0 0h0m3 0h0m0 0h0m0 0h0m1 0h0m-5 1h0m0 0h0m0 0h0m1 0h0m1 0h0m0 0h0m0 0h0m0 0h0m0 0h0m0 0h0m1 0h0m0 0h0m0 0h0m0 0h0m0 0h0m-3 1h0m0 0h0m1 0h0m0 0h0m1 0h0m0 0h0m1 0h0m0 0h0m0 0h0m0 0h0" stroke="rgb(134, 234, 41)" stroke-width="2.4" stroke-linecap="square" fill="none"/>
<path transform="scale(0.5)" d="M997 590h0m0 0h0m1 0h0m0 0h0m0 0h0m-2 1h0m1 0h0m0 0h0m0 0h0m0 0h0m0 0h0m1 0h0m0 0h0m0 0h0m-2 1h0m1 0h0m0 0h0m0 0h0m0 0h0m1 0h0m0 0h0m0 0h0m0 0h0m0 0h0m-1 1h0m1 0h0m0 0h0m-1 1h0" stroke="rgb(190, 232, 29)" stroke-width="2.4" stroke-linecap="square" fill="none"/>
</g>
<rect x="451.20" y="272.80" width="62.80" height="63.10" fill="none" stroke="#aaa" stroke-width="0.7"/>
<line x1="494.3" y1="272.8" x2="494.3" y2="335.9" stroke="#4858d8" stroke-width="0.9"/>
<line x1="451.2" y1="301.5" x2="514" y2="301.5" stroke="#4858d8" stroke-width="0.9"/>
<text x="453.7" y="280.3" font-size="7" fill="#000">1.2</text>
<text x="495.3" y="280.3" font-size="7" fill="#000">76.1</text>
<text x="453.7" y="333.7" font-size="7" fill="#000">4.3</text>
<text x="495.3" y="333.7" font-size="7" fill="#000">18.4</text>
<text x="307.7" y="274.8" font-size="4.0" font-weight="bold" text-anchor="end" fill="#000">1000</text>
<text x="307.7" y="287.32" font-size="4.0" font-weight="bold" text-anchor="end" fill="#000">800</text>
<text x="307.7" y="299.84" font-size="4.0" font-weight="bold" text-anchor="end" fill="#000">600</text>
<text x="307.7" y="312.36" font-size="4.0" font-weight="bold" text-anchor="end" fill="#000">400</text>
<text x="307.7" y="324.88" font-size="4.0" font-weight="bold" text-anchor="end" fill="#000">200</text>
<text x="307.7" y="337.4" font-size="4.0" font-weight="bold" text-anchor="end" fill="#000">0</text>
<text x="307.0" y="344.2" font-size="5.5" fill="#111">10<tspan dx="0.3" dy="-2.75" font-size="4.67">0</tspan></text>
<text x="322.75" y="344.2" font-size="5.5" fill="#111">10<tspan dx="0.3" dy="-2.75" font-size="4.67">1</tspan></text>
<text x="338.5" y="344.2" font-size="5.5" fill="#111">10<tspan dx="0.3" dy="-2.75" font-size="4.67">2</tspan></text>
<text x="354.25" y="344.2" font-size="5.5" fill="#111">10<tspan dx="0.3" dy="-2.75" font-size="4.67">3</tspan></text>
<text x="370.0" y="344.2" font-size="5.5" fill="#111">10<tspan dx="0.3" dy="-2.75" font-size="4.67">4</tspan></text>
<text x="60" y="384.5" font-size="16" font-weight="bold" fill="#000">F</text>
<line x1="94" y1="520.4" x2="461" y2="520.4" stroke="#bfc7c7" stroke-width="0.7"/>
<line x1="94" y1="505.4" x2="461" y2="505.4" stroke="#bfc7c7" stroke-width="0.7"/>
<line x1="94" y1="490.4" x2="461" y2="490.4" stroke="#bfc7c7" stroke-width="0.7"/>
<line x1="94" y1="475.4" x2="461" y2="475.4" stroke="#bfc7c7" stroke-width="0.7"/>
<line x1="94" y1="460.4" x2="461" y2="460.4" stroke="#bfc7c7" stroke-width="0.7"/>
<line x1="94" y1="445.4" x2="461" y2="445.4" stroke="#bfc7c7" stroke-width="0.7"/>
<line x1="94" y1="430.4" x2="461" y2="430.4" stroke="#bfc7c7" stroke-width="0.7"/>
<line x1="94" y1="415.4" x2="461" y2="415.4" stroke="#bfc7c7" stroke-width="0.7"/>
<line x1="94" y1="400.4" x2="461" y2="400.4" stroke="#bfc7c7" stroke-width="0.7"/>
<line x1="94" y1="385.4" x2="461" y2="385.4" stroke="#bfc7c7" stroke-width="0.7"/>
<line x1="94" y1="385.4" x2="94" y2="520.4" stroke="#aab2b2" stroke-width="0.8"/>
<line x1="461" y1="385.4" x2="461" y2="520.4" stroke="#aab2b2" stroke-width="0.8"/>
<text x="91" y="523.0" font-size="7.3" text-anchor="end" fill="#000">0</text>
<text x="91" y="508.0" font-size="7.3" text-anchor="end" fill="#000">0.5</text>
<text x="91" y="493.0" font-size="7.3" text-anchor="end" fill="#000">1.0</text>
<text x="91" y="478.0" font-size="7.3" text-anchor="end" fill="#000">1.5</text>
<text x="91" y="463.0" font-size="7.3" text-anchor="end" fill="#000">2.0</text>
<text x="91" y="448.0" font-size="7.3" text-anchor="end" fill="#000">2.5</text>
<text x="91" y="433.0" font-size="7.3" text-anchor="end" fill="#000">3.0</text>
<text x="91" y="418.0" font-size="7.3" text-anchor="end" fill="#000">3.5</text>
<text x="91" y="403.0" font-size="7.3" text-anchor="end" fill="#000">4.0</text>
<text x="91" y="388.0" font-size="7.3" text-anchor="end" fill="#000">4.5</text>
<text x="75.6" y="453.7" font-size="10.3" text-anchor="middle" fill="#000" transform="rotate(-90 75.6 453.7)">million cells / dish</text>
<rect x="304.00" y="390.00" width="84.00" height="47.00" fill="#fff"/>
<rect x="309.30" y="394.80" width="6.00" height="6.00" fill="#e81010" stroke="#222" stroke-width="0.5"/>
<text x="319" y="401.0" font-size="9.2" fill="#000">late EB / retic.</text>
<rect x="309.30" y="406.00" width="6.00" height="6.00" fill="#f8cc98" stroke="#222" stroke-width="0.5"/>
<text x="319" y="412.2" font-size="9.2" fill="#000">early EB</text>
<rect x="309.30" y="417.20" width="6.00" height="6.00" fill="#1010a8" stroke="#222" stroke-width="0.5"/>
<text x="319" y="423.4" font-size="9.2" fill="#000">proEB</text>
<rect x="309.30" y="428.40" width="6.00" height="6.00" fill="#a8b0f0" stroke="#222" stroke-width="0.5"/>
<text x="319" y="434.59999999999997" font-size="9.2" fill="#000">Er prec. / non-Er.</text>
<rect x="100.20" y="519.68" width="7.20" height="0.72" fill="#9ca4f0"/>
<rect x="100.20" y="514.40" width="7.20" height="5.28" fill="#0c0ca8"/>
<rect x="100.20" y="514.40" width="7.20" height="6.00" fill="none" stroke="#1a1a1a" stroke-width="0.85"/>
<rect x="114.30" y="519.20" width="7.20" height="1.20" fill="#9ca4f0"/>
<rect x="114.30" y="516.80" width="7.20" height="2.40" fill="#0c0ca8"/>
<rect x="114.30" y="507.80" width="7.20" height="9.00" fill="#f8cc98"/>
<rect x="114.30" y="503.90" width="7.20" height="3.90" fill="#ee1010"/>
<rect x="114.30" y="503.90" width="7.20" height="16.50" fill="none" stroke="#1a1a1a" stroke-width="0.85"/>
<rect x="123.80" y="518.72" width="7.20" height="1.68" fill="#9ca4f0"/>
<rect x="123.80" y="515.00" width="7.20" height="3.72" fill="#0c0ca8"/>
<rect x="123.80" y="503.00" width="7.20" height="12.00" fill="#f8cc98"/>
<rect x="123.80" y="490.40" width="7.20" height="12.60" fill="#ee1010"/>
<rect x="123.80" y="490.40" width="7.20" height="30.00" fill="none" stroke="#1a1a1a" stroke-width="0.85"/>
<rect x="133.40" y="518.00" width="7.20" height="2.40" fill="#9ca4f0"/>
<rect x="133.40" y="515.90" width="7.20" height="2.10" fill="#0c0ca8"/>
<rect x="133.40" y="515.00" width="7.20" height="0.90" fill="#f8cc98"/>
<rect x="133.40" y="487.40" width="7.20" height="27.60" fill="#ee1010"/>
<rect x="133.40" y="487.40" width="7.20" height="33.00" fill="none" stroke="#1a1a1a" stroke-width="0.85"/>
<rect x="149.20" y="517.04" width="7.20" height="3.36" fill="#9ca4f0"/>
<rect x="149.20" y="508.40" width="7.20" height="8.64" fill="#0c0ca8"/>
<rect x="149.20" y="471.20" width="7.20" height="37.20" fill="#f8cc98"/>
<rect x="149.20" y="466.40" width="7.20" height="4.80" fill="#ee1010"/>
<rect x="149.20" y="466.40" width="7.20" height="54.00" fill="none" stroke="#1a1a1a" stroke-width="0.85"/>
<rect x="158.80" y="518.00" width="7.20" height="2.40" fill="#9ca4f0"/>
<rect x="158.80" y="510.20" width="7.20" height="7.80" fill="#0c0ca8"/>
<rect x="158.80" y="461.90" width="7.20" height="48.30" fill="#f8cc98"/>
<rect x="158.80" y="448.40" width="7.20" height="13.50" fill="#ee1010"/>
<rect x="158.80" y="448.40" width="7.20" height="72.00" fill="none" stroke="#1a1a1a" stroke-width="0.85"/>
<rect x="168.30" y="518.72" width="7.20" height="1.68" fill="#9ca4f0"/>
<rect x="168.30" y="513.50" width="7.20" height="5.22" fill="#0c0ca8"/>
<rect x="168.30" y="494.30" width="7.20" height="19.20" fill="#f8cc98"/>
<rect x="168.30" y="430.40" width="7.20" height="63.90" fill="#ee1010"/>
<rect x="168.30" y="430.40" width="7.20" height="90.00" fill="none" stroke="#1a1a1a" stroke-width="0.85"/>
<rect x="177.80" y="518.72" width="7.20" height="1.68" fill="#9ca4f0"/>
<rect x="177.80" y="514.40" width="7.20" height="4.32" fill="#0c0ca8"/>
<rect x="177.80" y="508.10" width="7.20" height="6.30" fill="#f8cc98"/>
<rect x="177.80" y="454.40" width="7.20" height="53.70" fill="#ee1010"/>
<rect x="177.80" y="454.40" width="7.20" height="66.00" fill="none" stroke="#1a1a1a" stroke-width="0.85"/>
<rect x="193.30" y="516.32" width="7.20" height="4.08" fill="#9ca4f0"/>
<rect x="193.30" y="505.10" width="7.20" height="11.22" fill="#0c0ca8"/>
<rect x="193.30" y="471.80" width="7.20" height="33.30" fill="#f8cc98"/>
<rect x="193.30" y="454.40" width="7.20" height="17.40" fill="#ee1010"/>
<rect x="193.30" y="454.40" width="7.20" height="66.00" fill="none" stroke="#1a1a1a" stroke-width="0.85"/>
<rect x="202.80" y="516.32" width="7.20" height="4.08" fill="#9ca4f0"/>
<rect x="202.80" y="506.90" width="7.20" height="9.42" fill="#0c0ca8"/>
<rect x="202.80" y="467.90" width="7.20" height="39.00" fill="#f8cc98"/>
<rect x="202.80" y="430.40" width="7.20" height="37.50" fill="#ee1010"/>
<rect x="202.80" y="430.40" width="7.20" height="90.00" fill="none" stroke="#1a1a1a" stroke-width="0.85"/>
<rect x="212.60" y="518.00" width="7.20" height="2.40" fill="#9ca4f0"/>
<rect x="212.60" y="509.90" width="7.20" height="8.10" fill="#0c0ca8"/>
<rect x="212.60" y="482.30" width="7.20" height="27.60" fill="#f8cc98"/>
<rect x="212.60" y="412.40" width="7.20" height="69.90" fill="#ee1010"/>
<rect x="212.60" y="412.40" width="7.20" height="108.00" fill="none" stroke="#1a1a1a" stroke-width="0.85"/>
<rect x="222.00" y="517.52" width="7.20" height="2.88" fill="#9ca4f0"/>
<rect x="222.00" y="511.10" width="7.20" height="6.42" fill="#0c0ca8"/>
<rect x="222.00" y="500.30" width="7.20" height="10.80" fill="#f8cc98"/>
<rect x="222.00" y="436.40" width="7.20" height="63.90" fill="#ee1010"/>
<rect x="222.00" y="436.40" width="7.20" height="84.00" fill="none" stroke="#1a1a1a" stroke-width="0.85"/>
<rect x="237.80" y="515.60" width="7.20" height="4.80" fill="#9ca4f0"/>
<rect x="237.80" y="503.90" width="7.20" height="11.70" fill="#0c0ca8"/>
<rect x="237.80" y="455.00" width="7.20" height="48.90" fill="#f8cc98"/>
<rect x="237.80" y="448.40" width="7.20" height="6.60" fill="#ee1010"/>
<rect x="237.80" y="448.40" width="7.20" height="72.00" fill="none" stroke="#1a1a1a" stroke-width="0.85"/>
<rect x="247.60" y="515.60" width="7.20" height="4.80" fill="#9ca4f0"/>
<rect x="247.60" y="502.40" width="7.20" height="13.20" fill="#0c0ca8"/>
<rect x="247.60" y="439.40" width="7.20" height="63.00" fill="#f8cc98"/>
<rect x="247.60" y="412.40" width="7.20" height="27.00" fill="#ee1010"/>
<rect x="247.60" y="412.40" width="7.20" height="108.00" fill="none" stroke="#1a1a1a" stroke-width="0.85"/>
<rect x="257.00" y="517.52" width="7.20" height="2.88" fill="#9ca4f0"/>
<rect x="257.00" y="509.30" width="7.20" height="8.22" fill="#0c0ca8"/>
<rect x="257.00" y="480.50" width="7.20" height="28.80" fill="#f8cc98"/>
<rect x="257.00" y="394.40" width="7.20" height="86.10" fill="#ee1010"/>
<rect x="257.00" y="394.40" width="7.20" height="126.00" fill="none" stroke="#1a1a1a" stroke-width="0.85"/>
<rect x="266.90" y="517.52" width="7.20" height="2.88" fill="#9ca4f0"/>
<rect x="266.90" y="511.10" width="7.20" height="6.42" fill="#0c0ca8"/>
<rect x="266.90" y="502.40" width="7.20" height="8.70" fill="#f8cc98"/>
<rect x="266.90" y="430.40" width="7.20" height="72.00" fill="#ee1010"/>
<rect x="266.90" y="430.40" width="7.20" height="90.00" fill="none" stroke="#1a1a1a" stroke-width="0.85"/>
<rect x="285.80" y="519.68" width="7.20" height="0.72" fill="#9ca4f0"/>
<rect x="285.80" y="514.40" width="7.20" height="5.28" fill="#0c0ca8"/>
<rect x="285.80" y="514.40" width="7.20" height="6.00" fill="none" stroke="#1a1a1a" stroke-width="0.85"/>
<rect x="300.30" y="520.07" width="7.20" height="0.33" fill="#9ca4f0"/>
<rect x="300.30" y="517.70" width="7.20" height="2.37" fill="#0c0ca8"/>
<rect x="300.30" y="510.80" width="7.20" height="6.90" fill="#f8cc98"/>
<rect x="300.30" y="509.60" width="7.20" height="1.20" fill="#ee1010"/>
<rect x="300.30" y="509.60" width="7.20" height="10.80" fill="none" stroke="#1a1a1a" stroke-width="0.85"/>
<rect x="310.00" y="519.90" width="7.20" height="0.50" fill="#9ca4f0"/>
<rect x="310.00" y="517.40" width="7.20" height="2.50" fill="#0c0ca8"/>
<rect x="310.00" y="509.60" width="7.20" height="7.80" fill="#f8cc98"/>
<rect x="310.00" y="506.90" width="7.20" height="2.70" fill="#ee1010"/>
<rect x="310.00" y="506.90" width="7.20" height="13.50" fill="none" stroke="#1a1a1a" stroke-width="0.85"/>
<rect x="319.70" y="520.07" width="7.20" height="0.33" fill="#9ca4f0"/>
<rect x="319.70" y="518.30" width="7.20" height="1.77" fill="#0c0ca8"/>
<rect x="319.70" y="508.40" width="7.20" height="9.90" fill="#ee1010"/>
<rect x="319.70" y="508.40" width="7.20" height="12.00" fill="none" stroke="#1a1a1a" stroke-width="0.85"/>
<rect x="335.00" y="519.57" width="7.20" height="0.83" fill="#9ca4f0"/>
<rect x="335.00" y="514.70" width="7.20" height="4.88" fill="#0c0ca8"/>
<rect x="335.00" y="494.30" width="7.20" height="20.40" fill="#f8cc98"/>
<rect x="335.00" y="493.40" width="7.20" height="0.90" fill="#ee1010"/>
<rect x="335.00" y="493.40" width="7.20" height="27.00" fill="none" stroke="#1a1a1a" stroke-width="0.85"/>
<rect x="344.60" y="519.57" width="7.20" height="0.83" fill="#9ca4f0"/>
<rect x="344.60" y="515.30" width="7.20" height="4.27" fill="#0c0ca8"/>
<rect x="344.60" y="486.50" width="7.20" height="28.80" fill="#f8cc98"/>
<rect x="344.60" y="484.40" width="7.20" height="2.10" fill="#ee1010"/>
<rect x="344.60" y="484.40" width="7.20" height="36.00" fill="none" stroke="#1a1a1a" stroke-width="0.85"/>
<rect x="354.30" y="519.57" width="7.20" height="0.83" fill="#9ca4f0"/>
<rect x="354.30" y="514.70" width="7.20" height="4.88" fill="#0c0ca8"/>
<rect x="354.30" y="483.20" width="7.20" height="31.50" fill="#f8cc98"/>
<rect x="354.30" y="472.40" width="7.20" height="10.80" fill="#ee1010"/>
<rect x="354.30" y="472.40" width="7.20" height="48.00" fill="none" stroke="#1a1a1a" stroke-width="0.85"/>
<rect x="363.80" y="519.57" width="7.20" height="0.83" fill="#9ca4f0"/>
<rect x="363.80" y="514.40" width="7.20" height="5.17" fill="#0c0ca8"/>
<rect x="363.80" y="485.90" width="7.20" height="28.50" fill="#f8cc98"/>
<rect x="363.80" y="469.40" width="7.20" height="16.50" fill="#ee1010"/>
<rect x="363.80" y="469.40" width="7.20" height="51.00" fill="none" stroke="#1a1a1a" stroke-width="0.85"/>
<rect x="379.20" y="518.42" width="7.20" height="1.98" fill="#9ca4f0"/>
<rect x="379.20" y="510.80" width="7.20" height="7.62" fill="#0c0ca8"/>
<rect x="379.20" y="483.20" width="7.20" height="27.60" fill="#f8cc98"/>
<rect x="379.20" y="478.40" width="7.20" height="4.80" fill="#ee1010"/>
<rect x="379.20" y="478.40" width="7.20" height="42.00" fill="none" stroke="#1a1a1a" stroke-width="0.85"/>
<rect x="389.00" y="518.75" width="7.20" height="1.65" fill="#9ca4f0"/>
<rect x="389.00" y="510.50" width="7.20" height="8.25" fill="#0c0ca8"/>
<rect x="389.00" y="473.00" width="7.20" height="37.50" fill="#f8cc98"/>
<rect x="389.00" y="467.60" width="7.20" height="5.40" fill="#ee1010"/>
<rect x="389.00" y="467.60" width="7.20" height="52.80" fill="none" stroke="#1a1a1a" stroke-width="0.85"/>
<rect x="398.30" y="519.08" width="7.20" height="1.32" fill="#9ca4f0"/>
<rect x="398.30" y="509.90" width="7.20" height="9.18" fill="#0c0ca8"/>
<rect x="398.30" y="465.50" width="7.20" height="44.40" fill="#f8cc98"/>
<rect x="398.30" y="454.40" width="7.20" height="11.10" fill="#ee1010"/>
<rect x="398.30" y="454.40" width="7.20" height="66.00" fill="none" stroke="#1a1a1a" stroke-width="0.85"/>
<rect x="408.00" y="519.25" width="7.20" height="1.15" fill="#9ca4f0"/>
<rect x="408.00" y="510.50" width="7.20" height="8.75" fill="#0c0ca8"/>
<rect x="408.00" y="469.40" width="7.20" height="41.10" fill="#f8cc98"/>
<rect x="408.00" y="448.40" width="7.20" height="21.00" fill="#ee1010"/>
<rect x="408.00" y="448.40" width="7.20" height="72.00" fill="none" stroke="#1a1a1a" stroke-width="0.85"/>
<rect x="423.60" y="519.08" width="7.20" height="1.32" fill="#9ca4f0"/>
<rect x="423.60" y="509.30" width="7.20" height="9.78" fill="#0c0ca8"/>
<rect x="423.60" y="476.00" width="7.20" height="33.30" fill="#f8cc98"/>
<rect x="423.60" y="472.40" width="7.20" height="3.60" fill="#ee1010"/>
<rect x="423.60" y="472.40" width="7.20" height="48.00" fill="none" stroke="#1a1a1a" stroke-width="0.85"/>
<rect x="433.00" y="519.25" width="7.20" height="1.15" fill="#9ca4f0"/>
<rect x="433.00" y="512.00" width="7.20" height="7.25" fill="#0c0ca8"/>
<rect x="433.00" y="458.30" width="7.20" height="53.70" fill="#f8cc98"/>
<rect x="433.00" y="454.40" width="7.20" height="3.90" fill="#ee1010"/>
<rect x="433.00" y="454.40" width="7.20" height="66.00" fill="none" stroke="#1a1a1a" stroke-width="0.85"/>
<rect x="442.70" y="519.25" width="7.20" height="1.15" fill="#9ca4f0"/>
<rect x="442.70" y="510.50" width="7.20" height="8.75" fill="#0c0ca8"/>
<rect x="442.70" y="455.90" width="7.20" height="54.60" fill="#f8cc98"/>
<rect x="442.70" y="442.40" width="7.20" height="13.50" fill="#ee1010"/>
<rect x="442.70" y="442.40" width="7.20" height="78.00" fill="none" stroke="#1a1a1a" stroke-width="0.85"/>
<rect x="452.20" y="519.25" width="7.20" height="1.15" fill="#9ca4f0"/>
<rect x="452.20" y="509.90" width="7.20" height="9.35" fill="#0c0ca8"/>
<rect x="452.20" y="459.50" width="7.20" height="50.40" fill="#f8cc98"/>
<rect x="452.20" y="439.40" width="7.20" height="20.10" fill="#ee1010"/>
<rect x="452.20" y="439.40" width="7.20" height="81.00" fill="none" stroke="#1a1a1a" stroke-width="0.85"/>
<text x="103.8" y="528.5" font-size="6.8" text-anchor="middle" fill="#000">0</text>
<text x="289.40000000000003" y="528.5" font-size="6.8" text-anchor="middle" fill="#000">0</text>
<text x="117.89999999999999" y="528.5" font-size="6.8" text-anchor="middle" fill="#000">12</text>
<text x="127.39999999999999" y="528.5" font-size="6.8" text-anchor="middle" fill="#000">24</text>
<text x="137.0" y="528.5" font-size="6.8" text-anchor="middle" fill="#000">48</text>
<text x="152.79999999999998" y="528.5" font-size="6.8" text-anchor="middle" fill="#000">12</text>
<text x="162.4" y="528.5" font-size="6.8" text-anchor="middle" fill="#000">24</text>
<text x="171.9" y="528.5" font-size="6.8" text-anchor="middle" fill="#000">48</text>
<text x="181.4" y="528.5" font-size="6.8" text-anchor="middle" fill="#000">72</text>
<text x="196.9" y="528.5" font-size="6.8" text-anchor="middle" fill="#000">12</text>
<text x="206.4" y="528.5" font-size="6.8" text-anchor="middle" fill="#000">24</text>
<text x="216.2" y="528.5" font-size="6.8" text-anchor="middle" fill="#000">48</text>
<text x="225.6" y="528.5" font-size="6.8" text-anchor="middle" fill="#000">72</text>
<text x="241.4" y="528.5" font-size="6.8" text-anchor="middle" fill="#000">12</text>
<text x="251.2" y="528.5" font-size="6.8" text-anchor="middle" fill="#000">24</text>
<text x="260.6" y="528.5" font-size="6.8" text-anchor="middle" fill="#000">48</text>
<text x="270.5" y="528.5" font-size="6.8" text-anchor="middle" fill="#000">72</text>
<text x="303.90000000000003" y="528.5" font-size="6.8" text-anchor="middle" fill="#000">12</text>
<text x="313.6" y="528.5" font-size="6.8" text-anchor="middle" fill="#000">24</text>
<text x="323.3" y="528.5" font-size="6.8" text-anchor="middle" fill="#000">48</text>
<text x="338.6" y="528.5" font-size="6.8" text-anchor="middle" fill="#000">12</text>
<text x="348.20000000000005" y="528.5" font-size="6.8" text-anchor="middle" fill="#000">24</text>
<text x="357.90000000000003" y="528.5" font-size="6.8" text-anchor="middle" fill="#000">48</text>
<text x="367.40000000000003" y="528.5" font-size="6.8" text-anchor="middle" fill="#000">72</text>
<text x="382.8" y="528.5" font-size="6.8" text-anchor="middle" fill="#000">12</text>
<text x="392.6" y="528.5" font-size="6.8" text-anchor="middle" fill="#000">24</text>
<text x="401.90000000000003" y="528.5" font-size="6.8" text-anchor="middle" fill="#000">48</text>
<text x="411.6" y="528.5" font-size="6.8" text-anchor="middle" fill="#000">72</text>
<text x="427.20000000000005" y="528.5" font-size="6.8" text-anchor="middle" fill="#000">12</text>
<text x="436.6" y="528.5" font-size="6.8" text-anchor="middle" fill="#000">24</text>
<text x="446.3" y="528.5" font-size="6.8" text-anchor="middle" fill="#000">48</text>
<text x="455.8" y="528.5" font-size="6.8" text-anchor="middle" fill="#000">72</text>
<text x="459.40000000000003" y="528.5" font-size="6.8" fill="#000">h</text>
<text x="129.1" y="538.5" font-size="7.6" text-anchor="middle" fill="#000">0 U/mL.</text>
<text x="168.5" y="538.5" font-size="7.6" text-anchor="middle" fill="#000">0.2 U/mL.</text>
<text x="213.5" y="538.5" font-size="7.6" text-anchor="middle" fill="#000">2 U/mL.</text>
<text x="257.5" y="538.5" font-size="7.6" text-anchor="middle" fill="#000">20 U/mL.</text>
<text x="316.0" y="538.5" font-size="7.6" text-anchor="middle" fill="#000">0 U/mL.</text>
<text x="356.0" y="538.5" font-size="7.6" text-anchor="middle" fill="#000">0.2 U/mL.</text>
<text x="399.5" y="538.5" font-size="7.6" text-anchor="middle" fill="#000">2 U/mL.</text>
<text x="445.0" y="538.5" font-size="7.6" text-anchor="middle" fill="#000">20 U/mL. Epo</text>
<text x="187" y="550.5" font-size="9" text-anchor="middle"><tspan font-style="italic">Sox6</tspan> control</text>
<text x="374" y="550.5" font-size="9" text-anchor="middle"><tspan font-style="italic">Sox6</tspan> null</text>
</svg></body></html>
